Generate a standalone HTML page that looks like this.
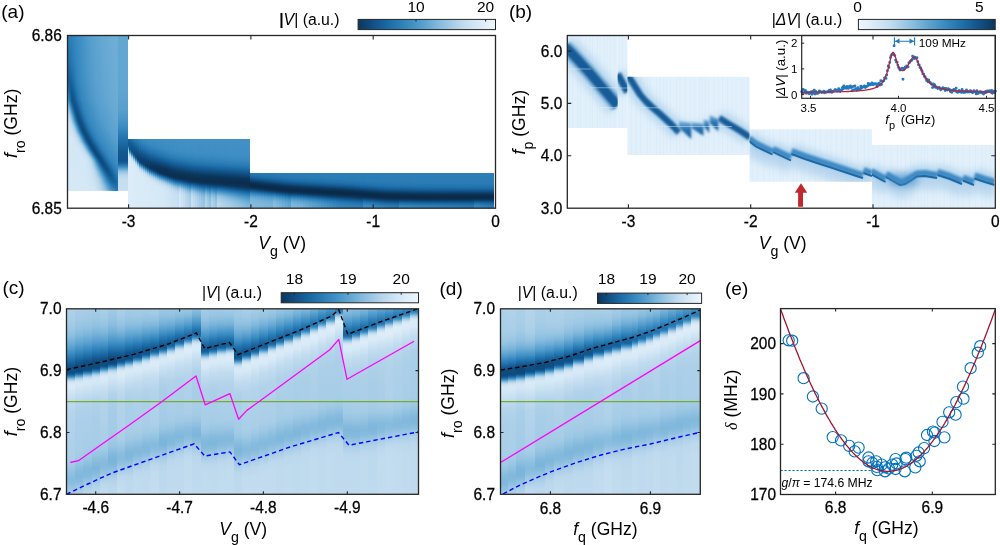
<!DOCTYPE html><html><head><meta charset="utf-8"><style>html,body{margin:0;padding:0;background:#fff;overflow:hidden}svg{display:block;will-change:transform}text.t{stroke:#000;stroke-width:0.28px}</style></head><body><svg width="1000" height="545" viewBox="0 0 1000 545" font-family='"Liberation Sans", sans-serif' fill="#000"><defs><linearGradient id="g1" x1="0" y1="0" x2="0" y2="1"><stop offset="0.0000" stop-color="#2a7cb5"/><stop offset="0.2194" stop-color="#1c6aa4"/><stop offset="0.2839" stop-color="#1d6ba6"/><stop offset="0.3097" stop-color="#2172ad"/><stop offset="0.3677" stop-color="#3a8cc2"/><stop offset="0.4194" stop-color="#60a4d1"/><stop offset="0.4516" stop-color="#92c2e1"/><stop offset="0.4774" stop-color="#afd1e9"/><stop offset="0.4968" stop-color="#bed9ee"/><stop offset="0.5355" stop-color="#cce2f3"/><stop offset="0.5806" stop-color="#d2e6f5"/><stop offset="0.6323" stop-color="#d4e8f6"/><stop offset="1.0000" stop-color="#d5e8f6"/></linearGradient><linearGradient id="g2" x1="0" y1="0" x2="0" y2="1"><stop offset="0.0000" stop-color="#2b7cb5"/><stop offset="0.1419" stop-color="#2071ac"/><stop offset="0.2645" stop-color="#19639d"/><stop offset="0.2903" stop-color="#18639d"/><stop offset="0.3226" stop-color="#1c6ba5"/><stop offset="0.3742" stop-color="#2d7fb7"/><stop offset="0.4000" stop-color="#398bc2"/><stop offset="0.4194" stop-color="#4795c7"/><stop offset="0.4645" stop-color="#8ebfe0"/><stop offset="0.4839" stop-color="#a5cce7"/><stop offset="0.5097" stop-color="#bdd8ed"/><stop offset="0.5355" stop-color="#c7dff1"/><stop offset="0.5806" stop-color="#d1e5f4"/><stop offset="0.6323" stop-color="#d4e8f6"/><stop offset="1.0000" stop-color="#d5e8f6"/></linearGradient><linearGradient id="g3" x1="0" y1="0" x2="0" y2="1"><stop offset="0.0000" stop-color="#2c7eb6"/><stop offset="0.1613" stop-color="#2071ac"/><stop offset="0.2968" stop-color="#155e97"/><stop offset="0.3290" stop-color="#166099"/><stop offset="0.3613" stop-color="#1b67a1"/><stop offset="0.3871" stop-color="#2071ac"/><stop offset="0.4194" stop-color="#2e7fb8"/><stop offset="0.4323" stop-color="#398bc1"/><stop offset="0.4839" stop-color="#8bbedf"/><stop offset="0.5097" stop-color="#aacfe8"/><stop offset="0.5290" stop-color="#bcd8ed"/><stop offset="0.5742" stop-color="#cde3f3"/><stop offset="0.6516" stop-color="#d4e8f6"/><stop offset="1.0000" stop-color="#d5e8f6"/></linearGradient><linearGradient id="g4" x1="0" y1="0" x2="0" y2="1"><stop offset="0.0000" stop-color="#2d7fb7"/><stop offset="0.1613" stop-color="#2374ae"/><stop offset="0.3290" stop-color="#145b93"/><stop offset="0.3613" stop-color="#145b94"/><stop offset="0.3935" stop-color="#18629b"/><stop offset="0.4194" stop-color="#1d6ba6"/><stop offset="0.4387" stop-color="#2b7cb5"/><stop offset="0.4581" stop-color="#4090c4"/><stop offset="0.5097" stop-color="#92c2e1"/><stop offset="0.5290" stop-color="#a8cee7"/><stop offset="0.5548" stop-color="#bdd9ed"/><stop offset="0.5871" stop-color="#cce2f3"/><stop offset="0.6645" stop-color="#d4e8f6"/><stop offset="1.0000" stop-color="#d5e8f6"/></linearGradient><linearGradient id="g5" x1="0" y1="0" x2="0" y2="1"><stop offset="0.0000" stop-color="#2f80b8"/><stop offset="0.1613" stop-color="#2677b1"/><stop offset="0.2129" stop-color="#2071ac"/><stop offset="0.3613" stop-color="#125890"/><stop offset="0.4129" stop-color="#135a92"/><stop offset="0.4258" stop-color="#165f99"/><stop offset="0.4452" stop-color="#1f6fa9"/><stop offset="0.4710" stop-color="#3587be"/><stop offset="0.4774" stop-color="#3d8ec3"/><stop offset="0.5355" stop-color="#98c5e3"/><stop offset="0.5677" stop-color="#bad7ec"/><stop offset="0.6000" stop-color="#cbe1f2"/><stop offset="0.6645" stop-color="#d4e7f6"/><stop offset="1.0000" stop-color="#d5e8f6"/></linearGradient><linearGradient id="g6" x1="0" y1="0" x2="0" y2="1"><stop offset="0.0000" stop-color="#3082ba"/><stop offset="0.1548" stop-color="#2a7bb5"/><stop offset="0.2194" stop-color="#2374af"/><stop offset="0.2839" stop-color="#1d6ba5"/><stop offset="0.3806" stop-color="#12578f"/><stop offset="0.4129" stop-color="#10538b"/><stop offset="0.4258" stop-color="#11558d"/><stop offset="0.4452" stop-color="#155e97"/><stop offset="0.4645" stop-color="#1d6ca7"/><stop offset="0.4968" stop-color="#3a8cc2"/><stop offset="0.5355" stop-color="#78b3d9"/><stop offset="0.5742" stop-color="#afd1e9"/><stop offset="0.5871" stop-color="#bdd8ed"/><stop offset="0.6065" stop-color="#c6dff1"/><stop offset="0.6387" stop-color="#d0e5f4"/><stop offset="0.6710" stop-color="#d4e7f5"/><stop offset="1.0000" stop-color="#d5e8f6"/></linearGradient><linearGradient id="g7" x1="0" y1="0" x2="0" y2="1"><stop offset="0.0000" stop-color="#3283bb"/><stop offset="0.1548" stop-color="#2d7fb7"/><stop offset="0.2516" stop-color="#2475b0"/><stop offset="0.2903" stop-color="#1f70ab"/><stop offset="0.4258" stop-color="#10528a"/><stop offset="0.4516" stop-color="#11568e"/><stop offset="0.4710" stop-color="#176099"/><stop offset="0.4903" stop-color="#2070ab"/><stop offset="0.5161" stop-color="#388ac0"/><stop offset="0.5484" stop-color="#67a9d3"/><stop offset="0.5677" stop-color="#8ebfe0"/><stop offset="0.5935" stop-color="#b3d3ea"/><stop offset="0.6065" stop-color="#bed9ee"/><stop offset="0.6387" stop-color="#cce3f3"/><stop offset="0.6645" stop-color="#d2e6f5"/><stop offset="0.7097" stop-color="#d4e8f6"/><stop offset="1.0000" stop-color="#d5e8f6"/></linearGradient><linearGradient id="g8" x1="0" y1="0" x2="0" y2="1"><stop offset="0.0000" stop-color="#3385bc"/><stop offset="0.1613" stop-color="#3081b9"/><stop offset="0.2839" stop-color="#2677b1"/><stop offset="0.3226" stop-color="#1f6faa"/><stop offset="0.4452" stop-color="#105288"/><stop offset="0.4581" stop-color="#105187"/><stop offset="0.4710" stop-color="#10548c"/><stop offset="0.4903" stop-color="#165e97"/><stop offset="0.5097" stop-color="#1e6ea9"/><stop offset="0.5419" stop-color="#3c8ec3"/><stop offset="0.5548" stop-color="#519bcb"/><stop offset="0.5871" stop-color="#93c3e1"/><stop offset="0.6000" stop-color="#a6cde7"/><stop offset="0.6258" stop-color="#bfdaee"/><stop offset="0.6452" stop-color="#cae1f2"/><stop offset="0.6645" stop-color="#d0e5f4"/><stop offset="0.7097" stop-color="#d4e7f6"/><stop offset="1.0000" stop-color="#d5e8f6"/></linearGradient><linearGradient id="g9" x1="0" y1="0" x2="0" y2="1"><stop offset="0.0000" stop-color="#3587be"/><stop offset="0.1613" stop-color="#3284bc"/><stop offset="0.2839" stop-color="#2b7cb5"/><stop offset="0.3548" stop-color="#1f6faa"/><stop offset="0.4645" stop-color="#105187"/><stop offset="0.4774" stop-color="#0f5086"/><stop offset="0.4968" stop-color="#11558d"/><stop offset="0.5290" stop-color="#1d6ca6"/><stop offset="0.5484" stop-color="#2c7eb7"/><stop offset="0.5613" stop-color="#3d8ec3"/><stop offset="0.6000" stop-color="#8dbfdf"/><stop offset="0.6065" stop-color="#96c4e2"/><stop offset="0.6323" stop-color="#bad7ec"/><stop offset="0.6581" stop-color="#cae1f2"/><stop offset="0.7226" stop-color="#d4e8f6"/><stop offset="1.0000" stop-color="#d5e8f6"/></linearGradient><linearGradient id="g10" x1="0" y1="0" x2="0" y2="1"><stop offset="0.0000" stop-color="#3789bf"/><stop offset="0.1613" stop-color="#3586bd"/><stop offset="0.2903" stop-color="#2e80b8"/><stop offset="0.3806" stop-color="#2071ac"/><stop offset="0.4129" stop-color="#1b68a3"/><stop offset="0.4516" stop-color="#125891"/><stop offset="0.4839" stop-color="#0f5085"/><stop offset="0.5032" stop-color="#0f5085"/><stop offset="0.5161" stop-color="#10538b"/><stop offset="0.5419" stop-color="#19649d"/><stop offset="0.5548" stop-color="#2071ac"/><stop offset="0.5613" stop-color="#2779b2"/><stop offset="0.5806" stop-color="#4392c6"/><stop offset="0.6000" stop-color="#6aabd5"/><stop offset="0.6323" stop-color="#a7cde7"/><stop offset="0.6452" stop-color="#bad7ec"/><stop offset="0.6645" stop-color="#c7dff1"/><stop offset="0.6968" stop-color="#d1e5f4"/><stop offset="0.7290" stop-color="#d4e7f6"/><stop offset="1.0000" stop-color="#d5e8f6"/></linearGradient><linearGradient id="g11" x1="0" y1="0" x2="0" y2="1"><stop offset="0.0000" stop-color="#388ac1"/><stop offset="0.1935" stop-color="#3688be"/><stop offset="0.3226" stop-color="#2e80b8"/><stop offset="0.4129" stop-color="#2071ac"/><stop offset="0.4710" stop-color="#125891"/><stop offset="0.5097" stop-color="#0f4e83"/><stop offset="0.5226" stop-color="#0f4e83"/><stop offset="0.5419" stop-color="#10558d"/><stop offset="0.5548" stop-color="#165e97"/><stop offset="0.5677" stop-color="#1d6ca7"/><stop offset="0.5935" stop-color="#3c8dc3"/><stop offset="0.6129" stop-color="#5fa4d1"/><stop offset="0.6387" stop-color="#9cc7e4"/><stop offset="0.6581" stop-color="#bad7ec"/><stop offset="0.6903" stop-color="#cbe2f2"/><stop offset="0.7161" stop-color="#d2e6f5"/><stop offset="0.7484" stop-color="#d4e8f6"/><stop offset="1.0000" stop-color="#d5e8f6"/></linearGradient><linearGradient id="g12" x1="0" y1="0" x2="0" y2="1"><stop offset="0.0000" stop-color="#3a8cc2"/><stop offset="0.2774" stop-color="#3587be"/><stop offset="0.3677" stop-color="#2d7fb7"/><stop offset="0.4129" stop-color="#2677b1"/><stop offset="0.4323" stop-color="#2070ab"/><stop offset="0.4968" stop-color="#11558e"/><stop offset="0.5226" stop-color="#0f4e83"/><stop offset="0.5419" stop-color="#0f4d81"/><stop offset="0.5548" stop-color="#105188"/><stop offset="0.5677" stop-color="#145a93"/><stop offset="0.5871" stop-color="#1f70aa"/><stop offset="0.6065" stop-color="#3688bf"/><stop offset="0.6129" stop-color="#3f90c4"/><stop offset="0.6452" stop-color="#8fc0e0"/><stop offset="0.6581" stop-color="#a7cde7"/><stop offset="0.6710" stop-color="#b8d6ec"/><stop offset="0.6968" stop-color="#c9e1f2"/><stop offset="0.7226" stop-color="#d1e6f5"/><stop offset="0.7548" stop-color="#d4e7f6"/><stop offset="1.0000" stop-color="#d5e8f6"/></linearGradient><linearGradient id="g13" x1="0" y1="0" x2="0" y2="1"><stop offset="0.0000" stop-color="#3d8ec3"/><stop offset="0.2774" stop-color="#3789c0"/><stop offset="0.3935" stop-color="#2e80b8"/><stop offset="0.4516" stop-color="#2070ab"/><stop offset="0.5161" stop-color="#11558d"/><stop offset="0.5484" stop-color="#0f4c80"/><stop offset="0.5613" stop-color="#0f4d80"/><stop offset="0.5742" stop-color="#105289"/><stop offset="0.6000" stop-color="#1d6ba5"/><stop offset="0.6129" stop-color="#297ab4"/><stop offset="0.6258" stop-color="#3e8ec4"/><stop offset="0.6516" stop-color="#7fb7db"/><stop offset="0.6645" stop-color="#9cc7e4"/><stop offset="0.6903" stop-color="#bed9ee"/><stop offset="0.7097" stop-color="#cae1f2"/><stop offset="0.7290" stop-color="#d1e5f4"/><stop offset="0.7677" stop-color="#d4e8f6"/><stop offset="1.0000" stop-color="#d5e8f6"/></linearGradient><linearGradient id="g14" x1="0" y1="0" x2="0" y2="1"><stop offset="0.0000" stop-color="#3f8fc4"/><stop offset="0.2774" stop-color="#398bc1"/><stop offset="0.4065" stop-color="#3182ba"/><stop offset="0.4710" stop-color="#2071ac"/><stop offset="0.5355" stop-color="#10558d"/><stop offset="0.5613" stop-color="#0f4c80"/><stop offset="0.5806" stop-color="#0f4d80"/><stop offset="0.5935" stop-color="#10548c"/><stop offset="0.6129" stop-color="#1a66a0"/><stop offset="0.6258" stop-color="#2879b3"/><stop offset="0.6387" stop-color="#3e8ec3"/><stop offset="0.6710" stop-color="#8cbfdf"/><stop offset="0.6968" stop-color="#b9d6ec"/><stop offset="0.7161" stop-color="#c8e0f1"/><stop offset="0.7355" stop-color="#cfe4f4"/><stop offset="0.7742" stop-color="#d4e7f6"/><stop offset="1.0000" stop-color="#d5e8f6"/></linearGradient><linearGradient id="g15" x1="0" y1="0" x2="0" y2="1"><stop offset="0.0000" stop-color="#4291c5"/><stop offset="0.2774" stop-color="#3c8dc3"/><stop offset="0.4129" stop-color="#3385bc"/><stop offset="0.4903" stop-color="#2071ac"/><stop offset="0.5548" stop-color="#10538b"/><stop offset="0.5806" stop-color="#0f4b7d"/><stop offset="0.5935" stop-color="#0f4b7e"/><stop offset="0.6065" stop-color="#105187"/><stop offset="0.6258" stop-color="#1a659f"/><stop offset="0.6387" stop-color="#2879b3"/><stop offset="0.6516" stop-color="#3e8ec3"/><stop offset="0.6645" stop-color="#5da3d0"/><stop offset="0.6968" stop-color="#a7cde7"/><stop offset="0.7097" stop-color="#bcd8ed"/><stop offset="0.7290" stop-color="#c9e1f2"/><stop offset="0.7806" stop-color="#d4e7f6"/><stop offset="1.0000" stop-color="#d5e8f6"/></linearGradient><linearGradient id="g16" x1="0" y1="0" x2="0" y2="1"><stop offset="0.0000" stop-color="#4493c6"/><stop offset="0.2774" stop-color="#3e8fc4"/><stop offset="0.4129" stop-color="#3688bf"/><stop offset="0.4645" stop-color="#2d7fb7"/><stop offset="0.5097" stop-color="#2071ac"/><stop offset="0.5677" stop-color="#10548c"/><stop offset="0.5935" stop-color="#0f4b7d"/><stop offset="0.6065" stop-color="#0f4a7c"/><stop offset="0.6194" stop-color="#0f4f85"/><stop offset="0.6323" stop-color="#155d95"/><stop offset="0.6452" stop-color="#1f6faa"/><stop offset="0.6581" stop-color="#3284bb"/><stop offset="0.6774" stop-color="#59a0ce"/><stop offset="0.6968" stop-color="#90c1e0"/><stop offset="0.7097" stop-color="#abcfe8"/><stop offset="0.7226" stop-color="#bed9ee"/><stop offset="0.7355" stop-color="#c7dff1"/><stop offset="0.7613" stop-color="#d0e5f4"/><stop offset="0.7871" stop-color="#d4e7f5"/><stop offset="1.0000" stop-color="#d5e8f6"/></linearGradient><linearGradient id="g17" x1="0" y1="0" x2="0" y2="1"><stop offset="0.0000" stop-color="#4794c7"/><stop offset="0.2774" stop-color="#4190c5"/><stop offset="0.4129" stop-color="#388ac0"/><stop offset="0.4774" stop-color="#2f80b9"/><stop offset="0.5290" stop-color="#2071ac"/><stop offset="0.5806" stop-color="#10558d"/><stop offset="0.6129" stop-color="#0f497b"/><stop offset="0.6258" stop-color="#0f4b7e"/><stop offset="0.6323" stop-color="#0f4f84"/><stop offset="0.6452" stop-color="#155c95"/><stop offset="0.6581" stop-color="#1f6faa"/><stop offset="0.6774" stop-color="#3a8cc2"/><stop offset="0.7032" stop-color="#84badc"/><stop offset="0.7161" stop-color="#a2cbe6"/><stop offset="0.7290" stop-color="#b9d6ec"/><stop offset="0.7548" stop-color="#cbe1f2"/><stop offset="0.8000" stop-color="#d4e7f6"/><stop offset="1.0000" stop-color="#d5e8f6"/></linearGradient><linearGradient id="g18" x1="0" y1="0" x2="0" y2="1"><stop offset="0.0000" stop-color="#4996c8"/><stop offset="0.2839" stop-color="#4392c6"/><stop offset="0.4581" stop-color="#3587be"/><stop offset="0.5032" stop-color="#2e7fb8"/><stop offset="0.5419" stop-color="#2374ae"/><stop offset="0.5935" stop-color="#11568e"/><stop offset="0.6194" stop-color="#0f4a7c"/><stop offset="0.6323" stop-color="#0f497b"/><stop offset="0.6452" stop-color="#0f4f84"/><stop offset="0.6581" stop-color="#155c95"/><stop offset="0.6774" stop-color="#2677b1"/><stop offset="0.6903" stop-color="#3e8fc4"/><stop offset="0.7161" stop-color="#8abdde"/><stop offset="0.7290" stop-color="#a7cde7"/><stop offset="0.7419" stop-color="#bad7ec"/><stop offset="0.7613" stop-color="#c9e0f2"/><stop offset="0.8000" stop-color="#d3e7f5"/><stop offset="1.0000" stop-color="#d5e8f6"/></linearGradient><linearGradient id="g19" x1="0" y1="0" x2="0" y2="1"><stop offset="0.0000" stop-color="#4b97c9"/><stop offset="0.2839" stop-color="#4593c7"/><stop offset="0.4065" stop-color="#3d8ec3"/><stop offset="0.4774" stop-color="#3587be"/><stop offset="0.5355" stop-color="#2b7cb5"/><stop offset="0.5613" stop-color="#2071ac"/><stop offset="0.6129" stop-color="#10538a"/><stop offset="0.6323" stop-color="#0f4a7c"/><stop offset="0.6452" stop-color="#0f497a"/><stop offset="0.6581" stop-color="#0f4f84"/><stop offset="0.6774" stop-color="#19649e"/><stop offset="0.6903" stop-color="#297ab4"/><stop offset="0.7032" stop-color="#4493c6"/><stop offset="0.7290" stop-color="#8fc0e0"/><stop offset="0.7355" stop-color="#9dc8e4"/><stop offset="0.7548" stop-color="#bdd8ed"/><stop offset="0.7677" stop-color="#c7dff1"/><stop offset="0.7871" stop-color="#cfe4f4"/><stop offset="0.8065" stop-color="#d3e7f5"/><stop offset="1.0000" stop-color="#d5e8f6"/></linearGradient><linearGradient id="g20" x1="0" y1="0" x2="0" y2="1"><stop offset="0.0000" stop-color="#4d99ca"/><stop offset="0.2839" stop-color="#4895c7"/><stop offset="0.4129" stop-color="#3f8fc4"/><stop offset="0.4968" stop-color="#3587be"/><stop offset="0.5419" stop-color="#2e7fb8"/><stop offset="0.5742" stop-color="#2273ad"/><stop offset="0.6194" stop-color="#11568f"/><stop offset="0.6452" stop-color="#0f4a7c"/><stop offset="0.6581" stop-color="#0e497a"/><stop offset="0.6710" stop-color="#0f4f83"/><stop offset="0.6839" stop-color="#155d96"/><stop offset="0.6968" stop-color="#2273ad"/><stop offset="0.7097" stop-color="#398bc1"/><stop offset="0.7226" stop-color="#5ca2d0"/><stop offset="0.7355" stop-color="#82b9dc"/><stop offset="0.7548" stop-color="#add0e9"/><stop offset="0.7677" stop-color="#bfdaee"/><stop offset="0.7806" stop-color="#c9e0f2"/><stop offset="0.8065" stop-color="#d1e6f5"/><stop offset="1.0000" stop-color="#d4e8f6"/></linearGradient><linearGradient id="g21" x1="0" y1="0" x2="0" y2="1"><stop offset="0.0000" stop-color="#509acb"/><stop offset="0.2839" stop-color="#4a96c8"/><stop offset="0.4065" stop-color="#4291c5"/><stop offset="0.5161" stop-color="#3587be"/><stop offset="0.5484" stop-color="#3082ba"/><stop offset="0.5935" stop-color="#2071ac"/><stop offset="0.6323" stop-color="#11568f"/><stop offset="0.6581" stop-color="#0f4a7c"/><stop offset="0.6710" stop-color="#0e497a"/><stop offset="0.6839" stop-color="#0f4f85"/><stop offset="0.6968" stop-color="#176099"/><stop offset="0.7097" stop-color="#2576b0"/><stop offset="0.7226" stop-color="#3e8fc4"/><stop offset="0.7484" stop-color="#87bbdd"/><stop offset="0.7613" stop-color="#a6cce7"/><stop offset="0.7742" stop-color="#bcd8ed"/><stop offset="0.7871" stop-color="#c7dff1"/><stop offset="0.8000" stop-color="#cde3f3"/><stop offset="0.8258" stop-color="#d0e5f4"/><stop offset="1.0000" stop-color="#d4e8f6"/></linearGradient><linearGradient id="g22" x1="0" y1="0" x2="0" y2="1"><stop offset="0.0000" stop-color="#529bcb"/><stop offset="0.2839" stop-color="#4c98c9"/><stop offset="0.4065" stop-color="#4593c6"/><stop offset="0.5290" stop-color="#3688bf"/><stop offset="0.5742" stop-color="#2d7fb7"/><stop offset="0.6065" stop-color="#2172ad"/><stop offset="0.6452" stop-color="#11568e"/><stop offset="0.6710" stop-color="#0f4a7b"/><stop offset="0.6839" stop-color="#0e497a"/><stop offset="0.6968" stop-color="#105288"/><stop offset="0.7161" stop-color="#1f6ea9"/><stop offset="0.7290" stop-color="#3586bd"/><stop offset="0.7419" stop-color="#549dcc"/><stop offset="0.7613" stop-color="#8fc0e0"/><stop offset="0.7677" stop-color="#9fc9e5"/><stop offset="0.7806" stop-color="#b7d6ec"/><stop offset="0.7935" stop-color="#c4ddf0"/><stop offset="0.8065" stop-color="#cbe1f2"/><stop offset="0.8452" stop-color="#cfe4f4"/><stop offset="1.0000" stop-color="#d4e8f6"/></linearGradient><linearGradient id="g23" x1="0" y1="0" x2="0" y2="1"><stop offset="0.0000" stop-color="#539dcc"/><stop offset="0.2839" stop-color="#4e99ca"/><stop offset="0.4065" stop-color="#4795c7"/><stop offset="0.5419" stop-color="#3789c0"/><stop offset="0.5871" stop-color="#2e7fb8"/><stop offset="0.6129" stop-color="#2475af"/><stop offset="0.6581" stop-color="#11568e"/><stop offset="0.6839" stop-color="#0f497a"/><stop offset="0.6968" stop-color="#0f497b"/><stop offset="0.7032" stop-color="#0f4d81"/><stop offset="0.7097" stop-color="#10548c"/><stop offset="0.7226" stop-color="#1a67a1"/><stop offset="0.7290" stop-color="#2172ad"/><stop offset="0.7419" stop-color="#3789c0"/><stop offset="0.7742" stop-color="#97c4e2"/><stop offset="0.7871" stop-color="#b2d3ea"/><stop offset="0.8000" stop-color="#c2dcef"/><stop offset="0.8258" stop-color="#cae1f2"/><stop offset="0.8710" stop-color="#cfe4f4"/><stop offset="1.0000" stop-color="#d4e7f6"/></linearGradient><linearGradient id="g24" x1="0" y1="0" x2="0" y2="1"><stop offset="0.0000" stop-color="#559ecd"/><stop offset="0.2839" stop-color="#509bcb"/><stop offset="0.4065" stop-color="#4996c8"/><stop offset="0.5419" stop-color="#398bc1"/><stop offset="0.6000" stop-color="#2f80b8"/><stop offset="0.6258" stop-color="#2374af"/><stop offset="0.6710" stop-color="#11568e"/><stop offset="0.6839" stop-color="#0f4d81"/><stop offset="0.6968" stop-color="#0e4879"/><stop offset="0.7097" stop-color="#0f4a7c"/><stop offset="0.7161" stop-color="#0f4f84"/><stop offset="0.7355" stop-color="#1c6aa4"/><stop offset="0.7484" stop-color="#3082b9"/><stop offset="0.7548" stop-color="#3e8fc4"/><stop offset="0.7806" stop-color="#8ec0e0"/><stop offset="0.7871" stop-color="#9ec8e4"/><stop offset="0.8000" stop-color="#b7d5ec"/><stop offset="0.8065" stop-color="#bdd9ed"/><stop offset="0.8323" stop-color="#c6def1"/><stop offset="0.8774" stop-color="#cee3f3"/><stop offset="1.0000" stop-color="#d4e7f5"/></linearGradient><linearGradient id="g25" x1="0" y1="0" x2="0" y2="1"><stop offset="0.0000" stop-color="#579fce"/><stop offset="0.2839" stop-color="#529ccc"/><stop offset="0.4065" stop-color="#4c98c9"/><stop offset="0.5484" stop-color="#3a8cc2"/><stop offset="0.6000" stop-color="#3284bc"/><stop offset="0.6387" stop-color="#2374af"/><stop offset="0.6839" stop-color="#10548b"/><stop offset="0.6968" stop-color="#0f4c7f"/><stop offset="0.7097" stop-color="#0e4879"/><stop offset="0.7161" stop-color="#0e4879"/><stop offset="0.7290" stop-color="#105187"/><stop offset="0.7419" stop-color="#18629c"/><stop offset="0.7548" stop-color="#297bb4"/><stop offset="0.7613" stop-color="#3688be"/><stop offset="0.7742" stop-color="#5aa1cf"/><stop offset="0.7871" stop-color="#84badd"/><stop offset="0.8000" stop-color="#a5cce6"/><stop offset="0.8065" stop-color="#aed1e9"/><stop offset="0.8194" stop-color="#b9d7ec"/><stop offset="0.8387" stop-color="#c2dcef"/><stop offset="0.8774" stop-color="#cbe2f2"/><stop offset="1.0000" stop-color="#d3e7f5"/></linearGradient><linearGradient id="g26" x1="0" y1="0" x2="0" y2="1"><stop offset="0.0000" stop-color="#59a0ce"/><stop offset="0.2774" stop-color="#559dcd"/><stop offset="0.4065" stop-color="#4e99ca"/><stop offset="0.5806" stop-color="#388ac0"/><stop offset="0.6258" stop-color="#2e80b8"/><stop offset="0.6581" stop-color="#2071ac"/><stop offset="0.6903" stop-color="#12578f"/><stop offset="0.7161" stop-color="#0e4879"/><stop offset="0.7290" stop-color="#0f497a"/><stop offset="0.7355" stop-color="#0f4d80"/><stop offset="0.7484" stop-color="#155c95"/><stop offset="0.7613" stop-color="#2374ae"/><stop offset="0.7742" stop-color="#3d8ec3"/><stop offset="0.7871" stop-color="#64a7d3"/><stop offset="0.8000" stop-color="#8dbfe0"/><stop offset="0.8065" stop-color="#9ac6e3"/><stop offset="0.8323" stop-color="#b4d4eb"/><stop offset="0.8452" stop-color="#bdd8ed"/><stop offset="0.8774" stop-color="#c7dff1"/><stop offset="0.9226" stop-color="#cee4f3"/><stop offset="1.0000" stop-color="#d3e7f5"/></linearGradient><linearGradient id="g27" x1="0" y1="0" x2="0" y2="1"><stop offset="0.0000" stop-color="#5aa1cf"/><stop offset="0.2774" stop-color="#569ecd"/><stop offset="0.4065" stop-color="#509acb"/><stop offset="0.5935" stop-color="#388ac1"/><stop offset="0.6323" stop-color="#3082ba"/><stop offset="0.6645" stop-color="#2374af"/><stop offset="0.7032" stop-color="#11558d"/><stop offset="0.7161" stop-color="#0f4c80"/><stop offset="0.7290" stop-color="#0e4878"/><stop offset="0.7419" stop-color="#0f4a7c"/><stop offset="0.7484" stop-color="#0f4f84"/><stop offset="0.7613" stop-color="#17619a"/><stop offset="0.7742" stop-color="#287ab3"/><stop offset="0.7871" stop-color="#4694c7"/><stop offset="0.8000" stop-color="#6fadd6"/><stop offset="0.8065" stop-color="#80b7db"/><stop offset="0.8194" stop-color="#95c4e2"/><stop offset="0.8452" stop-color="#b0d2ea"/><stop offset="0.8710" stop-color="#c0daee"/><stop offset="0.9161" stop-color="#cbe1f2"/><stop offset="1.0000" stop-color="#d2e6f5"/></linearGradient><linearGradient id="g28" x1="0" y1="0" x2="0" y2="1"><stop offset="0.0000" stop-color="#5ca2d0"/><stop offset="0.2774" stop-color="#589fce"/><stop offset="0.4065" stop-color="#529ccc"/><stop offset="0.6000" stop-color="#398bc1"/><stop offset="0.6645" stop-color="#297ab4"/><stop offset="0.6774" stop-color="#2172ad"/><stop offset="0.7097" stop-color="#125891"/><stop offset="0.7355" stop-color="#0e497a"/><stop offset="0.7484" stop-color="#0e4879"/><stop offset="0.7548" stop-color="#0f4c7f"/><stop offset="0.7677" stop-color="#145b94"/><stop offset="0.7806" stop-color="#2273ae"/><stop offset="0.7935" stop-color="#3c8dc3"/><stop offset="0.8065" stop-color="#60a5d1"/><stop offset="0.8194" stop-color="#7bb5da"/><stop offset="0.8323" stop-color="#91c1e1"/><stop offset="0.8710" stop-color="#b7d5ec"/><stop offset="0.9161" stop-color="#c7dff1"/><stop offset="1.0000" stop-color="#d1e6f5"/></linearGradient><linearGradient id="g29" x1="0" y1="0" x2="0" y2="1"><stop offset="0.0000" stop-color="#5da3d0"/><stop offset="0.2774" stop-color="#5aa1cf"/><stop offset="0.4065" stop-color="#549dcc"/><stop offset="0.5355" stop-color="#4694c7"/><stop offset="0.6065" stop-color="#3a8cc2"/><stop offset="0.6516" stop-color="#3283bb"/><stop offset="0.6774" stop-color="#2879b2"/><stop offset="0.6903" stop-color="#2070ab"/><stop offset="0.7226" stop-color="#11568f"/><stop offset="0.7484" stop-color="#0e4878"/><stop offset="0.7613" stop-color="#0f497b"/><stop offset="0.7677" stop-color="#0f4e83"/><stop offset="0.7742" stop-color="#11568e"/><stop offset="0.7871" stop-color="#1e6da7"/><stop offset="0.8065" stop-color="#4392c6"/><stop offset="0.8323" stop-color="#77b2d9"/><stop offset="0.8452" stop-color="#8cbfdf"/><stop offset="0.8774" stop-color="#afd1e9"/><stop offset="0.9161" stop-color="#c3dcef"/><stop offset="1.0000" stop-color="#d0e5f4"/></linearGradient><linearGradient id="g30" x1="0" y1="0" x2="0" y2="1"><stop offset="0.0000" stop-color="#5fa4d1"/><stop offset="0.2774" stop-color="#5ba2cf"/><stop offset="0.4065" stop-color="#569ecd"/><stop offset="0.5355" stop-color="#4895c8"/><stop offset="0.6065" stop-color="#3d8ec3"/><stop offset="0.6581" stop-color="#3385bc"/><stop offset="0.6774" stop-color="#2d7eb7"/><stop offset="0.7032" stop-color="#1f6faa"/><stop offset="0.7355" stop-color="#10548d"/><stop offset="0.7548" stop-color="#0e497a"/><stop offset="0.7677" stop-color="#0e4878"/><stop offset="0.7742" stop-color="#0f4b7e"/><stop offset="0.7806" stop-color="#105289"/><stop offset="0.7935" stop-color="#1a67a1"/><stop offset="0.8000" stop-color="#2273ae"/><stop offset="0.8129" stop-color="#3788bf"/><stop offset="0.8516" stop-color="#7eb7db"/><stop offset="0.8774" stop-color="#a1cae5"/><stop offset="0.9161" stop-color="#bed9ee"/><stop offset="0.9935" stop-color="#cbe2f2"/><stop offset="1.0000" stop-color="#cfe4f4"/></linearGradient><linearGradient id="g31" x1="0" y1="0" x2="0" y2="1"><stop offset="0.0000" stop-color="#60a5d1"/><stop offset="0.2774" stop-color="#5da2d0"/><stop offset="0.4065" stop-color="#579fce"/><stop offset="0.5355" stop-color="#4a97c9"/><stop offset="0.6323" stop-color="#3a8cc2"/><stop offset="0.6710" stop-color="#3385bc"/><stop offset="0.7032" stop-color="#2576b0"/><stop offset="0.7161" stop-color="#1e6da8"/><stop offset="0.7419" stop-color="#12578f"/><stop offset="0.7613" stop-color="#0f4a7c"/><stop offset="0.7742" stop-color="#0e4777"/><stop offset="0.7806" stop-color="#0f497b"/><stop offset="0.7935" stop-color="#12578f"/><stop offset="0.8129" stop-color="#2576b0"/><stop offset="0.8258" stop-color="#3789bf"/><stop offset="0.8387" stop-color="#4f99ca"/><stop offset="0.8774" stop-color="#91c1e1"/><stop offset="0.9226" stop-color="#b9d6ec"/><stop offset="0.9613" stop-color="#c4ddf0"/><stop offset="0.9935" stop-color="#c8e0f1"/><stop offset="1.0000" stop-color="#cde3f3"/></linearGradient><linearGradient id="g32" x1="0" y1="0" x2="0" y2="1"><stop offset="0.0000" stop-color="#61a5d2"/><stop offset="0.4065" stop-color="#59a0ce"/><stop offset="0.5355" stop-color="#4d98c9"/><stop offset="0.6452" stop-color="#3a8cc2"/><stop offset="0.6774" stop-color="#3485bd"/><stop offset="0.7161" stop-color="#2375af"/><stop offset="0.7548" stop-color="#10548d"/><stop offset="0.7742" stop-color="#0e497a"/><stop offset="0.7871" stop-color="#0e497a"/><stop offset="0.7935" stop-color="#0f4c80"/><stop offset="0.8000" stop-color="#10538a"/><stop offset="0.8194" stop-color="#1e6ea9"/><stop offset="0.8387" stop-color="#3789c0"/><stop offset="0.8774" stop-color="#7bb5da"/><stop offset="0.8903" stop-color="#8dbfdf"/><stop offset="0.9226" stop-color="#aed1e9"/><stop offset="0.9613" stop-color="#bfdaee"/><stop offset="0.9935" stop-color="#c5def0"/><stop offset="1.0000" stop-color="#cae1f2"/></linearGradient><linearGradient id="g33" x1="0" y1="0" x2="0" y2="1"><stop offset="0.0000" stop-color="#62a6d2"/><stop offset="0.4065" stop-color="#5aa1cf"/><stop offset="0.5355" stop-color="#4f99ca"/><stop offset="0.6581" stop-color="#3a8cc2"/><stop offset="0.6968" stop-color="#3182ba"/><stop offset="0.7226" stop-color="#2677b1"/><stop offset="0.7355" stop-color="#1f6ea9"/><stop offset="0.7613" stop-color="#125790"/><stop offset="0.7806" stop-color="#0f4b7d"/><stop offset="0.7935" stop-color="#0e487a"/><stop offset="0.8000" stop-color="#0f4b7d"/><stop offset="0.8129" stop-color="#11568f"/><stop offset="0.8323" stop-color="#1f70ab"/><stop offset="0.8516" stop-color="#3889c0"/><stop offset="0.8774" stop-color="#64a7d3"/><stop offset="0.8968" stop-color="#82b8dc"/><stop offset="0.9226" stop-color="#a2cae5"/><stop offset="0.9613" stop-color="#b9d7ec"/><stop offset="0.9935" stop-color="#c1dbef"/><stop offset="1.0000" stop-color="#c8dff1"/></linearGradient><linearGradient id="g34" x1="0" y1="0" x2="0" y2="1"><stop offset="0.0000" stop-color="#63a7d2"/><stop offset="0.4065" stop-color="#5ca2d0"/><stop offset="0.5355" stop-color="#519bcb"/><stop offset="0.6645" stop-color="#3b8dc2"/><stop offset="0.7032" stop-color="#3284bb"/><stop offset="0.7290" stop-color="#2879b3"/><stop offset="0.7419" stop-color="#2071ac"/><stop offset="0.7742" stop-color="#10558d"/><stop offset="0.7935" stop-color="#0f4a7c"/><stop offset="0.8065" stop-color="#0f4a7c"/><stop offset="0.8129" stop-color="#0f4d81"/><stop offset="0.8258" stop-color="#135992"/><stop offset="0.8452" stop-color="#2172ad"/><stop offset="0.8645" stop-color="#388ac0"/><stop offset="0.8839" stop-color="#59a0ce"/><stop offset="0.9226" stop-color="#94c3e1"/><stop offset="0.9613" stop-color="#b0d2ea"/><stop offset="0.9935" stop-color="#bdd9ed"/><stop offset="1.0000" stop-color="#c4ddf0"/></linearGradient><linearGradient id="g35" x1="0" y1="0" x2="0" y2="1"><stop offset="0.0000" stop-color="#64a7d3"/><stop offset="0.4065" stop-color="#5da3d0"/><stop offset="0.5355" stop-color="#529ccc"/><stop offset="0.6645" stop-color="#3d8ec3"/><stop offset="0.7097" stop-color="#3385bc"/><stop offset="0.7355" stop-color="#2a7bb4"/><stop offset="0.7548" stop-color="#1e6ea9"/><stop offset="0.7806" stop-color="#125890"/><stop offset="0.8065" stop-color="#0f4a7d"/><stop offset="0.8194" stop-color="#0f4c7f"/><stop offset="0.8258" stop-color="#0f5085"/><stop offset="0.8387" stop-color="#145c95"/><stop offset="0.8581" stop-color="#2273ae"/><stop offset="0.8774" stop-color="#3a8cc2"/><stop offset="0.8903" stop-color="#4f99ca"/><stop offset="0.9226" stop-color="#82b9dc"/><stop offset="0.9613" stop-color="#a5cce7"/><stop offset="0.9935" stop-color="#b6d5eb"/><stop offset="1.0000" stop-color="#c0daee"/></linearGradient><linearGradient id="g36" x1="0" y1="0" x2="0" y2="1"><stop offset="0.0000" stop-color="#65a8d3"/><stop offset="0.4065" stop-color="#5fa4d1"/><stop offset="0.5355" stop-color="#549dcc"/><stop offset="0.6710" stop-color="#3e8fc4"/><stop offset="0.7161" stop-color="#3486bd"/><stop offset="0.7419" stop-color="#2b7db6"/><stop offset="0.7613" stop-color="#2071ac"/><stop offset="0.7935" stop-color="#11568f"/><stop offset="0.8129" stop-color="#0f4c7f"/><stop offset="0.8258" stop-color="#0f4b7e"/><stop offset="0.8323" stop-color="#0f4e82"/><stop offset="0.8452" stop-color="#125890"/><stop offset="0.8645" stop-color="#1e6ea8"/><stop offset="0.8903" stop-color="#3b8dc2"/><stop offset="0.9161" stop-color="#65a8d3"/><stop offset="0.9613" stop-color="#9ac6e3"/><stop offset="0.9935" stop-color="#add0e9"/><stop offset="1.0000" stop-color="#bad7ed"/></linearGradient><linearGradient id="g37" x1="0" y1="0" x2="0" y2="1"><stop offset="0.0000" stop-color="#66a9d3"/><stop offset="0.4065" stop-color="#60a5d1"/><stop offset="0.6000" stop-color="#4e99ca"/><stop offset="0.6968" stop-color="#3a8cc2"/><stop offset="0.7355" stop-color="#3284bb"/><stop offset="0.7677" stop-color="#2273ae"/><stop offset="0.8065" stop-color="#10558d"/><stop offset="0.8194" stop-color="#0f4e82"/><stop offset="0.8323" stop-color="#0f4b7e"/><stop offset="0.8452" stop-color="#0f5085"/><stop offset="0.8581" stop-color="#145a93"/><stop offset="0.8774" stop-color="#2071ac"/><stop offset="0.9032" stop-color="#3c8ec3"/><stop offset="0.9161" stop-color="#539ccc"/><stop offset="0.9677" stop-color="#93c2e1"/><stop offset="0.9935" stop-color="#a4cbe6"/><stop offset="1.0000" stop-color="#b2d3ea"/></linearGradient><linearGradient id="g38" x1="0" y1="0" x2="0" y2="1"><stop offset="0.0000" stop-color="#67a9d4"/><stop offset="0.4065" stop-color="#61a5d2"/><stop offset="0.5355" stop-color="#589fce"/><stop offset="0.6710" stop-color="#4392c5"/><stop offset="0.7290" stop-color="#3688bf"/><stop offset="0.7548" stop-color="#2e80b8"/><stop offset="0.7806" stop-color="#2071ac"/><stop offset="0.8194" stop-color="#10548b"/><stop offset="0.8323" stop-color="#0f4d82"/><stop offset="0.8452" stop-color="#0f4c80"/><stop offset="0.8516" stop-color="#0f4f83"/><stop offset="0.8645" stop-color="#125790"/><stop offset="0.8839" stop-color="#1d6ca7"/><stop offset="0.9032" stop-color="#3081b9"/><stop offset="0.9161" stop-color="#4190c5"/><stop offset="0.9484" stop-color="#68a9d4"/><stop offset="0.9677" stop-color="#84badc"/><stop offset="0.9935" stop-color="#99c6e3"/><stop offset="1.0000" stop-color="#a8cee7"/></linearGradient><linearGradient id="g39" x1="0" y1="0" x2="0" y2="1"><stop offset="0.0000" stop-color="#68aad4"/><stop offset="0.4129" stop-color="#62a6d2"/><stop offset="0.6000" stop-color="#519bcb"/><stop offset="0.7161" stop-color="#3a8cc2"/><stop offset="0.7548" stop-color="#3283bb"/><stop offset="0.7806" stop-color="#2778b2"/><stop offset="0.7935" stop-color="#1f6faa"/><stop offset="0.8194" stop-color="#145b94"/><stop offset="0.8387" stop-color="#0f4f85"/><stop offset="0.8581" stop-color="#0f4e82"/><stop offset="0.8710" stop-color="#11558d"/><stop offset="0.9032" stop-color="#2576b0"/><stop offset="0.9290" stop-color="#4090c5"/><stop offset="0.9484" stop-color="#579fce"/><stop offset="0.9677" stop-color="#73b0d7"/><stop offset="0.9935" stop-color="#8dbfe0"/><stop offset="1.0000" stop-color="#9ec8e4"/></linearGradient><linearGradient id="g40" x1="0" y1="0" x2="0" y2="1"><stop offset="0.0000" stop-color="#69aad4"/><stop offset="0.4065" stop-color="#63a7d2"/><stop offset="0.6000" stop-color="#539ccc"/><stop offset="0.7226" stop-color="#3b8dc3"/><stop offset="0.7613" stop-color="#3384bc"/><stop offset="0.7871" stop-color="#297ab3"/><stop offset="0.8000" stop-color="#2172ad"/><stop offset="0.8387" stop-color="#11558d"/><stop offset="0.8516" stop-color="#0f4f84"/><stop offset="0.8645" stop-color="#0f4e82"/><stop offset="0.8774" stop-color="#10548c"/><stop offset="0.9032" stop-color="#1d6ba6"/><stop offset="0.9355" stop-color="#398bc1"/><stop offset="0.9677" stop-color="#63a6d2"/><stop offset="0.9935" stop-color="#80b7db"/><stop offset="1.0000" stop-color="#92c2e1"/></linearGradient><linearGradient id="g41" x1="0" y1="0" x2="0" y2="1"><stop offset="0.0000" stop-color="#6aabd4"/><stop offset="0.4065" stop-color="#64a7d3"/><stop offset="0.6000" stop-color="#559ecd"/><stop offset="0.7355" stop-color="#3b8cc2"/><stop offset="0.7742" stop-color="#3283bb"/><stop offset="0.8129" stop-color="#2070ab"/><stop offset="0.8452" stop-color="#125890"/><stop offset="0.8581" stop-color="#105187"/><stop offset="0.8710" stop-color="#0f4f84"/><stop offset="0.8903" stop-color="#125890"/><stop offset="0.9097" stop-color="#1b69a3"/><stop offset="0.9484" stop-color="#398bc1"/><stop offset="0.9677" stop-color="#549dcd"/><stop offset="0.9935" stop-color="#72afd7"/><stop offset="1.0000" stop-color="#84badd"/></linearGradient><linearGradient id="g42" x1="0" y1="0" x2="0" y2="1"><stop offset="0.0000" stop-color="#6aabd5"/><stop offset="0.4065" stop-color="#65a8d3"/><stop offset="0.6000" stop-color="#579fcd"/><stop offset="0.7290" stop-color="#3e8fc4"/><stop offset="0.7806" stop-color="#3385bc"/><stop offset="0.8194" stop-color="#2273ad"/><stop offset="0.8581" stop-color="#11578f"/><stop offset="0.8774" stop-color="#105187"/><stop offset="0.9032" stop-color="#145c95"/><stop offset="0.9290" stop-color="#2071ac"/><stop offset="0.9419" stop-color="#2a7cb5"/><stop offset="0.9613" stop-color="#3e8fc4"/><stop offset="0.9935" stop-color="#63a7d2"/><stop offset="1.0000" stop-color="#76b1d8"/></linearGradient><linearGradient id="g43" x1="0" y1="0" x2="0" y2="1"><stop offset="0.0000" stop-color="#6babd5"/><stop offset="0.4065" stop-color="#66a9d3"/><stop offset="0.6000" stop-color="#58a0ce"/><stop offset="0.7290" stop-color="#4190c5"/><stop offset="0.7935" stop-color="#3284bb"/><stop offset="0.8323" stop-color="#2071ac"/><stop offset="0.8645" stop-color="#135992"/><stop offset="0.8839" stop-color="#10548b"/><stop offset="0.9032" stop-color="#125890"/><stop offset="0.9419" stop-color="#2273ae"/><stop offset="0.9677" stop-color="#398bc1"/><stop offset="0.9935" stop-color="#579fce"/><stop offset="1.0000" stop-color="#67a9d3"/></linearGradient><linearGradient id="g44" x1="0" y1="0" x2="0" y2="1"><stop offset="0.0000" stop-color="#6cacd5"/><stop offset="0.4065" stop-color="#67a9d4"/><stop offset="0.6000" stop-color="#5aa1cf"/><stop offset="0.7290" stop-color="#4392c6"/><stop offset="0.8000" stop-color="#3385bc"/><stop offset="0.8387" stop-color="#2274ae"/><stop offset="0.8710" stop-color="#155d96"/><stop offset="0.8968" stop-color="#11568e"/><stop offset="0.9161" stop-color="#145b94"/><stop offset="0.9484" stop-color="#2071ac"/><stop offset="0.9806" stop-color="#3d8ec3"/><stop offset="0.9935" stop-color="#4c97c9"/><stop offset="1.0000" stop-color="#5aa0cf"/></linearGradient><linearGradient id="g45" x1="0" y1="0" x2="0" y2="1"><stop offset="0.0000" stop-color="#6cacd5"/><stop offset="0.4065" stop-color="#68aad4"/><stop offset="0.6000" stop-color="#5ba2cf"/><stop offset="0.6645" stop-color="#529ccc"/><stop offset="0.8065" stop-color="#3486bd"/><stop offset="0.8387" stop-color="#2879b3"/><stop offset="0.8774" stop-color="#17619a"/><stop offset="0.9032" stop-color="#135991"/><stop offset="0.9290" stop-color="#165f98"/><stop offset="0.9548" stop-color="#2070ab"/><stop offset="0.9871" stop-color="#398bc2"/><stop offset="0.9935" stop-color="#4190c5"/><stop offset="1.0000" stop-color="#4e99ca"/></linearGradient><linearGradient id="g46" x1="0" y1="0" x2="0" y2="1"><stop offset="0.0000" stop-color="#6dacd5"/><stop offset="0.4065" stop-color="#69aad4"/><stop offset="0.6000" stop-color="#5ca2d0"/><stop offset="0.6645" stop-color="#549dcc"/><stop offset="0.8129" stop-color="#3587be"/><stop offset="0.8452" stop-color="#2a7bb4"/><stop offset="0.8774" stop-color="#1b69a3"/><stop offset="0.8968" stop-color="#165f98"/><stop offset="0.9161" stop-color="#145b94"/><stop offset="0.9419" stop-color="#18629b"/><stop offset="0.9613" stop-color="#2070ab"/><stop offset="0.9935" stop-color="#388ac0"/><stop offset="1.0000" stop-color="#4291c5"/></linearGradient><linearGradient id="g47" x1="0" y1="0" x2="0" y2="1"><stop offset="0.0000" stop-color="#6dacd5"/><stop offset="0.4065" stop-color="#6aaad4"/><stop offset="0.5355" stop-color="#63a7d2"/><stop offset="0.6645" stop-color="#559ecd"/><stop offset="0.8258" stop-color="#3486bd"/><stop offset="0.8516" stop-color="#2c7db6"/><stop offset="0.8839" stop-color="#1d6ca7"/><stop offset="0.9032" stop-color="#18629c"/><stop offset="0.9226" stop-color="#165e97"/><stop offset="0.9419" stop-color="#176099"/><stop offset="0.9677" stop-color="#2071ac"/><stop offset="1.0000" stop-color="#398bc1"/></linearGradient><linearGradient id="g48" x1="0" y1="0" x2="0" y2="1"><stop offset="0.0000" stop-color="#6dadd6"/><stop offset="0.4065" stop-color="#6aabd5"/><stop offset="0.6000" stop-color="#5fa4d1"/><stop offset="0.6645" stop-color="#579fce"/><stop offset="0.8194" stop-color="#388ac0"/><stop offset="0.8710" stop-color="#2879b3"/><stop offset="0.9032" stop-color="#1c69a3"/><stop offset="0.9355" stop-color="#17619a"/><stop offset="0.9484" stop-color="#18639c"/><stop offset="0.9742" stop-color="#2172ad"/><stop offset="1.0000" stop-color="#3385bc"/></linearGradient><linearGradient id="g49" x1="0" y1="0" x2="0" y2="1"><stop offset="0.0000" stop-color="#6eadd6"/><stop offset="0.4065" stop-color="#6babd5"/><stop offset="0.6000" stop-color="#60a5d1"/><stop offset="0.6645" stop-color="#58a0ce"/><stop offset="0.8258" stop-color="#388ac1"/><stop offset="0.8710" stop-color="#2d7eb7"/><stop offset="0.9032" stop-color="#1f70aa"/><stop offset="0.9419" stop-color="#19649e"/><stop offset="0.9548" stop-color="#1a66a0"/><stop offset="0.9742" stop-color="#1f70ab"/><stop offset="1.0000" stop-color="#2f81b9"/></linearGradient><linearGradient id="g50" x1="0" y1="0" x2="0" y2="1"><stop offset="0.0000" stop-color="#6eadd6"/><stop offset="0.4065" stop-color="#6cacd5"/><stop offset="0.5355" stop-color="#66a8d3"/><stop offset="0.6645" stop-color="#5aa1cf"/><stop offset="0.8258" stop-color="#3a8cc2"/><stop offset="0.8774" stop-color="#2e80b8"/><stop offset="0.9161" stop-color="#2071ac"/><stop offset="0.9419" stop-color="#1b68a2"/><stop offset="0.9548" stop-color="#1c69a3"/><stop offset="0.9742" stop-color="#1f70ab"/><stop offset="1.0000" stop-color="#2c7eb6"/></linearGradient><linearGradient id="g51" x1="0" y1="0" x2="0" y2="1"><stop offset="0.0000" stop-color="#6eadd6"/><stop offset="0.4065" stop-color="#6cacd5"/><stop offset="0.5355" stop-color="#67a9d4"/><stop offset="0.6645" stop-color="#5ba1cf"/><stop offset="0.8194" stop-color="#3d8ec3"/><stop offset="0.8774" stop-color="#3183bb"/><stop offset="0.9290" stop-color="#2071ac"/><stop offset="0.9484" stop-color="#1d6ca6"/><stop offset="0.9742" stop-color="#2071ac"/><stop offset="1.0000" stop-color="#2b7cb5"/></linearGradient><linearGradient id="g52" x1="0" y1="0" x2="0" y2="1"><stop offset="0.0000" stop-color="#62a6d2"/><stop offset="0.3484" stop-color="#61a5d2"/><stop offset="0.4774" stop-color="#589fce"/><stop offset="0.5355" stop-color="#4b97c9"/><stop offset="0.5871" stop-color="#3a8cc2"/><stop offset="0.6710" stop-color="#2071ab"/><stop offset="0.7484" stop-color="#135991"/><stop offset="0.8065" stop-color="#10538b"/><stop offset="0.8194" stop-color="#155c95"/><stop offset="0.8323" stop-color="#1f70ab"/><stop offset="0.8387" stop-color="#2a7bb4"/><stop offset="0.8516" stop-color="#4694c7"/><stop offset="0.8774" stop-color="#90c1e0"/><stop offset="0.8903" stop-color="#a8cde7"/><stop offset="0.9032" stop-color="#b8d6ec"/><stop offset="0.9161" stop-color="#c0dbee"/><stop offset="0.9355" stop-color="#c5def0"/><stop offset="1.0000" stop-color="#c7dff1"/></linearGradient><linearGradient id="g53" x1="0" y1="0" x2="0" y2="1"><stop offset="0.0000" stop-color="#62a6d2"/><stop offset="0.3484" stop-color="#61a5d2"/><stop offset="0.4774" stop-color="#589fce"/><stop offset="0.5355" stop-color="#4b97c9"/><stop offset="0.5871" stop-color="#3a8cc2"/><stop offset="0.6710" stop-color="#2071ab"/><stop offset="0.7484" stop-color="#135991"/><stop offset="0.8065" stop-color="#10538b"/><stop offset="0.8194" stop-color="#155c95"/><stop offset="0.8323" stop-color="#1f70ab"/><stop offset="0.8387" stop-color="#2a7bb4"/><stop offset="0.8516" stop-color="#4694c7"/><stop offset="0.8774" stop-color="#90c1e0"/><stop offset="0.8903" stop-color="#a8cde7"/><stop offset="0.9032" stop-color="#b8d6ec"/><stop offset="0.9161" stop-color="#c0dbee"/><stop offset="0.9355" stop-color="#c5def0"/><stop offset="1.0000" stop-color="#c7dff1"/></linearGradient><linearGradient id="g54" x1="0" y1="0" x2="0" y2="1"><stop offset="0.0000" stop-color="#62a6d2"/><stop offset="0.3484" stop-color="#61a5d2"/><stop offset="0.4774" stop-color="#589fce"/><stop offset="0.5355" stop-color="#4b97c9"/><stop offset="0.5871" stop-color="#3a8cc2"/><stop offset="0.6710" stop-color="#2071ab"/><stop offset="0.7484" stop-color="#135991"/><stop offset="0.8065" stop-color="#10538b"/><stop offset="0.8194" stop-color="#155c95"/><stop offset="0.8323" stop-color="#1f70ab"/><stop offset="0.8387" stop-color="#2a7bb4"/><stop offset="0.8516" stop-color="#4694c7"/><stop offset="0.8774" stop-color="#90c1e0"/><stop offset="0.8903" stop-color="#a8cde7"/><stop offset="0.9032" stop-color="#b8d6ec"/><stop offset="0.9161" stop-color="#c0dbee"/><stop offset="0.9355" stop-color="#c5def0"/><stop offset="1.0000" stop-color="#c7dff1"/></linearGradient><linearGradient id="g55" x1="0" y1="0" x2="0" y2="1"><stop offset="0.0000" stop-color="#17619a"/><stop offset="0.0861" stop-color="#125790"/><stop offset="0.1004" stop-color="#145c94"/><stop offset="0.1148" stop-color="#1d6ca7"/><stop offset="0.1291" stop-color="#3284bb"/><stop offset="0.1435" stop-color="#569ecd"/><stop offset="0.1578" stop-color="#83b9dc"/><stop offset="0.1722" stop-color="#a8cee7"/><stop offset="0.1865" stop-color="#c1dbef"/><stop offset="0.2009" stop-color="#cde3f3"/><stop offset="0.2296" stop-color="#d9ebf7"/><stop offset="0.2869" stop-color="#dcecf8"/><stop offset="1.0000" stop-color="#dcecf8"/></linearGradient><linearGradient id="g56" x1="0" y1="0" x2="0" y2="1"><stop offset="0.0000" stop-color="#1d6ca6"/><stop offset="0.0717" stop-color="#145b94"/><stop offset="0.1291" stop-color="#10548c"/><stop offset="0.1578" stop-color="#12578f"/><stop offset="0.1722" stop-color="#1a66a0"/><stop offset="0.1865" stop-color="#2c7db6"/><stop offset="0.2009" stop-color="#4b97c9"/><stop offset="0.2296" stop-color="#9ec8e5"/><stop offset="0.2439" stop-color="#bbd8ed"/><stop offset="0.2582" stop-color="#c9e0f2"/><stop offset="0.2869" stop-color="#d7eaf7"/><stop offset="0.3587" stop-color="#dcecf8"/><stop offset="1.0000" stop-color="#dcecf8"/></linearGradient><linearGradient id="g57" x1="0" y1="0" x2="0" y2="1"><stop offset="0.0000" stop-color="#2273ae"/><stop offset="0.1004" stop-color="#135992"/><stop offset="0.1578" stop-color="#105187"/><stop offset="0.1865" stop-color="#0f5086"/><stop offset="0.2009" stop-color="#135992"/><stop offset="0.2152" stop-color="#1e6da7"/><stop offset="0.2296" stop-color="#3485bd"/><stop offset="0.2439" stop-color="#58a0ce"/><stop offset="0.2582" stop-color="#84badd"/><stop offset="0.2726" stop-color="#a7cde7"/><stop offset="0.2869" stop-color="#bfdaee"/><stop offset="0.3013" stop-color="#cbe2f2"/><stop offset="0.3300" stop-color="#d8eaf7"/><stop offset="0.3874" stop-color="#dbecf8"/><stop offset="1.0000" stop-color="#dbecf8"/></linearGradient><linearGradient id="g58" x1="0" y1="0" x2="0" y2="1"><stop offset="0.0000" stop-color="#287ab3"/><stop offset="0.1291" stop-color="#125890"/><stop offset="0.2009" stop-color="#0f4c80"/><stop offset="0.2152" stop-color="#0f4c7f"/><stop offset="0.2296" stop-color="#0f4f84"/><stop offset="0.2439" stop-color="#155e97"/><stop offset="0.2582" stop-color="#2374af"/><stop offset="0.2726" stop-color="#3d8ec3"/><stop offset="0.3013" stop-color="#90c1e0"/><stop offset="0.3156" stop-color="#afd1e9"/><stop offset="0.3300" stop-color="#c3dcef"/><stop offset="0.3443" stop-color="#cde3f3"/><stop offset="0.3730" stop-color="#d8eaf7"/><stop offset="0.4304" stop-color="#dbecf8"/><stop offset="1.0000" stop-color="#dbecf8"/></linearGradient><linearGradient id="g59" x1="0" y1="0" x2="0" y2="1"><stop offset="0.0000" stop-color="#2e80b8"/><stop offset="0.0574" stop-color="#2273ad"/><stop offset="0.1578" stop-color="#11568e"/><stop offset="0.2152" stop-color="#0f4a7c"/><stop offset="0.2582" stop-color="#0e4879"/><stop offset="0.2726" stop-color="#105288"/><stop offset="0.2869" stop-color="#19659f"/><stop offset="0.3013" stop-color="#2c7db6"/><stop offset="0.3156" stop-color="#4c97c9"/><stop offset="0.3300" stop-color="#75b1d8"/><stop offset="0.3443" stop-color="#9bc7e4"/><stop offset="0.3587" stop-color="#b7d5eb"/><stop offset="0.3730" stop-color="#c6def1"/><stop offset="0.3874" stop-color="#cfe4f4"/><stop offset="0.4161" stop-color="#d8eaf7"/><stop offset="1.0000" stop-color="#dbecf8"/></linearGradient><linearGradient id="g60" x1="0" y1="0" x2="0" y2="1"><stop offset="0.0000" stop-color="#3385bc"/><stop offset="0.0861" stop-color="#2273ad"/><stop offset="0.1865" stop-color="#10548c"/><stop offset="0.2439" stop-color="#0e4777"/><stop offset="0.2869" stop-color="#0e4472"/><stop offset="0.3013" stop-color="#0e4879"/><stop offset="0.3156" stop-color="#125890"/><stop offset="0.3300" stop-color="#1f6ea9"/><stop offset="0.3443" stop-color="#3688bf"/><stop offset="0.3730" stop-color="#84badd"/><stop offset="0.3874" stop-color="#a6cce7"/><stop offset="0.4017" stop-color="#bdd9ed"/><stop offset="0.4161" stop-color="#c9e0f2"/><stop offset="0.4448" stop-color="#d5e8f6"/><stop offset="0.5022" stop-color="#daebf8"/><stop offset="1.0000" stop-color="#daebf8"/></linearGradient><linearGradient id="g61" x1="0" y1="0" x2="0" y2="1"><stop offset="0.0000" stop-color="#3789c0"/><stop offset="0.1148" stop-color="#2273ae"/><stop offset="0.2152" stop-color="#10538a"/><stop offset="0.2726" stop-color="#0e4473"/><stop offset="0.3013" stop-color="#0d406d"/><stop offset="0.3300" stop-color="#0d416e"/><stop offset="0.3443" stop-color="#0f4c7f"/><stop offset="0.3587" stop-color="#166099"/><stop offset="0.3730" stop-color="#2779b2"/><stop offset="0.3874" stop-color="#4492c6"/><stop offset="0.4017" stop-color="#6babd5"/><stop offset="0.4161" stop-color="#93c2e1"/><stop offset="0.4304" stop-color="#afd1e9"/><stop offset="0.4448" stop-color="#c1dbef"/><stop offset="0.4735" stop-color="#d2e6f5"/><stop offset="0.5022" stop-color="#d8eaf7"/><stop offset="0.5452" stop-color="#daebf8"/><stop offset="1.0000" stop-color="#daebf8"/></linearGradient><linearGradient id="g62" x1="0" y1="0" x2="0" y2="1"><stop offset="0.0000" stop-color="#398bc1"/><stop offset="0.0717" stop-color="#2f81b9"/><stop offset="0.1291" stop-color="#2273ae"/><stop offset="0.2296" stop-color="#105289"/><stop offset="0.2869" stop-color="#0e4371"/><stop offset="0.3156" stop-color="#0d3f6a"/><stop offset="0.3443" stop-color="#0d3e69"/><stop offset="0.3587" stop-color="#0e4675"/><stop offset="0.3730" stop-color="#12578f"/><stop offset="0.3874" stop-color="#1f6fa9"/><stop offset="0.4017" stop-color="#3688bf"/><stop offset="0.4304" stop-color="#81b8dc"/><stop offset="0.4448" stop-color="#a2cae6"/><stop offset="0.4591" stop-color="#bad7ec"/><stop offset="0.4735" stop-color="#c6dff1"/><stop offset="0.5022" stop-color="#d3e7f5"/><stop offset="0.5595" stop-color="#d9ebf7"/><stop offset="1.0000" stop-color="#daebf8"/></linearGradient><linearGradient id="g63" x1="0" y1="0" x2="0" y2="1"><stop offset="0.0000" stop-color="#3b8cc2"/><stop offset="0.0717" stop-color="#3284bb"/><stop offset="0.1435" stop-color="#2374ae"/><stop offset="0.2439" stop-color="#105289"/><stop offset="0.3013" stop-color="#0e426f"/><stop offset="0.3587" stop-color="#0d3c65"/><stop offset="0.3730" stop-color="#0d416d"/><stop offset="0.3874" stop-color="#0f4f84"/><stop offset="0.4017" stop-color="#19659e"/><stop offset="0.4161" stop-color="#2c7db6"/><stop offset="0.4304" stop-color="#4a96c8"/><stop offset="0.4591" stop-color="#94c3e2"/><stop offset="0.4735" stop-color="#afd1e9"/><stop offset="0.4878" stop-color="#c1dbef"/><stop offset="0.5165" stop-color="#d1e5f4"/><stop offset="0.5452" stop-color="#d7e9f7"/><stop offset="0.5882" stop-color="#d9ebf7"/><stop offset="1.0000" stop-color="#d9ebf7"/></linearGradient><linearGradient id="g64" x1="0" y1="0" x2="0" y2="1"><stop offset="0.0000" stop-color="#3c8dc3"/><stop offset="0.0861" stop-color="#3284bc"/><stop offset="0.1578" stop-color="#2374ae"/><stop offset="0.2439" stop-color="#12578f"/><stop offset="0.3156" stop-color="#0d416e"/><stop offset="0.3730" stop-color="#0d3a62"/><stop offset="0.3874" stop-color="#0d3c66"/><stop offset="0.4017" stop-color="#0e4879"/><stop offset="0.4161" stop-color="#145c94"/><stop offset="0.4304" stop-color="#2273ae"/><stop offset="0.4448" stop-color="#3a8cc2"/><stop offset="0.4735" stop-color="#84badd"/><stop offset="0.4878" stop-color="#a3cbe6"/><stop offset="0.5022" stop-color="#b9d7ec"/><stop offset="0.5165" stop-color="#c5def0"/><stop offset="0.5452" stop-color="#d2e6f5"/><stop offset="0.6026" stop-color="#d8eaf7"/><stop offset="1.0000" stop-color="#d9ebf7"/></linearGradient><linearGradient id="g65" x1="0" y1="0" x2="0" y2="1"><stop offset="0.0000" stop-color="#3e8ec3"/><stop offset="0.0861" stop-color="#3587be"/><stop offset="0.1722" stop-color="#2374af"/><stop offset="0.2726" stop-color="#105289"/><stop offset="0.3443" stop-color="#0d3d67"/><stop offset="0.3730" stop-color="#0c3961"/><stop offset="0.4017" stop-color="#0c3961"/><stop offset="0.4161" stop-color="#0e426f"/><stop offset="0.4304" stop-color="#10538b"/><stop offset="0.4448" stop-color="#1c6aa4"/><stop offset="0.4591" stop-color="#3082ba"/><stop offset="0.4735" stop-color="#4f9aca"/><stop offset="0.5022" stop-color="#96c4e2"/><stop offset="0.5165" stop-color="#afd1e9"/><stop offset="0.5308" stop-color="#c0dbee"/><stop offset="0.5595" stop-color="#cfe4f4"/><stop offset="0.5882" stop-color="#d6e8f6"/><stop offset="0.6313" stop-color="#d8eaf7"/><stop offset="1.0000" stop-color="#d9eaf7"/></linearGradient><linearGradient id="g66" x1="0" y1="0" x2="0" y2="1"><stop offset="0.0000" stop-color="#3f8fc4"/><stop offset="0.1004" stop-color="#3587be"/><stop offset="0.2009" stop-color="#2071ac"/><stop offset="0.2869" stop-color="#105289"/><stop offset="0.3587" stop-color="#0d3c66"/><stop offset="0.3874" stop-color="#0c375e"/><stop offset="0.4161" stop-color="#0c365c"/><stop offset="0.4304" stop-color="#0d3d67"/><stop offset="0.4448" stop-color="#0f4b7e"/><stop offset="0.4591" stop-color="#176099"/><stop offset="0.4735" stop-color="#2778b2"/><stop offset="0.4878" stop-color="#4090c4"/><stop offset="0.5022" stop-color="#62a6d2"/><stop offset="0.5165" stop-color="#87bcde"/><stop offset="0.5308" stop-color="#a3cbe6"/><stop offset="0.5452" stop-color="#b9d6ec"/><stop offset="0.5739" stop-color="#cce2f3"/><stop offset="0.6026" stop-color="#d4e7f6"/><stop offset="0.6456" stop-color="#d8eaf7"/><stop offset="1.0000" stop-color="#d8eaf7"/></linearGradient><linearGradient id="g67" x1="0" y1="0" x2="0" y2="1"><stop offset="0.0000" stop-color="#3f8fc4"/><stop offset="0.1148" stop-color="#3586bd"/><stop offset="0.2009" stop-color="#2374ae"/><stop offset="0.2869" stop-color="#11558d"/><stop offset="0.3300" stop-color="#0e4675"/><stop offset="0.3730" stop-color="#0c3a62"/><stop offset="0.4017" stop-color="#0c365b"/><stop offset="0.4304" stop-color="#0c355b"/><stop offset="0.4448" stop-color="#0d3c66"/><stop offset="0.4591" stop-color="#0f4c7e"/><stop offset="0.4735" stop-color="#17609a"/><stop offset="0.4878" stop-color="#2778b2"/><stop offset="0.5022" stop-color="#4090c4"/><stop offset="0.5165" stop-color="#61a6d2"/><stop offset="0.5308" stop-color="#85bbdd"/><stop offset="0.5452" stop-color="#a2cae5"/><stop offset="0.5595" stop-color="#b7d5ec"/><stop offset="0.5882" stop-color="#cbe1f2"/><stop offset="0.6169" stop-color="#d3e7f5"/><stop offset="0.6600" stop-color="#d7e9f7"/><stop offset="1.0000" stop-color="#d8eaf7"/></linearGradient><linearGradient id="g68" x1="0" y1="0" x2="0" y2="1"><stop offset="0.0000" stop-color="#4090c4"/><stop offset="0.1148" stop-color="#3688bf"/><stop offset="0.2152" stop-color="#2172ad"/><stop offset="0.3013" stop-color="#10538a"/><stop offset="0.3443" stop-color="#0e4371"/><stop offset="0.3874" stop-color="#0c375e"/><stop offset="0.4161" stop-color="#0c3459"/><stop offset="0.4448" stop-color="#0c3459"/><stop offset="0.4591" stop-color="#0d3c65"/><stop offset="0.4735" stop-color="#0f4c7f"/><stop offset="0.4878" stop-color="#17619a"/><stop offset="0.5022" stop-color="#2778b2"/><stop offset="0.5165" stop-color="#3f8fc4"/><stop offset="0.5452" stop-color="#84badd"/><stop offset="0.5595" stop-color="#a0c9e5"/><stop offset="0.5739" stop-color="#b5d4eb"/><stop offset="0.5882" stop-color="#c2dcef"/><stop offset="0.6026" stop-color="#cae1f2"/><stop offset="0.6313" stop-color="#d2e6f5"/><stop offset="0.6743" stop-color="#d6e9f6"/><stop offset="1.0000" stop-color="#d7eaf7"/></linearGradient><linearGradient id="g69" x1="0" y1="0" x2="0" y2="1"><stop offset="0.0000" stop-color="#4090c5"/><stop offset="0.1148" stop-color="#3789c0"/><stop offset="0.2152" stop-color="#2475b0"/><stop offset="0.3013" stop-color="#11578f"/><stop offset="0.3874" stop-color="#0c3860"/><stop offset="0.4304" stop-color="#0b3357"/><stop offset="0.4591" stop-color="#0b3458"/><stop offset="0.4735" stop-color="#0d3c65"/><stop offset="0.4878" stop-color="#0f4c7f"/><stop offset="0.5022" stop-color="#17619b"/><stop offset="0.5165" stop-color="#2778b2"/><stop offset="0.5308" stop-color="#3f8fc4"/><stop offset="0.5595" stop-color="#82b9dc"/><stop offset="0.5739" stop-color="#9ec8e5"/><stop offset="0.5882" stop-color="#b3d3ea"/><stop offset="0.6026" stop-color="#c1dbef"/><stop offset="0.6169" stop-color="#c8e0f1"/><stop offset="0.6456" stop-color="#d1e6f5"/><stop offset="0.6887" stop-color="#d6e9f6"/><stop offset="1.0000" stop-color="#d7e9f7"/></linearGradient><linearGradient id="g70" x1="0" y1="0" x2="0" y2="1"><stop offset="0.0000" stop-color="#4190c5"/><stop offset="0.1291" stop-color="#3789bf"/><stop offset="0.2296" stop-color="#2374af"/><stop offset="0.3156" stop-color="#10548c"/><stop offset="0.3587" stop-color="#0e4372"/><stop offset="0.4017" stop-color="#0c365c"/><stop offset="0.4591" stop-color="#0b3154"/><stop offset="0.4735" stop-color="#0b3357"/><stop offset="0.4878" stop-color="#0d3b65"/><stop offset="0.5022" stop-color="#0f4c80"/><stop offset="0.5165" stop-color="#17629b"/><stop offset="0.5308" stop-color="#2779b2"/><stop offset="0.5452" stop-color="#3f8fc4"/><stop offset="0.5739" stop-color="#81b8dc"/><stop offset="0.5882" stop-color="#9dc8e4"/><stop offset="0.6026" stop-color="#b1d2ea"/><stop offset="0.6169" stop-color="#c0daee"/><stop offset="0.6456" stop-color="#cde3f3"/><stop offset="0.6743" stop-color="#d3e7f5"/><stop offset="0.7174" stop-color="#d6e9f6"/><stop offset="1.0000" stop-color="#d6e9f6"/></linearGradient><linearGradient id="g71" x1="0" y1="0" x2="0" y2="1"><stop offset="0.0000" stop-color="#4190c5"/><stop offset="0.1435" stop-color="#3688bf"/><stop offset="0.2439" stop-color="#2273ae"/><stop offset="0.3156" stop-color="#125891"/><stop offset="0.4017" stop-color="#0c385e"/><stop offset="0.4304" stop-color="#0b3356"/><stop offset="0.4735" stop-color="#0b3052"/><stop offset="0.4878" stop-color="#0b3256"/><stop offset="0.5022" stop-color="#0d3b65"/><stop offset="0.5165" stop-color="#0f4d80"/><stop offset="0.5308" stop-color="#18629b"/><stop offset="0.5452" stop-color="#2779b2"/><stop offset="0.5595" stop-color="#3e8fc4"/><stop offset="0.5882" stop-color="#7fb7db"/><stop offset="0.6026" stop-color="#9bc7e4"/><stop offset="0.6169" stop-color="#b0d1e9"/><stop offset="0.6313" stop-color="#bedaee"/><stop offset="0.6600" stop-color="#cce2f3"/><stop offset="0.6887" stop-color="#d2e6f5"/><stop offset="0.7317" stop-color="#d5e8f6"/><stop offset="1.0000" stop-color="#d6e9f6"/></linearGradient><linearGradient id="g72" x1="0" y1="0" x2="0" y2="1"><stop offset="0.0000" stop-color="#4191c5"/><stop offset="0.1435" stop-color="#3889c0"/><stop offset="0.2439" stop-color="#2476b0"/><stop offset="0.3300" stop-color="#11568e"/><stop offset="0.4161" stop-color="#0c365c"/><stop offset="0.4591" stop-color="#0b3153"/><stop offset="0.4878" stop-color="#0b3052"/><stop offset="0.5022" stop-color="#0c3459"/><stop offset="0.5165" stop-color="#0d406c"/><stop offset="0.5308" stop-color="#105289"/><stop offset="0.5452" stop-color="#1b68a2"/><stop offset="0.5595" stop-color="#2d7eb7"/><stop offset="0.5739" stop-color="#4694c7"/><stop offset="0.6026" stop-color="#85badd"/><stop offset="0.6169" stop-color="#9ec8e5"/><stop offset="0.6313" stop-color="#b2d3ea"/><stop offset="0.6456" stop-color="#bfdaee"/><stop offset="0.6600" stop-color="#c7dff1"/><stop offset="0.6887" stop-color="#cfe4f4"/><stop offset="0.7317" stop-color="#d4e8f6"/><stop offset="1.0000" stop-color="#d5e8f6"/></linearGradient><linearGradient id="g73" x1="0" y1="0" x2="0" y2="1"><stop offset="0.0000" stop-color="#4191c5"/><stop offset="0.1435" stop-color="#398ac1"/><stop offset="0.2439" stop-color="#2778b2"/><stop offset="0.2726" stop-color="#1f70aa"/><stop offset="0.3443" stop-color="#10548c"/><stop offset="0.4017" stop-color="#0d3d68"/><stop offset="0.4304" stop-color="#0c355a"/><stop offset="0.4735" stop-color="#0b3053"/><stop offset="0.5022" stop-color="#0b3154"/><stop offset="0.5165" stop-color="#0c365d"/><stop offset="0.5308" stop-color="#0e4574"/><stop offset="0.5452" stop-color="#125891"/><stop offset="0.5595" stop-color="#1e6ea8"/><stop offset="0.5739" stop-color="#3283bb"/><stop offset="0.5882" stop-color="#4c98c9"/><stop offset="0.6169" stop-color="#8abdde"/><stop offset="0.6313" stop-color="#a1cae5"/><stop offset="0.6456" stop-color="#b4d4eb"/><stop offset="0.6600" stop-color="#c0daee"/><stop offset="0.6743" stop-color="#c7dff1"/><stop offset="0.7030" stop-color="#cfe4f4"/><stop offset="0.7461" stop-color="#d4e7f5"/><stop offset="1.0000" stop-color="#d5e8f6"/></linearGradient><linearGradient id="g74" x1="0" y1="0" x2="0" y2="1"><stop offset="0.0000" stop-color="#4191c5"/><stop offset="0.1435" stop-color="#398bc1"/><stop offset="0.2009" stop-color="#3284bb"/><stop offset="0.2582" stop-color="#2577b1"/><stop offset="0.2869" stop-color="#1e6ea8"/><stop offset="0.3443" stop-color="#125890"/><stop offset="0.4304" stop-color="#0c375d"/><stop offset="0.4591" stop-color="#0b3256"/><stop offset="0.5022" stop-color="#0b3052"/><stop offset="0.5165" stop-color="#0b3256"/><stop offset="0.5308" stop-color="#0d3a63"/><stop offset="0.5595" stop-color="#155e97"/><stop offset="0.5739" stop-color="#2273ae"/><stop offset="0.5882" stop-color="#3688bf"/><stop offset="0.6026" stop-color="#529ccc"/><stop offset="0.6313" stop-color="#8dbfe0"/><stop offset="0.6456" stop-color="#a3cbe6"/><stop offset="0.6600" stop-color="#b4d4eb"/><stop offset="0.6887" stop-color="#c6dff1"/><stop offset="0.7174" stop-color="#cee4f3"/><stop offset="0.7604" stop-color="#d2e6f5"/><stop offset="1.0000" stop-color="#d4e7f5"/></linearGradient><linearGradient id="g75" x1="0" y1="0" x2="0" y2="1"><stop offset="0.0000" stop-color="#4191c5"/><stop offset="0.1578" stop-color="#398bc1"/><stop offset="0.2582" stop-color="#2879b3"/><stop offset="0.2869" stop-color="#2071ac"/><stop offset="0.3587" stop-color="#11558e"/><stop offset="0.4161" stop-color="#0d3e69"/><stop offset="0.4448" stop-color="#0c365b"/><stop offset="0.4878" stop-color="#0b3053"/><stop offset="0.5165" stop-color="#0b3052"/><stop offset="0.5308" stop-color="#0c3458"/><stop offset="0.5452" stop-color="#0d3e6a"/><stop offset="0.5595" stop-color="#0f4f84"/><stop offset="0.5739" stop-color="#18639c"/><stop offset="0.5882" stop-color="#2678b1"/><stop offset="0.6026" stop-color="#3a8cc2"/><stop offset="0.6169" stop-color="#579fcd"/><stop offset="0.6456" stop-color="#8fc1e0"/><stop offset="0.6600" stop-color="#a4cbe6"/><stop offset="0.6743" stop-color="#b4d4eb"/><stop offset="0.7030" stop-color="#c5def0"/><stop offset="0.7317" stop-color="#cce3f3"/><stop offset="0.7747" stop-color="#d0e5f4"/><stop offset="1.0000" stop-color="#d2e6f5"/></linearGradient><linearGradient id="g76" x1="0" y1="0" x2="0" y2="1"><stop offset="0.0000" stop-color="#4291c5"/><stop offset="0.1578" stop-color="#3a8cc2"/><stop offset="0.2152" stop-color="#3384bc"/><stop offset="0.2726" stop-color="#2778b2"/><stop offset="0.3013" stop-color="#1f6faa"/><stop offset="0.3587" stop-color="#135992"/><stop offset="0.4448" stop-color="#0c385f"/><stop offset="0.4735" stop-color="#0b3356"/><stop offset="0.5165" stop-color="#0b3051"/><stop offset="0.5308" stop-color="#0b3154"/><stop offset="0.5452" stop-color="#0c365c"/><stop offset="0.5595" stop-color="#0e4371"/><stop offset="0.5739" stop-color="#10548c"/><stop offset="0.5882" stop-color="#1b68a2"/><stop offset="0.6026" stop-color="#2b7cb5"/><stop offset="0.6169" stop-color="#3f8fc4"/><stop offset="0.6600" stop-color="#91c2e1"/><stop offset="0.6887" stop-color="#b3d3ea"/><stop offset="0.7030" stop-color="#bed9ee"/><stop offset="0.7317" stop-color="#c8dff1"/><stop offset="0.7747" stop-color="#cee3f3"/><stop offset="1.0000" stop-color="#d0e5f4"/></linearGradient><linearGradient id="g77" x1="0" y1="0" x2="0" y2="1"><stop offset="0.0000" stop-color="#4291c5"/><stop offset="0.1578" stop-color="#3b8cc2"/><stop offset="0.2152" stop-color="#3486bd"/><stop offset="0.2726" stop-color="#297ab3"/><stop offset="0.3156" stop-color="#1e6da8"/><stop offset="0.3730" stop-color="#12578f"/><stop offset="0.4591" stop-color="#0c365c"/><stop offset="0.5022" stop-color="#0b3153"/><stop offset="0.5308" stop-color="#0b3051"/><stop offset="0.5452" stop-color="#0b3255"/><stop offset="0.5595" stop-color="#0c3961"/><stop offset="0.5882" stop-color="#135992"/><stop offset="0.6026" stop-color="#1e6da7"/><stop offset="0.6313" stop-color="#4493c6"/><stop offset="0.6743" stop-color="#93c2e1"/><stop offset="0.7030" stop-color="#b2d3ea"/><stop offset="0.7174" stop-color="#bdd8ed"/><stop offset="0.7461" stop-color="#c6def1"/><stop offset="0.7891" stop-color="#cce2f3"/><stop offset="1.0000" stop-color="#cde3f3"/></linearGradient><linearGradient id="g78" x1="0" y1="0" x2="0" y2="1"><stop offset="0.0000" stop-color="#4291c5"/><stop offset="0.1722" stop-color="#3a8cc2"/><stop offset="0.2296" stop-color="#3385bc"/><stop offset="0.2869" stop-color="#2779b2"/><stop offset="0.3156" stop-color="#2070ab"/><stop offset="0.3874" stop-color="#10558d"/><stop offset="0.4448" stop-color="#0d3e68"/><stop offset="0.4735" stop-color="#0c355b"/><stop offset="0.5165" stop-color="#0b3052"/><stop offset="0.5452" stop-color="#0b3052"/><stop offset="0.5595" stop-color="#0b3458"/><stop offset="0.5739" stop-color="#0d3d67"/><stop offset="0.5882" stop-color="#0f4c7f"/><stop offset="0.6169" stop-color="#2071ac"/><stop offset="0.6456" stop-color="#4996c8"/><stop offset="0.6887" stop-color="#93c3e1"/><stop offset="0.7030" stop-color="#a4cbe6"/><stop offset="0.7317" stop-color="#bbd8ed"/><stop offset="0.7604" stop-color="#c4ddf0"/><stop offset="0.8034" stop-color="#cae1f2"/><stop offset="1.0000" stop-color="#cbe2f3"/></linearGradient><linearGradient id="g79" x1="0" y1="0" x2="0" y2="1"><stop offset="0.0000" stop-color="#4291c5"/><stop offset="0.1722" stop-color="#3b8dc2"/><stop offset="0.2296" stop-color="#3486bd"/><stop offset="0.2869" stop-color="#297bb4"/><stop offset="0.3300" stop-color="#1e6ea9"/><stop offset="0.3874" stop-color="#125890"/><stop offset="0.4735" stop-color="#0c375d"/><stop offset="0.5022" stop-color="#0b3255"/><stop offset="0.5452" stop-color="#0b2f51"/><stop offset="0.5595" stop-color="#0b3154"/><stop offset="0.5739" stop-color="#0c365c"/><stop offset="0.5882" stop-color="#0e4370"/><stop offset="0.6026" stop-color="#10538a"/><stop offset="0.6169" stop-color="#19659f"/><stop offset="0.6456" stop-color="#388ac0"/><stop offset="0.6887" stop-color="#82b9dc"/><stop offset="0.7030" stop-color="#96c4e2"/><stop offset="0.7174" stop-color="#a6cce7"/><stop offset="0.7461" stop-color="#bbd7ed"/><stop offset="0.7747" stop-color="#c3dcef"/><stop offset="0.8178" stop-color="#c8e0f1"/><stop offset="1.0000" stop-color="#c9e1f2"/></linearGradient><linearGradient id="g80" x1="0" y1="0" x2="0" y2="1"><stop offset="0.0000" stop-color="#4291c5"/><stop offset="0.1722" stop-color="#3b8dc3"/><stop offset="0.2296" stop-color="#3587be"/><stop offset="0.2869" stop-color="#2a7cb5"/><stop offset="0.3300" stop-color="#1f70aa"/><stop offset="0.3874" stop-color="#135a92"/><stop offset="0.4591" stop-color="#0d3d67"/><stop offset="0.4878" stop-color="#0c355a"/><stop offset="0.5308" stop-color="#0b3052"/><stop offset="0.5595" stop-color="#0b3052"/><stop offset="0.5739" stop-color="#0c3458"/><stop offset="0.5882" stop-color="#0d3d67"/><stop offset="0.6169" stop-color="#155c95"/><stop offset="0.6313" stop-color="#1f6fa9"/><stop offset="0.6600" stop-color="#4291c5"/><stop offset="0.7030" stop-color="#89bdde"/><stop offset="0.7174" stop-color="#9bc7e4"/><stop offset="0.7317" stop-color="#a8cee7"/><stop offset="0.7604" stop-color="#bbd7ed"/><stop offset="0.7891" stop-color="#c2dcef"/><stop offset="0.8321" stop-color="#c6def1"/><stop offset="1.0000" stop-color="#c7dff1"/></linearGradient><linearGradient id="g81" x1="0" y1="0" x2="0" y2="1"><stop offset="0.0000" stop-color="#4291c5"/><stop offset="0.1148" stop-color="#4090c4"/><stop offset="0.1865" stop-color="#3a8cc2"/><stop offset="0.2439" stop-color="#3486bd"/><stop offset="0.3013" stop-color="#287ab3"/><stop offset="0.3300" stop-color="#2071ac"/><stop offset="0.4017" stop-color="#11568e"/><stop offset="0.4878" stop-color="#0c365b"/><stop offset="0.5308" stop-color="#0b3052"/><stop offset="0.5595" stop-color="#0b2f51"/><stop offset="0.5739" stop-color="#0b3256"/><stop offset="0.5882" stop-color="#0c3961"/><stop offset="0.6169" stop-color="#125890"/><stop offset="0.6313" stop-color="#1c6aa5"/><stop offset="0.6600" stop-color="#3f90c4"/><stop offset="0.7030" stop-color="#8fc0e0"/><stop offset="0.7174" stop-color="#a2cbe6"/><stop offset="0.7461" stop-color="#bed9ee"/><stop offset="0.7604" stop-color="#c5def0"/><stop offset="0.7891" stop-color="#cde3f3"/><stop offset="0.8321" stop-color="#d3e7f5"/><stop offset="1.0000" stop-color="#d5e8f6"/></linearGradient><linearGradient id="g82" x1="0" y1="0" x2="0" y2="1"><stop offset="0.0000" stop-color="#4291c5"/><stop offset="0.1865" stop-color="#3b8dc2"/><stop offset="0.2439" stop-color="#3586bd"/><stop offset="0.3013" stop-color="#297bb4"/><stop offset="0.3443" stop-color="#1e6ea9"/><stop offset="0.4017" stop-color="#125890"/><stop offset="0.4878" stop-color="#0c375d"/><stop offset="0.5165" stop-color="#0b3255"/><stop offset="0.5595" stop-color="#0b2f51"/><stop offset="0.5739" stop-color="#0b3153"/><stop offset="0.5882" stop-color="#0c355b"/><stop offset="0.6026" stop-color="#0d406c"/><stop offset="0.6169" stop-color="#0f4f84"/><stop offset="0.6456" stop-color="#2273ae"/><stop offset="0.6743" stop-color="#4996c8"/><stop offset="0.7174" stop-color="#92c2e1"/><stop offset="0.7317" stop-color="#a3cbe6"/><stop offset="0.7604" stop-color="#bbd7ed"/><stop offset="0.7891" stop-color="#c5def0"/><stop offset="0.8321" stop-color="#cbe2f2"/><stop offset="1.0000" stop-color="#cee3f3"/></linearGradient><linearGradient id="g83" x1="0" y1="0" x2="0" y2="1"><stop offset="0.0000" stop-color="#4291c5"/><stop offset="0.1865" stop-color="#3c8dc3"/><stop offset="0.2439" stop-color="#3587be"/><stop offset="0.3013" stop-color="#2b7cb5"/><stop offset="0.3443" stop-color="#1f70ab"/><stop offset="0.4017" stop-color="#135a93"/><stop offset="0.4735" stop-color="#0d3d67"/><stop offset="0.5022" stop-color="#0c355a"/><stop offset="0.5452" stop-color="#0b3052"/><stop offset="0.5739" stop-color="#0b3052"/><stop offset="0.5882" stop-color="#0b3357"/><stop offset="0.6026" stop-color="#0d3b63"/><stop offset="0.6313" stop-color="#125890"/><stop offset="0.6456" stop-color="#1c69a3"/><stop offset="0.6743" stop-color="#398bc2"/><stop offset="0.7174" stop-color="#7fb7db"/><stop offset="0.7317" stop-color="#93c2e1"/><stop offset="0.7461" stop-color="#a1cae5"/><stop offset="0.7747" stop-color="#b6d5eb"/><stop offset="0.8034" stop-color="#c0daee"/><stop offset="0.8608" stop-color="#c6def0"/><stop offset="1.0000" stop-color="#c7dff1"/></linearGradient><linearGradient id="g84" x1="0" y1="0" x2="0" y2="1"><stop offset="0.0000" stop-color="#4291c5"/><stop offset="0.1291" stop-color="#4090c4"/><stop offset="0.2009" stop-color="#3b8cc2"/><stop offset="0.2582" stop-color="#3486bd"/><stop offset="0.3156" stop-color="#287ab3"/><stop offset="0.3443" stop-color="#2172ac"/><stop offset="0.4161" stop-color="#11568e"/><stop offset="0.5022" stop-color="#0c365b"/><stop offset="0.5452" stop-color="#0b3052"/><stop offset="0.5739" stop-color="#0a2f51"/><stop offset="0.6026" stop-color="#0c365c"/><stop offset="0.6313" stop-color="#0f5085"/><stop offset="0.6600" stop-color="#2071ac"/><stop offset="0.6887" stop-color="#4191c5"/><stop offset="0.7317" stop-color="#81b8dc"/><stop offset="0.7461" stop-color="#92c2e1"/><stop offset="0.7891" stop-color="#afd1e9"/><stop offset="0.8321" stop-color="#bcd8ed"/><stop offset="1.0000" stop-color="#c0daee"/></linearGradient><linearGradient id="g85" x1="0" y1="0" x2="0" y2="1"><stop offset="0.0000" stop-color="#4291c5"/><stop offset="0.1291" stop-color="#4090c4"/><stop offset="0.2009" stop-color="#3b8dc2"/><stop offset="0.2582" stop-color="#3586be"/><stop offset="0.3156" stop-color="#2a7bb4"/><stop offset="0.3587" stop-color="#1f6ea9"/><stop offset="0.4161" stop-color="#125891"/><stop offset="0.5022" stop-color="#0c375d"/><stop offset="0.5308" stop-color="#0b3255"/><stop offset="0.5739" stop-color="#0a2f50"/><stop offset="0.6026" stop-color="#0b3458"/><stop offset="0.6169" stop-color="#0d3c65"/><stop offset="0.6456" stop-color="#125790"/><stop offset="0.6600" stop-color="#1b67a1"/><stop offset="0.6887" stop-color="#3587be"/><stop offset="0.7030" stop-color="#4895c7"/><stop offset="0.7461" stop-color="#81b8dc"/><stop offset="0.7604" stop-color="#8fc0e0"/><stop offset="0.7891" stop-color="#a2cae6"/><stop offset="0.8321" stop-color="#b0d2ea"/><stop offset="0.8895" stop-color="#b6d5eb"/><stop offset="1.0000" stop-color="#b7d5ec"/></linearGradient><linearGradient id="g86" x1="0" y1="0" x2="0" y2="1"><stop offset="0.0000" stop-color="#4291c5"/><stop offset="0.2009" stop-color="#3c8dc3"/><stop offset="0.2582" stop-color="#3587be"/><stop offset="0.3156" stop-color="#2b7cb5"/><stop offset="0.3587" stop-color="#2070ab"/><stop offset="0.4161" stop-color="#135a93"/><stop offset="0.4878" stop-color="#0d3d67"/><stop offset="0.5165" stop-color="#0c355a"/><stop offset="0.5595" stop-color="#0b3051"/><stop offset="0.5882" stop-color="#0b2f51"/><stop offset="0.6169" stop-color="#0c375e"/><stop offset="0.6456" stop-color="#0f5085"/><stop offset="0.6743" stop-color="#1e6ea9"/><stop offset="0.7030" stop-color="#398bc1"/><stop offset="0.7461" stop-color="#6faed6"/><stop offset="0.7747" stop-color="#8bbedf"/><stop offset="0.7891" stop-color="#95c4e2"/><stop offset="0.8321" stop-color="#a5cce6"/><stop offset="0.8895" stop-color="#abcfe8"/><stop offset="1.0000" stop-color="#add0e9"/></linearGradient><linearGradient id="g87" x1="0" y1="0" x2="0" y2="1"><stop offset="0.0000" stop-color="#4291c5"/><stop offset="0.2009" stop-color="#3c8dc3"/><stop offset="0.3156" stop-color="#2c7db6"/><stop offset="0.3587" stop-color="#2071ac"/><stop offset="0.4161" stop-color="#145c94"/><stop offset="0.5165" stop-color="#0c355b"/><stop offset="0.5595" stop-color="#0b3052"/><stop offset="0.5882" stop-color="#0a2f50"/><stop offset="0.6169" stop-color="#0c365c"/><stop offset="0.6313" stop-color="#0e416e"/><stop offset="0.6456" stop-color="#0f5085"/><stop offset="0.6743" stop-color="#2172ad"/><stop offset="0.7030" stop-color="#4493c6"/><stop offset="0.7461" stop-color="#88bcde"/><stop offset="0.7747" stop-color="#a7cde7"/><stop offset="0.8034" stop-color="#bbd7ed"/><stop offset="0.8178" stop-color="#c0daee"/><stop offset="0.8752" stop-color="#c8e0f1"/><stop offset="1.0000" stop-color="#cae1f2"/></linearGradient><linearGradient id="g88" x1="0" y1="0" x2="0" y2="1"><stop offset="0.0000" stop-color="#4291c5"/><stop offset="0.1291" stop-color="#4090c5"/><stop offset="0.2152" stop-color="#3b8dc2"/><stop offset="0.2726" stop-color="#3486bd"/><stop offset="0.3300" stop-color="#297bb4"/><stop offset="0.3730" stop-color="#1e6ea8"/><stop offset="0.4304" stop-color="#125790"/><stop offset="0.5165" stop-color="#0c365c"/><stop offset="0.5595" stop-color="#0b3052"/><stop offset="0.5882" stop-color="#0a2f50"/><stop offset="0.6169" stop-color="#0c3459"/><stop offset="0.6313" stop-color="#0d3d67"/><stop offset="0.6456" stop-color="#0f4a7c"/><stop offset="0.6743" stop-color="#1c6aa4"/><stop offset="0.7030" stop-color="#388ac0"/><stop offset="0.7604" stop-color="#8bbedf"/><stop offset="0.7891" stop-color="#a5cce7"/><stop offset="0.8321" stop-color="#bbd7ed"/><stop offset="0.8895" stop-color="#c2dcef"/><stop offset="1.0000" stop-color="#c3ddf0"/></linearGradient><linearGradient id="g89" x1="0" y1="0" x2="0" y2="1"><stop offset="0.0000" stop-color="#4291c5"/><stop offset="0.1291" stop-color="#4190c5"/><stop offset="0.2152" stop-color="#3b8dc3"/><stop offset="0.2726" stop-color="#3587be"/><stop offset="0.3300" stop-color="#2a7bb5"/><stop offset="0.3730" stop-color="#1f6faa"/><stop offset="0.4304" stop-color="#135991"/><stop offset="0.5165" stop-color="#0c375e"/><stop offset="0.5452" stop-color="#0b3255"/><stop offset="0.5882" stop-color="#0a2f50"/><stop offset="0.6169" stop-color="#0b3356"/><stop offset="0.6313" stop-color="#0c3961"/><stop offset="0.6600" stop-color="#10538a"/><stop offset="0.6743" stop-color="#18629c"/><stop offset="0.6887" stop-color="#2273ad"/><stop offset="0.7174" stop-color="#4190c5"/><stop offset="0.7604" stop-color="#7cb5da"/><stop offset="0.7747" stop-color="#8cbedf"/><stop offset="0.8034" stop-color="#a2cae6"/><stop offset="0.8465" stop-color="#b3d3ea"/><stop offset="0.9039" stop-color="#bbd7ed"/><stop offset="1.0000" stop-color="#bcd8ed"/></linearGradient><linearGradient id="g90" x1="0" y1="0" x2="0" y2="1"><stop offset="0.0000" stop-color="#4291c5"/><stop offset="0.2152" stop-color="#3c8dc3"/><stop offset="0.2726" stop-color="#3587be"/><stop offset="0.3300" stop-color="#2b7cb5"/><stop offset="0.3730" stop-color="#2070ab"/><stop offset="0.4304" stop-color="#135a93"/><stop offset="0.5022" stop-color="#0d3d67"/><stop offset="0.5308" stop-color="#0c355a"/><stop offset="0.5739" stop-color="#0b2f51"/><stop offset="0.6026" stop-color="#0a2f50"/><stop offset="0.6313" stop-color="#0c365c"/><stop offset="0.6600" stop-color="#0f4d81"/><stop offset="0.6887" stop-color="#1d6ba5"/><stop offset="0.7174" stop-color="#3688bf"/><stop offset="0.7604" stop-color="#6cacd5"/><stop offset="0.7891" stop-color="#8abedf"/><stop offset="0.8034" stop-color="#95c4e2"/><stop offset="0.8465" stop-color="#a7cde7"/><stop offset="0.9039" stop-color="#b0d2ea"/><stop offset="1.0000" stop-color="#b2d3ea"/></linearGradient><linearGradient id="g91" x1="0" y1="0" x2="0" y2="1"><stop offset="0.0000" stop-color="#4291c5"/><stop offset="0.2152" stop-color="#3c8dc3"/><stop offset="0.3300" stop-color="#2c7db6"/><stop offset="0.3730" stop-color="#2071ac"/><stop offset="0.4304" stop-color="#145c95"/><stop offset="0.5308" stop-color="#0c355b"/><stop offset="0.5739" stop-color="#0b3051"/><stop offset="0.6026" stop-color="#0a2f50"/><stop offset="0.6313" stop-color="#0c3459"/><stop offset="0.6456" stop-color="#0d3c66"/><stop offset="0.6743" stop-color="#11558d"/><stop offset="0.7030" stop-color="#2172ad"/><stop offset="0.7174" stop-color="#2f80b8"/><stop offset="0.7604" stop-color="#5ea3d0"/><stop offset="0.8034" stop-color="#87bcde"/><stop offset="0.8465" stop-color="#9cc7e4"/><stop offset="0.9039" stop-color="#a5cce7"/><stop offset="1.0000" stop-color="#a8cde7"/></linearGradient><linearGradient id="g92" x1="0" y1="0" x2="0" y2="1"><stop offset="0.0000" stop-color="#4291c5"/><stop offset="0.2152" stop-color="#3c8ec3"/><stop offset="0.3300" stop-color="#2c7eb6"/><stop offset="0.3730" stop-color="#2172ad"/><stop offset="0.4304" stop-color="#155d95"/><stop offset="0.4591" stop-color="#105187"/><stop offset="0.5308" stop-color="#0c365b"/><stop offset="0.5739" stop-color="#0b3052"/><stop offset="0.6026" stop-color="#0a2f50"/><stop offset="0.6313" stop-color="#0b3357"/><stop offset="0.6456" stop-color="#0c3962"/><stop offset="0.6743" stop-color="#105187"/><stop offset="0.6887" stop-color="#165f98"/><stop offset="0.7030" stop-color="#1e6da8"/><stop offset="0.7317" stop-color="#3587be"/><stop offset="0.7747" stop-color="#62a6d2"/><stop offset="0.8034" stop-color="#7cb5da"/><stop offset="0.8465" stop-color="#93c2e1"/><stop offset="0.9039" stop-color="#9dc8e4"/><stop offset="1.0000" stop-color="#9fc9e5"/></linearGradient><linearGradient id="g93" x1="0" y1="0" x2="0" y2="1"><stop offset="0.0000" stop-color="#4291c5"/><stop offset="0.2152" stop-color="#3d8ec3"/><stop offset="0.3300" stop-color="#2d7eb7"/><stop offset="0.3730" stop-color="#2273ad"/><stop offset="0.4304" stop-color="#155d96"/><stop offset="0.4591" stop-color="#105288"/><stop offset="0.5308" stop-color="#0c365c"/><stop offset="0.5739" stop-color="#0b3052"/><stop offset="0.6026" stop-color="#0a2f50"/><stop offset="0.6313" stop-color="#0b3256"/><stop offset="0.6456" stop-color="#0c375e"/><stop offset="0.6887" stop-color="#135a93"/><stop offset="0.7174" stop-color="#2475af"/><stop offset="0.7317" stop-color="#3081b9"/><stop offset="0.7747" stop-color="#59a0ce"/><stop offset="0.8178" stop-color="#7bb5da"/><stop offset="0.8608" stop-color="#8dbfe0"/><stop offset="0.9182" stop-color="#96c4e2"/><stop offset="1.0000" stop-color="#97c5e3"/></linearGradient><linearGradient id="g94" x1="0" y1="0" x2="0" y2="1"><stop offset="0.0000" stop-color="#4291c5"/><stop offset="0.2152" stop-color="#3d8ec3"/><stop offset="0.2869" stop-color="#3587be"/><stop offset="0.3443" stop-color="#2a7bb4"/><stop offset="0.3874" stop-color="#1f6faa"/><stop offset="0.4448" stop-color="#125891"/><stop offset="0.5308" stop-color="#0c375d"/><stop offset="0.5739" stop-color="#0b3052"/><stop offset="0.6026" stop-color="#0a2e4f"/><stop offset="0.6313" stop-color="#0b3255"/><stop offset="0.6456" stop-color="#0c375e"/><stop offset="0.6743" stop-color="#0f4f84"/><stop offset="0.6887" stop-color="#155d96"/><stop offset="0.7030" stop-color="#1d6ca7"/><stop offset="0.7317" stop-color="#3789c0"/><stop offset="0.7747" stop-color="#6eadd6"/><stop offset="0.8034" stop-color="#8dbfdf"/><stop offset="0.8178" stop-color="#97c5e3"/><stop offset="0.8608" stop-color="#abcfe8"/><stop offset="0.9182" stop-color="#b5d4eb"/><stop offset="1.0000" stop-color="#b7d5ec"/></linearGradient><linearGradient id="g95" x1="0" y1="0" x2="0" y2="1"><stop offset="0.0000" stop-color="#4291c5"/><stop offset="0.2152" stop-color="#3d8ec3"/><stop offset="0.2869" stop-color="#3587be"/><stop offset="0.3443" stop-color="#2b7cb5"/><stop offset="0.3874" stop-color="#1f70aa"/><stop offset="0.4448" stop-color="#135992"/><stop offset="0.5308" stop-color="#0c375e"/><stop offset="0.5739" stop-color="#0b3052"/><stop offset="0.6169" stop-color="#0a2f50"/><stop offset="0.6456" stop-color="#0c355b"/><stop offset="0.6600" stop-color="#0d3e69"/><stop offset="0.6887" stop-color="#125790"/><stop offset="0.7174" stop-color="#2273ae"/><stop offset="0.7317" stop-color="#2f81b9"/><stop offset="0.7747" stop-color="#5da2d0"/><stop offset="0.8178" stop-color="#85badd"/><stop offset="0.8608" stop-color="#9ac6e3"/><stop offset="0.9182" stop-color="#a4cbe6"/><stop offset="1.0000" stop-color="#a7cde7"/></linearGradient><linearGradient id="g96" x1="0" y1="0" x2="0" y2="1"><stop offset="0.0000" stop-color="#4291c5"/><stop offset="0.2152" stop-color="#3d8ec3"/><stop offset="0.2869" stop-color="#3687be"/><stop offset="0.3443" stop-color="#2b7cb5"/><stop offset="0.3874" stop-color="#2070ab"/><stop offset="0.4448" stop-color="#135a93"/><stop offset="0.5165" stop-color="#0d3d67"/><stop offset="0.5452" stop-color="#0c3459"/><stop offset="0.5882" stop-color="#0a2f50"/><stop offset="0.6169" stop-color="#0a2e4f"/><stop offset="0.6456" stop-color="#0c3458"/><stop offset="0.6600" stop-color="#0d3b64"/><stop offset="0.6887" stop-color="#105288"/><stop offset="0.7030" stop-color="#165f98"/><stop offset="0.7317" stop-color="#2779b2"/><stop offset="0.7747" stop-color="#4e99ca"/><stop offset="0.8178" stop-color="#72afd7"/><stop offset="0.8608" stop-color="#88bcde"/><stop offset="0.9182" stop-color="#94c3e1"/><stop offset="1.0000" stop-color="#96c4e2"/></linearGradient><linearGradient id="g97" x1="0" y1="0" x2="0" y2="1"><stop offset="0.0000" stop-color="#4291c5"/><stop offset="0.1435" stop-color="#4190c5"/><stop offset="0.2296" stop-color="#3c8dc3"/><stop offset="0.3443" stop-color="#2c7db6"/><stop offset="0.3874" stop-color="#2071ac"/><stop offset="0.4448" stop-color="#145b94"/><stop offset="0.5452" stop-color="#0c355a"/><stop offset="0.5882" stop-color="#0a2f51"/><stop offset="0.6169" stop-color="#0a2e4f"/><stop offset="0.6456" stop-color="#0b3458"/><stop offset="0.6600" stop-color="#0d3b64"/><stop offset="0.6887" stop-color="#10548c"/><stop offset="0.7174" stop-color="#2172ad"/><stop offset="0.7461" stop-color="#3c8dc3"/><stop offset="0.7747" stop-color="#60a5d1"/><stop offset="0.8178" stop-color="#8fc0e0"/><stop offset="0.8608" stop-color="#a7cde7"/><stop offset="0.9182" stop-color="#b4d4eb"/><stop offset="1.0000" stop-color="#b8d6ec"/></linearGradient><linearGradient id="g98" x1="0" y1="0" x2="0" y2="1"><stop offset="0.0000" stop-color="#4291c5"/><stop offset="0.2296" stop-color="#3c8dc3"/><stop offset="0.3443" stop-color="#2c7eb6"/><stop offset="0.3874" stop-color="#2172ad"/><stop offset="0.4448" stop-color="#145c95"/><stop offset="0.4735" stop-color="#0f5086"/><stop offset="0.5452" stop-color="#0c355b"/><stop offset="0.5882" stop-color="#0b2f51"/><stop offset="0.6169" stop-color="#0a2e4f"/><stop offset="0.6456" stop-color="#0b3356"/><stop offset="0.6600" stop-color="#0c3860"/><stop offset="0.6887" stop-color="#0f4f85"/><stop offset="0.7030" stop-color="#155d96"/><stop offset="0.7174" stop-color="#1d6ba5"/><stop offset="0.7461" stop-color="#3486bd"/><stop offset="0.7891" stop-color="#62a6d2"/><stop offset="0.8321" stop-color="#8abddf"/><stop offset="0.8608" stop-color="#99c6e3"/><stop offset="0.9182" stop-color="#a6cde7"/><stop offset="1.0000" stop-color="#aacfe8"/></linearGradient><linearGradient id="g99" x1="0" y1="0" x2="0" y2="1"><stop offset="0.0000" stop-color="#4291c5"/><stop offset="0.2296" stop-color="#3c8ec3"/><stop offset="0.3443" stop-color="#2d7eb7"/><stop offset="0.3874" stop-color="#2172ad"/><stop offset="0.4448" stop-color="#155d96"/><stop offset="0.4735" stop-color="#105187"/><stop offset="0.5452" stop-color="#0c355b"/><stop offset="0.5882" stop-color="#0b2f51"/><stop offset="0.6169" stop-color="#0a2e4f"/><stop offset="0.6313" stop-color="#0a2f50"/><stop offset="0.6600" stop-color="#0c365c"/><stop offset="0.7030" stop-color="#125790"/><stop offset="0.7317" stop-color="#2172ad"/><stop offset="0.7604" stop-color="#388ac0"/><stop offset="0.7891" stop-color="#559ecd"/><stop offset="0.8321" stop-color="#7ab4d9"/><stop offset="0.8752" stop-color="#90c1e0"/><stop offset="0.9182" stop-color="#99c5e3"/><stop offset="1.0000" stop-color="#9dc8e4"/></linearGradient><linearGradient id="g100" x1="0" y1="0" x2="0" y2="1"><stop offset="0.0000" stop-color="#4291c5"/><stop offset="0.2009" stop-color="#3f8fc4"/><stop offset="0.2726" stop-color="#388ac1"/><stop offset="0.3443" stop-color="#2d7fb7"/><stop offset="0.3874" stop-color="#2273ae"/><stop offset="0.4448" stop-color="#155e97"/><stop offset="0.4735" stop-color="#105288"/><stop offset="0.5452" stop-color="#0c365c"/><stop offset="0.5882" stop-color="#0b3051"/><stop offset="0.6313" stop-color="#0a2f50"/><stop offset="0.6600" stop-color="#0c365c"/><stop offset="0.6887" stop-color="#0f4d81"/><stop offset="0.7174" stop-color="#1c6aa4"/><stop offset="0.7461" stop-color="#3586bd"/><stop offset="0.7891" stop-color="#6aabd5"/><stop offset="0.8178" stop-color="#8cbedf"/><stop offset="0.8321" stop-color="#98c5e3"/><stop offset="0.8752" stop-color="#afd1e9"/><stop offset="0.9326" stop-color="#bcd8ed"/><stop offset="1.0000" stop-color="#bed9ee"/></linearGradient><linearGradient id="g101" x1="0" y1="0" x2="0" y2="1"><stop offset="0.0000" stop-color="#4291c5"/><stop offset="0.2009" stop-color="#3f8fc4"/><stop offset="0.2726" stop-color="#398ac1"/><stop offset="0.3443" stop-color="#2d7fb7"/><stop offset="0.4017" stop-color="#1f6faa"/><stop offset="0.4448" stop-color="#165f98"/><stop offset="0.4735" stop-color="#10538a"/><stop offset="0.5452" stop-color="#0c365d"/><stop offset="0.5882" stop-color="#0b3052"/><stop offset="0.6313" stop-color="#0a2e4f"/><stop offset="0.6600" stop-color="#0c355a"/><stop offset="0.6743" stop-color="#0d3e68"/><stop offset="0.7030" stop-color="#125790"/><stop offset="0.7174" stop-color="#1a669f"/><stop offset="0.7317" stop-color="#2374af"/><stop offset="0.7604" stop-color="#3f8fc4"/><stop offset="0.7891" stop-color="#63a6d2"/><stop offset="0.8321" stop-color="#92c2e1"/><stop offset="0.8752" stop-color="#aacfe8"/><stop offset="0.9326" stop-color="#b8d6ec"/><stop offset="1.0000" stop-color="#bbd8ed"/></linearGradient><linearGradient id="g102" x1="0" y1="0" x2="0" y2="1"><stop offset="0.0000" stop-color="#4291c5"/><stop offset="0.2009" stop-color="#3f8fc4"/><stop offset="0.2726" stop-color="#398bc1"/><stop offset="0.3443" stop-color="#2e7fb8"/><stop offset="0.4017" stop-color="#1f70ab"/><stop offset="0.4448" stop-color="#166099"/><stop offset="0.4735" stop-color="#10548b"/><stop offset="0.5452" stop-color="#0c375e"/><stop offset="0.5882" stop-color="#0b3052"/><stop offset="0.6313" stop-color="#0a2e4f"/><stop offset="0.6600" stop-color="#0c3458"/><stop offset="0.6743" stop-color="#0d3c65"/><stop offset="0.7030" stop-color="#10548c"/><stop offset="0.7317" stop-color="#2070ab"/><stop offset="0.7604" stop-color="#398bc1"/><stop offset="0.7891" stop-color="#5ca2d0"/><stop offset="0.8321" stop-color="#8bbedf"/><stop offset="0.8752" stop-color="#a5cce6"/><stop offset="0.9326" stop-color="#b3d3eb"/><stop offset="1.0000" stop-color="#b8d6ec"/></linearGradient><linearGradient id="g103" x1="0" y1="0" x2="0" y2="1"><stop offset="0.0000" stop-color="#4291c5"/><stop offset="0.2296" stop-color="#3d8ec3"/><stop offset="0.3013" stop-color="#3687be"/><stop offset="0.3587" stop-color="#2b7db6"/><stop offset="0.4017" stop-color="#2071ac"/><stop offset="0.4591" stop-color="#145a93"/><stop offset="0.5308" stop-color="#0d3d67"/><stop offset="0.5595" stop-color="#0c3459"/><stop offset="0.6026" stop-color="#0a2f50"/><stop offset="0.6313" stop-color="#0a2e4f"/><stop offset="0.6600" stop-color="#0b3357"/><stop offset="0.6743" stop-color="#0c3961"/><stop offset="0.7030" stop-color="#105186"/><stop offset="0.7174" stop-color="#165e97"/><stop offset="0.7317" stop-color="#1d6ca7"/><stop offset="0.7604" stop-color="#3587be"/><stop offset="0.8034" stop-color="#66a8d3"/><stop offset="0.8465" stop-color="#90c1e0"/><stop offset="0.8752" stop-color="#a0c9e5"/><stop offset="0.9326" stop-color="#afd1e9"/><stop offset="1.0000" stop-color="#b4d4eb"/></linearGradient><linearGradient id="g104" x1="0" y1="0" x2="0" y2="1"><stop offset="0.0000" stop-color="#4291c5"/><stop offset="0.2296" stop-color="#3d8ec3"/><stop offset="0.3013" stop-color="#3688bf"/><stop offset="0.3587" stop-color="#2c7db6"/><stop offset="0.4017" stop-color="#2071ac"/><stop offset="0.4591" stop-color="#145b94"/><stop offset="0.5595" stop-color="#0c355a"/><stop offset="0.6026" stop-color="#0a2f50"/><stop offset="0.6313" stop-color="#0a2e4e"/><stop offset="0.6600" stop-color="#0b3256"/><stop offset="0.6743" stop-color="#0c375e"/><stop offset="0.7174" stop-color="#145a93"/><stop offset="0.7461" stop-color="#2576b0"/><stop offset="0.7604" stop-color="#3183ba"/><stop offset="0.8034" stop-color="#5fa4d1"/><stop offset="0.8465" stop-color="#89bdde"/><stop offset="0.8752" stop-color="#9ac6e3"/><stop offset="0.9326" stop-color="#abcfe8"/><stop offset="1.0000" stop-color="#b0d2ea"/></linearGradient><linearGradient id="g105" x1="0" y1="0" x2="0" y2="1"><stop offset="0.0000" stop-color="#4291c5"/><stop offset="0.2152" stop-color="#3f8fc4"/><stop offset="0.2869" stop-color="#388ac0"/><stop offset="0.3587" stop-color="#2c7eb6"/><stop offset="0.4017" stop-color="#2172ad"/><stop offset="0.4591" stop-color="#155c95"/><stop offset="0.4878" stop-color="#0f5086"/><stop offset="0.5595" stop-color="#0c355a"/><stop offset="0.6026" stop-color="#0a2f50"/><stop offset="0.6313" stop-color="#0a2e4e"/><stop offset="0.6456" stop-color="#0a2f50"/><stop offset="0.6743" stop-color="#0c365c"/><stop offset="0.7174" stop-color="#12578f"/><stop offset="0.7461" stop-color="#2172ad"/><stop offset="0.7747" stop-color="#398bc1"/><stop offset="0.8034" stop-color="#59a0ce"/><stop offset="0.8465" stop-color="#83b9dc"/><stop offset="0.8752" stop-color="#95c4e2"/><stop offset="0.9326" stop-color="#a6cde7"/><stop offset="1.0000" stop-color="#acd0e8"/></linearGradient><linearGradient id="g106" x1="0" y1="0" x2="0" y2="1"><stop offset="0.0000" stop-color="#4291c5"/><stop offset="0.2152" stop-color="#3f8fc4"/><stop offset="0.2869" stop-color="#388ac0"/><stop offset="0.3587" stop-color="#2d7eb7"/><stop offset="0.4017" stop-color="#2273ad"/><stop offset="0.4591" stop-color="#155d96"/><stop offset="0.4878" stop-color="#105187"/><stop offset="0.5595" stop-color="#0c355b"/><stop offset="0.6026" stop-color="#0a2f50"/><stop offset="0.6313" stop-color="#0a2e4e"/><stop offset="0.6456" stop-color="#0a2e4f"/><stop offset="0.6743" stop-color="#0c355a"/><stop offset="0.6887" stop-color="#0d3d67"/><stop offset="0.7174" stop-color="#10548c"/><stop offset="0.7604" stop-color="#297bb4"/><stop offset="0.8034" stop-color="#539ccc"/><stop offset="0.8465" stop-color="#7cb5da"/><stop offset="0.8895" stop-color="#96c4e2"/><stop offset="0.9326" stop-color="#a2cae6"/><stop offset="1.0000" stop-color="#a8cee7"/></linearGradient><linearGradient id="g107" x1="0" y1="0" x2="0" y2="1"><stop offset="0.0000" stop-color="#4291c5"/><stop offset="0.2152" stop-color="#3f8fc4"/><stop offset="0.2869" stop-color="#388ac1"/><stop offset="0.3587" stop-color="#2d7fb7"/><stop offset="0.4161" stop-color="#1f6fa9"/><stop offset="0.4591" stop-color="#155e97"/><stop offset="0.4878" stop-color="#105289"/><stop offset="0.5595" stop-color="#0c365b"/><stop offset="0.6026" stop-color="#0a2f51"/><stop offset="0.6313" stop-color="#0a2e4e"/><stop offset="0.6456" stop-color="#0a2e4f"/><stop offset="0.6743" stop-color="#0b3458"/><stop offset="0.6887" stop-color="#0d3b63"/><stop offset="0.7174" stop-color="#105187"/><stop offset="0.7317" stop-color="#155d96"/><stop offset="0.7604" stop-color="#2677b1"/><stop offset="0.7891" stop-color="#3d8ec3"/><stop offset="0.8034" stop-color="#4d98c9"/><stop offset="0.8465" stop-color="#75b1d8"/><stop offset="0.8895" stop-color="#91c1e1"/><stop offset="0.9326" stop-color="#9dc8e4"/><stop offset="1.0000" stop-color="#a4cce6"/></linearGradient><linearGradient id="g108" x1="0" y1="0" x2="0" y2="1"><stop offset="0.0000" stop-color="#4291c5"/><stop offset="0.2152" stop-color="#3f8fc4"/><stop offset="0.2869" stop-color="#398bc1"/><stop offset="0.3587" stop-color="#2e7fb8"/><stop offset="0.4161" stop-color="#1f6faa"/><stop offset="0.4591" stop-color="#165f98"/><stop offset="0.4878" stop-color="#10538a"/><stop offset="0.5595" stop-color="#0c365c"/><stop offset="0.6026" stop-color="#0b2f51"/><stop offset="0.6456" stop-color="#0a2e4e"/><stop offset="0.6743" stop-color="#0b3357"/><stop offset="0.6887" stop-color="#0c3960"/><stop offset="0.7317" stop-color="#135a92"/><stop offset="0.7604" stop-color="#2273ae"/><stop offset="0.8034" stop-color="#4794c7"/><stop offset="0.8465" stop-color="#6eadd6"/><stop offset="0.8895" stop-color="#8bbedf"/><stop offset="0.9326" stop-color="#99c6e3"/><stop offset="1.0000" stop-color="#a0cae5"/></linearGradient><linearGradient id="g109" x1="0" y1="0" x2="0" y2="1"><stop offset="0.0000" stop-color="#4291c5"/><stop offset="0.2152" stop-color="#3f8fc4"/><stop offset="0.2869" stop-color="#398bc1"/><stop offset="0.3587" stop-color="#2e80b8"/><stop offset="0.4161" stop-color="#1f70ab"/><stop offset="0.4591" stop-color="#166099"/><stop offset="0.4878" stop-color="#10548b"/><stop offset="0.5595" stop-color="#0c375d"/><stop offset="0.6026" stop-color="#0b3051"/><stop offset="0.6456" stop-color="#0a2e4e"/><stop offset="0.6743" stop-color="#0b3255"/><stop offset="0.6887" stop-color="#0c375d"/><stop offset="0.7317" stop-color="#11578f"/><stop offset="0.7604" stop-color="#1f6faa"/><stop offset="0.8034" stop-color="#4190c5"/><stop offset="0.8608" stop-color="#73b0d7"/><stop offset="0.8895" stop-color="#85badd"/><stop offset="0.9326" stop-color="#94c3e2"/><stop offset="1.0000" stop-color="#9cc7e4"/></linearGradient><linearGradient id="g110" x1="0" y1="0" x2="0" y2="1"><stop offset="0.0000" stop-color="#4291c5"/><stop offset="0.2439" stop-color="#3d8ec3"/><stop offset="0.3156" stop-color="#3688be"/><stop offset="0.3730" stop-color="#2b7db6"/><stop offset="0.4161" stop-color="#2071ac"/><stop offset="0.4735" stop-color="#145b93"/><stop offset="0.5452" stop-color="#0d3d66"/><stop offset="0.5739" stop-color="#0c3459"/><stop offset="0.6169" stop-color="#0a2e4f"/><stop offset="0.6456" stop-color="#0a2d4e"/><stop offset="0.6600" stop-color="#0a2f50"/><stop offset="0.6887" stop-color="#0c355b"/><stop offset="0.7030" stop-color="#0d3e68"/><stop offset="0.7317" stop-color="#10538b"/><stop offset="0.7747" stop-color="#2677b1"/><stop offset="0.8034" stop-color="#3b8dc2"/><stop offset="0.8608" stop-color="#6dacd5"/><stop offset="0.8895" stop-color="#7fb7db"/><stop offset="0.9326" stop-color="#90c1e0"/><stop offset="1.0000" stop-color="#98c5e3"/></linearGradient><linearGradient id="g111" x1="0" y1="0" x2="0" y2="1"><stop offset="0.0000" stop-color="#4291c5"/><stop offset="0.2296" stop-color="#3e8fc4"/><stop offset="0.3013" stop-color="#388ac0"/><stop offset="0.3730" stop-color="#2c7db6"/><stop offset="0.4161" stop-color="#2071ac"/><stop offset="0.4735" stop-color="#145b94"/><stop offset="0.5739" stop-color="#0c3459"/><stop offset="0.6169" stop-color="#0a2e4f"/><stop offset="0.6456" stop-color="#0a2d4e"/><stop offset="0.6887" stop-color="#0c3459"/><stop offset="0.7030" stop-color="#0d3c65"/><stop offset="0.7317" stop-color="#105086"/><stop offset="0.7747" stop-color="#2374ae"/><stop offset="0.8178" stop-color="#4392c6"/><stop offset="0.8752" stop-color="#71afd7"/><stop offset="0.9039" stop-color="#80b8db"/><stop offset="0.9469" stop-color="#8ec0e0"/><stop offset="1.0000" stop-color="#94c3e2"/></linearGradient><linearGradient id="g112" x1="0" y1="0" x2="0" y2="1"><stop offset="0.0000" stop-color="#4291c5"/><stop offset="0.2296" stop-color="#3f8fc4"/><stop offset="0.3013" stop-color="#388ac0"/><stop offset="0.3730" stop-color="#2c7eb6"/><stop offset="0.4161" stop-color="#2172ad"/><stop offset="0.4735" stop-color="#155c95"/><stop offset="0.5022" stop-color="#0f5086"/><stop offset="0.5452" stop-color="#0d3e69"/><stop offset="0.5739" stop-color="#0c355a"/><stop offset="0.6169" stop-color="#0a2f50"/><stop offset="0.6456" stop-color="#0a2d4d"/><stop offset="0.6887" stop-color="#0b3458"/><stop offset="0.7030" stop-color="#0c3a62"/><stop offset="0.7461" stop-color="#135991"/><stop offset="0.7747" stop-color="#1f70ab"/><stop offset="0.8178" stop-color="#3e8ec4"/><stop offset="0.8465" stop-color="#569ecd"/><stop offset="0.9039" stop-color="#7ab4da"/><stop offset="0.9469" stop-color="#89bdde"/><stop offset="1.0000" stop-color="#90c1e0"/></linearGradient><linearGradient id="g113" x1="0" y1="0" x2="0" y2="1"><stop offset="0.0000" stop-color="#4291c5"/><stop offset="0.2296" stop-color="#3f8fc4"/><stop offset="0.3013" stop-color="#388ac0"/><stop offset="0.3730" stop-color="#2d7eb7"/><stop offset="0.4161" stop-color="#2273ad"/><stop offset="0.4735" stop-color="#155d96"/><stop offset="0.5022" stop-color="#105187"/><stop offset="0.5739" stop-color="#0c355b"/><stop offset="0.6169" stop-color="#0a2f50"/><stop offset="0.6456" stop-color="#0a2d4d"/><stop offset="0.6743" stop-color="#0b2f51"/><stop offset="0.7030" stop-color="#0c385f"/><stop offset="0.7461" stop-color="#11568e"/><stop offset="0.7747" stop-color="#1d6ca7"/><stop offset="0.8178" stop-color="#398bc1"/><stop offset="0.8608" stop-color="#5ba1cf"/><stop offset="0.9039" stop-color="#75b1d8"/><stop offset="0.9469" stop-color="#84badd"/><stop offset="1.0000" stop-color="#8cbedf"/></linearGradient><linearGradient id="g114" x1="0" y1="0" x2="0" y2="1"><stop offset="0.0000" stop-color="#4291c5"/><stop offset="0.2296" stop-color="#3f8fc4"/><stop offset="0.3013" stop-color="#388ac1"/><stop offset="0.3730" stop-color="#2d7fb7"/><stop offset="0.4304" stop-color="#1f6fa9"/><stop offset="0.4735" stop-color="#165e97"/><stop offset="0.5022" stop-color="#105289"/><stop offset="0.5739" stop-color="#0c355b"/><stop offset="0.6169" stop-color="#0a2f50"/><stop offset="0.6456" stop-color="#0a2d4d"/><stop offset="0.6743" stop-color="#0a2f50"/><stop offset="0.7030" stop-color="#0c365c"/><stop offset="0.7461" stop-color="#10538a"/><stop offset="0.7891" stop-color="#2374ae"/><stop offset="0.8321" stop-color="#4090c4"/><stop offset="0.8752" stop-color="#5fa4d1"/><stop offset="0.9182" stop-color="#75b1d8"/><stop offset="0.9613" stop-color="#82b8dc"/><stop offset="1.0000" stop-color="#87bcde"/></linearGradient><linearGradient id="g115" x1="0" y1="0" x2="0" y2="1"><stop offset="0.0000" stop-color="#4291c5"/><stop offset="0.2296" stop-color="#3f8fc4"/><stop offset="0.3013" stop-color="#398bc1"/><stop offset="0.3730" stop-color="#2e7fb8"/><stop offset="0.4304" stop-color="#1f6faa"/><stop offset="0.4735" stop-color="#165f98"/><stop offset="0.5022" stop-color="#10538a"/><stop offset="0.5739" stop-color="#0c365c"/><stop offset="0.6169" stop-color="#0a2f50"/><stop offset="0.6600" stop-color="#0a2d4d"/><stop offset="0.7030" stop-color="#0c355a"/><stop offset="0.7174" stop-color="#0d3c66"/><stop offset="0.7461" stop-color="#0f5085"/><stop offset="0.7891" stop-color="#2070ab"/><stop offset="0.8321" stop-color="#3a8cc2"/><stop offset="0.8752" stop-color="#59a0cf"/><stop offset="0.9182" stop-color="#70aed6"/><stop offset="0.9613" stop-color="#7db6da"/><stop offset="1.0000" stop-color="#82b9dc"/></linearGradient><linearGradient id="g116" x1="0" y1="0" x2="0" y2="1"><stop offset="0.0000" stop-color="#4291c5"/><stop offset="0.2296" stop-color="#3f8fc4"/><stop offset="0.3013" stop-color="#398bc1"/><stop offset="0.3730" stop-color="#2e80b8"/><stop offset="0.4304" stop-color="#1f70ab"/><stop offset="0.4735" stop-color="#165f99"/><stop offset="0.5022" stop-color="#10538b"/><stop offset="0.5739" stop-color="#0c365c"/><stop offset="0.6169" stop-color="#0a2f51"/><stop offset="0.6600" stop-color="#0a2d4d"/><stop offset="0.7030" stop-color="#0c3459"/><stop offset="0.7174" stop-color="#0d3b64"/><stop offset="0.7604" stop-color="#125891"/><stop offset="0.7891" stop-color="#1e6ea8"/><stop offset="0.8321" stop-color="#388ac0"/><stop offset="0.8752" stop-color="#569ecd"/><stop offset="0.9182" stop-color="#6cacd5"/><stop offset="0.9613" stop-color="#79b4d9"/><stop offset="1.0000" stop-color="#7fb7db"/></linearGradient><linearGradient id="g117" x1="0" y1="0" x2="0" y2="1"><stop offset="0.0000" stop-color="#2779b2"/><stop offset="0.0568" stop-color="#2172ad"/><stop offset="0.1420" stop-color="#155e97"/><stop offset="0.1705" stop-color="#10548c"/><stop offset="0.2557" stop-color="#0c365b"/><stop offset="0.2841" stop-color="#0b3052"/><stop offset="0.3409" stop-color="#092a48"/><stop offset="0.3693" stop-color="#092a49"/><stop offset="0.4261" stop-color="#0b3358"/><stop offset="0.4545" stop-color="#0d3f6a"/><stop offset="0.4830" stop-color="#0f4f84"/><stop offset="0.5114" stop-color="#166099"/><stop offset="0.5398" stop-color="#2070ab"/><stop offset="0.5682" stop-color="#2e7fb8"/><stop offset="0.6250" stop-color="#4c98c9"/><stop offset="0.7102" stop-color="#71afd7"/><stop offset="0.7670" stop-color="#7eb6db"/><stop offset="0.8523" stop-color="#85badd"/><stop offset="1.0000" stop-color="#87bcde"/></linearGradient><linearGradient id="g118" x1="0" y1="0" x2="0" y2="1"><stop offset="0.0000" stop-color="#2879b3"/><stop offset="0.0568" stop-color="#2273ae"/><stop offset="0.1136" stop-color="#1b68a2"/><stop offset="0.1705" stop-color="#125790"/><stop offset="0.2557" stop-color="#0c3860"/><stop offset="0.2841" stop-color="#0b3255"/><stop offset="0.3409" stop-color="#092b49"/><stop offset="0.3693" stop-color="#092a48"/><stop offset="0.4261" stop-color="#0b3154"/><stop offset="0.4545" stop-color="#0d3b63"/><stop offset="0.5114" stop-color="#145a93"/><stop offset="0.5682" stop-color="#297bb4"/><stop offset="0.6250" stop-color="#4794c7"/><stop offset="0.7102" stop-color="#6dacd5"/><stop offset="0.7670" stop-color="#7bb5da"/><stop offset="0.8523" stop-color="#83b9dc"/><stop offset="1.0000" stop-color="#86bbdd"/></linearGradient><linearGradient id="g119" x1="0" y1="0" x2="0" y2="1"><stop offset="0.0000" stop-color="#297ab3"/><stop offset="0.0852" stop-color="#2071ac"/><stop offset="0.1420" stop-color="#18639d"/><stop offset="0.1989" stop-color="#105187"/><stop offset="0.2841" stop-color="#0b3458"/><stop offset="0.3409" stop-color="#0a2b4a"/><stop offset="0.3693" stop-color="#092a48"/><stop offset="0.3977" stop-color="#0a2b4a"/><stop offset="0.4545" stop-color="#0c365c"/><stop offset="0.5114" stop-color="#10558d"/><stop offset="0.5682" stop-color="#2476b0"/><stop offset="0.6250" stop-color="#4190c5"/><stop offset="0.6534" stop-color="#519bcb"/><stop offset="0.7102" stop-color="#68aad4"/><stop offset="0.7670" stop-color="#78b3d9"/><stop offset="0.8523" stop-color="#81b8dc"/><stop offset="1.0000" stop-color="#84badd"/></linearGradient><linearGradient id="g120" x1="0" y1="0" x2="0" y2="1"><stop offset="0.0000" stop-color="#297bb4"/><stop offset="0.0852" stop-color="#2172ad"/><stop offset="0.1420" stop-color="#1a66a0"/><stop offset="0.1989" stop-color="#10548d"/><stop offset="0.2841" stop-color="#0c365b"/><stop offset="0.3409" stop-color="#0a2c4c"/><stop offset="0.3977" stop-color="#092a49"/><stop offset="0.4545" stop-color="#0b3358"/><stop offset="0.4830" stop-color="#0d3f6a"/><stop offset="0.5114" stop-color="#0f4f84"/><stop offset="0.5682" stop-color="#2070ab"/><stop offset="0.6250" stop-color="#3a8cc2"/><stop offset="0.6818" stop-color="#59a0ce"/><stop offset="0.7670" stop-color="#74b1d8"/><stop offset="0.8523" stop-color="#7fb7db"/><stop offset="1.0000" stop-color="#82b9dc"/></linearGradient><linearGradient id="g121" x1="0" y1="0" x2="0" y2="1"><stop offset="0.0000" stop-color="#2a7bb4"/><stop offset="0.0852" stop-color="#2374ae"/><stop offset="0.1420" stop-color="#1b69a3"/><stop offset="0.1989" stop-color="#125890"/><stop offset="0.2841" stop-color="#0c3960"/><stop offset="0.3125" stop-color="#0b3255"/><stop offset="0.3693" stop-color="#0a2b49"/><stop offset="0.3977" stop-color="#092a48"/><stop offset="0.4261" stop-color="#0a2c4b"/><stop offset="0.4545" stop-color="#0b3154"/><stop offset="0.4830" stop-color="#0d3a62"/><stop offset="0.5398" stop-color="#135a92"/><stop offset="0.5966" stop-color="#287ab3"/><stop offset="0.6534" stop-color="#4593c6"/><stop offset="0.6818" stop-color="#549dcc"/><stop offset="0.7386" stop-color="#69aad4"/><stop offset="0.7955" stop-color="#76b2d8"/><stop offset="0.8807" stop-color="#7eb6db"/><stop offset="1.0000" stop-color="#80b8db"/></linearGradient><linearGradient id="g122" x1="0" y1="0" x2="0" y2="1"><stop offset="0.0000" stop-color="#2a7cb5"/><stop offset="0.0852" stop-color="#2475af"/><stop offset="0.1420" stop-color="#1d6ba5"/><stop offset="0.2273" stop-color="#105188"/><stop offset="0.3125" stop-color="#0c3458"/><stop offset="0.3693" stop-color="#0a2c4b"/><stop offset="0.3977" stop-color="#092a48"/><stop offset="0.4261" stop-color="#0a2b4a"/><stop offset="0.4830" stop-color="#0c365b"/><stop offset="0.5398" stop-color="#10548c"/><stop offset="0.5966" stop-color="#2375af"/><stop offset="0.6534" stop-color="#3f8fc4"/><stop offset="0.7102" stop-color="#5ba1cf"/><stop offset="0.7955" stop-color="#73b0d7"/><stop offset="0.8807" stop-color="#7cb5da"/><stop offset="1.0000" stop-color="#7eb6db"/></linearGradient><linearGradient id="g123" x1="0" y1="0" x2="0" y2="1"><stop offset="0.0000" stop-color="#2b7cb5"/><stop offset="0.0852" stop-color="#2576b0"/><stop offset="0.1420" stop-color="#1e6da8"/><stop offset="0.2273" stop-color="#11558d"/><stop offset="0.3125" stop-color="#0c365c"/><stop offset="0.3693" stop-color="#0a2d4c"/><stop offset="0.4261" stop-color="#092a48"/><stop offset="0.4830" stop-color="#0b3357"/><stop offset="0.5114" stop-color="#0d3e69"/><stop offset="0.5398" stop-color="#0f4e82"/><stop offset="0.5966" stop-color="#1f6faa"/><stop offset="0.6534" stop-color="#398bc1"/><stop offset="0.7102" stop-color="#569ecd"/><stop offset="0.7955" stop-color="#70aed6"/><stop offset="0.8807" stop-color="#7ab4d9"/><stop offset="1.0000" stop-color="#7cb5da"/></linearGradient><linearGradient id="g124" x1="0" y1="0" x2="0" y2="1"><stop offset="0.0000" stop-color="#2b7cb5"/><stop offset="0.1136" stop-color="#2374ae"/><stop offset="0.1705" stop-color="#1c69a3"/><stop offset="0.2273" stop-color="#125891"/><stop offset="0.3125" stop-color="#0c3961"/><stop offset="0.3409" stop-color="#0b3256"/><stop offset="0.3977" stop-color="#0a2b49"/><stop offset="0.4261" stop-color="#092a48"/><stop offset="0.4545" stop-color="#0a2c4b"/><stop offset="0.4830" stop-color="#0b3153"/><stop offset="0.5114" stop-color="#0c3962"/><stop offset="0.5682" stop-color="#135991"/><stop offset="0.6250" stop-color="#2779b2"/><stop offset="0.6818" stop-color="#4392c6"/><stop offset="0.7386" stop-color="#5ca2d0"/><stop offset="0.8239" stop-color="#72afd7"/><stop offset="0.8807" stop-color="#78b3d9"/><stop offset="1.0000" stop-color="#7bb4da"/></linearGradient><linearGradient id="g125" x1="0" y1="0" x2="0" y2="1"><stop offset="0.0000" stop-color="#2b7db5"/><stop offset="0.1136" stop-color="#2475af"/><stop offset="0.1705" stop-color="#1d6ba6"/><stop offset="0.2557" stop-color="#105289"/><stop offset="0.3409" stop-color="#0c3459"/><stop offset="0.3977" stop-color="#0a2c4b"/><stop offset="0.4261" stop-color="#092a48"/><stop offset="0.4545" stop-color="#0a2b4a"/><stop offset="0.4830" stop-color="#0a2f51"/><stop offset="0.5114" stop-color="#0c365d"/><stop offset="0.5682" stop-color="#11578f"/><stop offset="0.6250" stop-color="#2879b3"/><stop offset="0.6818" stop-color="#4895c7"/><stop offset="0.7670" stop-color="#71afd7"/><stop offset="0.8239" stop-color="#80b8db"/><stop offset="0.8807" stop-color="#87bcde"/><stop offset="1.0000" stop-color="#8bbedf"/></linearGradient><linearGradient id="g126" x1="0" y1="0" x2="0" y2="1"><stop offset="0.0000" stop-color="#2b7db6"/><stop offset="0.0852" stop-color="#2879b2"/><stop offset="0.1705" stop-color="#1e6da8"/><stop offset="0.2557" stop-color="#11558d"/><stop offset="0.3409" stop-color="#0c365c"/><stop offset="0.3977" stop-color="#0a2d4c"/><stop offset="0.4545" stop-color="#092a48"/><stop offset="0.4830" stop-color="#0a2d4e"/><stop offset="0.5114" stop-color="#0b3358"/><stop offset="0.5398" stop-color="#0d3f6b"/><stop offset="0.5682" stop-color="#0f5085"/><stop offset="0.6250" stop-color="#2172ad"/><stop offset="0.6818" stop-color="#3e8ec4"/><stop offset="0.7386" stop-color="#5ca2d0"/><stop offset="0.8239" stop-color="#77b2d9"/><stop offset="0.9091" stop-color="#81b8dc"/><stop offset="1.0000" stop-color="#83b9dc"/></linearGradient><linearGradient id="g127" x1="0" y1="0" x2="0" y2="1"><stop offset="0.0000" stop-color="#2c7db6"/><stop offset="0.0852" stop-color="#287ab3"/><stop offset="0.1705" stop-color="#1f6faa"/><stop offset="0.2557" stop-color="#125891"/><stop offset="0.3409" stop-color="#0c3961"/><stop offset="0.3693" stop-color="#0b3256"/><stop offset="0.4261" stop-color="#0a2b49"/><stop offset="0.4545" stop-color="#092a48"/><stop offset="0.4830" stop-color="#0a2c4b"/><stop offset="0.5114" stop-color="#0b3154"/><stop offset="0.5398" stop-color="#0d3a62"/><stop offset="0.5966" stop-color="#135a93"/><stop offset="0.6534" stop-color="#297ab4"/><stop offset="0.7102" stop-color="#4593c6"/><stop offset="0.7670" stop-color="#5ea3d0"/><stop offset="0.8239" stop-color="#6eadd6"/><stop offset="0.9091" stop-color="#78b3d9"/><stop offset="1.0000" stop-color="#7bb5da"/></linearGradient><linearGradient id="g128" x1="0" y1="0" x2="0" y2="1"><stop offset="0.0000" stop-color="#2c7db6"/><stop offset="0.1136" stop-color="#2778b2"/><stop offset="0.1989" stop-color="#1d6ba6"/><stop offset="0.2841" stop-color="#105288"/><stop offset="0.3693" stop-color="#0c3459"/><stop offset="0.4261" stop-color="#0a2c4b"/><stop offset="0.4545" stop-color="#092a48"/><stop offset="0.4830" stop-color="#0a2b49"/><stop offset="0.5398" stop-color="#0c355b"/><stop offset="0.5966" stop-color="#10538b"/><stop offset="0.6250" stop-color="#19649d"/><stop offset="0.6534" stop-color="#2274ae"/><stop offset="0.7102" stop-color="#3c8dc3"/><stop offset="0.7670" stop-color="#569ecd"/><stop offset="0.8239" stop-color="#65a8d3"/><stop offset="0.9091" stop-color="#70aed6"/><stop offset="1.0000" stop-color="#73b0d7"/></linearGradient><linearGradient id="g129" x1="0" y1="0" x2="0" y2="1"><stop offset="0.0000" stop-color="#2c7db6"/><stop offset="0.1136" stop-color="#2879b2"/><stop offset="0.1989" stop-color="#1e6da8"/><stop offset="0.2841" stop-color="#11558d"/><stop offset="0.3693" stop-color="#0c365c"/><stop offset="0.4261" stop-color="#0a2d4c"/><stop offset="0.4830" stop-color="#092a48"/><stop offset="0.5398" stop-color="#0b3357"/><stop offset="0.5682" stop-color="#0d3e68"/><stop offset="0.5966" stop-color="#0f4d80"/><stop offset="0.6534" stop-color="#1e6da7"/><stop offset="0.7102" stop-color="#3587be"/><stop offset="0.7670" stop-color="#4d98ca"/><stop offset="0.8239" stop-color="#5da3d0"/><stop offset="0.9091" stop-color="#68a9d4"/><stop offset="1.0000" stop-color="#6babd5"/></linearGradient><linearGradient id="g130" x1="0" y1="0" x2="0" y2="1"><stop offset="0.0000" stop-color="#2c7db6"/><stop offset="0.1136" stop-color="#287ab3"/><stop offset="0.1989" stop-color="#1f6faa"/><stop offset="0.2841" stop-color="#125891"/><stop offset="0.3693" stop-color="#0c3961"/><stop offset="0.3977" stop-color="#0b3256"/><stop offset="0.4545" stop-color="#0a2b49"/><stop offset="0.4830" stop-color="#092a48"/><stop offset="0.5398" stop-color="#0b3053"/><stop offset="0.5682" stop-color="#0c3860"/><stop offset="0.6250" stop-color="#11568e"/><stop offset="0.6818" stop-color="#2374ae"/><stop offset="0.7386" stop-color="#398bc1"/><stop offset="0.7955" stop-color="#4e99ca"/><stop offset="0.8523" stop-color="#5aa1cf"/><stop offset="1.0000" stop-color="#63a7d2"/></linearGradient><linearGradient id="g131" x1="0" y1="0" x2="0" y2="1"><stop offset="0.0000" stop-color="#2c7eb6"/><stop offset="0.1420" stop-color="#2778b2"/><stop offset="0.2273" stop-color="#1d6ba5"/><stop offset="0.3125" stop-color="#105188"/><stop offset="0.3977" stop-color="#0c3459"/><stop offset="0.4545" stop-color="#0a2c4b"/><stop offset="0.4830" stop-color="#092a48"/><stop offset="0.5114" stop-color="#0a2b4a"/><stop offset="0.5398" stop-color="#0b2f51"/><stop offset="0.5682" stop-color="#0c375e"/><stop offset="0.6250" stop-color="#125891"/><stop offset="0.6534" stop-color="#1c6aa5"/><stop offset="0.7102" stop-color="#3789c0"/><stop offset="0.7670" stop-color="#589fce"/><stop offset="0.8239" stop-color="#6faed6"/><stop offset="0.8523" stop-color="#77b2d8"/><stop offset="0.9091" stop-color="#7fb7db"/><stop offset="1.0000" stop-color="#84badd"/></linearGradient><linearGradient id="g132" x1="0" y1="0" x2="0" y2="1"><stop offset="0.0000" stop-color="#2c7eb6"/><stop offset="0.1420" stop-color="#2779b2"/><stop offset="0.2273" stop-color="#1d6ca7"/><stop offset="0.3125" stop-color="#10538b"/><stop offset="0.3977" stop-color="#0c355a"/><stop offset="0.4545" stop-color="#0a2c4b"/><stop offset="0.5114" stop-color="#092b49"/><stop offset="0.5398" stop-color="#0a2e4f"/><stop offset="0.5682" stop-color="#0c355b"/><stop offset="0.6250" stop-color="#11558d"/><stop offset="0.6818" stop-color="#2677b1"/><stop offset="0.7386" stop-color="#4493c6"/><stop offset="0.7955" stop-color="#60a5d1"/><stop offset="0.8523" stop-color="#73b0d7"/><stop offset="0.9091" stop-color="#7cb5da"/><stop offset="1.0000" stop-color="#80b8db"/></linearGradient><linearGradient id="g133" x1="0" y1="0" x2="0" y2="1"><stop offset="0.0000" stop-color="#2c7eb6"/><stop offset="0.1420" stop-color="#2879b2"/><stop offset="0.2273" stop-color="#1e6da8"/><stop offset="0.3125" stop-color="#11558d"/><stop offset="0.3977" stop-color="#0c365c"/><stop offset="0.4545" stop-color="#0a2d4c"/><stop offset="0.5114" stop-color="#092a48"/><stop offset="0.5398" stop-color="#0a2d4e"/><stop offset="0.5682" stop-color="#0c3458"/><stop offset="0.5966" stop-color="#0d416d"/><stop offset="0.6250" stop-color="#105288"/><stop offset="0.6818" stop-color="#2374ae"/><stop offset="0.7386" stop-color="#4090c4"/><stop offset="0.7955" stop-color="#5ca2d0"/><stop offset="0.8523" stop-color="#6fadd6"/><stop offset="0.9091" stop-color="#78b3d9"/><stop offset="1.0000" stop-color="#7db6da"/></linearGradient><linearGradient id="g134" x1="0" y1="0" x2="0" y2="1"><stop offset="0.0000" stop-color="#2c7eb6"/><stop offset="0.1420" stop-color="#2879b3"/><stop offset="0.2273" stop-color="#1f6ea9"/><stop offset="0.3125" stop-color="#12578f"/><stop offset="0.3977" stop-color="#0c385f"/><stop offset="0.4261" stop-color="#0b3255"/><stop offset="0.4830" stop-color="#092b49"/><stop offset="0.5114" stop-color="#092a48"/><stop offset="0.5398" stop-color="#0a2d4c"/><stop offset="0.5682" stop-color="#0b3256"/><stop offset="0.5966" stop-color="#0d3e68"/><stop offset="0.6250" stop-color="#0f4e82"/><stop offset="0.6818" stop-color="#2070ab"/><stop offset="0.7386" stop-color="#3a8cc2"/><stop offset="0.7955" stop-color="#579fce"/><stop offset="0.8523" stop-color="#69aad4"/><stop offset="0.9091" stop-color="#73b0d7"/><stop offset="1.0000" stop-color="#78b3d9"/></linearGradient><linearGradient id="g135" x1="0" y1="0" x2="0" y2="1"><stop offset="0.0000" stop-color="#2c7eb6"/><stop offset="0.1420" stop-color="#287ab3"/><stop offset="0.2273" stop-color="#1f6faa"/><stop offset="0.3125" stop-color="#135991"/><stop offset="0.3977" stop-color="#0c3a62"/><stop offset="0.4261" stop-color="#0b3256"/><stop offset="0.4830" stop-color="#0a2b4a"/><stop offset="0.5114" stop-color="#092a48"/><stop offset="0.5398" stop-color="#0a2c4b"/><stop offset="0.5682" stop-color="#0b3154"/><stop offset="0.5966" stop-color="#0d3a63"/><stop offset="0.6534" stop-color="#145b94"/><stop offset="0.6818" stop-color="#1d6ca6"/><stop offset="0.7386" stop-color="#3688bf"/><stop offset="0.7955" stop-color="#519bcb"/><stop offset="0.8523" stop-color="#63a6d2"/><stop offset="0.9091" stop-color="#6dacd5"/><stop offset="1.0000" stop-color="#72afd7"/></linearGradient><linearGradient id="g136" x1="0" y1="0" x2="0" y2="1"><stop offset="0.0000" stop-color="#2c7eb6"/><stop offset="0.1420" stop-color="#297ab3"/><stop offset="0.2273" stop-color="#2070ab"/><stop offset="0.3125" stop-color="#145a93"/><stop offset="0.4261" stop-color="#0b3358"/><stop offset="0.4830" stop-color="#0a2b4a"/><stop offset="0.5114" stop-color="#092a48"/><stop offset="0.5398" stop-color="#0a2b4a"/><stop offset="0.5682" stop-color="#0b3052"/><stop offset="0.5966" stop-color="#0c385f"/><stop offset="0.6534" stop-color="#12578f"/><stop offset="0.7102" stop-color="#2677b1"/><stop offset="0.7670" stop-color="#3e8fc4"/><stop offset="0.7955" stop-color="#4c97c9"/><stop offset="0.8523" stop-color="#5da3d0"/><stop offset="0.9091" stop-color="#66a8d3"/><stop offset="1.0000" stop-color="#6cacd5"/></linearGradient><linearGradient id="g137" x1="0" y1="0" x2="0" y2="1"><stop offset="0.0000" stop-color="#2c7eb6"/><stop offset="0.1420" stop-color="#297ab4"/><stop offset="0.2273" stop-color="#2071ac"/><stop offset="0.2841" stop-color="#19659e"/><stop offset="0.3409" stop-color="#10528a"/><stop offset="0.4261" stop-color="#0c3459"/><stop offset="0.4830" stop-color="#0a2c4b"/><stop offset="0.5114" stop-color="#092a48"/><stop offset="0.5398" stop-color="#0a2b49"/><stop offset="0.5966" stop-color="#0c355b"/><stop offset="0.6534" stop-color="#10538a"/><stop offset="0.6818" stop-color="#18639d"/><stop offset="0.7102" stop-color="#2273ad"/><stop offset="0.7670" stop-color="#398bc1"/><stop offset="0.8239" stop-color="#509acb"/><stop offset="0.8523" stop-color="#579fce"/><stop offset="0.9091" stop-color="#60a5d1"/><stop offset="1.0000" stop-color="#65a8d3"/></linearGradient><linearGradient id="g138" x1="0" y1="0" x2="0" y2="1"><stop offset="0.0000" stop-color="#2c7eb6"/><stop offset="0.1420" stop-color="#297bb4"/><stop offset="0.2557" stop-color="#1e6da7"/><stop offset="0.3409" stop-color="#10548c"/><stop offset="0.4261" stop-color="#0c355b"/><stop offset="0.4830" stop-color="#0a2c4c"/><stop offset="0.5398" stop-color="#092a49"/><stop offset="0.5966" stop-color="#0b3458"/><stop offset="0.6250" stop-color="#0d406b"/><stop offset="0.6534" stop-color="#0f4f84"/><stop offset="0.7102" stop-color="#1f6fa9"/><stop offset="0.7670" stop-color="#3587be"/><stop offset="0.8239" stop-color="#4a97c9"/><stop offset="0.8807" stop-color="#579fce"/><stop offset="1.0000" stop-color="#60a4d1"/></linearGradient><linearGradient id="g139" x1="0" y1="0" x2="0" y2="1"><stop offset="0.0000" stop-color="#2c7eb6"/><stop offset="0.1420" stop-color="#2a7bb4"/><stop offset="0.2557" stop-color="#1e6ea9"/><stop offset="0.3409" stop-color="#11568e"/><stop offset="0.4261" stop-color="#0c375d"/><stop offset="0.4545" stop-color="#0b3154"/><stop offset="0.5114" stop-color="#092a49"/><stop offset="0.5398" stop-color="#092a48"/><stop offset="0.5966" stop-color="#0b3256"/><stop offset="0.6250" stop-color="#0d3d66"/><stop offset="0.6818" stop-color="#145b94"/><stop offset="0.7102" stop-color="#1c6aa5"/><stop offset="0.7670" stop-color="#3183bb"/><stop offset="0.8239" stop-color="#4593c6"/><stop offset="0.8807" stop-color="#529ccc"/><stop offset="1.0000" stop-color="#5aa1cf"/></linearGradient><linearGradient id="g140" x1="0" y1="0" x2="0" y2="1"><stop offset="0.0000" stop-color="#2c7eb6"/><stop offset="0.1420" stop-color="#2a7bb4"/><stop offset="0.2557" stop-color="#1f6faa"/><stop offset="0.3409" stop-color="#125890"/><stop offset="0.4261" stop-color="#0c3960"/><stop offset="0.4545" stop-color="#0b3255"/><stop offset="0.5114" stop-color="#0a2b49"/><stop offset="0.5398" stop-color="#092a48"/><stop offset="0.5966" stop-color="#0b3154"/><stop offset="0.6250" stop-color="#0c3a62"/><stop offset="0.6818" stop-color="#125790"/><stop offset="0.7386" stop-color="#2374ae"/><stop offset="0.7670" stop-color="#2d7fb7"/><stop offset="0.8239" stop-color="#3f8fc4"/><stop offset="0.8807" stop-color="#4c98c9"/><stop offset="1.0000" stop-color="#559ecd"/></linearGradient><linearGradient id="g141" x1="0" y1="0" x2="0" y2="1"><stop offset="0.0000" stop-color="#2c7eb6"/><stop offset="0.1420" stop-color="#2a7bb5"/><stop offset="0.2557" stop-color="#1f70ab"/><stop offset="0.3409" stop-color="#135a92"/><stop offset="0.4261" stop-color="#0d3a63"/><stop offset="0.4545" stop-color="#0b3357"/><stop offset="0.5114" stop-color="#0a2b4a"/><stop offset="0.5398" stop-color="#092a48"/><stop offset="0.5682" stop-color="#0a2b4a"/><stop offset="0.6250" stop-color="#0c375d"/><stop offset="0.6818" stop-color="#10538b"/><stop offset="0.7386" stop-color="#1f70ab"/><stop offset="0.7670" stop-color="#2a7bb4"/><stop offset="0.8239" stop-color="#3a8cc2"/><stop offset="0.8807" stop-color="#4794c7"/><stop offset="1.0000" stop-color="#509acb"/></linearGradient><linearGradient id="g142" x1="0" y1="0" x2="0" y2="1"><stop offset="0.0000" stop-color="#2c7eb6"/><stop offset="0.1420" stop-color="#2a7cb5"/><stop offset="0.2557" stop-color="#2071ac"/><stop offset="0.3409" stop-color="#145b94"/><stop offset="0.3693" stop-color="#105188"/><stop offset="0.4545" stop-color="#0c3459"/><stop offset="0.5114" stop-color="#0a2c4b"/><stop offset="0.5398" stop-color="#092a48"/><stop offset="0.5682" stop-color="#0a2b4a"/><stop offset="0.6250" stop-color="#0c355a"/><stop offset="0.6818" stop-color="#0f5085"/><stop offset="0.7102" stop-color="#165e97"/><stop offset="0.7670" stop-color="#2677b1"/><stop offset="0.8523" stop-color="#3c8dc3"/><stop offset="0.9091" stop-color="#4694c7"/><stop offset="1.0000" stop-color="#4b97c9"/></linearGradient><linearGradient id="g143" x1="0" y1="0" x2="0" y2="1"><stop offset="0.0000" stop-color="#2c7eb6"/><stop offset="0.1705" stop-color="#297bb4"/><stop offset="0.2557" stop-color="#2172ad"/><stop offset="0.3125" stop-color="#19659f"/><stop offset="0.3693" stop-color="#10538b"/><stop offset="0.4545" stop-color="#0c355a"/><stop offset="0.5114" stop-color="#0a2c4b"/><stop offset="0.5398" stop-color="#092a48"/><stop offset="0.5682" stop-color="#092b49"/><stop offset="0.6250" stop-color="#0b3358"/><stop offset="0.6534" stop-color="#0d3e69"/><stop offset="0.7102" stop-color="#135a93"/><stop offset="0.7670" stop-color="#2273ae"/><stop offset="0.8523" stop-color="#388ac0"/><stop offset="0.9091" stop-color="#4090c5"/><stop offset="1.0000" stop-color="#4694c7"/></linearGradient><linearGradient id="g144" x1="0" y1="0" x2="0" y2="1"><stop offset="0.0000" stop-color="#2c7eb6"/><stop offset="0.1705" stop-color="#297bb4"/><stop offset="0.2841" stop-color="#1e6da8"/><stop offset="0.3693" stop-color="#11558d"/><stop offset="0.4545" stop-color="#0c365c"/><stop offset="0.5114" stop-color="#0a2d4c"/><stop offset="0.5682" stop-color="#092a48"/><stop offset="0.6250" stop-color="#0b3255"/><stop offset="0.6534" stop-color="#0d3b64"/><stop offset="0.7102" stop-color="#11568f"/><stop offset="0.7670" stop-color="#1f6faa"/><stop offset="0.8239" stop-color="#2f80b8"/><stop offset="0.8807" stop-color="#388ac0"/><stop offset="1.0000" stop-color="#4090c5"/></linearGradient><linearGradient id="g145" x1="0" y1="0" x2="0" y2="1"><stop offset="0.0000" stop-color="#2c7eb6"/><stop offset="0.1705" stop-color="#2a7bb4"/><stop offset="0.2841" stop-color="#1f6ea9"/><stop offset="0.3693" stop-color="#12578f"/><stop offset="0.4545" stop-color="#0c385f"/><stop offset="0.4830" stop-color="#0b3154"/><stop offset="0.5398" stop-color="#092b49"/><stop offset="0.5682" stop-color="#092a48"/><stop offset="0.6250" stop-color="#0b3153"/><stop offset="0.6534" stop-color="#0c3860"/><stop offset="0.7102" stop-color="#10538a"/><stop offset="0.7670" stop-color="#1d6ba6"/><stop offset="0.7955" stop-color="#2475af"/><stop offset="0.8807" stop-color="#3486bd"/><stop offset="1.0000" stop-color="#3b8dc3"/></linearGradient><linearGradient id="g146" x1="0" y1="0" x2="0" y2="1"><stop offset="0.0000" stop-color="#2c7eb7"/><stop offset="0.1705" stop-color="#2a7bb4"/><stop offset="0.2841" stop-color="#1f6faa"/><stop offset="0.3693" stop-color="#135991"/><stop offset="0.4545" stop-color="#0c3962"/><stop offset="0.4830" stop-color="#0b3256"/><stop offset="0.5398" stop-color="#0a2b4a"/><stop offset="0.5682" stop-color="#092a48"/><stop offset="0.5966" stop-color="#0a2c4b"/><stop offset="0.6534" stop-color="#0c365c"/><stop offset="0.7386" stop-color="#145c95"/><stop offset="0.7955" stop-color="#2071ac"/><stop offset="0.8807" stop-color="#3183ba"/><stop offset="1.0000" stop-color="#3789c0"/></linearGradient><linearGradient id="g147" x1="0" y1="0" x2="0" y2="1"><stop offset="0.0000" stop-color="#2c7eb7"/><stop offset="0.1705" stop-color="#2a7cb5"/><stop offset="0.2841" stop-color="#2070ab"/><stop offset="0.3693" stop-color="#135a93"/><stop offset="0.4830" stop-color="#0b3358"/><stop offset="0.5398" stop-color="#0a2b4a"/><stop offset="0.5682" stop-color="#092a48"/><stop offset="0.5966" stop-color="#0a2b4a"/><stop offset="0.6534" stop-color="#0c3459"/><stop offset="0.7386" stop-color="#125891"/><stop offset="0.7955" stop-color="#1e6ea8"/><stop offset="0.8807" stop-color="#2e7fb8"/><stop offset="1.0000" stop-color="#3486bd"/></linearGradient><linearGradient id="g148" x1="0" y1="0" x2="0" y2="1"><stop offset="0.0000" stop-color="#2c7eb7"/><stop offset="0.1705" stop-color="#2a7cb5"/><stop offset="0.2841" stop-color="#2071ac"/><stop offset="0.3409" stop-color="#19649e"/><stop offset="0.3977" stop-color="#105289"/><stop offset="0.4830" stop-color="#0c3459"/><stop offset="0.5398" stop-color="#0a2c4b"/><stop offset="0.5682" stop-color="#092a48"/><stop offset="0.5966" stop-color="#092b49"/><stop offset="0.6534" stop-color="#0b3357"/><stop offset="0.6818" stop-color="#0d3d67"/><stop offset="0.7386" stop-color="#11568e"/><stop offset="0.8239" stop-color="#2274ae"/><stop offset="0.9091" stop-color="#2f81b9"/><stop offset="1.0000" stop-color="#3385bc"/></linearGradient><linearGradient id="g149" x1="0" y1="0" x2="0" y2="1"><stop offset="0.0000" stop-color="#2c7eb7"/><stop offset="0.1705" stop-color="#2b7cb5"/><stop offset="0.2841" stop-color="#2172ad"/><stop offset="0.3409" stop-color="#1a66a0"/><stop offset="0.3977" stop-color="#10548c"/><stop offset="0.4830" stop-color="#0c355b"/><stop offset="0.5398" stop-color="#0a2c4c"/><stop offset="0.5682" stop-color="#092a48"/><stop offset="0.5966" stop-color="#092a49"/><stop offset="0.6534" stop-color="#0b3255"/><stop offset="0.6818" stop-color="#0d3a63"/><stop offset="0.7386" stop-color="#10548b"/><stop offset="0.8239" stop-color="#2172ad"/><stop offset="0.9091" stop-color="#2e80b8"/><stop offset="1.0000" stop-color="#3284bc"/></linearGradient><linearGradient id="g150" x1="0" y1="0" x2="0" y2="1"><stop offset="0.0000" stop-color="#2c7eb7"/><stop offset="0.1989" stop-color="#2a7bb4"/><stop offset="0.3125" stop-color="#1e6ea8"/><stop offset="0.3977" stop-color="#11568e"/><stop offset="0.4830" stop-color="#0c375d"/><stop offset="0.5398" stop-color="#0a2d4d"/><stop offset="0.5966" stop-color="#092a48"/><stop offset="0.6534" stop-color="#0b3154"/><stop offset="0.6818" stop-color="#0c3860"/><stop offset="0.7386" stop-color="#105187"/><stop offset="0.7670" stop-color="#155d96"/><stop offset="0.8239" stop-color="#1f70ab"/><stop offset="0.9091" stop-color="#2d7fb7"/><stop offset="1.0000" stop-color="#3183bb"/></linearGradient><linearGradient id="g151" x1="0" y1="0" x2="0" y2="1"><stop offset="0.0000" stop-color="#2c7eb7"/><stop offset="0.1989" stop-color="#2a7bb4"/><stop offset="0.3125" stop-color="#1f6faa"/><stop offset="0.3977" stop-color="#125891"/><stop offset="0.4830" stop-color="#0c3961"/><stop offset="0.5114" stop-color="#0b3256"/><stop offset="0.5682" stop-color="#0a2b49"/><stop offset="0.5966" stop-color="#092a48"/><stop offset="0.6250" stop-color="#0a2c4b"/><stop offset="0.6818" stop-color="#0c365c"/><stop offset="0.7670" stop-color="#135a93"/><stop offset="0.8239" stop-color="#1e6ea8"/><stop offset="0.9091" stop-color="#2c7db6"/><stop offset="1.0000" stop-color="#3082ba"/></linearGradient><linearGradient id="g152" x1="0" y1="0" x2="0" y2="1"><stop offset="0.0000" stop-color="#2c7eb7"/><stop offset="0.1989" stop-color="#2a7cb5"/><stop offset="0.3125" stop-color="#2070ab"/><stop offset="0.3977" stop-color="#145a93"/><stop offset="0.5114" stop-color="#0b3358"/><stop offset="0.5682" stop-color="#0a2b4a"/><stop offset="0.5966" stop-color="#092a48"/><stop offset="0.6250" stop-color="#0a2b4a"/><stop offset="0.6818" stop-color="#0c3459"/><stop offset="0.7670" stop-color="#12578f"/><stop offset="0.8239" stop-color="#1d6ba6"/><stop offset="0.8523" stop-color="#2273ad"/><stop offset="0.9091" stop-color="#2a7cb5"/><stop offset="1.0000" stop-color="#2f81b9"/></linearGradient><linearGradient id="g153" x1="0" y1="0" x2="0" y2="1"><stop offset="0.0000" stop-color="#2c7eb7"/><stop offset="0.1989" stop-color="#2a7cb5"/><stop offset="0.3125" stop-color="#2172ac"/><stop offset="0.3693" stop-color="#19659f"/><stop offset="0.4261" stop-color="#10538a"/><stop offset="0.5114" stop-color="#0c355a"/><stop offset="0.5682" stop-color="#0a2c4b"/><stop offset="0.5966" stop-color="#092a48"/><stop offset="0.6250" stop-color="#092b49"/><stop offset="0.6818" stop-color="#0b3356"/><stop offset="0.7102" stop-color="#0d3c65"/><stop offset="0.7670" stop-color="#10548c"/><stop offset="0.8523" stop-color="#2071ac"/><stop offset="0.9091" stop-color="#297ab3"/><stop offset="1.0000" stop-color="#2e80b8"/></linearGradient><linearGradient id="g154" x1="0" y1="0" x2="0" y2="1"><stop offset="0.0000" stop-color="#2c7eb7"/><stop offset="0.1989" stop-color="#2b7cb5"/><stop offset="0.3125" stop-color="#2273ad"/><stop offset="0.3693" stop-color="#1a67a1"/><stop offset="0.4261" stop-color="#11558e"/><stop offset="0.5114" stop-color="#0c365c"/><stop offset="0.5398" stop-color="#0b3153"/><stop offset="0.5966" stop-color="#092a49"/><stop offset="0.6250" stop-color="#092a48"/><stop offset="0.6818" stop-color="#0b3154"/><stop offset="0.7102" stop-color="#0c3960"/><stop offset="0.7670" stop-color="#105187"/><stop offset="0.7955" stop-color="#155c95"/><stop offset="0.8523" stop-color="#1f6ea9"/><stop offset="0.9091" stop-color="#2779b2"/><stop offset="1.0000" stop-color="#2d7fb7"/></linearGradient><linearGradient id="g155" x1="0" y1="0" x2="0" y2="1"><stop offset="0.0000" stop-color="#2c7eb7"/><stop offset="0.2273" stop-color="#2a7bb4"/><stop offset="0.3409" stop-color="#1f6faa"/><stop offset="0.4261" stop-color="#125890"/><stop offset="0.5114" stop-color="#0c3960"/><stop offset="0.5398" stop-color="#0b3255"/><stop offset="0.5966" stop-color="#0a2b49"/><stop offset="0.6250" stop-color="#092a48"/><stop offset="0.6534" stop-color="#0a2c4c"/><stop offset="0.6818" stop-color="#0b3154"/><stop offset="0.7102" stop-color="#0d3b64"/><stop offset="0.7670" stop-color="#135991"/><stop offset="0.8239" stop-color="#2273ae"/><stop offset="0.9091" stop-color="#388ac1"/><stop offset="1.0000" stop-color="#4492c6"/></linearGradient><linearGradient id="g156" x1="0" y1="0" x2="0" y2="1"><stop offset="0.0000" stop-color="#2c7eb7"/><stop offset="0.2273" stop-color="#2a7cb5"/><stop offset="0.3409" stop-color="#2070ab"/><stop offset="0.4261" stop-color="#135a93"/><stop offset="0.5398" stop-color="#0b3357"/><stop offset="0.5966" stop-color="#0a2b4a"/><stop offset="0.6250" stop-color="#092a48"/><stop offset="0.6534" stop-color="#0a2b4a"/><stop offset="0.6818" stop-color="#0b3052"/><stop offset="0.7102" stop-color="#0c375e"/><stop offset="0.7670" stop-color="#10558d"/><stop offset="0.8239" stop-color="#1f70ab"/><stop offset="0.9091" stop-color="#3688be"/><stop offset="1.0000" stop-color="#4190c5"/></linearGradient><linearGradient id="g157" x1="0" y1="0" x2="0" y2="1"><stop offset="0.0000" stop-color="#2c7eb7"/><stop offset="0.2273" stop-color="#2a7cb5"/><stop offset="0.3409" stop-color="#2071ac"/><stop offset="0.3977" stop-color="#19659e"/><stop offset="0.4545" stop-color="#10538a"/><stop offset="0.5398" stop-color="#0c355a"/><stop offset="0.5966" stop-color="#0a2c4b"/><stop offset="0.6250" stop-color="#092a48"/><stop offset="0.6534" stop-color="#092b49"/><stop offset="0.7102" stop-color="#0c355a"/><stop offset="0.7670" stop-color="#105086"/><stop offset="0.7955" stop-color="#165f98"/><stop offset="0.8523" stop-color="#2577b1"/><stop offset="0.9091" stop-color="#3385bc"/><stop offset="1.0000" stop-color="#3d8ec3"/></linearGradient><linearGradient id="g158" x1="0" y1="0" x2="0" y2="1"><stop offset="0.0000" stop-color="#2c7eb7"/><stop offset="0.2273" stop-color="#2b7cb5"/><stop offset="0.3409" stop-color="#2172ad"/><stop offset="0.3977" stop-color="#1a66a0"/><stop offset="0.4545" stop-color="#11558d"/><stop offset="0.5398" stop-color="#0c365c"/><stop offset="0.5966" stop-color="#0a2d4c"/><stop offset="0.6534" stop-color="#092a48"/><stop offset="0.7102" stop-color="#0b3357"/><stop offset="0.7386" stop-color="#0d3e69"/><stop offset="0.7955" stop-color="#145b93"/><stop offset="0.8523" stop-color="#2273ae"/><stop offset="0.9091" stop-color="#3082ba"/><stop offset="1.0000" stop-color="#3a8cc2"/></linearGradient><linearGradient id="g159" x1="0" y1="0" x2="0" y2="1"><stop offset="0.0000" stop-color="#2c7eb7"/><stop offset="0.2557" stop-color="#2a7bb4"/><stop offset="0.3693" stop-color="#1f6fa9"/><stop offset="0.4545" stop-color="#125790"/><stop offset="0.5398" stop-color="#0c3860"/><stop offset="0.5682" stop-color="#0b3255"/><stop offset="0.6250" stop-color="#092b49"/><stop offset="0.6534" stop-color="#092a48"/><stop offset="0.7102" stop-color="#0b3154"/><stop offset="0.7386" stop-color="#0d3a63"/><stop offset="0.7955" stop-color="#12578f"/><stop offset="0.8523" stop-color="#1f70ab"/><stop offset="0.9091" stop-color="#2e7fb8"/><stop offset="1.0000" stop-color="#388ac0"/></linearGradient><linearGradient id="g160" x1="0" y1="0" x2="0" y2="1"><stop offset="0.0000" stop-color="#2c7eb7"/><stop offset="0.2557" stop-color="#2a7bb5"/><stop offset="0.3693" stop-color="#1f70ab"/><stop offset="0.4545" stop-color="#135a92"/><stop offset="0.5682" stop-color="#0b3357"/><stop offset="0.6250" stop-color="#0a2b4a"/><stop offset="0.6534" stop-color="#092a48"/><stop offset="0.6818" stop-color="#0a2b4a"/><stop offset="0.7386" stop-color="#0c375e"/><stop offset="0.7955" stop-color="#10538a"/><stop offset="0.8523" stop-color="#1d6ca6"/><stop offset="0.9091" stop-color="#2b7cb5"/><stop offset="1.0000" stop-color="#3688be"/></linearGradient><linearGradient id="g161" x1="0" y1="0" x2="0" y2="1"><stop offset="0.0000" stop-color="#2c7eb7"/><stop offset="0.2557" stop-color="#2a7cb5"/><stop offset="0.3693" stop-color="#2071ac"/><stop offset="0.4261" stop-color="#19649e"/><stop offset="0.4830" stop-color="#105289"/><stop offset="0.5682" stop-color="#0c3459"/><stop offset="0.6250" stop-color="#0a2c4b"/><stop offset="0.6534" stop-color="#092a48"/><stop offset="0.6818" stop-color="#0a2b49"/><stop offset="0.7386" stop-color="#0c355a"/><stop offset="0.8239" stop-color="#155c95"/><stop offset="0.8807" stop-color="#2172ad"/><stop offset="0.9375" stop-color="#2d7fb7"/><stop offset="1.0000" stop-color="#3485bd"/></linearGradient><linearGradient id="g162" x1="0" y1="0" x2="0" y2="1"><stop offset="0.0000" stop-color="#2c7eb7"/><stop offset="0.2557" stop-color="#2b7cb5"/><stop offset="0.3693" stop-color="#2172ad"/><stop offset="0.4261" stop-color="#1a66a0"/><stop offset="0.4830" stop-color="#10548c"/><stop offset="0.5682" stop-color="#0c365b"/><stop offset="0.6250" stop-color="#0a2c4c"/><stop offset="0.6534" stop-color="#092a48"/><stop offset="0.6818" stop-color="#092a49"/><stop offset="0.7386" stop-color="#0b3357"/><stop offset="0.8239" stop-color="#135991"/><stop offset="0.8807" stop-color="#1f6faa"/><stop offset="0.9375" stop-color="#2b7cb5"/><stop offset="1.0000" stop-color="#3183bb"/></linearGradient><linearGradient id="g163" x1="0" y1="0" x2="0" y2="1"><stop offset="0.0000" stop-color="#2c7eb7"/><stop offset="0.2557" stop-color="#2b7cb5"/><stop offset="0.3693" stop-color="#2172ad"/><stop offset="0.4261" stop-color="#1a66a0"/><stop offset="0.4830" stop-color="#11558d"/><stop offset="0.5682" stop-color="#0c365c"/><stop offset="0.6250" stop-color="#0a2d4c"/><stop offset="0.6818" stop-color="#092a48"/><stop offset="0.7386" stop-color="#0b3356"/><stop offset="0.7670" stop-color="#0d3c66"/><stop offset="0.8239" stop-color="#125790"/><stop offset="0.8807" stop-color="#1e6da8"/><stop offset="0.9375" stop-color="#297ab4"/><stop offset="1.0000" stop-color="#3081b9"/></linearGradient><linearGradient id="g164" x1="0" y1="0" x2="0" y2="1"><stop offset="0.0000" stop-color="#2c7eb7"/><stop offset="0.2557" stop-color="#2b7cb5"/><stop offset="0.3693" stop-color="#2273ad"/><stop offset="0.4261" stop-color="#1a67a1"/><stop offset="0.4830" stop-color="#11568e"/><stop offset="0.5682" stop-color="#0c375d"/><stop offset="0.5966" stop-color="#0b3153"/><stop offset="0.6534" stop-color="#092a49"/><stop offset="0.6818" stop-color="#092a48"/><stop offset="0.7386" stop-color="#0b3255"/><stop offset="0.7670" stop-color="#0d3b64"/><stop offset="0.8239" stop-color="#11568e"/><stop offset="0.8807" stop-color="#1d6ba6"/><stop offset="0.9375" stop-color="#2779b2"/><stop offset="1.0000" stop-color="#2e7fb8"/></linearGradient><linearGradient id="g165" x1="0" y1="0" x2="0" y2="1"><stop offset="0.0000" stop-color="#2c7eb7"/><stop offset="0.2557" stop-color="#2b7cb5"/><stop offset="0.3693" stop-color="#2273ae"/><stop offset="0.4261" stop-color="#1b67a2"/><stop offset="0.4830" stop-color="#11568f"/><stop offset="0.5682" stop-color="#0c375e"/><stop offset="0.5966" stop-color="#0b3154"/><stop offset="0.6534" stop-color="#092b49"/><stop offset="0.6818" stop-color="#092a48"/><stop offset="0.7386" stop-color="#0b3255"/><stop offset="0.7670" stop-color="#0d3a63"/><stop offset="0.8239" stop-color="#10548c"/><stop offset="0.8807" stop-color="#1c6aa4"/><stop offset="0.9375" stop-color="#2677b1"/><stop offset="1.0000" stop-color="#2c7db6"/></linearGradient><linearGradient id="g166" x1="0" y1="0" x2="0" y2="1"><stop offset="0.0000" stop-color="#2c7eb7"/><stop offset="0.2557" stop-color="#2b7cb5"/><stop offset="0.3693" stop-color="#2273ae"/><stop offset="0.4261" stop-color="#1b68a2"/><stop offset="0.4830" stop-color="#12578f"/><stop offset="0.5682" stop-color="#0c385f"/><stop offset="0.5966" stop-color="#0b3255"/><stop offset="0.6534" stop-color="#092b49"/><stop offset="0.6818" stop-color="#092a48"/><stop offset="0.7386" stop-color="#0b3154"/><stop offset="0.7670" stop-color="#0c3961"/><stop offset="0.8239" stop-color="#105289"/><stop offset="0.8807" stop-color="#1b68a2"/><stop offset="0.9375" stop-color="#2475af"/><stop offset="1.0000" stop-color="#2a7bb4"/></linearGradient><linearGradient id="g167" x1="0" y1="0" x2="0" y2="1"><stop offset="0.0000" stop-color="#2c7eb7"/><stop offset="0.2557" stop-color="#2b7cb5"/><stop offset="0.3409" stop-color="#2677b1"/><stop offset="0.3977" stop-color="#1f6faa"/><stop offset="0.4830" stop-color="#125890"/><stop offset="0.5682" stop-color="#0c3960"/><stop offset="0.5966" stop-color="#0b3255"/><stop offset="0.6534" stop-color="#0a2b49"/><stop offset="0.6818" stop-color="#092a48"/><stop offset="0.7102" stop-color="#0a2c4c"/><stop offset="0.7386" stop-color="#0b3256"/><stop offset="0.7670" stop-color="#0d3e68"/><stop offset="0.8239" stop-color="#155d96"/><stop offset="0.8807" stop-color="#2677b1"/><stop offset="0.9375" stop-color="#3587be"/><stop offset="1.0000" stop-color="#3e8fc4"/></linearGradient><linearGradient id="g168" x1="0" y1="0" x2="0" y2="1"><stop offset="0.0000" stop-color="#2c7eb7"/><stop offset="0.2557" stop-color="#2b7cb5"/><stop offset="0.3409" stop-color="#2677b1"/><stop offset="0.3977" stop-color="#1f6faa"/><stop offset="0.4830" stop-color="#125891"/><stop offset="0.5682" stop-color="#0c3961"/><stop offset="0.5966" stop-color="#0b3256"/><stop offset="0.6534" stop-color="#0a2b49"/><stop offset="0.6818" stop-color="#092a48"/><stop offset="0.7102" stop-color="#0a2c4c"/><stop offset="0.7386" stop-color="#0b3255"/><stop offset="0.7670" stop-color="#0d3d67"/><stop offset="0.8239" stop-color="#145c95"/><stop offset="0.8807" stop-color="#2576b0"/><stop offset="0.9375" stop-color="#3486bd"/><stop offset="1.0000" stop-color="#3d8ec3"/></linearGradient><linearGradient id="g169" x1="0" y1="0" x2="0" y2="1"><stop offset="0.0000" stop-color="#2c7eb7"/><stop offset="0.2557" stop-color="#2b7cb5"/><stop offset="0.3409" stop-color="#2677b1"/><stop offset="0.3977" stop-color="#1f70aa"/><stop offset="0.4830" stop-color="#135991"/><stop offset="0.5682" stop-color="#0d3a62"/><stop offset="0.5966" stop-color="#0b3356"/><stop offset="0.6534" stop-color="#0a2b4a"/><stop offset="0.6818" stop-color="#092a48"/><stop offset="0.7102" stop-color="#0a2c4b"/><stop offset="0.7386" stop-color="#0b3154"/><stop offset="0.7670" stop-color="#0d3c65"/><stop offset="0.8239" stop-color="#145b94"/><stop offset="0.8807" stop-color="#2475af"/><stop offset="0.9375" stop-color="#3385bc"/><stop offset="1.0000" stop-color="#3c8dc3"/></linearGradient><linearGradient id="g170" x1="0" y1="0" x2="0" y2="1"><stop offset="0.0000" stop-color="#2c7eb7"/><stop offset="0.2557" stop-color="#2b7cb5"/><stop offset="0.3409" stop-color="#2678b1"/><stop offset="0.3977" stop-color="#1f70ab"/><stop offset="0.4830" stop-color="#135a92"/><stop offset="0.5966" stop-color="#0b3357"/><stop offset="0.6534" stop-color="#0a2b4a"/><stop offset="0.6818" stop-color="#092a48"/><stop offset="0.7102" stop-color="#0a2c4b"/><stop offset="0.7386" stop-color="#0b3154"/><stop offset="0.7670" stop-color="#0d3b63"/><stop offset="0.8239" stop-color="#135a92"/><stop offset="0.8807" stop-color="#2374af"/><stop offset="0.9375" stop-color="#3284bc"/><stop offset="1.0000" stop-color="#3a8cc2"/></linearGradient><linearGradient id="g171" x1="0" y1="0" x2="0" y2="1"><stop offset="0.0000" stop-color="#2c7eb7"/><stop offset="0.2557" stop-color="#2b7db5"/><stop offset="0.3409" stop-color="#2778b2"/><stop offset="0.3977" stop-color="#2070ab"/><stop offset="0.4830" stop-color="#135a93"/><stop offset="0.5966" stop-color="#0b3358"/><stop offset="0.6534" stop-color="#0a2b4a"/><stop offset="0.6818" stop-color="#092a48"/><stop offset="0.7102" stop-color="#0a2b4a"/><stop offset="0.7386" stop-color="#0b3053"/><stop offset="0.7670" stop-color="#0c3a62"/><stop offset="0.8239" stop-color="#135991"/><stop offset="0.8807" stop-color="#2273ae"/><stop offset="0.9375" stop-color="#3183bb"/><stop offset="1.0000" stop-color="#398bc1"/></linearGradient><linearGradient id="g172" x1="0" y1="0" x2="0" y2="1"><stop offset="0.0000" stop-color="#2c7eb7"/><stop offset="0.2557" stop-color="#2b7db5"/><stop offset="0.3409" stop-color="#2778b2"/><stop offset="0.3977" stop-color="#2071ac"/><stop offset="0.4830" stop-color="#145b94"/><stop offset="0.5114" stop-color="#105187"/><stop offset="0.5966" stop-color="#0b3458"/><stop offset="0.6534" stop-color="#0a2b4a"/><stop offset="0.6818" stop-color="#092a48"/><stop offset="0.7102" stop-color="#0a2b4a"/><stop offset="0.7386" stop-color="#0b3052"/><stop offset="0.7670" stop-color="#0c3960"/><stop offset="0.8239" stop-color="#125890"/><stop offset="0.8807" stop-color="#2172ad"/><stop offset="0.9375" stop-color="#3182ba"/><stop offset="1.0000" stop-color="#388ac1"/></linearGradient><linearGradient id="g173" x1="0" y1="0" x2="0" y2="1"><stop offset="0.0000" stop-color="#2c7eb7"/><stop offset="0.2841" stop-color="#2a7cb5"/><stop offset="0.3977" stop-color="#2071ac"/><stop offset="0.4545" stop-color="#19649e"/><stop offset="0.5114" stop-color="#105289"/><stop offset="0.5966" stop-color="#0c3459"/><stop offset="0.6534" stop-color="#0a2c4b"/><stop offset="0.6818" stop-color="#092a48"/><stop offset="0.7102" stop-color="#0a2b4a"/><stop offset="0.7386" stop-color="#0b3051"/><stop offset="0.7670" stop-color="#0c385f"/><stop offset="0.8239" stop-color="#11568f"/><stop offset="0.8807" stop-color="#2071ac"/><stop offset="0.9375" stop-color="#3081b9"/><stop offset="1.0000" stop-color="#3789c0"/></linearGradient><linearGradient id="g174" x1="0" y1="0" x2="0" y2="1"><stop offset="0.0000" stop-color="#2c7eb7"/><stop offset="0.2841" stop-color="#2a7cb5"/><stop offset="0.3977" stop-color="#2071ac"/><stop offset="0.4545" stop-color="#19649e"/><stop offset="0.5114" stop-color="#105289"/><stop offset="0.5966" stop-color="#0c3459"/><stop offset="0.6534" stop-color="#0a2c4b"/><stop offset="0.6818" stop-color="#092a48"/><stop offset="0.7102" stop-color="#0a2b4a"/><stop offset="0.7386" stop-color="#0b2f51"/><stop offset="0.7670" stop-color="#0c375e"/><stop offset="0.8239" stop-color="#11568e"/><stop offset="0.8807" stop-color="#2071ac"/><stop offset="0.9375" stop-color="#2f80b9"/><stop offset="1.0000" stop-color="#3688bf"/></linearGradient><linearGradient id="g175" x1="0" y1="0" x2="0" y2="1"><stop offset="0.0000" stop-color="#2c7eb7"/><stop offset="0.2841" stop-color="#2a7cb5"/><stop offset="0.3977" stop-color="#2071ac"/><stop offset="0.4545" stop-color="#19649e"/><stop offset="0.5114" stop-color="#105289"/><stop offset="0.5966" stop-color="#0c3459"/><stop offset="0.6534" stop-color="#0a2c4b"/><stop offset="0.6818" stop-color="#092a48"/><stop offset="0.7102" stop-color="#0a2b4a"/><stop offset="0.7386" stop-color="#0b2f51"/><stop offset="0.7670" stop-color="#0c375e"/><stop offset="0.8239" stop-color="#11568e"/><stop offset="0.8807" stop-color="#2070ab"/><stop offset="0.9375" stop-color="#2e80b8"/><stop offset="1.0000" stop-color="#3687be"/></linearGradient><linearGradient id="g176" x1="0" y1="0" x2="0" y2="1"><stop offset="0.0000" stop-color="#2c7eb7"/><stop offset="0.2841" stop-color="#2a7cb5"/><stop offset="0.3977" stop-color="#2071ac"/><stop offset="0.4545" stop-color="#19649e"/><stop offset="0.5114" stop-color="#105289"/><stop offset="0.5966" stop-color="#0c3459"/><stop offset="0.6534" stop-color="#0a2c4b"/><stop offset="0.6818" stop-color="#092a48"/><stop offset="0.7102" stop-color="#0a2b4a"/><stop offset="0.7386" stop-color="#0b2f51"/><stop offset="0.7670" stop-color="#0c375e"/><stop offset="0.8239" stop-color="#11558e"/><stop offset="0.8807" stop-color="#1f70ab"/><stop offset="0.9375" stop-color="#2e7fb8"/><stop offset="1.0000" stop-color="#3587be"/></linearGradient><linearGradient id="g177" x1="0" y1="0" x2="0" y2="1"><stop offset="0.0000" stop-color="#2c7eb7"/><stop offset="0.2841" stop-color="#2a7cb5"/><stop offset="0.3977" stop-color="#2071ac"/><stop offset="0.4545" stop-color="#19659e"/><stop offset="0.5114" stop-color="#10528a"/><stop offset="0.5966" stop-color="#0c3459"/><stop offset="0.6534" stop-color="#0a2c4b"/><stop offset="0.6818" stop-color="#092a48"/><stop offset="0.7102" stop-color="#0a2b49"/><stop offset="0.7386" stop-color="#0b2f51"/><stop offset="0.7670" stop-color="#0c375e"/><stop offset="0.8239" stop-color="#11558d"/><stop offset="0.8807" stop-color="#1f6faa"/><stop offset="0.9375" stop-color="#2d7fb7"/><stop offset="1.0000" stop-color="#3486bd"/></linearGradient><linearGradient id="g178" x1="0" y1="0" x2="0" y2="1"><stop offset="0.0000" stop-color="#2c7eb7"/><stop offset="0.2841" stop-color="#2a7cb5"/><stop offset="0.3977" stop-color="#2071ac"/><stop offset="0.4545" stop-color="#19659e"/><stop offset="0.5114" stop-color="#10538a"/><stop offset="0.5966" stop-color="#0c355a"/><stop offset="0.6534" stop-color="#0a2c4b"/><stop offset="0.6818" stop-color="#092a48"/><stop offset="0.7102" stop-color="#0a2b49"/><stop offset="0.7386" stop-color="#0a2f51"/><stop offset="0.7670" stop-color="#0c375e"/><stop offset="0.8239" stop-color="#11558d"/><stop offset="0.8807" stop-color="#1f6faa"/><stop offset="0.9375" stop-color="#2c7eb7"/><stop offset="1.0000" stop-color="#3385bc"/></linearGradient><linearGradient id="g179" x1="0" y1="0" x2="0" y2="1"><stop offset="0.0000" stop-color="#2c7eb7"/><stop offset="0.2841" stop-color="#2a7cb5"/><stop offset="0.3977" stop-color="#2071ac"/><stop offset="0.4545" stop-color="#19659e"/><stop offset="0.5114" stop-color="#10538a"/><stop offset="0.5966" stop-color="#0c355a"/><stop offset="0.6534" stop-color="#0a2c4b"/><stop offset="0.6818" stop-color="#092a48"/><stop offset="0.7102" stop-color="#0a2b49"/><stop offset="0.7386" stop-color="#0a2f51"/><stop offset="0.7670" stop-color="#0c375d"/><stop offset="0.8239" stop-color="#10558d"/><stop offset="0.8807" stop-color="#1f6fa9"/><stop offset="0.9375" stop-color="#2c7db6"/><stop offset="1.0000" stop-color="#3284bc"/></linearGradient><linearGradient id="g180" x1="0" y1="0" x2="0" y2="1"><stop offset="0.0000" stop-color="#2c7eb7"/><stop offset="0.2841" stop-color="#2a7cb5"/><stop offset="0.3977" stop-color="#2071ac"/><stop offset="0.4545" stop-color="#19659e"/><stop offset="0.5114" stop-color="#10538a"/><stop offset="0.5966" stop-color="#0c355a"/><stop offset="0.6534" stop-color="#0a2c4b"/><stop offset="0.6818" stop-color="#092a48"/><stop offset="0.7102" stop-color="#0a2b49"/><stop offset="0.7386" stop-color="#0a2f51"/><stop offset="0.7670" stop-color="#0c375d"/><stop offset="0.8239" stop-color="#10558d"/><stop offset="0.8807" stop-color="#1e6ea9"/><stop offset="0.9375" stop-color="#2b7db5"/><stop offset="1.0000" stop-color="#3283bb"/></linearGradient><linearGradient id="g181" x1="0" y1="0" x2="0" y2="1"><stop offset="0.0000" stop-color="#2c7eb7"/><stop offset="0.2841" stop-color="#2a7cb5"/><stop offset="0.3977" stop-color="#2071ac"/><stop offset="0.4545" stop-color="#19659f"/><stop offset="0.5114" stop-color="#10538a"/><stop offset="0.5966" stop-color="#0c355a"/><stop offset="0.6534" stop-color="#0a2c4b"/><stop offset="0.6818" stop-color="#092a48"/><stop offset="0.7102" stop-color="#0a2b49"/><stop offset="0.7386" stop-color="#0a2f51"/><stop offset="0.7670" stop-color="#0c375d"/><stop offset="0.8239" stop-color="#10548c"/><stop offset="0.8807" stop-color="#1e6ea8"/><stop offset="0.9375" stop-color="#2b7cb5"/><stop offset="1.0000" stop-color="#3182ba"/></linearGradient><linearGradient id="g182" x1="0" y1="0" x2="0" y2="1"><stop offset="0.0000" stop-color="#2c7eb7"/><stop offset="0.2841" stop-color="#2a7cb5"/><stop offset="0.3977" stop-color="#2072ac"/><stop offset="0.4545" stop-color="#19659f"/><stop offset="0.5114" stop-color="#10538a"/><stop offset="0.5966" stop-color="#0c355a"/><stop offset="0.6534" stop-color="#0a2c4b"/><stop offset="0.6818" stop-color="#092a48"/><stop offset="0.7102" stop-color="#0a2b49"/><stop offset="0.7386" stop-color="#0a2f50"/><stop offset="0.7670" stop-color="#0c375d"/><stop offset="0.8239" stop-color="#10548c"/><stop offset="0.8807" stop-color="#1e6da8"/><stop offset="0.9375" stop-color="#2a7bb4"/><stop offset="1.0000" stop-color="#3081b9"/></linearGradient><linearGradient id="g183" x1="0" y1="0" x2="0" y2="1"><stop offset="0.0000" stop-color="#2c7eb7"/><stop offset="0.2841" stop-color="#2a7cb5"/><stop offset="0.3977" stop-color="#2172ac"/><stop offset="0.4545" stop-color="#19659f"/><stop offset="0.5114" stop-color="#10538a"/><stop offset="0.5966" stop-color="#0c355a"/><stop offset="0.6534" stop-color="#0a2c4b"/><stop offset="0.6818" stop-color="#092a48"/><stop offset="0.7102" stop-color="#0a2b49"/><stop offset="0.7386" stop-color="#0a2f50"/><stop offset="0.7670" stop-color="#0c365d"/><stop offset="0.8239" stop-color="#10548c"/><stop offset="0.8807" stop-color="#1e6da7"/><stop offset="0.9375" stop-color="#297bb4"/><stop offset="1.0000" stop-color="#2f81b9"/></linearGradient><linearGradient id="g184" x1="0" y1="0" x2="0" y2="1"><stop offset="0.0000" stop-color="#2c7eb7"/><stop offset="0.2841" stop-color="#2a7cb5"/><stop offset="0.3977" stop-color="#2172ac"/><stop offset="0.4545" stop-color="#19659f"/><stop offset="0.5114" stop-color="#10538a"/><stop offset="0.5966" stop-color="#0c355a"/><stop offset="0.6534" stop-color="#0a2c4b"/><stop offset="0.6818" stop-color="#092a48"/><stop offset="0.7102" stop-color="#0a2b49"/><stop offset="0.7386" stop-color="#0a2f50"/><stop offset="0.7670" stop-color="#0c365d"/><stop offset="0.8239" stop-color="#10548c"/><stop offset="0.8807" stop-color="#1d6ca7"/><stop offset="0.9375" stop-color="#297ab3"/><stop offset="1.0000" stop-color="#2e80b8"/></linearGradient><linearGradient id="g185" x1="0" y1="0" x2="0" y2="1"><stop offset="0.0000" stop-color="#2c7eb7"/><stop offset="0.2841" stop-color="#2a7cb5"/><stop offset="0.3977" stop-color="#2172ac"/><stop offset="0.4545" stop-color="#19659f"/><stop offset="0.5114" stop-color="#10538b"/><stop offset="0.5966" stop-color="#0c355a"/><stop offset="0.6534" stop-color="#0a2c4b"/><stop offset="0.6818" stop-color="#092a48"/><stop offset="0.7102" stop-color="#092b49"/><stop offset="0.7386" stop-color="#0a2f50"/><stop offset="0.7670" stop-color="#0c365c"/><stop offset="0.8239" stop-color="#10548b"/><stop offset="0.8807" stop-color="#1d6ca6"/><stop offset="0.9375" stop-color="#2879b3"/><stop offset="1.0000" stop-color="#2d7fb7"/></linearGradient><linearGradient id="g186" x1="0" y1="0" x2="0" y2="1"><stop offset="0.0000" stop-color="#2c7eb7"/><stop offset="0.2841" stop-color="#2a7cb5"/><stop offset="0.3977" stop-color="#2172ad"/><stop offset="0.4545" stop-color="#19659f"/><stop offset="0.5114" stop-color="#10538b"/><stop offset="0.5966" stop-color="#0c355a"/><stop offset="0.6534" stop-color="#0a2c4b"/><stop offset="0.6818" stop-color="#092a48"/><stop offset="0.7102" stop-color="#092b49"/><stop offset="0.7386" stop-color="#0a2f50"/><stop offset="0.7670" stop-color="#0c365c"/><stop offset="0.8239" stop-color="#10538b"/><stop offset="0.8807" stop-color="#1d6ba6"/><stop offset="0.9375" stop-color="#2778b2"/><stop offset="1.0000" stop-color="#2c7eb7"/></linearGradient><linearGradient id="g187" x1="0" y1="0" x2="0" y2="1"><stop offset="0.0000" stop-color="#2c7eb7"/><stop offset="0.2841" stop-color="#2a7cb5"/><stop offset="0.3977" stop-color="#2172ad"/><stop offset="0.4545" stop-color="#19659f"/><stop offset="0.5114" stop-color="#10538b"/><stop offset="0.5966" stop-color="#0c355a"/><stop offset="0.6534" stop-color="#0a2c4b"/><stop offset="0.6818" stop-color="#092a48"/><stop offset="0.7102" stop-color="#092b49"/><stop offset="0.7386" stop-color="#0a2f50"/><stop offset="0.7670" stop-color="#0c365c"/><stop offset="0.8239" stop-color="#10538b"/><stop offset="0.8807" stop-color="#1d6ba5"/><stop offset="0.9375" stop-color="#2778b2"/><stop offset="1.0000" stop-color="#2c7db6"/></linearGradient><linearGradient id="g188" x1="0" y1="0" x2="0" y2="1"><stop offset="0.0000" stop-color="#2c7eb7"/><stop offset="0.2841" stop-color="#2a7cb5"/><stop offset="0.3977" stop-color="#2172ad"/><stop offset="0.4545" stop-color="#1a659f"/><stop offset="0.5114" stop-color="#10538b"/><stop offset="0.5966" stop-color="#0c355a"/><stop offset="0.6534" stop-color="#0a2c4b"/><stop offset="0.6818" stop-color="#092a48"/><stop offset="0.7102" stop-color="#092b49"/><stop offset="0.7386" stop-color="#0a2f50"/><stop offset="0.7670" stop-color="#0c365c"/><stop offset="0.8239" stop-color="#10538a"/><stop offset="0.8807" stop-color="#1c6aa5"/><stop offset="0.9375" stop-color="#2677b1"/><stop offset="1.0000" stop-color="#2b7cb5"/></linearGradient><linearGradient id="g189" x1="0" y1="0" x2="0" y2="1"><stop offset="0.0000" stop-color="#2c7eb7"/><stop offset="0.2841" stop-color="#2a7cb5"/><stop offset="0.3977" stop-color="#2172ad"/><stop offset="0.4545" stop-color="#1a659f"/><stop offset="0.5114" stop-color="#10538b"/><stop offset="0.5966" stop-color="#0c355a"/><stop offset="0.6534" stop-color="#0a2c4b"/><stop offset="0.6818" stop-color="#092a48"/><stop offset="0.7102" stop-color="#092b49"/><stop offset="0.7386" stop-color="#0a2f50"/><stop offset="0.7670" stop-color="#0c365c"/><stop offset="0.8239" stop-color="#10538a"/><stop offset="0.8807" stop-color="#1c6aa4"/><stop offset="0.9375" stop-color="#2576b0"/><stop offset="1.0000" stop-color="#2a7bb4"/></linearGradient><linearGradient id="g190" x1="0" y1="0" x2="0" y2="1"><stop offset="0.0000" stop-color="#2c7eb7"/><stop offset="0.2841" stop-color="#2a7cb5"/><stop offset="0.3977" stop-color="#2172ad"/><stop offset="0.4545" stop-color="#1a659f"/><stop offset="0.5114" stop-color="#10548b"/><stop offset="0.5966" stop-color="#0c355a"/><stop offset="0.6534" stop-color="#0a2c4b"/><stop offset="0.6818" stop-color="#092a48"/><stop offset="0.7102" stop-color="#092b49"/><stop offset="0.7386" stop-color="#0a2f50"/><stop offset="0.7670" stop-color="#0c365c"/><stop offset="0.8239" stop-color="#105289"/><stop offset="0.8807" stop-color="#1c69a4"/><stop offset="0.9375" stop-color="#2476b0"/><stop offset="1.0000" stop-color="#297ab4"/></linearGradient><linearGradient id="g191" x1="0" y1="0" x2="0" y2="1"><stop offset="0.0000" stop-color="#2c7eb7"/><stop offset="0.2841" stop-color="#2a7cb5"/><stop offset="0.3977" stop-color="#2172ad"/><stop offset="0.4545" stop-color="#1a659f"/><stop offset="0.5114" stop-color="#10548b"/><stop offset="0.5966" stop-color="#0c355b"/><stop offset="0.6534" stop-color="#0a2c4c"/><stop offset="0.6818" stop-color="#092a48"/><stop offset="0.7102" stop-color="#092b49"/><stop offset="0.7386" stop-color="#0a2f50"/><stop offset="0.7670" stop-color="#0c365c"/><stop offset="0.8239" stop-color="#105289"/><stop offset="0.8807" stop-color="#1c69a3"/><stop offset="0.9375" stop-color="#2475af"/><stop offset="1.0000" stop-color="#2879b3"/></linearGradient><linearGradient id="g192" x1="0" y1="0" x2="0" y2="1"><stop offset="0.0000" stop-color="#2c7eb7"/><stop offset="0.2841" stop-color="#2a7cb5"/><stop offset="0.3977" stop-color="#2172ad"/><stop offset="0.4545" stop-color="#1a659f"/><stop offset="0.5114" stop-color="#10548c"/><stop offset="0.5966" stop-color="#0c355b"/><stop offset="0.6534" stop-color="#0a2c4c"/><stop offset="0.6818" stop-color="#092a48"/><stop offset="0.7102" stop-color="#0a2b49"/><stop offset="0.7386" stop-color="#0b3052"/><stop offset="0.7670" stop-color="#0d3a63"/><stop offset="0.8239" stop-color="#155d96"/><stop offset="0.8523" stop-color="#1e6da7"/><stop offset="0.8807" stop-color="#2779b2"/><stop offset="0.9375" stop-color="#3587be"/><stop offset="1.0000" stop-color="#3a8cc2"/></linearGradient><linearGradient id="g193" x1="0" y1="0" x2="0" y2="1"><stop offset="0.0000" stop-color="#2c7eb7"/><stop offset="0.2841" stop-color="#2b7cb5"/><stop offset="0.3977" stop-color="#2172ad"/><stop offset="0.4545" stop-color="#1a669f"/><stop offset="0.5114" stop-color="#10548c"/><stop offset="0.5966" stop-color="#0c355b"/><stop offset="0.6534" stop-color="#0a2c4c"/><stop offset="0.6818" stop-color="#092a48"/><stop offset="0.7102" stop-color="#092b49"/><stop offset="0.7386" stop-color="#0b3051"/><stop offset="0.7670" stop-color="#0c3a62"/><stop offset="0.8239" stop-color="#145c95"/><stop offset="0.8523" stop-color="#1d6ba5"/><stop offset="0.8807" stop-color="#2577b1"/><stop offset="0.9375" stop-color="#3284bb"/><stop offset="1.0000" stop-color="#3789c0"/></linearGradient><linearGradient id="g194" x1="0" y1="0" x2="0" y2="1"><stop offset="0.0000" stop-color="#2c7eb7"/><stop offset="0.2841" stop-color="#2b7cb5"/><stop offset="0.3977" stop-color="#2172ad"/><stop offset="0.4545" stop-color="#1a669f"/><stop offset="0.5114" stop-color="#10548c"/><stop offset="0.5966" stop-color="#0c355b"/><stop offset="0.6534" stop-color="#0a2c4c"/><stop offset="0.6818" stop-color="#092a48"/><stop offset="0.7102" stop-color="#092b49"/><stop offset="0.7386" stop-color="#0b3051"/><stop offset="0.7670" stop-color="#0c3961"/><stop offset="0.8239" stop-color="#145b93"/><stop offset="0.8807" stop-color="#2375af"/><stop offset="0.9375" stop-color="#3081b9"/><stop offset="1.0000" stop-color="#3486bd"/></linearGradient><linearGradient id="g195" x1="0" y1="0" x2="0" y2="1"><stop offset="0.0000" stop-color="#2c7eb7"/><stop offset="0.2841" stop-color="#2b7cb5"/><stop offset="0.3977" stop-color="#2172ad"/><stop offset="0.4545" stop-color="#1a669f"/><stop offset="0.5114" stop-color="#10548c"/><stop offset="0.5966" stop-color="#0c355b"/><stop offset="0.6534" stop-color="#0a2c4c"/><stop offset="0.6818" stop-color="#092a48"/><stop offset="0.7102" stop-color="#092b49"/><stop offset="0.7386" stop-color="#0b2f51"/><stop offset="0.7670" stop-color="#0c3960"/><stop offset="0.8239" stop-color="#135992"/><stop offset="0.8807" stop-color="#2172ad"/><stop offset="0.9375" stop-color="#2d7fb7"/><stop offset="1.0000" stop-color="#3283bb"/></linearGradient><linearGradient id="g196" x1="0" y1="0" x2="0" y2="1"><stop offset="0.0000" stop-color="#2c7eb7"/><stop offset="0.2841" stop-color="#2b7cb5"/><stop offset="0.3977" stop-color="#2172ad"/><stop offset="0.4545" stop-color="#1a66a0"/><stop offset="0.5114" stop-color="#10548c"/><stop offset="0.5966" stop-color="#0c355b"/><stop offset="0.6534" stop-color="#0a2c4c"/><stop offset="0.6818" stop-color="#092a48"/><stop offset="0.7102" stop-color="#092b49"/><stop offset="0.7386" stop-color="#0a2f51"/><stop offset="0.7670" stop-color="#0c385f"/><stop offset="0.8239" stop-color="#125890"/><stop offset="0.8807" stop-color="#2070ab"/><stop offset="0.9375" stop-color="#2b7cb5"/><stop offset="1.0000" stop-color="#2f80b8"/></linearGradient><linearGradient id="g197" x1="0" y1="0" x2="0" y2="1"><stop offset="0.0000" stop-color="#2c7eb7"/><stop offset="0.2841" stop-color="#2b7cb5"/><stop offset="0.3977" stop-color="#2172ad"/><stop offset="0.4545" stop-color="#1a66a0"/><stop offset="0.5114" stop-color="#10548c"/><stop offset="0.5966" stop-color="#0c355b"/><stop offset="0.6534" stop-color="#0a2c4c"/><stop offset="0.6818" stop-color="#092a48"/><stop offset="0.7102" stop-color="#092b49"/><stop offset="0.7386" stop-color="#0a2f50"/><stop offset="0.7670" stop-color="#0c375e"/><stop offset="0.8239" stop-color="#11568f"/><stop offset="0.8807" stop-color="#1e6ea9"/><stop offset="0.9375" stop-color="#2879b3"/><stop offset="1.0000" stop-color="#2c7db6"/></linearGradient><linearGradient id="g198" x1="0" y1="0" x2="0" y2="1"><stop offset="0.0000" stop-color="#2c7eb7"/><stop offset="0.2841" stop-color="#2b7cb5"/><stop offset="0.3977" stop-color="#2172ad"/><stop offset="0.4545" stop-color="#1a66a0"/><stop offset="0.5114" stop-color="#10548c"/><stop offset="0.5966" stop-color="#0c355b"/><stop offset="0.6534" stop-color="#0a2c4c"/><stop offset="0.6818" stop-color="#092a48"/><stop offset="0.7102" stop-color="#092b49"/><stop offset="0.7386" stop-color="#0a2f50"/><stop offset="0.7670" stop-color="#0c375d"/><stop offset="0.8239" stop-color="#11558d"/><stop offset="0.8807" stop-color="#1d6ca6"/><stop offset="0.9375" stop-color="#2677b1"/><stop offset="1.0000" stop-color="#297bb4"/></linearGradient><filter id="bl1" filterUnits="userSpaceOnUse" x="0" y="0" width="1000" height="545"><feGaussianBlur stdDeviation="1.1"/></filter><filter id="bl3" filterUnits="userSpaceOnUse" x="0" y="0" width="1000" height="545"><feGaussianBlur stdDeviation="3.5"/></filter><clipPath id="cb0"><rect x="567.3" y="35.5" width="50.3" height="92.5"/></clipPath><clipPath id="cb1"><rect x="617.6" y="35.5" width="9.8" height="92.5"/></clipPath><clipPath id="cb2"><rect x="627.4" y="76.8" width="122.2" height="78.2"/></clipPath><clipPath id="cb3"><rect x="749.6" y="129.3" width="122.4" height="52.4"/></clipPath><clipPath id="cb4"><rect x="872.0" y="145.1" width="122.3" height="62.3"/></clipPath><linearGradient id="tg" x1="0" y1="0" x2="0" y2="1"><stop offset="0" stop-color="#7fb6de"/><stop offset="0.45" stop-color="#2a74b0"/><stop offset="1" stop-color="#185c98"/></linearGradient><linearGradient id="g199" x1="0" y1="0" x2="0" y2="1"><stop offset="0.0000" stop-color="#b0d2ea"/><stop offset="0.0539" stop-color="#aacee8"/><stop offset="0.0970" stop-color="#a0c9e5"/><stop offset="0.1348" stop-color="#92c2e1"/><stop offset="0.1617" stop-color="#81b8dc"/><stop offset="0.2049" stop-color="#5da3d0"/><stop offset="0.2426" stop-color="#398bc1"/><stop offset="0.2749" stop-color="#2071ac"/><stop offset="0.3073" stop-color="#10558d"/><stop offset="0.3181" stop-color="#0f4f84"/><stop offset="0.3450" stop-color="#0f4f84"/><stop offset="0.3504" stop-color="#10548c"/><stop offset="0.3558" stop-color="#18629c"/><stop offset="0.3612" stop-color="#2476b0"/><stop offset="0.3666" stop-color="#3a8cc2"/><stop offset="0.3774" stop-color="#83b9dc"/><stop offset="0.3827" stop-color="#a3cbe6"/><stop offset="0.3881" stop-color="#bcd8ed"/><stop offset="0.3935" stop-color="#c9e0f2"/><stop offset="0.3989" stop-color="#d2e6f5"/><stop offset="0.4097" stop-color="#d9ebf7"/><stop offset="0.4259" stop-color="#d8eaf7"/><stop offset="0.4960" stop-color="#c0dbef"/><stop offset="0.5606" stop-color="#b4d4eb"/><stop offset="0.8086" stop-color="#accfe8"/><stop offset="0.8410" stop-color="#a4cbe6"/><stop offset="0.8949" stop-color="#8cbfdf"/><stop offset="0.9164" stop-color="#87bbdd"/><stop offset="0.9326" stop-color="#87bcde"/><stop offset="0.9488" stop-color="#8dbfdf"/><stop offset="1.0000" stop-color="#add0e9"/></linearGradient><linearGradient id="g200" x1="0" y1="0" x2="0" y2="1"><stop offset="0.0000" stop-color="#aacee8"/><stop offset="0.0593" stop-color="#a1cae5"/><stop offset="0.1078" stop-color="#93c2e1"/><stop offset="0.1456" stop-color="#7fb7db"/><stop offset="0.1887" stop-color="#5da3d0"/><stop offset="0.2264" stop-color="#3a8cc2"/><stop offset="0.2642" stop-color="#1e6ea8"/><stop offset="0.2911" stop-color="#11568e"/><stop offset="0.3073" stop-color="#0f4b7d"/><stop offset="0.3342" stop-color="#0f4a7d"/><stop offset="0.3396" stop-color="#0f4e83"/><stop offset="0.3450" stop-color="#145a93"/><stop offset="0.3504" stop-color="#1e6da8"/><stop offset="0.3558" stop-color="#3183bb"/><stop offset="0.3612" stop-color="#4f9aca"/><stop offset="0.3720" stop-color="#97c5e2"/><stop offset="0.3774" stop-color="#b1d2ea"/><stop offset="0.3827" stop-color="#c3dcef"/><stop offset="0.3881" stop-color="#cce2f3"/><stop offset="0.3989" stop-color="#d5e8f6"/><stop offset="0.4151" stop-color="#d4e8f6"/><stop offset="0.5013" stop-color="#b8d6ec"/><stop offset="0.5499" stop-color="#aed1e9"/><stop offset="0.6092" stop-color="#abcfe8"/><stop offset="0.7493" stop-color="#a9cee8"/><stop offset="0.7925" stop-color="#a5cce6"/><stop offset="0.8194" stop-color="#9ec8e4"/><stop offset="0.8733" stop-color="#86bbdd"/><stop offset="0.8949" stop-color="#80b7db"/><stop offset="0.9111" stop-color="#81b8dc"/><stop offset="0.9272" stop-color="#86bbdd"/><stop offset="1.0000" stop-color="#b3d3ea"/></linearGradient><linearGradient id="g201" x1="0" y1="0" x2="0" y2="1"><stop offset="0.0000" stop-color="#a9cee8"/><stop offset="0.0539" stop-color="#a0c9e5"/><stop offset="0.1024" stop-color="#91c2e1"/><stop offset="0.1402" stop-color="#7cb5da"/><stop offset="0.1833" stop-color="#5aa1cf"/><stop offset="0.2156" stop-color="#3b8cc2"/><stop offset="0.2534" stop-color="#1f6fa9"/><stop offset="0.2803" stop-color="#11578f"/><stop offset="0.2965" stop-color="#0f4b7e"/><stop offset="0.3235" stop-color="#0f4b7d"/><stop offset="0.3288" stop-color="#0f4d81"/><stop offset="0.3342" stop-color="#125890"/><stop offset="0.3396" stop-color="#1c6aa4"/><stop offset="0.3450" stop-color="#2e7fb8"/><stop offset="0.3504" stop-color="#4a96c8"/><stop offset="0.3612" stop-color="#92c2e1"/><stop offset="0.3666" stop-color="#aed0e9"/><stop offset="0.3720" stop-color="#c1dbef"/><stop offset="0.3774" stop-color="#cbe2f2"/><stop offset="0.3881" stop-color="#d5e8f6"/><stop offset="0.4043" stop-color="#d5e8f6"/><stop offset="0.4906" stop-color="#b8d6ec"/><stop offset="0.5391" stop-color="#afd1e9"/><stop offset="0.7655" stop-color="#a6cce7"/><stop offset="0.8032" stop-color="#9cc7e4"/><stop offset="0.8571" stop-color="#84badd"/><stop offset="0.8787" stop-color="#80b7db"/><stop offset="0.9057" stop-color="#86bbdd"/><stop offset="0.9704" stop-color="#b0d1e9"/><stop offset="1.0000" stop-color="#bbd8ed"/></linearGradient><linearGradient id="g202" x1="0" y1="0" x2="0" y2="1"><stop offset="0.0000" stop-color="#a6cde7"/><stop offset="0.0485" stop-color="#9ec8e4"/><stop offset="0.0916" stop-color="#90c1e0"/><stop offset="0.1348" stop-color="#77b2d9"/><stop offset="0.1779" stop-color="#549dcd"/><stop offset="0.2049" stop-color="#3a8cc2"/><stop offset="0.2426" stop-color="#1f6ea9"/><stop offset="0.2695" stop-color="#11568f"/><stop offset="0.2857" stop-color="#0f4a7d"/><stop offset="0.3127" stop-color="#0f4a7b"/><stop offset="0.3181" stop-color="#0f4b7e"/><stop offset="0.3235" stop-color="#10558d"/><stop offset="0.3288" stop-color="#1a669f"/><stop offset="0.3342" stop-color="#2a7bb4"/><stop offset="0.3396" stop-color="#4392c5"/><stop offset="0.3504" stop-color="#8bbedf"/><stop offset="0.3558" stop-color="#a8cee7"/><stop offset="0.3612" stop-color="#bed9ee"/><stop offset="0.3666" stop-color="#c9e0f2"/><stop offset="0.3720" stop-color="#cfe5f4"/><stop offset="0.3827" stop-color="#d5e8f6"/><stop offset="0.3989" stop-color="#d2e6f5"/><stop offset="0.4852" stop-color="#b6d5eb"/><stop offset="0.5229" stop-color="#aed1e9"/><stop offset="0.5822" stop-color="#aacee8"/><stop offset="0.7116" stop-color="#a7cde7"/><stop offset="0.7493" stop-color="#a4cbe6"/><stop offset="0.7817" stop-color="#9ac6e3"/><stop offset="0.8356" stop-color="#82b9dc"/><stop offset="0.8571" stop-color="#7eb6db"/><stop offset="0.8733" stop-color="#80b8db"/><stop offset="0.8895" stop-color="#87bcde"/><stop offset="0.9596" stop-color="#b3d3ea"/><stop offset="1.0000" stop-color="#bdd9ed"/></linearGradient><linearGradient id="g203" x1="0" y1="0" x2="0" y2="1"><stop offset="0.0000" stop-color="#abcfe8"/><stop offset="0.0539" stop-color="#a0cae5"/><stop offset="0.0970" stop-color="#91c1e1"/><stop offset="0.1294" stop-color="#7db6da"/><stop offset="0.1671" stop-color="#5da3d0"/><stop offset="0.2049" stop-color="#388ac0"/><stop offset="0.2372" stop-color="#1f6faa"/><stop offset="0.2642" stop-color="#12578f"/><stop offset="0.2749" stop-color="#0f4f84"/><stop offset="0.2803" stop-color="#0f4e82"/><stop offset="0.3019" stop-color="#0f4e82"/><stop offset="0.3073" stop-color="#0f5085"/><stop offset="0.3127" stop-color="#135a92"/><stop offset="0.3181" stop-color="#1d6ba6"/><stop offset="0.3235" stop-color="#2f81b9"/><stop offset="0.3288" stop-color="#4b97c9"/><stop offset="0.3396" stop-color="#95c3e2"/><stop offset="0.3450" stop-color="#b0d2ea"/><stop offset="0.3504" stop-color="#c3dcef"/><stop offset="0.3558" stop-color="#cde3f3"/><stop offset="0.3666" stop-color="#d8eaf7"/><stop offset="0.3827" stop-color="#d8eaf7"/><stop offset="0.4420" stop-color="#c3dcef"/><stop offset="0.5121" stop-color="#b3d3ea"/><stop offset="0.7278" stop-color="#a9cee8"/><stop offset="0.7601" stop-color="#a0cae5"/><stop offset="0.8140" stop-color="#89bdde"/><stop offset="0.8356" stop-color="#84badd"/><stop offset="0.8518" stop-color="#86bbdd"/><stop offset="0.8679" stop-color="#8cbedf"/><stop offset="0.9272" stop-color="#b2d3ea"/><stop offset="0.9488" stop-color="#bcd8ed"/><stop offset="1.0000" stop-color="#c1dbef"/></linearGradient><linearGradient id="g204" x1="0" y1="0" x2="0" y2="1"><stop offset="0.0000" stop-color="#a2cae6"/><stop offset="0.0485" stop-color="#98c5e3"/><stop offset="0.0863" stop-color="#8abddf"/><stop offset="0.1240" stop-color="#73b0d7"/><stop offset="0.1671" stop-color="#4e99ca"/><stop offset="0.1887" stop-color="#398bc1"/><stop offset="0.2156" stop-color="#2475af"/><stop offset="0.2426" stop-color="#155c95"/><stop offset="0.2642" stop-color="#0f4a7c"/><stop offset="0.2695" stop-color="#0e4879"/><stop offset="0.2911" stop-color="#0e4879"/><stop offset="0.2965" stop-color="#0f4d80"/><stop offset="0.3019" stop-color="#135992"/><stop offset="0.3073" stop-color="#1e6ca7"/><stop offset="0.3127" stop-color="#3183ba"/><stop offset="0.3181" stop-color="#4f99ca"/><stop offset="0.3288" stop-color="#96c4e2"/><stop offset="0.3342" stop-color="#b0d2ea"/><stop offset="0.3396" stop-color="#c2dcef"/><stop offset="0.3450" stop-color="#cbe1f2"/><stop offset="0.3558" stop-color="#d3e7f5"/><stop offset="0.3720" stop-color="#d2e6f5"/><stop offset="0.4528" stop-color="#b5d4eb"/><stop offset="0.4960" stop-color="#abcfe8"/><stop offset="0.5553" stop-color="#a6cde7"/><stop offset="0.6739" stop-color="#a4cbe6"/><stop offset="0.7116" stop-color="#a0c9e5"/><stop offset="0.7439" stop-color="#96c4e2"/><stop offset="0.7925" stop-color="#7fb7db"/><stop offset="0.8140" stop-color="#7bb4da"/><stop offset="0.8302" stop-color="#7cb5da"/><stop offset="0.8464" stop-color="#82b8dc"/><stop offset="0.9057" stop-color="#a9cee7"/><stop offset="0.9272" stop-color="#b3d3ea"/><stop offset="0.9596" stop-color="#bad7ec"/><stop offset="1.0000" stop-color="#bcd8ed"/></linearGradient><linearGradient id="g205" x1="0" y1="0" x2="0" y2="1"><stop offset="0.0000" stop-color="#add0e9"/><stop offset="0.0485" stop-color="#a2cae6"/><stop offset="0.0863" stop-color="#94c3e2"/><stop offset="0.1186" stop-color="#7fb7db"/><stop offset="0.1509" stop-color="#61a6d2"/><stop offset="0.1887" stop-color="#3a8cc2"/><stop offset="0.2210" stop-color="#1f70ab"/><stop offset="0.2480" stop-color="#125790"/><stop offset="0.2588" stop-color="#105188"/><stop offset="0.2803" stop-color="#105288"/><stop offset="0.2857" stop-color="#135991"/><stop offset="0.2911" stop-color="#1b67a1"/><stop offset="0.2965" stop-color="#2a7bb4"/><stop offset="0.3019" stop-color="#4291c5"/><stop offset="0.3127" stop-color="#8cbfdf"/><stop offset="0.3181" stop-color="#abcfe8"/><stop offset="0.3235" stop-color="#c1dbef"/><stop offset="0.3288" stop-color="#cde3f3"/><stop offset="0.3342" stop-color="#d5e8f6"/><stop offset="0.3450" stop-color="#dbecf8"/><stop offset="0.3666" stop-color="#d8eaf7"/><stop offset="0.4313" stop-color="#c1dbef"/><stop offset="0.4906" stop-color="#b5d5eb"/><stop offset="0.5445" stop-color="#b1d2ea"/><stop offset="0.6577" stop-color="#afd1e9"/><stop offset="0.6954" stop-color="#abcfe8"/><stop offset="0.7278" stop-color="#a1cae5"/><stop offset="0.7763" stop-color="#8cbedf"/><stop offset="0.7978" stop-color="#87bcde"/><stop offset="0.8140" stop-color="#88bcde"/><stop offset="0.8302" stop-color="#8ec0e0"/><stop offset="0.9057" stop-color="#bcd8ed"/><stop offset="0.9434" stop-color="#c2dcef"/><stop offset="1.0000" stop-color="#c4ddf0"/></linearGradient><linearGradient id="g206" x1="0" y1="0" x2="0" y2="1"><stop offset="0.0000" stop-color="#a6cce7"/><stop offset="0.0431" stop-color="#9cc7e4"/><stop offset="0.0755" stop-color="#90c1e0"/><stop offset="0.1078" stop-color="#7bb5da"/><stop offset="0.1456" stop-color="#5aa1cf"/><stop offset="0.1779" stop-color="#398bc1"/><stop offset="0.2102" stop-color="#1f6fa9"/><stop offset="0.2372" stop-color="#11558d"/><stop offset="0.2480" stop-color="#0f4e83"/><stop offset="0.2695" stop-color="#0f4f84"/><stop offset="0.2749" stop-color="#125790"/><stop offset="0.2803" stop-color="#1b67a1"/><stop offset="0.2857" stop-color="#2a7cb5"/><stop offset="0.2911" stop-color="#4392c6"/><stop offset="0.3019" stop-color="#8cbfdf"/><stop offset="0.3073" stop-color="#aacee8"/><stop offset="0.3127" stop-color="#bfdaee"/><stop offset="0.3181" stop-color="#cbe1f2"/><stop offset="0.3235" stop-color="#d2e6f5"/><stop offset="0.3342" stop-color="#d8eaf7"/><stop offset="0.3504" stop-color="#d5e8f6"/><stop offset="0.4367" stop-color="#b7d6ec"/><stop offset="0.4744" stop-color="#afd1e9"/><stop offset="0.5283" stop-color="#abcfe8"/><stop offset="0.6415" stop-color="#a8cee7"/><stop offset="0.6792" stop-color="#a4cbe6"/><stop offset="0.7116" stop-color="#9bc7e3"/><stop offset="0.7601" stop-color="#84badd"/><stop offset="0.7817" stop-color="#7fb7db"/><stop offset="0.7978" stop-color="#80b8dc"/><stop offset="0.8140" stop-color="#86bbdd"/><stop offset="0.8733" stop-color="#acd0e9"/><stop offset="0.9003" stop-color="#b9d6ec"/><stop offset="0.9326" stop-color="#bed9ee"/><stop offset="1.0000" stop-color="#bfdaee"/></linearGradient><linearGradient id="g207" x1="0" y1="0" x2="0" y2="1"><stop offset="0.0000" stop-color="#a8cde7"/><stop offset="0.0431" stop-color="#9dc8e4"/><stop offset="0.0755" stop-color="#90c1e0"/><stop offset="0.1078" stop-color="#79b4d9"/><stop offset="0.1348" stop-color="#60a5d1"/><stop offset="0.1671" stop-color="#3e8ec4"/><stop offset="0.1995" stop-color="#2172ad"/><stop offset="0.2318" stop-color="#10558d"/><stop offset="0.2372" stop-color="#10538a"/><stop offset="0.2534" stop-color="#10538a"/><stop offset="0.2588" stop-color="#12578f"/><stop offset="0.2642" stop-color="#18639d"/><stop offset="0.2695" stop-color="#2576b0"/><stop offset="0.2749" stop-color="#398bc1"/><stop offset="0.2803" stop-color="#5ba1cf"/><stop offset="0.2857" stop-color="#81b8dc"/><stop offset="0.2911" stop-color="#a2cae5"/><stop offset="0.2965" stop-color="#bbd8ed"/><stop offset="0.3019" stop-color="#c9e0f2"/><stop offset="0.3073" stop-color="#d2e6f5"/><stop offset="0.3181" stop-color="#d9ebf7"/><stop offset="0.3342" stop-color="#d8eaf7"/><stop offset="0.3935" stop-color="#c2dcef"/><stop offset="0.4582" stop-color="#b3d3ea"/><stop offset="0.5121" stop-color="#aed1e9"/><stop offset="0.6307" stop-color="#abcfe8"/><stop offset="0.6631" stop-color="#a7cde7"/><stop offset="0.6954" stop-color="#9dc8e4"/><stop offset="0.7439" stop-color="#88bcde"/><stop offset="0.7655" stop-color="#83b9dc"/><stop offset="0.7817" stop-color="#84badd"/><stop offset="0.7978" stop-color="#8abdde"/><stop offset="0.8571" stop-color="#afd1e9"/><stop offset="0.8841" stop-color="#bcd8ed"/><stop offset="0.9218" stop-color="#c0dbee"/><stop offset="1.0000" stop-color="#c1dbef"/></linearGradient><linearGradient id="g208" x1="0" y1="0" x2="0" y2="1"><stop offset="0.0000" stop-color="#a5cce6"/><stop offset="0.0377" stop-color="#9bc7e4"/><stop offset="0.0647" stop-color="#90c1e0"/><stop offset="0.0970" stop-color="#79b4d9"/><stop offset="0.1294" stop-color="#5ba1cf"/><stop offset="0.1617" stop-color="#388ac0"/><stop offset="0.1887" stop-color="#2172ac"/><stop offset="0.2210" stop-color="#10558d"/><stop offset="0.2372" stop-color="#10548c"/><stop offset="0.2426" stop-color="#11578f"/><stop offset="0.2480" stop-color="#17619b"/><stop offset="0.2534" stop-color="#2273ae"/><stop offset="0.2588" stop-color="#3688be"/><stop offset="0.2642" stop-color="#559ecd"/><stop offset="0.2749" stop-color="#9cc7e4"/><stop offset="0.2803" stop-color="#b7d5eb"/><stop offset="0.2857" stop-color="#c6dff1"/><stop offset="0.2911" stop-color="#d0e5f4"/><stop offset="0.3019" stop-color="#d9eaf7"/><stop offset="0.3181" stop-color="#d8eaf7"/><stop offset="0.3774" stop-color="#c2dcef"/><stop offset="0.4474" stop-color="#b1d2ea"/><stop offset="0.5013" stop-color="#acd0e8"/><stop offset="0.6092" stop-color="#aacee8"/><stop offset="0.6469" stop-color="#a5cce7"/><stop offset="0.6792" stop-color="#9cc7e4"/><stop offset="0.7278" stop-color="#86bbdd"/><stop offset="0.7493" stop-color="#81b8dc"/><stop offset="0.7655" stop-color="#82b9dc"/><stop offset="0.7817" stop-color="#88bcde"/><stop offset="0.8410" stop-color="#aed1e9"/><stop offset="0.8733" stop-color="#bcd8ed"/><stop offset="0.9111" stop-color="#bfdaee"/><stop offset="1.0000" stop-color="#c0dbee"/></linearGradient><linearGradient id="g209" x1="0" y1="0" x2="0" y2="1"><stop offset="0.0000" stop-color="#a8cee7"/><stop offset="0.0323" stop-color="#9fc9e5"/><stop offset="0.0647" stop-color="#90c1e0"/><stop offset="0.0916" stop-color="#7cb5da"/><stop offset="0.1186" stop-color="#61a5d2"/><stop offset="0.1509" stop-color="#3c8ec3"/><stop offset="0.1833" stop-color="#1f70ab"/><stop offset="0.2049" stop-color="#155c95"/><stop offset="0.2210" stop-color="#135a93"/><stop offset="0.2264" stop-color="#145c94"/><stop offset="0.2318" stop-color="#19659e"/><stop offset="0.2372" stop-color="#2375af"/><stop offset="0.2426" stop-color="#3688bf"/><stop offset="0.2480" stop-color="#559ecd"/><stop offset="0.2588" stop-color="#9dc8e4"/><stop offset="0.2642" stop-color="#b8d6ec"/><stop offset="0.2695" stop-color="#c8e0f1"/><stop offset="0.2749" stop-color="#d2e6f5"/><stop offset="0.2857" stop-color="#dbecf8"/><stop offset="0.3073" stop-color="#daebf8"/><stop offset="0.3666" stop-color="#c4ddf0"/><stop offset="0.4313" stop-color="#b5d5eb"/><stop offset="0.4852" stop-color="#b1d2ea"/><stop offset="0.5930" stop-color="#aed1e9"/><stop offset="0.6307" stop-color="#aacfe8"/><stop offset="0.6631" stop-color="#a0cae5"/><stop offset="0.7116" stop-color="#8bbedf"/><stop offset="0.7332" stop-color="#86bbdd"/><stop offset="0.7493" stop-color="#87bcde"/><stop offset="0.7655" stop-color="#8dbfdf"/><stop offset="0.8248" stop-color="#b3d3ea"/><stop offset="0.8464" stop-color="#bdd8ed"/><stop offset="0.8949" stop-color="#c2dcef"/><stop offset="1.0000" stop-color="#c3ddf0"/></linearGradient><linearGradient id="g210" x1="0" y1="0" x2="0" y2="1"><stop offset="0.0000" stop-color="#9ec8e4"/><stop offset="0.0323" stop-color="#93c3e1"/><stop offset="0.0593" stop-color="#84badd"/><stop offset="0.0809" stop-color="#74b0d8"/><stop offset="0.1132" stop-color="#549dcd"/><stop offset="0.1348" stop-color="#3c8dc3"/><stop offset="0.1671" stop-color="#1f70ab"/><stop offset="0.1941" stop-color="#125890"/><stop offset="0.2049" stop-color="#12578f"/><stop offset="0.2102" stop-color="#125890"/><stop offset="0.2156" stop-color="#165f98"/><stop offset="0.2210" stop-color="#1e6ea8"/><stop offset="0.2264" stop-color="#2f81b9"/><stop offset="0.2318" stop-color="#4996c8"/><stop offset="0.2426" stop-color="#90c1e0"/><stop offset="0.2480" stop-color="#accfe8"/><stop offset="0.2534" stop-color="#c0dbee"/><stop offset="0.2588" stop-color="#cbe2f2"/><stop offset="0.2642" stop-color="#d2e6f5"/><stop offset="0.2749" stop-color="#d8eaf7"/><stop offset="0.2911" stop-color="#d5e8f6"/><stop offset="0.3774" stop-color="#b5d4eb"/><stop offset="0.4097" stop-color="#add0e9"/><stop offset="0.4582" stop-color="#a8cde7"/><stop offset="0.5768" stop-color="#a5cce6"/><stop offset="0.6146" stop-color="#a1cae5"/><stop offset="0.6469" stop-color="#97c5e2"/><stop offset="0.6954" stop-color="#80b8db"/><stop offset="0.7170" stop-color="#7bb5da"/><stop offset="0.7332" stop-color="#7db5da"/><stop offset="0.7493" stop-color="#82b9dc"/><stop offset="0.8140" stop-color="#acd0e8"/><stop offset="0.8464" stop-color="#b8d6ec"/><stop offset="0.8841" stop-color="#bcd8ed"/><stop offset="1.0000" stop-color="#bdd9ed"/></linearGradient><linearGradient id="g211" x1="0" y1="0" x2="0" y2="1"><stop offset="0.0000" stop-color="#a0c9e5"/><stop offset="0.0270" stop-color="#97c4e2"/><stop offset="0.0485" stop-color="#8bbedf"/><stop offset="0.0755" stop-color="#75b1d8"/><stop offset="0.1024" stop-color="#5aa1cf"/><stop offset="0.1294" stop-color="#3a8cc2"/><stop offset="0.1563" stop-color="#2273ae"/><stop offset="0.1779" stop-color="#166099"/><stop offset="0.1887" stop-color="#155e97"/><stop offset="0.1941" stop-color="#165e97"/><stop offset="0.1995" stop-color="#19659f"/><stop offset="0.2049" stop-color="#2273ae"/><stop offset="0.2102" stop-color="#3486bd"/><stop offset="0.2156" stop-color="#509acb"/><stop offset="0.2264" stop-color="#96c4e2"/><stop offset="0.2318" stop-color="#b1d2ea"/><stop offset="0.2372" stop-color="#c4ddf0"/><stop offset="0.2426" stop-color="#cfe4f4"/><stop offset="0.2480" stop-color="#d6e9f6"/><stop offset="0.2588" stop-color="#dbecf8"/><stop offset="0.2749" stop-color="#d8eaf7"/><stop offset="0.3342" stop-color="#c1dbef"/><stop offset="0.3989" stop-color="#b1d2ea"/><stop offset="0.5984" stop-color="#a5cce7"/><stop offset="0.6307" stop-color="#9cc7e4"/><stop offset="0.6792" stop-color="#86bbdd"/><stop offset="0.7008" stop-color="#81b8dc"/><stop offset="0.7170" stop-color="#82b8dc"/><stop offset="0.7332" stop-color="#87bcde"/><stop offset="0.7978" stop-color="#b0d2ea"/><stop offset="0.8248" stop-color="#bbd8ed"/><stop offset="0.8733" stop-color="#bfdaee"/><stop offset="1.0000" stop-color="#c0dbee"/></linearGradient><linearGradient id="g212" x1="0" y1="0" x2="0" y2="1"><stop offset="0.0000" stop-color="#9cc7e4"/><stop offset="0.0216" stop-color="#93c3e1"/><stop offset="0.0431" stop-color="#86bbdd"/><stop offset="0.0647" stop-color="#73b0d7"/><stop offset="0.0916" stop-color="#579fcd"/><stop offset="0.1186" stop-color="#3789c0"/><stop offset="0.1456" stop-color="#1f70ab"/><stop offset="0.1617" stop-color="#18629c"/><stop offset="0.1725" stop-color="#17619b"/><stop offset="0.1779" stop-color="#19649e"/><stop offset="0.1833" stop-color="#1f6faa"/><stop offset="0.1887" stop-color="#2e7fb7"/><stop offset="0.1941" stop-color="#4493c6"/><stop offset="0.1995" stop-color="#64a7d3"/><stop offset="0.2049" stop-color="#89bdde"/><stop offset="0.2102" stop-color="#a7cde7"/><stop offset="0.2156" stop-color="#bed9ee"/><stop offset="0.2210" stop-color="#cbe2f2"/><stop offset="0.2264" stop-color="#d4e7f5"/><stop offset="0.2372" stop-color="#daebf8"/><stop offset="0.2534" stop-color="#d9ebf7"/><stop offset="0.3127" stop-color="#c2dcef"/><stop offset="0.3827" stop-color="#b0d2ea"/><stop offset="0.5822" stop-color="#a5cce6"/><stop offset="0.6146" stop-color="#9cc7e4"/><stop offset="0.6685" stop-color="#84badd"/><stop offset="0.6900" stop-color="#80b8db"/><stop offset="0.7170" stop-color="#87bcde"/><stop offset="0.7817" stop-color="#b0d2ea"/><stop offset="0.8140" stop-color="#bcd8ed"/><stop offset="0.8625" stop-color="#bfdaee"/><stop offset="1.0000" stop-color="#c0daee"/></linearGradient><linearGradient id="g213" x1="0" y1="0" x2="0" y2="1"><stop offset="0.0000" stop-color="#9cc7e4"/><stop offset="0.0216" stop-color="#91c1e1"/><stop offset="0.0377" stop-color="#85badd"/><stop offset="0.0755" stop-color="#5ea3d0"/><stop offset="0.1024" stop-color="#3d8ec3"/><stop offset="0.1240" stop-color="#297ab3"/><stop offset="0.1348" stop-color="#2070ab"/><stop offset="0.1456" stop-color="#1b68a2"/><stop offset="0.1509" stop-color="#1b68a2"/><stop offset="0.1563" stop-color="#1b69a3"/><stop offset="0.1617" stop-color="#1f70ab"/><stop offset="0.1671" stop-color="#2b7db6"/><stop offset="0.1725" stop-color="#3e8ec4"/><stop offset="0.1779" stop-color="#5ca2d0"/><stop offset="0.1887" stop-color="#a0cae5"/><stop offset="0.1941" stop-color="#bbd7ed"/><stop offset="0.1995" stop-color="#c9e0f2"/><stop offset="0.2049" stop-color="#d4e7f5"/><stop offset="0.2156" stop-color="#dcedf8"/><stop offset="0.2372" stop-color="#dbecf8"/><stop offset="0.3019" stop-color="#c2dcef"/><stop offset="0.3666" stop-color="#b4d4eb"/><stop offset="0.4205" stop-color="#b0d2e9"/><stop offset="0.5283" stop-color="#add0e9"/><stop offset="0.5660" stop-color="#a9cee8"/><stop offset="0.5984" stop-color="#a0c9e5"/><stop offset="0.6523" stop-color="#89bcde"/><stop offset="0.6739" stop-color="#85badd"/><stop offset="0.7008" stop-color="#8cbedf"/><stop offset="0.7655" stop-color="#b4d4eb"/><stop offset="0.7925" stop-color="#bed9ee"/><stop offset="0.8410" stop-color="#c2dcef"/><stop offset="1.0000" stop-color="#c3dcef"/></linearGradient><linearGradient id="g214" x1="0" y1="0" x2="0" y2="1"><stop offset="0.0000" stop-color="#8fc0e0"/><stop offset="0.0323" stop-color="#76b2d8"/><stop offset="0.0701" stop-color="#4e99ca"/><stop offset="0.0863" stop-color="#3a8cc2"/><stop offset="0.1132" stop-color="#2273ad"/><stop offset="0.1294" stop-color="#1a66a0"/><stop offset="0.1348" stop-color="#1a66a0"/><stop offset="0.1402" stop-color="#1a67a1"/><stop offset="0.1456" stop-color="#1f6faa"/><stop offset="0.1509" stop-color="#2c7db6"/><stop offset="0.1563" stop-color="#3f8fc4"/><stop offset="0.1617" stop-color="#5da3d0"/><stop offset="0.1671" stop-color="#81b8dc"/><stop offset="0.1725" stop-color="#a0cae5"/><stop offset="0.1779" stop-color="#bad7ec"/><stop offset="0.1833" stop-color="#c8e0f1"/><stop offset="0.1887" stop-color="#d1e6f5"/><stop offset="0.1995" stop-color="#daebf8"/><stop offset="0.2210" stop-color="#d8eaf7"/><stop offset="0.2749" stop-color="#c2dcef"/><stop offset="0.3450" stop-color="#afd1e9"/><stop offset="0.4043" stop-color="#aacee8"/><stop offset="0.5337" stop-color="#a7cde7"/><stop offset="0.5714" stop-color="#a3cbe6"/><stop offset="0.6038" stop-color="#99c6e3"/><stop offset="0.6523" stop-color="#83b9dc"/><stop offset="0.6739" stop-color="#7eb6db"/><stop offset="0.6900" stop-color="#80b7db"/><stop offset="0.7062" stop-color="#86bbdd"/><stop offset="0.7709" stop-color="#b0d1e9"/><stop offset="0.8032" stop-color="#bbd7ed"/><stop offset="0.8518" stop-color="#bed9ee"/><stop offset="1.0000" stop-color="#bfdaee"/></linearGradient><linearGradient id="g215" x1="0" y1="0" x2="0" y2="1"><stop offset="0.0000" stop-color="#a6cce7"/><stop offset="0.0323" stop-color="#9ec8e4"/><stop offset="0.0593" stop-color="#93c3e1"/><stop offset="0.0970" stop-color="#79b3d9"/><stop offset="0.1509" stop-color="#4090c4"/><stop offset="0.1833" stop-color="#2172ad"/><stop offset="0.2102" stop-color="#145b93"/><stop offset="0.2210" stop-color="#135a93"/><stop offset="0.2264" stop-color="#145b94"/><stop offset="0.2318" stop-color="#18629c"/><stop offset="0.2372" stop-color="#2071ac"/><stop offset="0.2426" stop-color="#3284bc"/><stop offset="0.2480" stop-color="#4e99ca"/><stop offset="0.2588" stop-color="#95c4e2"/><stop offset="0.2642" stop-color="#b1d2ea"/><stop offset="0.2695" stop-color="#c4ddf0"/><stop offset="0.2749" stop-color="#cfe4f4"/><stop offset="0.2803" stop-color="#d6e8f6"/><stop offset="0.2911" stop-color="#daebf8"/><stop offset="0.3073" stop-color="#d8eaf7"/><stop offset="0.3666" stop-color="#c1dbef"/><stop offset="0.4313" stop-color="#b1d2ea"/><stop offset="0.6199" stop-color="#a6cce7"/><stop offset="0.6523" stop-color="#9cc7e4"/><stop offset="0.7008" stop-color="#86bbdd"/><stop offset="0.7224" stop-color="#81b8dc"/><stop offset="0.7385" stop-color="#82b9dc"/><stop offset="0.7547" stop-color="#88bcde"/><stop offset="0.8194" stop-color="#b1d2ea"/><stop offset="0.8464" stop-color="#bcd8ed"/><stop offset="0.8895" stop-color="#c0daee"/><stop offset="1.0000" stop-color="#c0dbee"/></linearGradient><linearGradient id="g216" x1="0" y1="0" x2="0" y2="1"><stop offset="0.0000" stop-color="#a2cbe6"/><stop offset="0.0323" stop-color="#99c6e3"/><stop offset="0.0593" stop-color="#8cbedf"/><stop offset="0.0863" stop-color="#78b3d9"/><stop offset="0.1132" stop-color="#5da3d0"/><stop offset="0.1456" stop-color="#398bc1"/><stop offset="0.1725" stop-color="#2172ad"/><stop offset="0.1995" stop-color="#145a93"/><stop offset="0.2102" stop-color="#135a92"/><stop offset="0.2156" stop-color="#145b93"/><stop offset="0.2210" stop-color="#18629c"/><stop offset="0.2264" stop-color="#2172ac"/><stop offset="0.2318" stop-color="#3384bc"/><stop offset="0.2372" stop-color="#4f9aca"/><stop offset="0.2480" stop-color="#96c4e2"/><stop offset="0.2534" stop-color="#b1d2ea"/><stop offset="0.2588" stop-color="#c3ddf0"/><stop offset="0.2642" stop-color="#cee4f3"/><stop offset="0.2749" stop-color="#d8eaf7"/><stop offset="0.2911" stop-color="#d8eaf7"/><stop offset="0.3504" stop-color="#c2dcef"/><stop offset="0.4205" stop-color="#afd1e9"/><stop offset="0.4690" stop-color="#abcfe8"/><stop offset="0.5822" stop-color="#a8cde7"/><stop offset="0.6146" stop-color="#a3cbe6"/><stop offset="0.6469" stop-color="#9ac6e3"/><stop offset="0.6954" stop-color="#83badc"/><stop offset="0.7170" stop-color="#7fb7db"/><stop offset="0.7332" stop-color="#80b8dc"/><stop offset="0.7493" stop-color="#86bbdd"/><stop offset="0.8140" stop-color="#b0d2ea"/><stop offset="0.8464" stop-color="#bcd8ed"/><stop offset="0.8895" stop-color="#bfdaee"/><stop offset="1.0000" stop-color="#bfdaee"/></linearGradient><linearGradient id="g217" x1="0" y1="0" x2="0" y2="1"><stop offset="0.0000" stop-color="#a3cbe6"/><stop offset="0.0323" stop-color="#98c5e3"/><stop offset="0.0539" stop-color="#8dbfdf"/><stop offset="0.0809" stop-color="#78b3d9"/><stop offset="0.1078" stop-color="#5ca2d0"/><stop offset="0.1348" stop-color="#3d8ec3"/><stop offset="0.1671" stop-color="#2070ab"/><stop offset="0.1887" stop-color="#155e97"/><stop offset="0.1995" stop-color="#155d96"/><stop offset="0.2049" stop-color="#165f98"/><stop offset="0.2102" stop-color="#1b69a3"/><stop offset="0.2156" stop-color="#2779b2"/><stop offset="0.2210" stop-color="#3a8cc2"/><stop offset="0.2372" stop-color="#a0c9e5"/><stop offset="0.2426" stop-color="#bad7ec"/><stop offset="0.2480" stop-color="#c8e0f1"/><stop offset="0.2534" stop-color="#d2e6f5"/><stop offset="0.2642" stop-color="#daebf8"/><stop offset="0.2857" stop-color="#d8eaf7"/><stop offset="0.3396" stop-color="#c3dcef"/><stop offset="0.4097" stop-color="#b2d3ea"/><stop offset="0.6038" stop-color="#a7cde7"/><stop offset="0.6361" stop-color="#9dc8e4"/><stop offset="0.6900" stop-color="#86bbdd"/><stop offset="0.7116" stop-color="#82b8dc"/><stop offset="0.7385" stop-color="#88bcde"/><stop offset="0.8032" stop-color="#b1d2ea"/><stop offset="0.8302" stop-color="#bcd8ed"/><stop offset="0.8787" stop-color="#c0dbee"/><stop offset="1.0000" stop-color="#c1dbef"/></linearGradient><linearGradient id="g218" x1="0" y1="0" x2="0" y2="1"><stop offset="0.0000" stop-color="#a4cce6"/><stop offset="0.0431" stop-color="#94c3e2"/><stop offset="0.0809" stop-color="#77b3d9"/><stop offset="0.1348" stop-color="#3b8dc2"/><stop offset="0.1617" stop-color="#2274ae"/><stop offset="0.1833" stop-color="#17619b"/><stop offset="0.1941" stop-color="#17619a"/><stop offset="0.1995" stop-color="#19659f"/><stop offset="0.2049" stop-color="#2070ab"/><stop offset="0.2102" stop-color="#2f81b9"/><stop offset="0.2156" stop-color="#4795c7"/><stop offset="0.2210" stop-color="#68aad4"/><stop offset="0.2264" stop-color="#8dbfe0"/><stop offset="0.2318" stop-color="#abcfe8"/><stop offset="0.2372" stop-color="#c1dbef"/><stop offset="0.2426" stop-color="#cde3f3"/><stop offset="0.2480" stop-color="#d5e8f6"/><stop offset="0.2588" stop-color="#dcecf8"/><stop offset="0.2803" stop-color="#d9eaf7"/><stop offset="0.3450" stop-color="#c0dbef"/><stop offset="0.4043" stop-color="#b3d3ea"/><stop offset="0.5984" stop-color="#a8cde7"/><stop offset="0.6307" stop-color="#9ec9e5"/><stop offset="0.6846" stop-color="#87bbde"/><stop offset="0.7008" stop-color="#83badc"/><stop offset="0.7170" stop-color="#84badd"/><stop offset="0.7332" stop-color="#8abdde"/><stop offset="0.7925" stop-color="#b0d2e9"/><stop offset="0.8194" stop-color="#bcd8ed"/><stop offset="0.8679" stop-color="#c1dbef"/><stop offset="1.0000" stop-color="#c2dcef"/></linearGradient><linearGradient id="g219" x1="0" y1="0" x2="0" y2="1"><stop offset="0.0000" stop-color="#a6cde7"/><stop offset="0.0431" stop-color="#9dc8e4"/><stop offset="0.0755" stop-color="#92c2e1"/><stop offset="0.1078" stop-color="#7eb7db"/><stop offset="0.1456" stop-color="#5da3d0"/><stop offset="0.1779" stop-color="#3a8cc2"/><stop offset="0.2102" stop-color="#1f6faa"/><stop offset="0.2426" stop-color="#10528a"/><stop offset="0.2588" stop-color="#105289"/><stop offset="0.2642" stop-color="#11558d"/><stop offset="0.2695" stop-color="#176099"/><stop offset="0.2749" stop-color="#2172ad"/><stop offset="0.2803" stop-color="#3587be"/><stop offset="0.2857" stop-color="#539dcc"/><stop offset="0.2965" stop-color="#9bc6e3"/><stop offset="0.3019" stop-color="#b5d4eb"/><stop offset="0.3073" stop-color="#c5def0"/><stop offset="0.3127" stop-color="#cfe4f4"/><stop offset="0.3235" stop-color="#d7eaf7"/><stop offset="0.3396" stop-color="#d7e9f6"/><stop offset="0.3935" stop-color="#c2dcef"/><stop offset="0.4636" stop-color="#afd1e9"/><stop offset="0.6577" stop-color="#a3cbe6"/><stop offset="0.6900" stop-color="#99c6e3"/><stop offset="0.7385" stop-color="#83b9dc"/><stop offset="0.7601" stop-color="#7eb6db"/><stop offset="0.7763" stop-color="#80b7db"/><stop offset="0.7925" stop-color="#85bbdd"/><stop offset="0.8518" stop-color="#acd0e8"/><stop offset="0.8841" stop-color="#bad7ec"/><stop offset="0.9164" stop-color="#bed9ee"/><stop offset="1.0000" stop-color="#bedaee"/></linearGradient><linearGradient id="g220" x1="0" y1="0" x2="0" y2="1"><stop offset="0.0000" stop-color="#abcfe8"/><stop offset="0.0323" stop-color="#a3cbe6"/><stop offset="0.0647" stop-color="#98c5e3"/><stop offset="0.0863" stop-color="#8cbedf"/><stop offset="0.1078" stop-color="#7bb5da"/><stop offset="0.1456" stop-color="#559dcd"/><stop offset="0.1671" stop-color="#3c8dc3"/><stop offset="0.1941" stop-color="#2375af"/><stop offset="0.2210" stop-color="#145c95"/><stop offset="0.2264" stop-color="#135992"/><stop offset="0.2372" stop-color="#135992"/><stop offset="0.2426" stop-color="#135a92"/><stop offset="0.2480" stop-color="#17619b"/><stop offset="0.2534" stop-color="#2070ab"/><stop offset="0.2588" stop-color="#3284bb"/><stop offset="0.2642" stop-color="#4e99ca"/><stop offset="0.2749" stop-color="#96c4e2"/><stop offset="0.2803" stop-color="#b2d3ea"/><stop offset="0.2857" stop-color="#c5def0"/><stop offset="0.2911" stop-color="#d0e5f4"/><stop offset="0.2965" stop-color="#d7e9f7"/><stop offset="0.3073" stop-color="#dcecf8"/><stop offset="0.3288" stop-color="#d8eaf7"/><stop offset="0.3881" stop-color="#c2dcef"/><stop offset="0.4474" stop-color="#b5d4eb"/><stop offset="0.6523" stop-color="#a9cee8"/><stop offset="0.6846" stop-color="#a0cae5"/><stop offset="0.7385" stop-color="#89bdde"/><stop offset="0.7601" stop-color="#85badd"/><stop offset="0.7871" stop-color="#8bbedf"/><stop offset="0.8518" stop-color="#b4d4eb"/><stop offset="0.8733" stop-color="#bdd9ed"/><stop offset="0.9164" stop-color="#c2dcef"/><stop offset="1.0000" stop-color="#c3dcef"/></linearGradient><linearGradient id="g221" x1="0" y1="0" x2="0" y2="1"><stop offset="0.0000" stop-color="#a8cde7"/><stop offset="0.0539" stop-color="#96c4e2"/><stop offset="0.0916" stop-color="#7cb5da"/><stop offset="0.1294" stop-color="#569ecd"/><stop offset="0.1509" stop-color="#3d8ec3"/><stop offset="0.1833" stop-color="#2070ab"/><stop offset="0.2049" stop-color="#155d96"/><stop offset="0.2210" stop-color="#145b94"/><stop offset="0.2264" stop-color="#165f98"/><stop offset="0.2318" stop-color="#1d6ba5"/><stop offset="0.2372" stop-color="#2b7cb5"/><stop offset="0.2426" stop-color="#4191c5"/><stop offset="0.2480" stop-color="#62a6d2"/><stop offset="0.2534" stop-color="#89bcde"/><stop offset="0.2588" stop-color="#a8cde7"/><stop offset="0.2642" stop-color="#bfdaee"/><stop offset="0.2695" stop-color="#cce2f3"/><stop offset="0.2749" stop-color="#d5e8f6"/><stop offset="0.2857" stop-color="#dbecf8"/><stop offset="0.3019" stop-color="#daebf8"/><stop offset="0.3666" stop-color="#c2dcef"/><stop offset="0.4313" stop-color="#b4d4eb"/><stop offset="0.6361" stop-color="#a9cee8"/><stop offset="0.6685" stop-color="#a0c9e5"/><stop offset="0.7224" stop-color="#88bcde"/><stop offset="0.7439" stop-color="#84badd"/><stop offset="0.7601" stop-color="#86bbdd"/><stop offset="0.7763" stop-color="#8dbfdf"/><stop offset="0.8302" stop-color="#b0d2ea"/><stop offset="0.8571" stop-color="#bcd8ed"/><stop offset="0.9003" stop-color="#c1dbef"/><stop offset="1.0000" stop-color="#c2dcef"/></linearGradient><linearGradient id="g222" x1="0" y1="0" x2="0" y2="1"><stop offset="0.0000" stop-color="#a4cbe6"/><stop offset="0.0323" stop-color="#99c6e3"/><stop offset="0.0539" stop-color="#8ebfe0"/><stop offset="0.0809" stop-color="#79b3d9"/><stop offset="0.1078" stop-color="#5da3d0"/><stop offset="0.1402" stop-color="#388ac0"/><stop offset="0.1671" stop-color="#2071ac"/><stop offset="0.1887" stop-color="#165e97"/><stop offset="0.1995" stop-color="#155d96"/><stop offset="0.2049" stop-color="#165e97"/><stop offset="0.2102" stop-color="#1a67a1"/><stop offset="0.2156" stop-color="#2576b0"/><stop offset="0.2210" stop-color="#3789bf"/><stop offset="0.2264" stop-color="#559ecd"/><stop offset="0.2372" stop-color="#9cc7e4"/><stop offset="0.2426" stop-color="#b6d5eb"/><stop offset="0.2480" stop-color="#c7dff1"/><stop offset="0.2534" stop-color="#d1e6f5"/><stop offset="0.2642" stop-color="#daebf8"/><stop offset="0.2857" stop-color="#d9ebf7"/><stop offset="0.3450" stop-color="#c2dcef"/><stop offset="0.4151" stop-color="#b2d3ea"/><stop offset="0.4690" stop-color="#aed1e9"/><stop offset="0.5822" stop-color="#accfe8"/><stop offset="0.6199" stop-color="#a8cde7"/><stop offset="0.6523" stop-color="#9fc9e5"/><stop offset="0.7062" stop-color="#87bcde"/><stop offset="0.7278" stop-color="#83b9dc"/><stop offset="0.7547" stop-color="#89bdde"/><stop offset="0.8194" stop-color="#b2d3ea"/><stop offset="0.8464" stop-color="#bdd9ed"/><stop offset="0.8895" stop-color="#c1dbef"/><stop offset="1.0000" stop-color="#c1dbef"/></linearGradient><linearGradient id="g223" x1="0" y1="0" x2="0" y2="1"><stop offset="0.0000" stop-color="#a1cae5"/><stop offset="0.0270" stop-color="#97c4e2"/><stop offset="0.0485" stop-color="#8abdde"/><stop offset="0.0701" stop-color="#77b2d9"/><stop offset="0.0916" stop-color="#60a5d1"/><stop offset="0.1240" stop-color="#3a8cc2"/><stop offset="0.1509" stop-color="#2273ae"/><stop offset="0.1725" stop-color="#17619b"/><stop offset="0.1833" stop-color="#17619b"/><stop offset="0.1887" stop-color="#1a66a0"/><stop offset="0.1941" stop-color="#2172ad"/><stop offset="0.1995" stop-color="#3183bb"/><stop offset="0.2049" stop-color="#4b97c9"/><stop offset="0.2156" stop-color="#91c2e1"/><stop offset="0.2210" stop-color="#aed1e9"/><stop offset="0.2264" stop-color="#c2dcef"/><stop offset="0.2318" stop-color="#cfe4f4"/><stop offset="0.2372" stop-color="#d7e9f7"/><stop offset="0.2480" stop-color="#dcecf8"/><stop offset="0.2695" stop-color="#d9ebf7"/><stop offset="0.3342" stop-color="#c1dbef"/><stop offset="0.3935" stop-color="#b4d4eb"/><stop offset="0.6038" stop-color="#a9cee8"/><stop offset="0.6361" stop-color="#a0c9e5"/><stop offset="0.6900" stop-color="#88bcde"/><stop offset="0.7116" stop-color="#84badd"/><stop offset="0.7278" stop-color="#86bbdd"/><stop offset="0.7439" stop-color="#8dbfdf"/><stop offset="0.8032" stop-color="#b3d3ea"/><stop offset="0.8248" stop-color="#bcd8ed"/><stop offset="0.8733" stop-color="#c1dcef"/><stop offset="1.0000" stop-color="#c2dcef"/></linearGradient><linearGradient id="g224" x1="0" y1="0" x2="0" y2="1"><stop offset="0.0000" stop-color="#99c6e3"/><stop offset="0.0216" stop-color="#8fc0e0"/><stop offset="0.0431" stop-color="#7fb7db"/><stop offset="0.0863" stop-color="#549dcc"/><stop offset="0.1078" stop-color="#3a8cc2"/><stop offset="0.1348" stop-color="#2273ae"/><stop offset="0.1509" stop-color="#19649e"/><stop offset="0.1617" stop-color="#17619b"/><stop offset="0.1671" stop-color="#18629c"/><stop offset="0.1725" stop-color="#1c69a4"/><stop offset="0.1779" stop-color="#2677b1"/><stop offset="0.1833" stop-color="#3789c0"/><stop offset="0.1887" stop-color="#559dcd"/><stop offset="0.1995" stop-color="#9ac6e3"/><stop offset="0.2049" stop-color="#b4d4eb"/><stop offset="0.2102" stop-color="#c5def0"/><stop offset="0.2156" stop-color="#d0e5f4"/><stop offset="0.2264" stop-color="#d9ebf7"/><stop offset="0.2480" stop-color="#d8eaf7"/><stop offset="0.3073" stop-color="#c1dbef"/><stop offset="0.3774" stop-color="#afd1e9"/><stop offset="0.5876" stop-color="#a5cce6"/><stop offset="0.6199" stop-color="#9cc7e4"/><stop offset="0.6739" stop-color="#84badd"/><stop offset="0.6954" stop-color="#7fb7db"/><stop offset="0.7116" stop-color="#81b8dc"/><stop offset="0.7278" stop-color="#88bcde"/><stop offset="0.7871" stop-color="#aed1e9"/><stop offset="0.8194" stop-color="#bbd8ed"/><stop offset="0.8625" stop-color="#bfdaee"/><stop offset="1.0000" stop-color="#bfdaee"/></linearGradient><linearGradient id="g225" x1="0" y1="0" x2="0" y2="1"><stop offset="0.0000" stop-color="#95c4e2"/><stop offset="0.0270" stop-color="#84badd"/><stop offset="0.0539" stop-color="#6aabd4"/><stop offset="0.0916" stop-color="#3e8fc4"/><stop offset="0.1240" stop-color="#2071ac"/><stop offset="0.1348" stop-color="#1b68a2"/><stop offset="0.1456" stop-color="#1a66a0"/><stop offset="0.1509" stop-color="#1c6aa4"/><stop offset="0.1563" stop-color="#2475af"/><stop offset="0.1617" stop-color="#3385bc"/><stop offset="0.1671" stop-color="#4c98c9"/><stop offset="0.1779" stop-color="#90c1e1"/><stop offset="0.1833" stop-color="#add0e9"/><stop offset="0.1887" stop-color="#c1dbef"/><stop offset="0.1941" stop-color="#cde3f3"/><stop offset="0.1995" stop-color="#d6e8f6"/><stop offset="0.2102" stop-color="#dbecf8"/><stop offset="0.2264" stop-color="#daebf8"/><stop offset="0.2857" stop-color="#c3dcef"/><stop offset="0.3558" stop-color="#b1d2ea"/><stop offset="0.4151" stop-color="#acd0e8"/><stop offset="0.5391" stop-color="#aacee8"/><stop offset="0.5768" stop-color="#a5cce7"/><stop offset="0.6092" stop-color="#9bc7e4"/><stop offset="0.6577" stop-color="#86bbdd"/><stop offset="0.6792" stop-color="#81b8dc"/><stop offset="0.6954" stop-color="#83b9dc"/><stop offset="0.7116" stop-color="#89bdde"/><stop offset="0.7709" stop-color="#afd1e9"/><stop offset="0.8032" stop-color="#bcd8ed"/><stop offset="0.8518" stop-color="#c0daee"/><stop offset="1.0000" stop-color="#c0dbef"/></linearGradient><linearGradient id="g226" x1="0" y1="0" x2="0" y2="1"><stop offset="0.0000" stop-color="#8cbedf"/><stop offset="0.0323" stop-color="#70aed6"/><stop offset="0.0809" stop-color="#398bc1"/><stop offset="0.1078" stop-color="#2172ad"/><stop offset="0.1186" stop-color="#1c6aa4"/><stop offset="0.1240" stop-color="#1b69a3"/><stop offset="0.1294" stop-color="#1c6aa4"/><stop offset="0.1348" stop-color="#2072ac"/><stop offset="0.1402" stop-color="#2d7fb7"/><stop offset="0.1456" stop-color="#4191c5"/><stop offset="0.1509" stop-color="#5fa4d1"/><stop offset="0.1563" stop-color="#82b9dc"/><stop offset="0.1617" stop-color="#a1cae5"/><stop offset="0.1671" stop-color="#bad7ec"/><stop offset="0.1725" stop-color="#c8e0f1"/><stop offset="0.1779" stop-color="#d2e6f5"/><stop offset="0.1887" stop-color="#daebf8"/><stop offset="0.2102" stop-color="#d8eaf7"/><stop offset="0.2695" stop-color="#c0dbef"/><stop offset="0.3396" stop-color="#aed1e9"/><stop offset="0.3989" stop-color="#aacfe8"/><stop offset="0.5229" stop-color="#a8cde7"/><stop offset="0.5606" stop-color="#a4cbe6"/><stop offset="0.5930" stop-color="#9ac6e3"/><stop offset="0.6415" stop-color="#84badd"/><stop offset="0.6631" stop-color="#7fb7db"/><stop offset="0.6792" stop-color="#80b7db"/><stop offset="0.6954" stop-color="#86bbdd"/><stop offset="0.7601" stop-color="#afd1e9"/><stop offset="0.7925" stop-color="#bbd8ed"/><stop offset="0.8410" stop-color="#bedaee"/><stop offset="1.0000" stop-color="#bfdaee"/></linearGradient><linearGradient id="g227" x1="0" y1="0" x2="0" y2="1"><stop offset="0.0000" stop-color="#83b9dc"/><stop offset="0.0216" stop-color="#6eadd6"/><stop offset="0.0647" stop-color="#3a8cc2"/><stop offset="0.0970" stop-color="#1f70ab"/><stop offset="0.1078" stop-color="#1f6ea9"/><stop offset="0.1132" stop-color="#2374af"/><stop offset="0.1186" stop-color="#2f81b9"/><stop offset="0.1240" stop-color="#4291c5"/><stop offset="0.1294" stop-color="#5fa4d1"/><stop offset="0.1402" stop-color="#a1cae5"/><stop offset="0.1456" stop-color="#bad7ec"/><stop offset="0.1509" stop-color="#c8e0f1"/><stop offset="0.1563" stop-color="#d3e7f5"/><stop offset="0.1671" stop-color="#dbecf8"/><stop offset="0.1887" stop-color="#daebf8"/><stop offset="0.2480" stop-color="#c2dcef"/><stop offset="0.3181" stop-color="#b0d2ea"/><stop offset="0.3774" stop-color="#accfe8"/><stop offset="0.5067" stop-color="#aacee8"/><stop offset="0.5445" stop-color="#a6cce7"/><stop offset="0.5768" stop-color="#9dc8e4"/><stop offset="0.6307" stop-color="#85badd"/><stop offset="0.6523" stop-color="#81b8dc"/><stop offset="0.6792" stop-color="#87bbdd"/><stop offset="0.7439" stop-color="#b0d1e9"/><stop offset="0.7763" stop-color="#bcd8ed"/><stop offset="0.8302" stop-color="#c0daee"/><stop offset="1.0000" stop-color="#c0dbee"/></linearGradient><linearGradient id="g228" x1="0" y1="0" x2="0" y2="1"><stop offset="0.0000" stop-color="#76b2d8"/><stop offset="0.0539" stop-color="#3688bf"/><stop offset="0.0755" stop-color="#2576b0"/><stop offset="0.0863" stop-color="#2273ae"/><stop offset="0.0916" stop-color="#2879b3"/><stop offset="0.0970" stop-color="#3385bc"/><stop offset="0.1024" stop-color="#4895c7"/><stop offset="0.1078" stop-color="#64a7d3"/><stop offset="0.1132" stop-color="#87bcde"/><stop offset="0.1186" stop-color="#a5cce6"/><stop offset="0.1240" stop-color="#bdd9ed"/><stop offset="0.1348" stop-color="#d5e8f6"/><stop offset="0.1402" stop-color="#daebf8"/><stop offset="0.1509" stop-color="#deedf9"/><stop offset="0.1725" stop-color="#d9ebf7"/><stop offset="0.2318" stop-color="#c2dcef"/><stop offset="0.2965" stop-color="#b3d3ea"/><stop offset="0.3558" stop-color="#aed1e9"/><stop offset="0.4960" stop-color="#accfe8"/><stop offset="0.5337" stop-color="#a7cde7"/><stop offset="0.5660" stop-color="#9ec8e4"/><stop offset="0.6146" stop-color="#88bcde"/><stop offset="0.6361" stop-color="#83b9dc"/><stop offset="0.6523" stop-color="#85badd"/><stop offset="0.6685" stop-color="#8abedf"/><stop offset="0.7332" stop-color="#b3d3eb"/><stop offset="0.7601" stop-color="#bdd9ed"/><stop offset="0.8140" stop-color="#c1dbef"/><stop offset="1.0000" stop-color="#c1dbef"/></linearGradient><linearGradient id="g229" x1="0" y1="0" x2="0" y2="1"><stop offset="0.0000" stop-color="#61a5d2"/><stop offset="0.0323" stop-color="#3a8cc2"/><stop offset="0.0485" stop-color="#2c7db6"/><stop offset="0.0593" stop-color="#2476b0"/><stop offset="0.0647" stop-color="#2374af"/><stop offset="0.0701" stop-color="#2778b2"/><stop offset="0.0755" stop-color="#3182ba"/><stop offset="0.0809" stop-color="#4291c5"/><stop offset="0.0863" stop-color="#5da3d0"/><stop offset="0.0970" stop-color="#9dc8e4"/><stop offset="0.1024" stop-color="#b6d5eb"/><stop offset="0.1078" stop-color="#c6dff1"/><stop offset="0.1132" stop-color="#d1e6f5"/><stop offset="0.1186" stop-color="#d8eaf7"/><stop offset="0.1294" stop-color="#dcedf8"/><stop offset="0.1509" stop-color="#d8eaf7"/><stop offset="0.1995" stop-color="#c4ddf0"/><stop offset="0.2642" stop-color="#b1d2ea"/><stop offset="0.3288" stop-color="#abcfe8"/><stop offset="0.5067" stop-color="#a6cde7"/><stop offset="0.5445" stop-color="#9ec8e4"/><stop offset="0.6038" stop-color="#84badc"/><stop offset="0.6253" stop-color="#7fb7db"/><stop offset="0.6523" stop-color="#85badd"/><stop offset="0.7224" stop-color="#b1d2ea"/><stop offset="0.7547" stop-color="#bcd8ed"/><stop offset="0.8086" stop-color="#bfdaee"/><stop offset="1.0000" stop-color="#bfdaee"/></linearGradient><linearGradient id="g230" x1="0" y1="0" x2="0" y2="1"><stop offset="0.0000" stop-color="#509acb"/><stop offset="0.0162" stop-color="#3b8dc2"/><stop offset="0.0323" stop-color="#2e7fb7"/><stop offset="0.0431" stop-color="#2879b3"/><stop offset="0.0485" stop-color="#2c7db6"/><stop offset="0.0539" stop-color="#3587be"/><stop offset="0.0593" stop-color="#4895c8"/><stop offset="0.0647" stop-color="#62a6d2"/><stop offset="0.0755" stop-color="#a1cae5"/><stop offset="0.0809" stop-color="#bad7ec"/><stop offset="0.0916" stop-color="#d3e7f5"/><stop offset="0.0970" stop-color="#d9ebf7"/><stop offset="0.1078" stop-color="#ddedf9"/><stop offset="0.1240" stop-color="#dbecf8"/><stop offset="0.1833" stop-color="#c3dcef"/><stop offset="0.2426" stop-color="#b2d3ea"/><stop offset="0.3073" stop-color="#accfe8"/><stop offset="0.4960" stop-color="#a7cde7"/><stop offset="0.5283" stop-color="#9fc9e5"/><stop offset="0.5876" stop-color="#85bbdd"/><stop offset="0.6092" stop-color="#80b8db"/><stop offset="0.6253" stop-color="#82b8dc"/><stop offset="0.6415" stop-color="#87bcde"/><stop offset="0.7062" stop-color="#b1d2ea"/><stop offset="0.7385" stop-color="#bcd8ed"/><stop offset="0.7925" stop-color="#c0daee"/><stop offset="1.0000" stop-color="#c0daee"/></linearGradient><linearGradient id="g231" x1="0" y1="0" x2="0" y2="1"><stop offset="0.0000" stop-color="#3082ba"/><stop offset="0.0108" stop-color="#2c7db6"/><stop offset="0.0162" stop-color="#3283bb"/><stop offset="0.0216" stop-color="#3f8fc4"/><stop offset="0.0270" stop-color="#569ecd"/><stop offset="0.0377" stop-color="#93c2e1"/><stop offset="0.0431" stop-color="#add0e9"/><stop offset="0.0485" stop-color="#c1dbef"/><stop offset="0.0593" stop-color="#d6e9f6"/><stop offset="0.0701" stop-color="#ddedf8"/><stop offset="0.0916" stop-color="#daebf8"/><stop offset="0.1456" stop-color="#c3ddf0"/><stop offset="0.2102" stop-color="#b1d2ea"/><stop offset="0.2749" stop-color="#abcfe8"/><stop offset="0.4852" stop-color="#a6cde7"/><stop offset="0.5175" stop-color="#9fc9e5"/><stop offset="0.5768" stop-color="#85bbdd"/><stop offset="0.6038" stop-color="#7fb7db"/><stop offset="0.6307" stop-color="#86bbdd"/><stop offset="0.6954" stop-color="#afd1e9"/><stop offset="0.7332" stop-color="#bcd8ed"/><stop offset="0.7871" stop-color="#bfdaee"/><stop offset="1.0000" stop-color="#bfdaee"/></linearGradient><linearGradient id="g232" x1="0" y1="0" x2="0" y2="1"><stop offset="0.0000" stop-color="#8fc1e0"/><stop offset="0.0323" stop-color="#77b2d8"/><stop offset="0.0647" stop-color="#549dcd"/><stop offset="0.0863" stop-color="#3a8cc2"/><stop offset="0.1132" stop-color="#2273ae"/><stop offset="0.1294" stop-color="#1a669f"/><stop offset="0.1402" stop-color="#19659e"/><stop offset="0.1456" stop-color="#1c6aa4"/><stop offset="0.1509" stop-color="#2576b0"/><stop offset="0.1563" stop-color="#3687be"/><stop offset="0.1617" stop-color="#519bcb"/><stop offset="0.1725" stop-color="#95c4e2"/><stop offset="0.1779" stop-color="#b0d2ea"/><stop offset="0.1833" stop-color="#c3ddf0"/><stop offset="0.1887" stop-color="#cee4f4"/><stop offset="0.1941" stop-color="#d6e8f6"/><stop offset="0.2049" stop-color="#dbecf8"/><stop offset="0.2210" stop-color="#d8eaf7"/><stop offset="0.2749" stop-color="#c3dcef"/><stop offset="0.3450" stop-color="#b0d2ea"/><stop offset="0.3989" stop-color="#abcfe8"/><stop offset="0.5175" stop-color="#a8cde7"/><stop offset="0.5553" stop-color="#a3cbe6"/><stop offset="0.5876" stop-color="#99c6e3"/><stop offset="0.6361" stop-color="#83b9dc"/><stop offset="0.6577" stop-color="#7fb7db"/><stop offset="0.6846" stop-color="#85badd"/><stop offset="0.7547" stop-color="#b1d2ea"/><stop offset="0.7871" stop-color="#bcd8ed"/><stop offset="0.8356" stop-color="#bfdaee"/><stop offset="1.0000" stop-color="#bfdaee"/></linearGradient><linearGradient id="g233" x1="0" y1="0" x2="0" y2="1"><stop offset="0.0000" stop-color="#8bbedf"/><stop offset="0.0323" stop-color="#6faed6"/><stop offset="0.0809" stop-color="#3789c0"/><stop offset="0.1078" stop-color="#2071ac"/><stop offset="0.1186" stop-color="#1b69a3"/><stop offset="0.1240" stop-color="#1b68a2"/><stop offset="0.1294" stop-color="#1c6aa5"/><stop offset="0.1348" stop-color="#2273ae"/><stop offset="0.1402" stop-color="#3081b9"/><stop offset="0.1456" stop-color="#4694c7"/><stop offset="0.1509" stop-color="#64a7d3"/><stop offset="0.1563" stop-color="#88bcde"/><stop offset="0.1617" stop-color="#a6cce7"/><stop offset="0.1671" stop-color="#bdd9ee"/><stop offset="0.1779" stop-color="#d3e7f5"/><stop offset="0.1887" stop-color="#dbecf8"/><stop offset="0.2102" stop-color="#d8eaf7"/><stop offset="0.2642" stop-color="#c2dcef"/><stop offset="0.3342" stop-color="#b0d2ea"/><stop offset="0.3935" stop-color="#abcfe8"/><stop offset="0.5175" stop-color="#a8cee7"/><stop offset="0.5553" stop-color="#a4cce6"/><stop offset="0.5876" stop-color="#9bc7e3"/><stop offset="0.6361" stop-color="#85badd"/><stop offset="0.6577" stop-color="#80b7db"/><stop offset="0.6739" stop-color="#81b8dc"/><stop offset="0.6900" stop-color="#87bbdd"/><stop offset="0.7547" stop-color="#b0d2ea"/><stop offset="0.7871" stop-color="#bcd8ed"/><stop offset="0.8356" stop-color="#bfdaee"/><stop offset="1.0000" stop-color="#bfdaee"/></linearGradient><linearGradient id="g234" x1="0" y1="0" x2="0" y2="1"><stop offset="0.0000" stop-color="#83b9dc"/><stop offset="0.0216" stop-color="#6dadd6"/><stop offset="0.0647" stop-color="#3a8cc2"/><stop offset="0.0916" stop-color="#2374ae"/><stop offset="0.1024" stop-color="#1d6ca6"/><stop offset="0.1078" stop-color="#1d6ca6"/><stop offset="0.1132" stop-color="#1f6fa9"/><stop offset="0.1186" stop-color="#2778b2"/><stop offset="0.1240" stop-color="#3587be"/><stop offset="0.1294" stop-color="#4e99ca"/><stop offset="0.1402" stop-color="#92c2e1"/><stop offset="0.1456" stop-color="#add0e9"/><stop offset="0.1509" stop-color="#c2dcef"/><stop offset="0.1617" stop-color="#d6e9f6"/><stop offset="0.1725" stop-color="#dcecf8"/><stop offset="0.1887" stop-color="#dbecf8"/><stop offset="0.2480" stop-color="#c3ddf0"/><stop offset="0.3181" stop-color="#b2d3ea"/><stop offset="0.3666" stop-color="#add0e9"/><stop offset="0.5013" stop-color="#abcfe8"/><stop offset="0.5445" stop-color="#a6cde7"/><stop offset="0.5768" stop-color="#9dc8e4"/><stop offset="0.6307" stop-color="#86bbdd"/><stop offset="0.6523" stop-color="#81b8dc"/><stop offset="0.6792" stop-color="#87bcde"/><stop offset="0.7439" stop-color="#b0d2ea"/><stop offset="0.7763" stop-color="#bdd8ed"/><stop offset="0.8302" stop-color="#c0dbee"/><stop offset="1.0000" stop-color="#c0dbef"/></linearGradient><linearGradient id="g235" x1="0" y1="0" x2="0" y2="1"><stop offset="0.0000" stop-color="#71afd7"/><stop offset="0.0431" stop-color="#4090c4"/><stop offset="0.0701" stop-color="#2678b1"/><stop offset="0.0863" stop-color="#1d6ca7"/><stop offset="0.0916" stop-color="#1d6ca7"/><stop offset="0.0970" stop-color="#2172ac"/><stop offset="0.1024" stop-color="#2c7db6"/><stop offset="0.1078" stop-color="#3c8dc3"/><stop offset="0.1132" stop-color="#59a0ce"/><stop offset="0.1240" stop-color="#9bc7e3"/><stop offset="0.1294" stop-color="#b5d4eb"/><stop offset="0.1348" stop-color="#c5def0"/><stop offset="0.1402" stop-color="#d0e5f4"/><stop offset="0.1456" stop-color="#d7e9f7"/><stop offset="0.1563" stop-color="#dbecf8"/><stop offset="0.1725" stop-color="#d9eaf7"/><stop offset="0.2264" stop-color="#c2dcef"/><stop offset="0.2857" stop-color="#b1d2ea"/><stop offset="0.3504" stop-color="#aacfe8"/><stop offset="0.5283" stop-color="#a5cce6"/><stop offset="0.5606" stop-color="#9dc8e4"/><stop offset="0.6199" stop-color="#83b9dc"/><stop offset="0.6415" stop-color="#7eb6db"/><stop offset="0.6685" stop-color="#83b9dc"/><stop offset="0.7385" stop-color="#afd1e9"/><stop offset="0.7763" stop-color="#bcd8ed"/><stop offset="1.0000" stop-color="#bedaee"/></linearGradient><linearGradient id="g236" x1="0" y1="0" x2="0" y2="1"><stop offset="0.0000" stop-color="#65a8d3"/><stop offset="0.0377" stop-color="#388ac0"/><stop offset="0.0647" stop-color="#2273ae"/><stop offset="0.0755" stop-color="#2172ad"/><stop offset="0.0809" stop-color="#2879b3"/><stop offset="0.0863" stop-color="#3586bd"/><stop offset="0.0916" stop-color="#4b97c9"/><stop offset="0.0970" stop-color="#69aad4"/><stop offset="0.1024" stop-color="#8cbfdf"/><stop offset="0.1078" stop-color="#a9cee8"/><stop offset="0.1132" stop-color="#bfdaee"/><stop offset="0.1240" stop-color="#d5e8f6"/><stop offset="0.1294" stop-color="#daebf8"/><stop offset="0.1402" stop-color="#ddedf9"/><stop offset="0.1617" stop-color="#d8eaf7"/><stop offset="0.2156" stop-color="#c3dcef"/><stop offset="0.2749" stop-color="#b3d3eb"/><stop offset="0.3342" stop-color="#aed0e9"/><stop offset="0.5175" stop-color="#a9cee7"/><stop offset="0.5553" stop-color="#a0c9e5"/><stop offset="0.6146" stop-color="#86bbdd"/><stop offset="0.6361" stop-color="#82b9dc"/><stop offset="0.6631" stop-color="#89bdde"/><stop offset="0.7278" stop-color="#b2d3ea"/><stop offset="0.7547" stop-color="#bdd8ed"/><stop offset="0.8086" stop-color="#c1dbef"/><stop offset="1.0000" stop-color="#c1dbef"/></linearGradient><linearGradient id="g237" x1="0" y1="0" x2="0" y2="1"><stop offset="0.0000" stop-color="#5ba1cf"/><stop offset="0.0270" stop-color="#398bc1"/><stop offset="0.0485" stop-color="#2779b2"/><stop offset="0.0593" stop-color="#2677b1"/><stop offset="0.0647" stop-color="#2c7eb6"/><stop offset="0.0701" stop-color="#388ac0"/><stop offset="0.0755" stop-color="#509acb"/><stop offset="0.0809" stop-color="#6eadd6"/><stop offset="0.0863" stop-color="#91c1e1"/><stop offset="0.0916" stop-color="#add0e9"/><stop offset="0.0970" stop-color="#c2dcef"/><stop offset="0.1078" stop-color="#d8eaf7"/><stop offset="0.1240" stop-color="#e0eef9"/><stop offset="0.1456" stop-color="#dbecf8"/><stop offset="0.2102" stop-color="#c2dcef"/><stop offset="0.2749" stop-color="#b5d4eb"/><stop offset="0.3342" stop-color="#b1d2ea"/><stop offset="0.4798" stop-color="#afd1e9"/><stop offset="0.5175" stop-color="#abcfe8"/><stop offset="0.5499" stop-color="#a2cbe6"/><stop offset="0.6038" stop-color="#8bbedf"/><stop offset="0.6253" stop-color="#87bbdd"/><stop offset="0.6523" stop-color="#8cbfdf"/><stop offset="0.7224" stop-color="#b7d5ec"/><stop offset="0.7493" stop-color="#c0daee"/><stop offset="0.8032" stop-color="#c3ddf0"/><stop offset="1.0000" stop-color="#c3ddf0"/></linearGradient><linearGradient id="g238" x1="0" y1="0" x2="0" y2="1"><stop offset="0.0000" stop-color="#4995c8"/><stop offset="0.0108" stop-color="#3a8cc2"/><stop offset="0.0323" stop-color="#297ab3"/><stop offset="0.0431" stop-color="#2779b2"/><stop offset="0.0485" stop-color="#2e80b8"/><stop offset="0.0539" stop-color="#3b8dc2"/><stop offset="0.0593" stop-color="#549dcc"/><stop offset="0.0701" stop-color="#94c3e2"/><stop offset="0.0755" stop-color="#afd1e9"/><stop offset="0.0809" stop-color="#c3dcef"/><stop offset="0.0916" stop-color="#d8eaf7"/><stop offset="0.1024" stop-color="#deeef9"/><stop offset="0.1240" stop-color="#dbecf8"/><stop offset="0.1941" stop-color="#c0dbef"/><stop offset="0.2588" stop-color="#b2d3ea"/><stop offset="0.3235" stop-color="#aed1e9"/><stop offset="0.4690" stop-color="#acd0e9"/><stop offset="0.5067" stop-color="#a9cee8"/><stop offset="0.5391" stop-color="#a1cae5"/><stop offset="0.5930" stop-color="#89bdde"/><stop offset="0.6146" stop-color="#84badd"/><stop offset="0.6307" stop-color="#85badd"/><stop offset="0.6469" stop-color="#8bbedf"/><stop offset="0.7116" stop-color="#b4d4eb"/><stop offset="0.7385" stop-color="#bed9ee"/><stop offset="0.7925" stop-color="#c1dcef"/><stop offset="1.0000" stop-color="#c2dcef"/></linearGradient><linearGradient id="g239" x1="0" y1="0" x2="0" y2="1"><stop offset="0.0000" stop-color="#3789c0"/><stop offset="0.0216" stop-color="#2779b2"/><stop offset="0.0270" stop-color="#297ab4"/><stop offset="0.0323" stop-color="#3182ba"/><stop offset="0.0377" stop-color="#3f8fc4"/><stop offset="0.0431" stop-color="#58a0ce"/><stop offset="0.0539" stop-color="#97c5e2"/><stop offset="0.0593" stop-color="#b1d2ea"/><stop offset="0.0647" stop-color="#c4ddf0"/><stop offset="0.0755" stop-color="#d8eaf7"/><stop offset="0.0863" stop-color="#ddedf9"/><stop offset="0.1078" stop-color="#daebf8"/><stop offset="0.1617" stop-color="#c4ddf0"/><stop offset="0.2264" stop-color="#b2d3ea"/><stop offset="0.2911" stop-color="#acd0e8"/><stop offset="0.4906" stop-color="#a8cde7"/><stop offset="0.5229" stop-color="#a1cae5"/><stop offset="0.5876" stop-color="#85badd"/><stop offset="0.6092" stop-color="#81b8dc"/><stop offset="0.6361" stop-color="#87bcde"/><stop offset="0.7008" stop-color="#b0d2ea"/><stop offset="0.7332" stop-color="#bcd8ed"/><stop offset="0.7871" stop-color="#c0daee"/><stop offset="1.0000" stop-color="#c0dbee"/></linearGradient><linearGradient id="g240" x1="0" y1="0" x2="0" y2="1"><stop offset="0.0000" stop-color="#2c7eb6"/><stop offset="0.0054" stop-color="#297bb4"/><stop offset="0.0108" stop-color="#2b7cb5"/><stop offset="0.0162" stop-color="#3284bb"/><stop offset="0.0216" stop-color="#4191c5"/><stop offset="0.0270" stop-color="#5aa1cf"/><stop offset="0.0377" stop-color="#98c5e3"/><stop offset="0.0431" stop-color="#b2d3ea"/><stop offset="0.0485" stop-color="#c4ddf0"/><stop offset="0.0593" stop-color="#d7e9f7"/><stop offset="0.0701" stop-color="#dcedf8"/><stop offset="0.0916" stop-color="#d9ebf7"/><stop offset="0.1456" stop-color="#c2dcef"/><stop offset="0.2102" stop-color="#b0d2ea"/><stop offset="0.2749" stop-color="#aacfe8"/><stop offset="0.4798" stop-color="#a6cce7"/><stop offset="0.5175" stop-color="#9ec8e4"/><stop offset="0.5768" stop-color="#83badc"/><stop offset="0.5984" stop-color="#7fb7db"/><stop offset="0.6146" stop-color="#80b8db"/><stop offset="0.6307" stop-color="#86bbdd"/><stop offset="0.6954" stop-color="#b0d2ea"/><stop offset="0.7278" stop-color="#bcd8ed"/><stop offset="0.7817" stop-color="#bfdaee"/><stop offset="1.0000" stop-color="#bfdaee"/></linearGradient><linearGradient id="g241" x1="0" y1="0" x2="0" y2="1"><stop offset="0.0000" stop-color="#b0d2ea"/><stop offset="0.1132" stop-color="#a9cee8"/><stop offset="0.1509" stop-color="#a1cae5"/><stop offset="0.1833" stop-color="#95c4e2"/><stop offset="0.1995" stop-color="#8bbedf"/><stop offset="0.2210" stop-color="#79b3d9"/><stop offset="0.2480" stop-color="#5ba1cf"/><stop offset="0.2749" stop-color="#388ac0"/><stop offset="0.3019" stop-color="#1d6ca7"/><stop offset="0.3235" stop-color="#105289"/><stop offset="0.3288" stop-color="#0f4d81"/><stop offset="0.3342" stop-color="#0f4b7d"/><stop offset="0.3612" stop-color="#0f4b7e"/><stop offset="0.3666" stop-color="#10538b"/><stop offset="0.3720" stop-color="#18639c"/><stop offset="0.3774" stop-color="#2678b1"/><stop offset="0.3827" stop-color="#3d8ec3"/><stop offset="0.3935" stop-color="#86bbdd"/><stop offset="0.3989" stop-color="#a5cce6"/><stop offset="0.4043" stop-color="#bcd8ed"/><stop offset="0.4097" stop-color="#c8e0f1"/><stop offset="0.4151" stop-color="#d0e5f4"/><stop offset="0.4259" stop-color="#d6e9f6"/><stop offset="0.4420" stop-color="#d4e7f6"/><stop offset="0.5337" stop-color="#b6d5eb"/><stop offset="0.5714" stop-color="#afd1e9"/><stop offset="0.6361" stop-color="#abcfe8"/><stop offset="0.7817" stop-color="#a9cee8"/><stop offset="0.8194" stop-color="#a5cce7"/><stop offset="0.8464" stop-color="#9ec8e5"/><stop offset="0.9003" stop-color="#86bbdd"/><stop offset="0.9218" stop-color="#81b8dc"/><stop offset="0.9380" stop-color="#81b8dc"/><stop offset="0.9542" stop-color="#86bbdd"/><stop offset="1.0000" stop-color="#a3cbe6"/></linearGradient><linearGradient id="g242" x1="0" y1="0" x2="0" y2="1"><stop offset="0.0000" stop-color="#b1d2ea"/><stop offset="0.1078" stop-color="#aacfe8"/><stop offset="0.1402" stop-color="#a4cbe6"/><stop offset="0.1725" stop-color="#98c5e3"/><stop offset="0.2049" stop-color="#83b9dc"/><stop offset="0.2318" stop-color="#67a9d4"/><stop offset="0.2642" stop-color="#3f8fc4"/><stop offset="0.2911" stop-color="#2172ad"/><stop offset="0.3127" stop-color="#125890"/><stop offset="0.3235" stop-color="#0f4d81"/><stop offset="0.3504" stop-color="#0f4b7e"/><stop offset="0.3558" stop-color="#0f4d81"/><stop offset="0.3612" stop-color="#11578f"/><stop offset="0.3666" stop-color="#1b67a1"/><stop offset="0.3720" stop-color="#2b7cb5"/><stop offset="0.3774" stop-color="#4593c6"/><stop offset="0.3881" stop-color="#8ec0e0"/><stop offset="0.3935" stop-color="#abcfe8"/><stop offset="0.3989" stop-color="#bfdaee"/><stop offset="0.4043" stop-color="#cae1f2"/><stop offset="0.4097" stop-color="#d1e6f5"/><stop offset="0.4205" stop-color="#d7e9f7"/><stop offset="0.4367" stop-color="#d4e8f6"/><stop offset="0.5229" stop-color="#b8d6ec"/><stop offset="0.5606" stop-color="#b1d2ea"/><stop offset="0.6199" stop-color="#acd0e9"/><stop offset="0.7601" stop-color="#aacfe8"/><stop offset="0.7978" stop-color="#a6cde7"/><stop offset="0.8248" stop-color="#9fc9e5"/><stop offset="0.8787" stop-color="#87bcde"/><stop offset="0.9003" stop-color="#82b8dc"/><stop offset="0.9164" stop-color="#82b9dc"/><stop offset="0.9326" stop-color="#88bcde"/><stop offset="1.0000" stop-color="#b2d3ea"/></linearGradient><linearGradient id="g243" x1="0" y1="0" x2="0" y2="1"><stop offset="0.0000" stop-color="#abcfe8"/><stop offset="0.0647" stop-color="#a9cee7"/><stop offset="0.1132" stop-color="#a3cbe6"/><stop offset="0.1563" stop-color="#96c4e2"/><stop offset="0.1833" stop-color="#88bcde"/><stop offset="0.2102" stop-color="#71afd7"/><stop offset="0.2480" stop-color="#4694c7"/><stop offset="0.2642" stop-color="#3385bc"/><stop offset="0.2857" stop-color="#1e6ca7"/><stop offset="0.3073" stop-color="#105289"/><stop offset="0.3181" stop-color="#0e4879"/><stop offset="0.3450" stop-color="#0e4878"/><stop offset="0.3504" stop-color="#0f4c80"/><stop offset="0.3558" stop-color="#135992"/><stop offset="0.3612" stop-color="#1e6da7"/><stop offset="0.3666" stop-color="#3183bb"/><stop offset="0.3720" stop-color="#4f9aca"/><stop offset="0.3827" stop-color="#96c4e2"/><stop offset="0.3881" stop-color="#b0d2ea"/><stop offset="0.3935" stop-color="#c1dbef"/><stop offset="0.3989" stop-color="#cae1f2"/><stop offset="0.4097" stop-color="#d3e6f5"/><stop offset="0.4259" stop-color="#d2e6f5"/><stop offset="0.5067" stop-color="#b5d4eb"/><stop offset="0.5499" stop-color="#accfe8"/><stop offset="0.6092" stop-color="#a7cde7"/><stop offset="0.7385" stop-color="#a5cce6"/><stop offset="0.7763" stop-color="#a0c9e5"/><stop offset="0.8086" stop-color="#97c4e2"/><stop offset="0.8571" stop-color="#80b7db"/><stop offset="0.8787" stop-color="#7bb5da"/><stop offset="0.8949" stop-color="#7cb5da"/><stop offset="0.9111" stop-color="#82b9dc"/><stop offset="0.9704" stop-color="#a9cee8"/><stop offset="1.0000" stop-color="#b6d5eb"/></linearGradient><linearGradient id="g244" x1="0" y1="0" x2="0" y2="1"><stop offset="0.0000" stop-color="#b5d4eb"/><stop offset="0.0970" stop-color="#aed1e9"/><stop offset="0.1294" stop-color="#a7cde7"/><stop offset="0.1617" stop-color="#9ac6e3"/><stop offset="0.1887" stop-color="#89bcde"/><stop offset="0.2210" stop-color="#66a8d3"/><stop offset="0.2534" stop-color="#3c8dc3"/><stop offset="0.2803" stop-color="#1f6faa"/><stop offset="0.3073" stop-color="#105187"/><stop offset="0.3342" stop-color="#0f4f85"/><stop offset="0.3396" stop-color="#10548c"/><stop offset="0.3450" stop-color="#18629b"/><stop offset="0.3504" stop-color="#2475af"/><stop offset="0.3558" stop-color="#398bc1"/><stop offset="0.3612" stop-color="#5ba2cf"/><stop offset="0.3666" stop-color="#82b8dc"/><stop offset="0.3720" stop-color="#a3cbe6"/><stop offset="0.3774" stop-color="#bcd8ed"/><stop offset="0.3827" stop-color="#c9e1f2"/><stop offset="0.3881" stop-color="#d2e6f5"/><stop offset="0.3989" stop-color="#daebf7"/><stop offset="0.4151" stop-color="#d9eaf7"/><stop offset="0.4798" stop-color="#c2dcef"/><stop offset="0.5445" stop-color="#b5d4eb"/><stop offset="0.7493" stop-color="#abcfe8"/><stop offset="0.7817" stop-color="#a3cbe6"/><stop offset="0.8356" stop-color="#8bbedf"/><stop offset="0.8571" stop-color="#87bbdd"/><stop offset="0.8733" stop-color="#88bcde"/><stop offset="0.8895" stop-color="#8ec0e0"/><stop offset="0.9650" stop-color="#bcd8ed"/><stop offset="1.0000" stop-color="#c2dcef"/></linearGradient><linearGradient id="g245" x1="0" y1="0" x2="0" y2="1"><stop offset="0.0000" stop-color="#accfe8"/><stop offset="0.0593" stop-color="#a8cee7"/><stop offset="0.1024" stop-color="#a2cae6"/><stop offset="0.1402" stop-color="#97c4e2"/><stop offset="0.1671" stop-color="#88bcde"/><stop offset="0.1941" stop-color="#70aed7"/><stop offset="0.2264" stop-color="#4c98c9"/><stop offset="0.2426" stop-color="#3789c0"/><stop offset="0.2642" stop-color="#2172ad"/><stop offset="0.2857" stop-color="#125890"/><stop offset="0.2965" stop-color="#0f4c80"/><stop offset="0.3019" stop-color="#0f4a7c"/><stop offset="0.3235" stop-color="#0f4a7c"/><stop offset="0.3288" stop-color="#105187"/><stop offset="0.3342" stop-color="#165f98"/><stop offset="0.3396" stop-color="#2273ae"/><stop offset="0.3450" stop-color="#388ac0"/><stop offset="0.3504" stop-color="#59a0ce"/><stop offset="0.3558" stop-color="#7eb7db"/><stop offset="0.3612" stop-color="#9fc9e5"/><stop offset="0.3666" stop-color="#b8d6ec"/><stop offset="0.3720" stop-color="#c6def0"/><stop offset="0.3774" stop-color="#cee3f3"/><stop offset="0.3881" stop-color="#d5e8f6"/><stop offset="0.4043" stop-color="#d3e7f5"/><stop offset="0.4852" stop-color="#b6d5eb"/><stop offset="0.5283" stop-color="#add0e9"/><stop offset="0.5822" stop-color="#a8cde7"/><stop offset="0.6954" stop-color="#a5cce7"/><stop offset="0.7332" stop-color="#a1cae5"/><stop offset="0.7655" stop-color="#97c4e2"/><stop offset="0.8140" stop-color="#80b8db"/><stop offset="0.8356" stop-color="#7cb5da"/><stop offset="0.8518" stop-color="#7eb6db"/><stop offset="0.8679" stop-color="#84badd"/><stop offset="0.9218" stop-color="#a8cee7"/><stop offset="0.9434" stop-color="#b3d3ea"/><stop offset="0.9704" stop-color="#bad7ed"/><stop offset="1.0000" stop-color="#bdd8ed"/></linearGradient><linearGradient id="g246" x1="0" y1="0" x2="0" y2="1"><stop offset="0.0000" stop-color="#aed1e9"/><stop offset="0.0539" stop-color="#abcfe8"/><stop offset="0.0970" stop-color="#a4cbe6"/><stop offset="0.1348" stop-color="#97c5e3"/><stop offset="0.1617" stop-color="#87bcde"/><stop offset="0.1887" stop-color="#6fadd6"/><stop offset="0.2210" stop-color="#4995c8"/><stop offset="0.2318" stop-color="#3a8cc2"/><stop offset="0.2588" stop-color="#1f6fa9"/><stop offset="0.2857" stop-color="#0f5086"/><stop offset="0.2911" stop-color="#0f4d81"/><stop offset="0.3073" stop-color="#0f4d81"/><stop offset="0.3127" stop-color="#0f4e83"/><stop offset="0.3181" stop-color="#125790"/><stop offset="0.3235" stop-color="#1b68a2"/><stop offset="0.3288" stop-color="#2b7cb5"/><stop offset="0.3342" stop-color="#4493c6"/><stop offset="0.3450" stop-color="#8dbfe0"/><stop offset="0.3504" stop-color="#aacfe8"/><stop offset="0.3558" stop-color="#bfdaee"/><stop offset="0.3612" stop-color="#cbe1f2"/><stop offset="0.3666" stop-color="#d2e6f5"/><stop offset="0.3774" stop-color="#d7eaf7"/><stop offset="0.3935" stop-color="#d5e8f6"/><stop offset="0.4798" stop-color="#b7d5ec"/><stop offset="0.5121" stop-color="#b0d2ea"/><stop offset="0.5660" stop-color="#abcfe8"/><stop offset="0.6739" stop-color="#a8cde7"/><stop offset="0.7116" stop-color="#a3cbe6"/><stop offset="0.7439" stop-color="#99c6e3"/><stop offset="0.7925" stop-color="#83b9dc"/><stop offset="0.8140" stop-color="#7fb7db"/><stop offset="0.8302" stop-color="#81b8dc"/><stop offset="0.8464" stop-color="#88bcde"/><stop offset="0.9003" stop-color="#abcfe8"/><stop offset="0.9272" stop-color="#b8d6ec"/><stop offset="0.9488" stop-color="#bdd8ed"/><stop offset="1.0000" stop-color="#bfdaee"/></linearGradient><linearGradient id="g247" x1="0" y1="0" x2="0" y2="1"><stop offset="0.0000" stop-color="#b1d2ea"/><stop offset="0.0809" stop-color="#a8cee7"/><stop offset="0.1078" stop-color="#a1cae5"/><stop offset="0.1348" stop-color="#95c4e2"/><stop offset="0.1617" stop-color="#81b8dc"/><stop offset="0.1941" stop-color="#5ea3d0"/><stop offset="0.2210" stop-color="#3b8dc2"/><stop offset="0.2480" stop-color="#1f70ab"/><stop offset="0.2749" stop-color="#10538a"/><stop offset="0.2965" stop-color="#105288"/><stop offset="0.3019" stop-color="#125890"/><stop offset="0.3073" stop-color="#1a66a0"/><stop offset="0.3127" stop-color="#287ab3"/><stop offset="0.3181" stop-color="#3f8fc4"/><stop offset="0.3235" stop-color="#61a6d2"/><stop offset="0.3288" stop-color="#88bcde"/><stop offset="0.3342" stop-color="#a7cde7"/><stop offset="0.3396" stop-color="#bedaee"/><stop offset="0.3450" stop-color="#cbe2f2"/><stop offset="0.3504" stop-color="#d3e7f5"/><stop offset="0.3612" stop-color="#d9ebf7"/><stop offset="0.3774" stop-color="#d8eaf7"/><stop offset="0.4367" stop-color="#c2dcef"/><stop offset="0.5013" stop-color="#b3d3ea"/><stop offset="0.6900" stop-color="#a7cde7"/><stop offset="0.7224" stop-color="#9ec8e4"/><stop offset="0.7709" stop-color="#88bcde"/><stop offset="0.7925" stop-color="#83b9dc"/><stop offset="0.8086" stop-color="#84badd"/><stop offset="0.8248" stop-color="#8abddf"/><stop offset="0.8841" stop-color="#b0d2ea"/><stop offset="0.9111" stop-color="#bcd8ed"/><stop offset="0.9434" stop-color="#c0dbee"/><stop offset="1.0000" stop-color="#c1dbef"/></linearGradient><linearGradient id="g248" x1="0" y1="0" x2="0" y2="1"><stop offset="0.0000" stop-color="#acd0e8"/><stop offset="0.0485" stop-color="#a7cde7"/><stop offset="0.0863" stop-color="#9fc9e5"/><stop offset="0.1186" stop-color="#92c2e1"/><stop offset="0.1402" stop-color="#84badd"/><stop offset="0.1617" stop-color="#70aed7"/><stop offset="0.1941" stop-color="#4b97c9"/><stop offset="0.2102" stop-color="#3789bf"/><stop offset="0.2318" stop-color="#2172ad"/><stop offset="0.2534" stop-color="#135992"/><stop offset="0.2642" stop-color="#105086"/><stop offset="0.2803" stop-color="#105086"/><stop offset="0.2857" stop-color="#10548c"/><stop offset="0.2911" stop-color="#166099"/><stop offset="0.2965" stop-color="#2172ad"/><stop offset="0.3019" stop-color="#3587be"/><stop offset="0.3073" stop-color="#559dcd"/><stop offset="0.3181" stop-color="#9cc7e4"/><stop offset="0.3235" stop-color="#b6d5eb"/><stop offset="0.3288" stop-color="#c5def0"/><stop offset="0.3342" stop-color="#cfe4f4"/><stop offset="0.3450" stop-color="#d7e9f7"/><stop offset="0.3612" stop-color="#d6e9f6"/><stop offset="0.4151" stop-color="#c1dbef"/><stop offset="0.4852" stop-color="#afd1e9"/><stop offset="0.5337" stop-color="#aacee8"/><stop offset="0.6415" stop-color="#a6cde7"/><stop offset="0.6739" stop-color="#a2cae6"/><stop offset="0.7062" stop-color="#98c5e3"/><stop offset="0.7547" stop-color="#82b9dc"/><stop offset="0.7763" stop-color="#7eb6db"/><stop offset="0.7925" stop-color="#80b7db"/><stop offset="0.8086" stop-color="#86bbdd"/><stop offset="0.8679" stop-color="#add0e9"/><stop offset="0.8949" stop-color="#b8d6ec"/><stop offset="0.9272" stop-color="#bdd9ed"/><stop offset="1.0000" stop-color="#bed9ee"/></linearGradient><linearGradient id="g249" x1="0" y1="0" x2="0" y2="1"><stop offset="0.0000" stop-color="#abcfe8"/><stop offset="0.0431" stop-color="#a6cce7"/><stop offset="0.0755" stop-color="#9ec8e4"/><stop offset="0.1024" stop-color="#93c2e1"/><stop offset="0.1240" stop-color="#84badd"/><stop offset="0.1456" stop-color="#71aed7"/><stop offset="0.1779" stop-color="#4c97c9"/><stop offset="0.1941" stop-color="#3789bf"/><stop offset="0.2156" stop-color="#2172ad"/><stop offset="0.2426" stop-color="#11558d"/><stop offset="0.2480" stop-color="#10538a"/><stop offset="0.2642" stop-color="#10548b"/><stop offset="0.2695" stop-color="#145b94"/><stop offset="0.2749" stop-color="#1d6ba5"/><stop offset="0.2803" stop-color="#2d7eb7"/><stop offset="0.2857" stop-color="#4794c7"/><stop offset="0.2965" stop-color="#8fc0e0"/><stop offset="0.3019" stop-color="#abcfe8"/><stop offset="0.3073" stop-color="#c0dbee"/><stop offset="0.3127" stop-color="#cce2f3"/><stop offset="0.3181" stop-color="#d3e7f5"/><stop offset="0.3288" stop-color="#d8eaf7"/><stop offset="0.3450" stop-color="#d6e9f6"/><stop offset="0.4313" stop-color="#b7d5ec"/><stop offset="0.4636" stop-color="#b0d1e9"/><stop offset="0.5175" stop-color="#aacfe8"/><stop offset="0.6199" stop-color="#a7cde7"/><stop offset="0.6577" stop-color="#a2cae6"/><stop offset="0.6900" stop-color="#98c5e3"/><stop offset="0.7332" stop-color="#83badc"/><stop offset="0.7547" stop-color="#7eb7db"/><stop offset="0.7709" stop-color="#80b7db"/><stop offset="0.7871" stop-color="#85bbdd"/><stop offset="0.8464" stop-color="#accfe8"/><stop offset="0.8787" stop-color="#b9d7ec"/><stop offset="0.9164" stop-color="#bed9ee"/><stop offset="1.0000" stop-color="#bfdaee"/></linearGradient><linearGradient id="g250" x1="0" y1="0" x2="0" y2="1"><stop offset="0.0000" stop-color="#aacee8"/><stop offset="0.0647" stop-color="#9cc7e4"/><stop offset="0.0863" stop-color="#93c2e1"/><stop offset="0.1132" stop-color="#7fb7db"/><stop offset="0.1348" stop-color="#6aabd4"/><stop offset="0.1671" stop-color="#4492c6"/><stop offset="0.1995" stop-color="#2172ad"/><stop offset="0.2264" stop-color="#11568e"/><stop offset="0.2426" stop-color="#11558e"/><stop offset="0.2480" stop-color="#135a93"/><stop offset="0.2534" stop-color="#1a67a1"/><stop offset="0.2588" stop-color="#2879b2"/><stop offset="0.2642" stop-color="#3d8ec3"/><stop offset="0.2695" stop-color="#5ea4d0"/><stop offset="0.2749" stop-color="#84badd"/><stop offset="0.2803" stop-color="#a3cbe6"/><stop offset="0.2857" stop-color="#bcd8ed"/><stop offset="0.2911" stop-color="#c9e0f2"/><stop offset="0.2965" stop-color="#d1e6f5"/><stop offset="0.3073" stop-color="#d8eaf7"/><stop offset="0.3235" stop-color="#d7e9f7"/><stop offset="0.3774" stop-color="#c2dcef"/><stop offset="0.4474" stop-color="#afd1e9"/><stop offset="0.6361" stop-color="#a4cbe6"/><stop offset="0.6685" stop-color="#9ac6e3"/><stop offset="0.7170" stop-color="#84badd"/><stop offset="0.7385" stop-color="#7fb7db"/><stop offset="0.7547" stop-color="#80b8db"/><stop offset="0.7709" stop-color="#86bbdd"/><stop offset="0.8302" stop-color="#acd0e9"/><stop offset="0.8625" stop-color="#bad7ec"/><stop offset="0.9003" stop-color="#bed9ee"/><stop offset="1.0000" stop-color="#bfdaee"/></linearGradient><linearGradient id="g251" x1="0" y1="0" x2="0" y2="1"><stop offset="0.0000" stop-color="#acd0e8"/><stop offset="0.0593" stop-color="#9cc7e4"/><stop offset="0.0809" stop-color="#91c2e1"/><stop offset="0.1024" stop-color="#81b8dc"/><stop offset="0.1240" stop-color="#6aabd5"/><stop offset="0.1563" stop-color="#4392c6"/><stop offset="0.1887" stop-color="#2071ac"/><stop offset="0.2102" stop-color="#145c95"/><stop offset="0.2210" stop-color="#145b94"/><stop offset="0.2264" stop-color="#145b94"/><stop offset="0.2318" stop-color="#18629b"/><stop offset="0.2372" stop-color="#1f70aa"/><stop offset="0.2426" stop-color="#3082ba"/><stop offset="0.2480" stop-color="#4b97c9"/><stop offset="0.2588" stop-color="#92c2e1"/><stop offset="0.2642" stop-color="#afd1e9"/><stop offset="0.2695" stop-color="#c3dcef"/><stop offset="0.2749" stop-color="#cee4f4"/><stop offset="0.2803" stop-color="#d6e9f6"/><stop offset="0.2911" stop-color="#dbecf8"/><stop offset="0.3127" stop-color="#d8eaf7"/><stop offset="0.3720" stop-color="#c1dbef"/><stop offset="0.4313" stop-color="#b3d3ea"/><stop offset="0.4798" stop-color="#afd1e9"/><stop offset="0.5876" stop-color="#abcfe8"/><stop offset="0.6199" stop-color="#a7cde7"/><stop offset="0.6523" stop-color="#9ec8e4"/><stop offset="0.7008" stop-color="#88bcde"/><stop offset="0.7224" stop-color="#83b9dc"/><stop offset="0.7385" stop-color="#85badd"/><stop offset="0.7547" stop-color="#8bbedf"/><stop offset="0.8140" stop-color="#b0d2ea"/><stop offset="0.8410" stop-color="#bcd8ed"/><stop offset="0.8841" stop-color="#c1dbef"/><stop offset="1.0000" stop-color="#c1dcef"/></linearGradient><linearGradient id="g252" x1="0" y1="0" x2="0" y2="1"><stop offset="0.0000" stop-color="#aed1e9"/><stop offset="0.0539" stop-color="#9ec8e4"/><stop offset="0.0755" stop-color="#92c2e1"/><stop offset="0.0916" stop-color="#85badd"/><stop offset="0.1132" stop-color="#6eadd6"/><stop offset="0.1456" stop-color="#4694c7"/><stop offset="0.1563" stop-color="#388ac0"/><stop offset="0.1779" stop-color="#2374af"/><stop offset="0.1941" stop-color="#19649e"/><stop offset="0.1995" stop-color="#18629b"/><stop offset="0.2102" stop-color="#18629b"/><stop offset="0.2156" stop-color="#1a66a0"/><stop offset="0.2210" stop-color="#2172ad"/><stop offset="0.2264" stop-color="#3284bb"/><stop offset="0.2318" stop-color="#4c98c9"/><stop offset="0.2426" stop-color="#94c3e1"/><stop offset="0.2480" stop-color="#b0d2ea"/><stop offset="0.2534" stop-color="#c4ddf0"/><stop offset="0.2588" stop-color="#d0e5f4"/><stop offset="0.2642" stop-color="#d8eaf7"/><stop offset="0.2749" stop-color="#deedf9"/><stop offset="0.2965" stop-color="#dbecf8"/><stop offset="0.3612" stop-color="#c3ddf0"/><stop offset="0.4205" stop-color="#b7d6ec"/><stop offset="0.6038" stop-color="#add0e9"/><stop offset="0.6361" stop-color="#a3cbe6"/><stop offset="0.6900" stop-color="#8cbfdf"/><stop offset="0.7116" stop-color="#89bcde"/><stop offset="0.7385" stop-color="#8fc0e0"/><stop offset="0.8032" stop-color="#b7d5ec"/><stop offset="0.8248" stop-color="#bfdaee"/><stop offset="0.8733" stop-color="#c4ddf0"/><stop offset="1.0000" stop-color="#c5def0"/></linearGradient><linearGradient id="g253" x1="0" y1="0" x2="0" y2="1"><stop offset="0.0000" stop-color="#a6cde7"/><stop offset="0.0270" stop-color="#9ec9e5"/><stop offset="0.0539" stop-color="#92c2e1"/><stop offset="0.0863" stop-color="#79b4d9"/><stop offset="0.1186" stop-color="#559ecd"/><stop offset="0.1402" stop-color="#3a8cc2"/><stop offset="0.1671" stop-color="#2172ac"/><stop offset="0.1833" stop-color="#18629c"/><stop offset="0.1941" stop-color="#17619a"/><stop offset="0.1995" stop-color="#18629b"/><stop offset="0.2049" stop-color="#1c6ba5"/><stop offset="0.2102" stop-color="#2879b3"/><stop offset="0.2156" stop-color="#3b8cc2"/><stop offset="0.2210" stop-color="#5aa1cf"/><stop offset="0.2318" stop-color="#9fc9e5"/><stop offset="0.2372" stop-color="#b9d6ec"/><stop offset="0.2426" stop-color="#c8e0f1"/><stop offset="0.2480" stop-color="#d2e6f5"/><stop offset="0.2588" stop-color="#dbebf8"/><stop offset="0.2803" stop-color="#d9eaf7"/><stop offset="0.3396" stop-color="#c2dcef"/><stop offset="0.4043" stop-color="#b2d3ea"/><stop offset="0.5930" stop-color="#a6cde7"/><stop offset="0.6253" stop-color="#9dc8e4"/><stop offset="0.6792" stop-color="#85bbdd"/><stop offset="0.7008" stop-color="#82b8dc"/><stop offset="0.7278" stop-color="#88bcde"/><stop offset="0.7925" stop-color="#b1d2ea"/><stop offset="0.8194" stop-color="#bcd8ed"/><stop offset="0.8679" stop-color="#c0dbee"/><stop offset="1.0000" stop-color="#c1dbef"/></linearGradient><linearGradient id="g254" x1="0" y1="0" x2="0" y2="1"><stop offset="0.0000" stop-color="#a0c9e5"/><stop offset="0.0377" stop-color="#91c2e1"/><stop offset="0.0755" stop-color="#74b1d8"/><stop offset="0.1240" stop-color="#3d8ec3"/><stop offset="0.1509" stop-color="#2475af"/><stop offset="0.1671" stop-color="#1a66a0"/><stop offset="0.1779" stop-color="#18639c"/><stop offset="0.1833" stop-color="#19649e"/><stop offset="0.1887" stop-color="#1d6ca6"/><stop offset="0.1941" stop-color="#297ab4"/><stop offset="0.1995" stop-color="#3b8dc2"/><stop offset="0.2049" stop-color="#5aa0cf"/><stop offset="0.2156" stop-color="#9dc8e4"/><stop offset="0.2210" stop-color="#b7d5ec"/><stop offset="0.2264" stop-color="#c6dff1"/><stop offset="0.2318" stop-color="#d0e5f4"/><stop offset="0.2426" stop-color="#d9ebf7"/><stop offset="0.2588" stop-color="#d9ebf7"/><stop offset="0.3181" stop-color="#c1dcef"/><stop offset="0.3881" stop-color="#afd1e9"/><stop offset="0.4420" stop-color="#aacee8"/><stop offset="0.5499" stop-color="#a7cde7"/><stop offset="0.5822" stop-color="#a3cbe6"/><stop offset="0.6146" stop-color="#99c6e3"/><stop offset="0.6631" stop-color="#83b9dc"/><stop offset="0.6846" stop-color="#7eb6db"/><stop offset="0.7008" stop-color="#80b7db"/><stop offset="0.7170" stop-color="#86bbdd"/><stop offset="0.7817" stop-color="#afd1e9"/><stop offset="0.8140" stop-color="#bbd7ed"/><stop offset="0.8571" stop-color="#bed9ee"/><stop offset="1.0000" stop-color="#bedaee"/></linearGradient><linearGradient id="g255" x1="0" y1="0" x2="0" y2="1"><stop offset="0.0000" stop-color="#a1cae5"/><stop offset="0.0323" stop-color="#93c2e1"/><stop offset="0.0647" stop-color="#79b4d9"/><stop offset="0.0970" stop-color="#569ecd"/><stop offset="0.1240" stop-color="#3688be"/><stop offset="0.1509" stop-color="#1f6faa"/><stop offset="0.1563" stop-color="#1d6ba5"/><stop offset="0.1671" stop-color="#1c6aa4"/><stop offset="0.1725" stop-color="#1f6faa"/><stop offset="0.1779" stop-color="#297bb4"/><stop offset="0.1833" stop-color="#398bc1"/><stop offset="0.1887" stop-color="#569ecd"/><stop offset="0.1995" stop-color="#9ac6e3"/><stop offset="0.2049" stop-color="#b5d4eb"/><stop offset="0.2102" stop-color="#c6def1"/><stop offset="0.2156" stop-color="#d1e6f5"/><stop offset="0.2210" stop-color="#d8eaf7"/><stop offset="0.2318" stop-color="#ddedf9"/><stop offset="0.2534" stop-color="#d9ebf7"/><stop offset="0.3127" stop-color="#c2dcef"/><stop offset="0.3720" stop-color="#b4d4eb"/><stop offset="0.5714" stop-color="#a8cde7"/><stop offset="0.6038" stop-color="#9ec8e5"/><stop offset="0.6577" stop-color="#87bbdd"/><stop offset="0.6739" stop-color="#83b9dc"/><stop offset="0.6900" stop-color="#84badd"/><stop offset="0.7062" stop-color="#8abdde"/><stop offset="0.7709" stop-color="#b3d3ea"/><stop offset="0.7978" stop-color="#bdd9ed"/><stop offset="0.8464" stop-color="#c1dbef"/><stop offset="1.0000" stop-color="#c1dcef"/></linearGradient><linearGradient id="g256" x1="0" y1="0" x2="0" y2="1"><stop offset="0.0000" stop-color="#9ac6e3"/><stop offset="0.0162" stop-color="#92c2e1"/><stop offset="0.0377" stop-color="#84badd"/><stop offset="0.0755" stop-color="#5ea4d0"/><stop offset="0.1078" stop-color="#398ac1"/><stop offset="0.1348" stop-color="#2172ad"/><stop offset="0.1456" stop-color="#1c6aa5"/><stop offset="0.1509" stop-color="#1c6aa4"/><stop offset="0.1563" stop-color="#1d6ca6"/><stop offset="0.1617" stop-color="#2475af"/><stop offset="0.1671" stop-color="#3183bb"/><stop offset="0.1725" stop-color="#4895c8"/><stop offset="0.1779" stop-color="#67a9d3"/><stop offset="0.1833" stop-color="#8abddf"/><stop offset="0.1887" stop-color="#a8cde7"/><stop offset="0.1941" stop-color="#bedaee"/><stop offset="0.2049" stop-color="#d4e7f6"/><stop offset="0.2156" stop-color="#dbecf8"/><stop offset="0.2372" stop-color="#d8eaf7"/><stop offset="0.2911" stop-color="#c2dcef"/><stop offset="0.3612" stop-color="#b0d2ea"/><stop offset="0.4151" stop-color="#abcfe8"/><stop offset="0.5283" stop-color="#a9cee7"/><stop offset="0.5660" stop-color="#a4cce6"/><stop offset="0.5984" stop-color="#9ac6e3"/><stop offset="0.6469" stop-color="#84badd"/><stop offset="0.6685" stop-color="#80b7db"/><stop offset="0.6846" stop-color="#81b8dc"/><stop offset="0.7008" stop-color="#87bcde"/><stop offset="0.7655" stop-color="#b1d2ea"/><stop offset="0.7978" stop-color="#bcd8ed"/><stop offset="0.8464" stop-color="#bfdaee"/><stop offset="1.0000" stop-color="#bfdaee"/></linearGradient><linearGradient id="g257" x1="0" y1="0" x2="0" y2="1"><stop offset="0.0000" stop-color="#96c4e2"/><stop offset="0.0323" stop-color="#80b7db"/><stop offset="0.0701" stop-color="#59a0ce"/><stop offset="0.0970" stop-color="#398bc1"/><stop offset="0.1240" stop-color="#2374ae"/><stop offset="0.1348" stop-color="#1e6ea9"/><stop offset="0.1402" stop-color="#1f6faa"/><stop offset="0.1456" stop-color="#2475b0"/><stop offset="0.1509" stop-color="#3082ba"/><stop offset="0.1563" stop-color="#4493c6"/><stop offset="0.1617" stop-color="#61a5d2"/><stop offset="0.1671" stop-color="#84badd"/><stop offset="0.1725" stop-color="#a3cbe6"/><stop offset="0.1779" stop-color="#bcd8ed"/><stop offset="0.1887" stop-color="#d3e7f5"/><stop offset="0.1995" stop-color="#dcecf8"/><stop offset="0.2210" stop-color="#daebf8"/><stop offset="0.2803" stop-color="#c2dcef"/><stop offset="0.3504" stop-color="#b1d2ea"/><stop offset="0.4043" stop-color="#add0e9"/><stop offset="0.5175" stop-color="#aacfe8"/><stop offset="0.5553" stop-color="#a6cde7"/><stop offset="0.5876" stop-color="#9dc8e4"/><stop offset="0.6415" stop-color="#85bbdd"/><stop offset="0.6631" stop-color="#81b8dc"/><stop offset="0.6900" stop-color="#88bcde"/><stop offset="0.7547" stop-color="#b1d2ea"/><stop offset="0.7817" stop-color="#bcd8ed"/><stop offset="0.8356" stop-color="#c0dbee"/><stop offset="1.0000" stop-color="#c0dbef"/></linearGradient><linearGradient id="g258" x1="0" y1="0" x2="0" y2="1"><stop offset="0.0000" stop-color="#92c2e1"/><stop offset="0.0270" stop-color="#7cb5da"/><stop offset="0.0593" stop-color="#59a0ce"/><stop offset="0.0863" stop-color="#398bc1"/><stop offset="0.1186" stop-color="#2172ad"/><stop offset="0.1240" stop-color="#2273ae"/><stop offset="0.1294" stop-color="#2779b2"/><stop offset="0.1348" stop-color="#3385bc"/><stop offset="0.1402" stop-color="#4895c8"/><stop offset="0.1456" stop-color="#65a8d3"/><stop offset="0.1509" stop-color="#88bcde"/><stop offset="0.1563" stop-color="#a6cce7"/><stop offset="0.1617" stop-color="#bed9ee"/><stop offset="0.1725" stop-color="#d6e8f6"/><stop offset="0.1833" stop-color="#deedf9"/><stop offset="0.2049" stop-color="#dcecf8"/><stop offset="0.2695" stop-color="#c3dcef"/><stop offset="0.3342" stop-color="#b4d4eb"/><stop offset="0.5445" stop-color="#aacee8"/><stop offset="0.5768" stop-color="#a1cae5"/><stop offset="0.6307" stop-color="#8abdde"/><stop offset="0.6523" stop-color="#85badd"/><stop offset="0.6792" stop-color="#8bbedf"/><stop offset="0.7493" stop-color="#b6d5eb"/><stop offset="0.7763" stop-color="#bfdaee"/><stop offset="0.8302" stop-color="#c2dcef"/><stop offset="1.0000" stop-color="#c3dcef"/></linearGradient><linearGradient id="g259" x1="0" y1="0" x2="0" y2="1"><stop offset="0.0000" stop-color="#81b8dc"/><stop offset="0.0377" stop-color="#5ba2cf"/><stop offset="0.0701" stop-color="#3789bf"/><stop offset="0.0916" stop-color="#2677b1"/><stop offset="0.1024" stop-color="#2071ac"/><stop offset="0.1078" stop-color="#2172ad"/><stop offset="0.1132" stop-color="#2879b3"/><stop offset="0.1186" stop-color="#3586bd"/><stop offset="0.1240" stop-color="#4b97c9"/><stop offset="0.1294" stop-color="#68aad4"/><stop offset="0.1348" stop-color="#8bbedf"/><stop offset="0.1402" stop-color="#a7cde7"/><stop offset="0.1456" stop-color="#bed9ee"/><stop offset="0.1563" stop-color="#d4e7f6"/><stop offset="0.1671" stop-color="#dbecf8"/><stop offset="0.1887" stop-color="#d9ebf7"/><stop offset="0.2480" stop-color="#c1dbef"/><stop offset="0.3181" stop-color="#afd1e9"/><stop offset="0.3774" stop-color="#aacfe8"/><stop offset="0.5013" stop-color="#a8cee7"/><stop offset="0.5391" stop-color="#a4cbe6"/><stop offset="0.5714" stop-color="#9ac6e3"/><stop offset="0.6199" stop-color="#84badd"/><stop offset="0.6415" stop-color="#7fb7db"/><stop offset="0.6577" stop-color="#81b8dc"/><stop offset="0.6739" stop-color="#87bbde"/><stop offset="0.7385" stop-color="#b0d2ea"/><stop offset="0.7709" stop-color="#bcd8ed"/><stop offset="0.8194" stop-color="#bfdaee"/><stop offset="1.0000" stop-color="#bfdaee"/></linearGradient><linearGradient id="g260" x1="0" y1="0" x2="0" y2="1"><stop offset="0.0000" stop-color="#74b0d8"/><stop offset="0.0539" stop-color="#388ac1"/><stop offset="0.0809" stop-color="#2576b0"/><stop offset="0.0863" stop-color="#2475af"/><stop offset="0.0916" stop-color="#2779b2"/><stop offset="0.0970" stop-color="#3182ba"/><stop offset="0.1024" stop-color="#4291c5"/><stop offset="0.1078" stop-color="#5da3d0"/><stop offset="0.1186" stop-color="#9dc8e4"/><stop offset="0.1240" stop-color="#b7d5ec"/><stop offset="0.1294" stop-color="#c7dff1"/><stop offset="0.1348" stop-color="#d2e6f5"/><stop offset="0.1402" stop-color="#d9eaf7"/><stop offset="0.1509" stop-color="#ddedf9"/><stop offset="0.1725" stop-color="#d9ebf7"/><stop offset="0.2318" stop-color="#c1dcef"/><stop offset="0.2965" stop-color="#b2d3ea"/><stop offset="0.3558" stop-color="#add0e9"/><stop offset="0.4906" stop-color="#aacfe8"/><stop offset="0.5283" stop-color="#a6cce7"/><stop offset="0.5606" stop-color="#9cc7e4"/><stop offset="0.6092" stop-color="#86bbdd"/><stop offset="0.6307" stop-color="#82b8dc"/><stop offset="0.6469" stop-color="#83b9dc"/><stop offset="0.6631" stop-color="#89bdde"/><stop offset="0.7224" stop-color="#afd1e9"/><stop offset="0.7547" stop-color="#bcd8ed"/><stop offset="0.8086" stop-color="#c0dbee"/><stop offset="1.0000" stop-color="#c0dbef"/></linearGradient><linearGradient id="g261" x1="0" y1="0" x2="0" y2="1"><stop offset="0.0000" stop-color="#61a5d2"/><stop offset="0.0377" stop-color="#388ac0"/><stop offset="0.0593" stop-color="#2879b3"/><stop offset="0.0701" stop-color="#2576b0"/><stop offset="0.0755" stop-color="#2a7bb4"/><stop offset="0.0809" stop-color="#3587be"/><stop offset="0.0863" stop-color="#4996c8"/><stop offset="0.0916" stop-color="#65a8d3"/><stop offset="0.0970" stop-color="#87bbdd"/><stop offset="0.1024" stop-color="#a4cbe6"/><stop offset="0.1078" stop-color="#bcd8ed"/><stop offset="0.1186" stop-color="#d3e7f5"/><stop offset="0.1240" stop-color="#d9ebf7"/><stop offset="0.1348" stop-color="#dcedf8"/><stop offset="0.1563" stop-color="#d8eaf7"/><stop offset="0.2102" stop-color="#c1dbef"/><stop offset="0.2695" stop-color="#b1d2ea"/><stop offset="0.3288" stop-color="#abcfe8"/><stop offset="0.5067" stop-color="#a6cce7"/><stop offset="0.5445" stop-color="#9cc7e4"/><stop offset="0.5984" stop-color="#84badd"/><stop offset="0.6199" stop-color="#7fb7db"/><stop offset="0.6361" stop-color="#80b8db"/><stop offset="0.6523" stop-color="#86bbdd"/><stop offset="0.7170" stop-color="#afd1e9"/><stop offset="0.7547" stop-color="#bcd8ed"/><stop offset="1.0000" stop-color="#bfdaee"/></linearGradient><linearGradient id="g262" x1="0" y1="0" x2="0" y2="1"><stop offset="0.0000" stop-color="#529ccc"/><stop offset="0.0270" stop-color="#3587be"/><stop offset="0.0485" stop-color="#2879b3"/><stop offset="0.0539" stop-color="#297bb4"/><stop offset="0.0593" stop-color="#3182ba"/><stop offset="0.0647" stop-color="#3f8fc4"/><stop offset="0.0701" stop-color="#58a0ce"/><stop offset="0.0809" stop-color="#97c5e3"/><stop offset="0.0863" stop-color="#b1d2ea"/><stop offset="0.0916" stop-color="#c4ddf0"/><stop offset="0.1024" stop-color="#d8eaf7"/><stop offset="0.1132" stop-color="#ddedf9"/><stop offset="0.1348" stop-color="#daebf8"/><stop offset="0.1995" stop-color="#c0dbef"/><stop offset="0.2642" stop-color="#b1d2ea"/><stop offset="0.3235" stop-color="#acd0e8"/><stop offset="0.4690" stop-color="#aacfe8"/><stop offset="0.5067" stop-color="#a6cde7"/><stop offset="0.5391" stop-color="#9dc8e4"/><stop offset="0.5930" stop-color="#85badd"/><stop offset="0.6146" stop-color="#81b8dc"/><stop offset="0.6415" stop-color="#87bcde"/><stop offset="0.7062" stop-color="#b0d2ea"/><stop offset="0.7385" stop-color="#bcd8ed"/><stop offset="0.7925" stop-color="#c0dbee"/><stop offset="1.0000" stop-color="#c0dbee"/></linearGradient><linearGradient id="g263" x1="0" y1="0" x2="0" y2="1"><stop offset="0.0000" stop-color="#3e8fc4"/><stop offset="0.0270" stop-color="#2b7cb5"/><stop offset="0.0323" stop-color="#2c7db6"/><stop offset="0.0377" stop-color="#3385bc"/><stop offset="0.0431" stop-color="#4291c5"/><stop offset="0.0485" stop-color="#5aa1cf"/><stop offset="0.0593" stop-color="#99c5e3"/><stop offset="0.0647" stop-color="#b3d3ea"/><stop offset="0.0701" stop-color="#c4ddf0"/><stop offset="0.0809" stop-color="#d8eaf7"/><stop offset="0.0916" stop-color="#deedf9"/><stop offset="0.1132" stop-color="#dbecf8"/><stop offset="0.1779" stop-color="#c1dbef"/><stop offset="0.2426" stop-color="#b2d3ea"/><stop offset="0.3073" stop-color="#add0e9"/><stop offset="0.4582" stop-color="#abcfe8"/><stop offset="0.4960" stop-color="#a7cde7"/><stop offset="0.5283" stop-color="#9ec8e4"/><stop offset="0.5822" stop-color="#86bbdd"/><stop offset="0.6038" stop-color="#82b9dc"/><stop offset="0.6307" stop-color="#88bcde"/><stop offset="0.6954" stop-color="#b1d2ea"/><stop offset="0.7278" stop-color="#bdd9ed"/><stop offset="0.7817" stop-color="#c1dbef"/><stop offset="1.0000" stop-color="#c1dbef"/></linearGradient><clipPath id="cc"><rect x="66.5" y="308.8" width="352.0" height="185.5"/></clipPath><clipPath id="cd"><rect x="500.5" y="308.8" width="199.8" height="185.5"/></clipPath><clipPath id="ce"><rect x="780.5" y="308.6" width="214.8" height="185.9"/></clipPath><linearGradient id="cbg358" x1="0" x2="1" y1="0" y2="0"><stop offset="0.000" stop-color="#0c365c"/><stop offset="0.083" stop-color="#0f4a7c"/><stop offset="0.167" stop-color="#155e97"/><stop offset="0.250" stop-color="#2071ac"/><stop offset="0.333" stop-color="#3183bb"/><stop offset="0.417" stop-color="#4795c7"/><stop offset="0.500" stop-color="#62a6d2"/><stop offset="0.583" stop-color="#82b9dc"/><stop offset="0.667" stop-color="#a0c9e5"/><stop offset="0.750" stop-color="#bcd8ed"/><stop offset="0.833" stop-color="#cfe4f4"/><stop offset="0.917" stop-color="#dfeef9"/><stop offset="1.000" stop-color="#eef7fe"/></linearGradient><linearGradient id="cbg858" x1="0" x2="1" y1="0" y2="0"><stop offset="0.000" stop-color="#eef7fe"/><stop offset="0.083" stop-color="#dfeef9"/><stop offset="0.167" stop-color="#cfe4f4"/><stop offset="0.250" stop-color="#bcd8ed"/><stop offset="0.333" stop-color="#a0c9e5"/><stop offset="0.417" stop-color="#82b9dc"/><stop offset="0.500" stop-color="#62a6d2"/><stop offset="0.583" stop-color="#4795c7"/><stop offset="0.667" stop-color="#3183bb"/><stop offset="0.750" stop-color="#2071ac"/><stop offset="0.833" stop-color="#155e97"/><stop offset="0.917" stop-color="#0f4a7c"/><stop offset="1.000" stop-color="#0c365c"/></linearGradient><linearGradient id="cbg281" x1="0" x2="1" y1="0" y2="0"><stop offset="0.000" stop-color="#0c365c"/><stop offset="0.083" stop-color="#0f4a7c"/><stop offset="0.167" stop-color="#155e97"/><stop offset="0.250" stop-color="#2071ac"/><stop offset="0.333" stop-color="#3183bb"/><stop offset="0.417" stop-color="#4795c7"/><stop offset="0.500" stop-color="#62a6d2"/><stop offset="0.583" stop-color="#82b9dc"/><stop offset="0.667" stop-color="#a0c9e5"/><stop offset="0.750" stop-color="#bcd8ed"/><stop offset="0.833" stop-color="#cfe4f4"/><stop offset="0.917" stop-color="#dfeef9"/><stop offset="1.000" stop-color="#eef7fe"/></linearGradient><linearGradient id="cbg597" x1="0" x2="1" y1="0" y2="0"><stop offset="0.000" stop-color="#0c365c"/><stop offset="0.083" stop-color="#0f4a7c"/><stop offset="0.167" stop-color="#155e97"/><stop offset="0.250" stop-color="#2071ac"/><stop offset="0.333" stop-color="#3183bb"/><stop offset="0.417" stop-color="#4795c7"/><stop offset="0.500" stop-color="#62a6d2"/><stop offset="0.583" stop-color="#82b9dc"/><stop offset="0.667" stop-color="#a0c9e5"/><stop offset="0.750" stop-color="#bcd8ed"/><stop offset="0.833" stop-color="#cfe4f4"/><stop offset="0.917" stop-color="#dfeef9"/><stop offset="1.000" stop-color="#eef7fe"/></linearGradient></defs><rect width="1000" height="545" fill="#fff"/><g shape-rendering="crispEdges">
<rect x="67.50" y="35.50" width="0.50" height="155.00" fill="url(#g1)"/>
<rect x="68.00" y="35.50" width="1.00" height="155.00" fill="url(#g2)"/>
<rect x="69.00" y="35.50" width="1.00" height="155.00" fill="url(#g3)"/>
<rect x="70.00" y="35.50" width="1.00" height="155.00" fill="url(#g4)"/>
<rect x="71.00" y="35.50" width="1.00" height="155.00" fill="url(#g5)"/>
<rect x="72.00" y="35.50" width="1.00" height="155.00" fill="url(#g6)"/>
<rect x="73.00" y="35.50" width="1.00" height="155.00" fill="url(#g7)"/>
<rect x="74.00" y="35.50" width="1.00" height="155.00" fill="url(#g8)"/>
<rect x="75.00" y="35.50" width="1.00" height="155.00" fill="url(#g9)"/>
<rect x="76.00" y="35.50" width="1.00" height="155.00" fill="url(#g10)"/>
<rect x="77.00" y="35.50" width="1.00" height="155.00" fill="url(#g11)"/>
<rect x="78.00" y="35.50" width="1.00" height="155.00" fill="url(#g12)"/>
<rect x="79.00" y="35.50" width="1.00" height="155.00" fill="url(#g13)"/>
<rect x="80.00" y="35.50" width="1.00" height="155.00" fill="url(#g14)"/>
<rect x="81.00" y="35.50" width="1.00" height="155.00" fill="url(#g15)"/>
<rect x="82.00" y="35.50" width="1.00" height="155.00" fill="url(#g16)"/>
<rect x="83.00" y="35.50" width="1.00" height="155.00" fill="url(#g17)"/>
<rect x="84.00" y="35.50" width="1.00" height="155.00" fill="url(#g18)"/>
<rect x="85.00" y="35.50" width="1.00" height="155.00" fill="url(#g19)"/>
<rect x="86.00" y="35.50" width="1.00" height="155.00" fill="url(#g20)"/>
<rect x="87.00" y="35.50" width="1.00" height="155.00" fill="url(#g21)"/>
<rect x="88.00" y="35.50" width="1.00" height="155.00" fill="url(#g22)"/>
<rect x="89.00" y="35.50" width="1.00" height="155.00" fill="url(#g23)"/>
<rect x="90.00" y="35.50" width="1.00" height="155.00" fill="url(#g24)"/>
<rect x="91.00" y="35.50" width="1.00" height="155.00" fill="url(#g25)"/>
<rect x="92.00" y="35.50" width="1.00" height="155.00" fill="url(#g26)"/>
<rect x="93.00" y="35.50" width="1.00" height="155.00" fill="url(#g27)"/>
<rect x="94.00" y="35.50" width="1.00" height="155.00" fill="url(#g28)"/>
<rect x="95.00" y="35.50" width="1.00" height="155.00" fill="url(#g29)"/>
<rect x="96.00" y="35.50" width="1.00" height="155.00" fill="url(#g30)"/>
<rect x="97.00" y="35.50" width="1.00" height="155.00" fill="url(#g31)"/>
<rect x="98.00" y="35.50" width="1.00" height="155.00" fill="url(#g32)"/>
<rect x="99.00" y="35.50" width="1.00" height="155.00" fill="url(#g33)"/>
<rect x="100.00" y="35.50" width="1.00" height="155.00" fill="url(#g34)"/>
<rect x="101.00" y="35.50" width="1.00" height="155.00" fill="url(#g35)"/>
<rect x="102.00" y="35.50" width="1.00" height="155.00" fill="url(#g36)"/>
<rect x="103.00" y="35.50" width="1.00" height="155.00" fill="url(#g37)"/>
<rect x="104.00" y="35.50" width="1.00" height="155.00" fill="url(#g38)"/>
<rect x="105.00" y="35.50" width="1.00" height="155.00" fill="url(#g39)"/>
<rect x="106.00" y="35.50" width="1.00" height="155.00" fill="url(#g40)"/>
<rect x="107.00" y="35.50" width="1.00" height="155.00" fill="url(#g41)"/>
<rect x="108.00" y="35.50" width="1.00" height="155.00" fill="url(#g42)"/>
<rect x="109.00" y="35.50" width="1.00" height="155.00" fill="url(#g43)"/>
<rect x="110.00" y="35.50" width="1.00" height="155.00" fill="url(#g44)"/>
<rect x="111.00" y="35.50" width="1.00" height="155.00" fill="url(#g45)"/>
<rect x="112.00" y="35.50" width="1.00" height="155.00" fill="url(#g46)"/>
<rect x="113.00" y="35.50" width="1.00" height="155.00" fill="url(#g47)"/>
<rect x="114.00" y="35.50" width="1.00" height="155.00" fill="url(#g48)"/>
<rect x="115.00" y="35.50" width="1.00" height="155.00" fill="url(#g49)"/>
<rect x="116.00" y="35.50" width="1.00" height="155.00" fill="url(#g50)"/>
<rect x="117.00" y="35.50" width="0.60" height="155.00" fill="url(#g51)"/>
</g>
<g shape-rendering="crispEdges">
<rect x="117.60" y="35.50" width="4.40" height="155.00" fill="url(#g52)"/>
<rect x="122.00" y="35.50" width="5.00" height="155.00" fill="url(#g53)"/>
<rect x="127.00" y="35.50" width="0.60" height="155.00" fill="url(#g54)"/>
</g>
<g shape-rendering="crispEdges">
<rect x="127.60" y="138.50" width="1.40" height="69.70" fill="url(#g55)"/>
<rect x="129.00" y="138.50" width="2.00" height="69.70" fill="url(#g56)"/>
<rect x="131.00" y="138.50" width="2.00" height="69.70" fill="url(#g57)"/>
<rect x="133.00" y="138.50" width="2.00" height="69.70" fill="url(#g58)"/>
<rect x="135.00" y="138.50" width="2.00" height="69.70" fill="url(#g59)"/>
<rect x="137.00" y="138.50" width="2.00" height="69.70" fill="url(#g60)"/>
<rect x="139.00" y="138.50" width="2.00" height="69.70" fill="url(#g61)"/>
<rect x="141.00" y="138.50" width="2.00" height="69.70" fill="url(#g62)"/>
<rect x="143.00" y="138.50" width="2.00" height="69.70" fill="url(#g63)"/>
<rect x="145.00" y="138.50" width="2.00" height="69.70" fill="url(#g64)"/>
<rect x="147.00" y="138.50" width="2.00" height="69.70" fill="url(#g65)"/>
<rect x="149.00" y="138.50" width="2.00" height="69.70" fill="url(#g66)"/>
<rect x="151.00" y="138.50" width="2.00" height="69.70" fill="url(#g67)"/>
<rect x="153.00" y="138.50" width="2.00" height="69.70" fill="url(#g68)"/>
<rect x="155.00" y="138.50" width="2.00" height="69.70" fill="url(#g69)"/>
<rect x="157.00" y="138.50" width="2.00" height="69.70" fill="url(#g70)"/>
<rect x="159.00" y="138.50" width="2.00" height="69.70" fill="url(#g71)"/>
<rect x="161.00" y="138.50" width="2.00" height="69.70" fill="url(#g72)"/>
<rect x="163.00" y="138.50" width="2.00" height="69.70" fill="url(#g73)"/>
<rect x="165.00" y="138.50" width="2.00" height="69.70" fill="url(#g74)"/>
<rect x="167.00" y="138.50" width="2.00" height="69.70" fill="url(#g75)"/>
<rect x="169.00" y="138.50" width="2.00" height="69.70" fill="url(#g76)"/>
<rect x="171.00" y="138.50" width="2.00" height="69.70" fill="url(#g77)"/>
<rect x="173.00" y="138.50" width="2.00" height="69.70" fill="url(#g78)"/>
<rect x="175.00" y="138.50" width="2.00" height="69.70" fill="url(#g79)"/>
<rect x="177.00" y="138.50" width="2.00" height="69.70" fill="url(#g80)"/>
<rect x="179.00" y="138.50" width="2.00" height="69.70" fill="url(#g81)"/>
<rect x="181.00" y="138.50" width="2.00" height="69.70" fill="url(#g82)"/>
<rect x="183.00" y="138.50" width="2.00" height="69.70" fill="url(#g83)"/>
<rect x="185.00" y="138.50" width="2.00" height="69.70" fill="url(#g84)"/>
<rect x="187.00" y="138.50" width="2.00" height="69.70" fill="url(#g85)"/>
<rect x="189.00" y="138.50" width="2.00" height="69.70" fill="url(#g86)"/>
<rect x="191.00" y="138.50" width="2.00" height="69.70" fill="url(#g87)"/>
<rect x="193.00" y="138.50" width="2.00" height="69.70" fill="url(#g88)"/>
<rect x="195.00" y="138.50" width="2.00" height="69.70" fill="url(#g89)"/>
<rect x="197.00" y="138.50" width="2.00" height="69.70" fill="url(#g90)"/>
<rect x="199.00" y="138.50" width="2.00" height="69.70" fill="url(#g91)"/>
<rect x="201.00" y="138.50" width="2.00" height="69.70" fill="url(#g92)"/>
<rect x="203.00" y="138.50" width="2.00" height="69.70" fill="url(#g93)"/>
<rect x="205.00" y="138.50" width="2.00" height="69.70" fill="url(#g94)"/>
<rect x="207.00" y="138.50" width="2.00" height="69.70" fill="url(#g95)"/>
<rect x="209.00" y="138.50" width="2.00" height="69.70" fill="url(#g96)"/>
<rect x="211.00" y="138.50" width="2.00" height="69.70" fill="url(#g97)"/>
<rect x="213.00" y="138.50" width="2.00" height="69.70" fill="url(#g98)"/>
<rect x="215.00" y="138.50" width="2.00" height="69.70" fill="url(#g99)"/>
<rect x="217.00" y="138.50" width="2.00" height="69.70" fill="url(#g100)"/>
<rect x="219.00" y="138.50" width="2.00" height="69.70" fill="url(#g101)"/>
<rect x="221.00" y="138.50" width="2.00" height="69.70" fill="url(#g102)"/>
<rect x="223.00" y="138.50" width="2.00" height="69.70" fill="url(#g103)"/>
<rect x="225.00" y="138.50" width="2.00" height="69.70" fill="url(#g104)"/>
<rect x="227.00" y="138.50" width="2.00" height="69.70" fill="url(#g105)"/>
<rect x="229.00" y="138.50" width="2.00" height="69.70" fill="url(#g106)"/>
<rect x="231.00" y="138.50" width="2.00" height="69.70" fill="url(#g107)"/>
<rect x="233.00" y="138.50" width="2.00" height="69.70" fill="url(#g108)"/>
<rect x="235.00" y="138.50" width="2.00" height="69.70" fill="url(#g109)"/>
<rect x="237.00" y="138.50" width="2.00" height="69.70" fill="url(#g110)"/>
<rect x="239.00" y="138.50" width="2.00" height="69.70" fill="url(#g111)"/>
<rect x="241.00" y="138.50" width="2.00" height="69.70" fill="url(#g112)"/>
<rect x="243.00" y="138.50" width="2.00" height="69.70" fill="url(#g113)"/>
<rect x="245.00" y="138.50" width="2.00" height="69.70" fill="url(#g114)"/>
<rect x="247.00" y="138.50" width="2.00" height="69.70" fill="url(#g115)"/>
<rect x="249.00" y="138.50" width="0.80" height="69.70" fill="url(#g116)"/>
</g>
<g shape-rendering="crispEdges">
<rect x="249.80" y="173.00" width="2.20" height="35.20" fill="url(#g117)"/>
<rect x="252.00" y="173.00" width="3.00" height="35.20" fill="url(#g118)"/>
<rect x="255.00" y="173.00" width="3.00" height="35.20" fill="url(#g119)"/>
<rect x="258.00" y="173.00" width="3.00" height="35.20" fill="url(#g120)"/>
<rect x="261.00" y="173.00" width="3.00" height="35.20" fill="url(#g121)"/>
<rect x="264.00" y="173.00" width="3.00" height="35.20" fill="url(#g122)"/>
<rect x="267.00" y="173.00" width="3.00" height="35.20" fill="url(#g123)"/>
<rect x="270.00" y="173.00" width="3.00" height="35.20" fill="url(#g124)"/>
<rect x="273.00" y="173.00" width="3.00" height="35.20" fill="url(#g125)"/>
<rect x="276.00" y="173.00" width="3.00" height="35.20" fill="url(#g126)"/>
<rect x="279.00" y="173.00" width="3.00" height="35.20" fill="url(#g127)"/>
<rect x="282.00" y="173.00" width="3.00" height="35.20" fill="url(#g128)"/>
<rect x="285.00" y="173.00" width="3.00" height="35.20" fill="url(#g129)"/>
<rect x="288.00" y="173.00" width="3.00" height="35.20" fill="url(#g130)"/>
<rect x="291.00" y="173.00" width="3.00" height="35.20" fill="url(#g131)"/>
<rect x="294.00" y="173.00" width="3.00" height="35.20" fill="url(#g132)"/>
<rect x="297.00" y="173.00" width="3.00" height="35.20" fill="url(#g133)"/>
<rect x="300.00" y="173.00" width="3.00" height="35.20" fill="url(#g134)"/>
<rect x="303.00" y="173.00" width="3.00" height="35.20" fill="url(#g135)"/>
<rect x="306.00" y="173.00" width="3.00" height="35.20" fill="url(#g136)"/>
<rect x="309.00" y="173.00" width="3.00" height="35.20" fill="url(#g137)"/>
<rect x="312.00" y="173.00" width="3.00" height="35.20" fill="url(#g138)"/>
<rect x="315.00" y="173.00" width="3.00" height="35.20" fill="url(#g139)"/>
<rect x="318.00" y="173.00" width="3.00" height="35.20" fill="url(#g140)"/>
<rect x="321.00" y="173.00" width="3.00" height="35.20" fill="url(#g141)"/>
<rect x="324.00" y="173.00" width="3.00" height="35.20" fill="url(#g142)"/>
<rect x="327.00" y="173.00" width="3.00" height="35.20" fill="url(#g143)"/>
<rect x="330.00" y="173.00" width="3.00" height="35.20" fill="url(#g144)"/>
<rect x="333.00" y="173.00" width="3.00" height="35.20" fill="url(#g145)"/>
<rect x="336.00" y="173.00" width="3.00" height="35.20" fill="url(#g146)"/>
<rect x="339.00" y="173.00" width="3.00" height="35.20" fill="url(#g147)"/>
<rect x="342.00" y="173.00" width="3.00" height="35.20" fill="url(#g148)"/>
<rect x="345.00" y="173.00" width="3.00" height="35.20" fill="url(#g149)"/>
<rect x="348.00" y="173.00" width="3.00" height="35.20" fill="url(#g150)"/>
<rect x="351.00" y="173.00" width="3.00" height="35.20" fill="url(#g151)"/>
<rect x="354.00" y="173.00" width="3.00" height="35.20" fill="url(#g152)"/>
<rect x="357.00" y="173.00" width="3.00" height="35.20" fill="url(#g153)"/>
<rect x="360.00" y="173.00" width="3.00" height="35.20" fill="url(#g154)"/>
<rect x="363.00" y="173.00" width="3.00" height="35.20" fill="url(#g155)"/>
<rect x="366.00" y="173.00" width="3.00" height="35.20" fill="url(#g156)"/>
<rect x="369.00" y="173.00" width="3.00" height="35.20" fill="url(#g157)"/>
<rect x="372.00" y="173.00" width="3.00" height="35.20" fill="url(#g158)"/>
<rect x="375.00" y="173.00" width="3.00" height="35.20" fill="url(#g159)"/>
<rect x="378.00" y="173.00" width="3.00" height="35.20" fill="url(#g160)"/>
<rect x="381.00" y="173.00" width="3.00" height="35.20" fill="url(#g161)"/>
<rect x="384.00" y="173.00" width="3.00" height="35.20" fill="url(#g162)"/>
<rect x="387.00" y="173.00" width="3.00" height="35.20" fill="url(#g163)"/>
<rect x="390.00" y="173.00" width="3.00" height="35.20" fill="url(#g164)"/>
<rect x="393.00" y="173.00" width="3.00" height="35.20" fill="url(#g165)"/>
<rect x="396.00" y="173.00" width="3.00" height="35.20" fill="url(#g166)"/>
<rect x="399.00" y="173.00" width="3.00" height="35.20" fill="url(#g167)"/>
<rect x="402.00" y="173.00" width="3.00" height="35.20" fill="url(#g168)"/>
<rect x="405.00" y="173.00" width="3.00" height="35.20" fill="url(#g169)"/>
<rect x="408.00" y="173.00" width="3.00" height="35.20" fill="url(#g170)"/>
<rect x="411.00" y="173.00" width="3.00" height="35.20" fill="url(#g171)"/>
<rect x="414.00" y="173.00" width="3.00" height="35.20" fill="url(#g172)"/>
<rect x="417.00" y="173.00" width="3.00" height="35.20" fill="url(#g173)"/>
<rect x="420.00" y="173.00" width="3.00" height="35.20" fill="url(#g174)"/>
<rect x="423.00" y="173.00" width="3.00" height="35.20" fill="url(#g175)"/>
<rect x="426.00" y="173.00" width="3.00" height="35.20" fill="url(#g176)"/>
<rect x="429.00" y="173.00" width="3.00" height="35.20" fill="url(#g177)"/>
<rect x="432.00" y="173.00" width="3.00" height="35.20" fill="url(#g178)"/>
<rect x="435.00" y="173.00" width="3.00" height="35.20" fill="url(#g179)"/>
<rect x="438.00" y="173.00" width="3.00" height="35.20" fill="url(#g180)"/>
<rect x="441.00" y="173.00" width="3.00" height="35.20" fill="url(#g181)"/>
<rect x="444.00" y="173.00" width="3.00" height="35.20" fill="url(#g182)"/>
<rect x="447.00" y="173.00" width="3.00" height="35.20" fill="url(#g183)"/>
<rect x="450.00" y="173.00" width="3.00" height="35.20" fill="url(#g184)"/>
<rect x="453.00" y="173.00" width="3.00" height="35.20" fill="url(#g185)"/>
<rect x="456.00" y="173.00" width="3.00" height="35.20" fill="url(#g186)"/>
<rect x="459.00" y="173.00" width="3.00" height="35.20" fill="url(#g187)"/>
<rect x="462.00" y="173.00" width="3.00" height="35.20" fill="url(#g188)"/>
<rect x="465.00" y="173.00" width="3.00" height="35.20" fill="url(#g189)"/>
<rect x="468.00" y="173.00" width="3.00" height="35.20" fill="url(#g190)"/>
<rect x="471.00" y="173.00" width="3.00" height="35.20" fill="url(#g191)"/>
<rect x="474.00" y="173.00" width="3.00" height="35.20" fill="url(#g192)"/>
<rect x="477.00" y="173.00" width="3.00" height="35.20" fill="url(#g193)"/>
<rect x="480.00" y="173.00" width="3.00" height="35.20" fill="url(#g194)"/>
<rect x="483.00" y="173.00" width="3.00" height="35.20" fill="url(#g195)"/>
<rect x="486.00" y="173.00" width="3.00" height="35.20" fill="url(#g196)"/>
<rect x="489.00" y="173.00" width="3.00" height="35.20" fill="url(#g197)"/>
<rect x="492.00" y="173.00" width="2.30" height="35.20" fill="url(#g198)"/>
</g>
<rect x="567.3" y="35.5" width="50.3" height="92.5" fill="#e2f0fb"/>
<path d="M569.3 35.5v92.5M572.5 35.5v92.5M577.9 35.5v92.5M580.7 35.5v92.5M585.6 35.5v92.5M589.8 35.5v92.5M592.5 35.5v92.5M597.3 35.5v92.5M600.0 35.5v92.5M604.4 35.5v92.5M607.2 35.5v92.5M610.1 35.5v92.5M614.6 35.5v92.5" stroke="#d3e8f6" stroke-width="1" opacity="0.45" fill="none" clip-path="url(#cb0)"/>
<rect x="617.6" y="35.5" width="9.8" height="92.5" fill="#e2f0fb"/>
<path d="M619.0 35.5v92.5M622.5 35.5v92.5" stroke="#d3e8f6" stroke-width="1" opacity="0.45" fill="none" clip-path="url(#cb1)"/>
<rect x="627.4" y="76.8" width="122.2" height="78.2" fill="#e2f0fb"/>
<path d="M631.2 76.8v78.2M636.3 76.8v78.2M640.6 76.8v78.2M647.5 76.8v78.2M650.2 76.8v78.2M656.6 76.8v78.2M660.4 76.8v78.2M663.5 76.8v78.2M666.6 76.8v78.2M670.5 76.8v78.2M676.6 76.8v78.2M679.9 76.8v78.2M685.1 76.8v78.2M690.4 76.8v78.2M694.6 76.8v78.2M699.6 76.8v78.2M702.4 76.8v78.2M705.1 76.8v78.2M708.6 76.8v78.2M714.1 76.8v78.2M718.5 76.8v78.2M722.5 76.8v78.2M727.6 76.8v78.2M732.1 76.8v78.2M736.0 76.8v78.2M742.1 76.8v78.2M747.7 76.8v78.2" stroke="#d3e8f6" stroke-width="1" opacity="0.45" fill="none" clip-path="url(#cb2)"/>
<rect x="749.6" y="129.3" width="122.4" height="52.4" fill="#e2f0fb"/>
<path d="M752.3 129.3v52.4M757.2 129.3v52.4M763.6 129.3v52.4M769.4 129.3v52.4M773.2 129.3v52.4M780.1 129.3v52.4M783.1 129.3v52.4M787.5 129.3v52.4M793.4 129.3v52.4M796.6 129.3v52.4M801.3 129.3v52.4M804.0 129.3v52.4M809.5 129.3v52.4M815.4 129.3v52.4M820.5 129.3v52.4M827.0 129.3v52.4M830.9 129.3v52.4M836.5 129.3v52.4M841.7 129.3v52.4M846.8 129.3v52.4M851.3 129.3v52.4M857.6 129.3v52.4M864.4 129.3v52.4M869.0 129.3v52.4" stroke="#d3e8f6" stroke-width="1" opacity="0.45" fill="none" clip-path="url(#cb3)"/>
<rect x="872.0" y="145.1" width="122.3" height="62.3" fill="#e2f0fb"/>
<path d="M873.2 145.1v62.3M878.8 145.1v62.3M884.3 145.1v62.3M891.2 145.1v62.3M897.4 145.1v62.3M901.2 145.1v62.3M905.4 145.1v62.3M910.9 145.1v62.3M913.5 145.1v62.3M918.1 145.1v62.3M921.4 145.1v62.3M924.4 145.1v62.3M927.2 145.1v62.3M933.1 145.1v62.3M936.2 145.1v62.3M939.8 145.1v62.3M944.1 145.1v62.3M950.5 145.1v62.3M953.4 145.1v62.3M957.9 145.1v62.3M962.9 145.1v62.3M969.3 145.1v62.3M975.5 145.1v62.3M981.9 145.1v62.3M985.7 145.1v62.3M990.0 145.1v62.3" stroke="#d3e8f6" stroke-width="1" opacity="0.45" fill="none" clip-path="url(#cb4)"/>
<g clip-path="url(#cb0)">
<path d="M565.0 46.5L570.0 51.5L578.3 60.3L589.4 72.6L600.4 85.5L611.4 98.3L617.6 106.0" stroke="#8ebfe3" stroke-width="24.7" fill="none" opacity="0.5" filter="url(#bl3)"/>
<path d="M565.0 46.5L570.0 51.5L578.3 60.3L589.4 72.6L600.4 85.5L611.4 98.3L617.6 106.0" stroke="#3c82bd" stroke-width="15" fill="none" opacity="0.45" filter="url(#bl1)"/>
<path d="M565.0 46.5L570.0 51.5L578.3 60.3L589.4 72.6L600.4 85.5L611.4 98.3L617.6 106.0" stroke="#185c98" stroke-width="9.5" fill="none" filter="url(#bl1)" stroke-linejoin="round"/>
</g>
<g clip-path="url(#cb1)">
<path d="M617.6 74.0L622.0 82.0L627.4 92.0" stroke="#8ebfe3" stroke-width="18.2" fill="none" opacity="0.5" filter="url(#bl3)"/>
<path d="M617.6 74.0L622.0 82.0L627.4 92.0" stroke="#185c98" stroke-width="7.0" fill="none" filter="url(#bl1)" stroke-linejoin="round"/>
</g>
<g clip-path="url(#cb2)">
<path d="M627.4 75.0L630.0 78.5L635.0 86.5L640.0 94.5L646.0 101.5L653.0 108.0L660.0 114.0L666.0 119.5L672.0 125.0L679.0 132.5M719.0 118.0L727.0 123.0L735.6 128.0L742.0 132.0L750.0 137.5" stroke="#8ebfe3" stroke-width="16.9" fill="none" opacity="0.5" filter="url(#bl3)"/>
<path d="M627.4 75.0L630.0 78.5L635.0 86.5L640.0 94.5L646.0 101.5L653.0 108.0L660.0 114.0L666.0 119.5L672.0 125.0L679.0 132.5M719.0 118.0L727.0 123.0L735.6 128.0L742.0 132.0L750.0 137.5" stroke="#185c98" stroke-width="6.5" fill="none" filter="url(#bl1)" stroke-linejoin="round"/>
</g>
<g clip-path="url(#cb3)">
<path d="M749.0 138.0L756.0 143.5L772.5 151.5M773.0 149.0L791.0 157.5M791.5 151.0L805.0 156.0L820.0 161.0L832.0 164.8L858.0 173.5L863.0 175.0M863.5 170.0L872.0 173.0" stroke="#8ebfe3" stroke-width="15.6" fill="none" opacity="0.5" filter="url(#bl3)"/>
<path d="M749.0 147.0L756.0 152.5L772.5 160.5M773.0 158.0L791.0 166.5M791.5 160.0L805.0 165.0L820.0 170.0L832.0 173.8L858.0 182.5L863.0 184.0M863.5 179.0L872.0 182.0" stroke="#a6cbe8" stroke-width="16" fill="none" opacity="0.55" filter="url(#bl3)"/>
<path d="M749.0 138.0L756.0 143.5L772.5 151.5M773.0 149.0L791.0 157.5M791.5 151.0L805.0 156.0L820.0 161.0L832.0 164.8L858.0 173.5L863.0 175.0M863.5 170.0L872.0 173.0" stroke="#3f8ac4" stroke-width="6.0" fill="none" filter="url(#bl1)" stroke-linejoin="round"/>
<path d="M749.0 141.0L756.0 146.5L772.5 154.5M773.0 152.0L791.0 160.5M791.5 154.0L805.0 159.0L820.0 164.0L832.0 167.8L858.0 176.5L863.0 178.0M863.5 173.0L872.0 176.0" stroke="#1d67a3" stroke-width="1.9" fill="none"/>
</g>
<g clip-path="url(#cb4)">
<path d="M871.0 171.0L885.6 179.0M886.0 174.0L893.0 178.0L900.0 182.0L905.0 181.0L910.0 178.0L917.0 173.5L925.0 173.0L937.0 175.0M937.5 172.0L950.0 176.0L962.0 181.0M963.0 177.5L974.0 182.0M974.5 175.5L985.0 179.0L995.0 182.0" stroke="#8ebfe3" stroke-width="16.1" fill="none" opacity="0.5" filter="url(#bl3)"/>
<path d="M871.0 180.0L885.6 188.0M886.0 183.0L893.0 187.0L900.0 191.0L905.0 190.0L910.0 187.0L917.0 182.5L925.0 182.0L937.0 184.0M937.5 181.0L950.0 185.0L962.0 190.0M963.0 186.5L974.0 191.0M974.5 184.5L985.0 188.0L995.0 191.0" stroke="#a6cbe8" stroke-width="16" fill="none" opacity="0.55" filter="url(#bl3)"/>
<path d="M871.0 171.0L885.6 179.0M886.0 174.0L893.0 178.0L900.0 182.0L905.0 181.0L910.0 178.0L917.0 173.5L925.0 173.0L937.0 175.0M937.5 172.0L950.0 176.0L962.0 181.0M963.0 177.5L974.0 182.0M974.5 175.5L985.0 179.0L995.0 182.0" stroke="#3f8ac4" stroke-width="6.2" fill="none" filter="url(#bl1)" stroke-linejoin="round"/>
<path d="M871.0 174.0L885.6 182.0M886.0 177.0L893.0 181.0L900.0 185.0L905.0 184.0L910.0 181.0L917.0 176.5L925.0 176.0L937.0 178.0M937.5 175.0L950.0 179.0L962.0 184.0M963.0 180.5L974.0 185.0M974.5 178.5L985.0 182.0L995.0 185.0" stroke="#1d67a3" stroke-width="1.9" fill="none"/>
<ellipse cx="903" cy="180" rx="16" ry="7" fill="#3f8ac4" opacity="0.55" filter="url(#bl3)"/>
</g>
<g clip-path="url(#cb2)"><path d="M679.0 121.2L691.2 122.9L691.2 138.9L679.0 127.4ZM691.5 122.2L703.4 123.8L703.4 135.7L691.5 128.0ZM703.7 119.6L709.2 121.0L709.2 133.0L703.7 126.0ZM709.8 115.1L718.2 119.6L718.2 131.2L709.8 122.9Z" fill="#8ebfe3" opacity="0.5" filter="url(#bl3)"/>
<path d="M679.0 121.2L691.2 122.9L691.2 138.9L679.0 127.4Z" fill="url(#tg)" filter="url(#bl1)"/>
<path d="M691.5 122.2L703.4 123.8L703.4 135.7L691.5 128.0Z" fill="url(#tg)" filter="url(#bl1)"/>
<path d="M703.7 119.6L709.2 121.0L709.2 133.0L703.7 126.0Z" fill="url(#tg)" filter="url(#bl1)"/>
<path d="M709.8 115.1L718.2 119.6L718.2 131.2L709.8 122.9Z" fill="url(#tg)" filter="url(#bl1)"/>
</g>
<path d="M567 69h24M590 87.8h30M600 107.6h18M618 88h12M640 107.8h20M660 126.5h72" stroke="#e6f2fb" stroke-width="1.1" opacity="0.45" fill="none"/>
<path d="M801 183.3L807.2 192.7H803V206.7H798.1V192.7H794.8Z" fill="#c1272d"/>
<rect x="801.7" y="35.5" width="193.6" height="62.8" fill="#fff"/>
<path d="M801.7 91.8h0.01M802.4 92.7h0.01M803.2 89.5h0.01M803.9 92.6h0.01M804.7 92.2h0.01M805.4 90.5h0.01M806.1 93.3h0.01M806.9 93.0h0.01M807.6 92.1h0.01M808.4 92.7h0.01M809.1 93.7h0.01M809.8 92.5h0.01M810.6 92.7h0.01M811.3 91.6h0.01M812.0 94.2h0.01M812.8 93.0h0.01M813.5 90.9h0.01M814.3 90.1h0.01M815.0 94.0h0.01M815.7 91.5h0.01M816.5 93.3h0.01M817.2 93.2h0.01M818.0 93.2h0.01M818.7 92.7h0.01M819.4 91.0h0.01M820.2 91.3h0.01M820.9 92.1h0.01M821.7 92.6h0.01M822.4 92.1h0.01M823.1 92.2h0.01M823.9 91.2h0.01M824.6 92.8h0.01M825.4 92.1h0.01M826.1 92.2h0.01M826.8 92.1h0.01M827.6 91.7h0.01M828.3 91.7h0.01M829.1 90.4h0.01M829.8 92.0h0.01M830.5 90.0h0.01M831.3 92.1h0.01M832.0 92.2h0.01M832.7 91.5h0.01M833.5 91.1h0.01M834.2 91.1h0.01M835.0 89.7h0.01M835.7 89.8h0.01M836.4 90.3h0.01M837.2 91.1h0.01M837.9 90.6h0.01M838.7 88.7h0.01M839.4 89.8h0.01M840.1 91.3h0.01M840.9 90.3h0.01M841.6 89.9h0.01M842.4 87.7h0.01M843.1 88.9h0.01M843.8 85.9h0.01M844.6 87.5h0.01M845.3 87.9h0.01M846.1 88.3h0.01M846.8 86.5h0.01M847.5 87.8h0.01M848.3 88.4h0.01M849.0 86.7h0.01M849.7 87.3h0.01M850.5 85.9h0.01M851.2 87.5h0.01M852.0 90.8h0.01M852.7 86.7h0.01M853.4 89.9h0.01M854.2 86.1h0.01M854.9 85.9h0.01M855.7 88.7h0.01M856.4 89.7h0.01M857.1 90.1h0.01M857.9 87.6h0.01M858.6 88.9h0.01M859.4 89.4h0.01M860.1 89.0h0.01M860.8 86.2h0.01M861.6 88.0h0.01M862.3 87.3h0.01M863.1 87.0h0.01M863.8 86.4h0.01M864.5 85.9h0.01M865.3 87.5h0.01M866.0 86.4h0.01M866.7 86.6h0.01M867.5 86.0h0.01M868.2 83.5h0.01M869.0 85.0h0.01M869.7 84.2h0.01M870.4 84.8h0.01M871.2 84.6h0.01M871.9 83.0h0.01M872.7 84.5h0.01M873.4 84.6h0.01M874.1 83.7h0.01M874.9 83.9h0.01M875.6 83.7h0.01M876.4 84.5h0.01M877.1 86.8h0.01M877.8 84.0h0.01M878.6 84.0h0.01M879.3 83.2h0.01M880.1 85.0h0.01M880.8 80.7h0.01M881.5 84.4h0.01M882.3 81.4h0.01M883.0 81.3h0.01M883.8 80.8h0.01M884.5 78.0h0.01M885.2 77.8h0.01M886.0 78.4h0.01M886.7 75.0h0.01M887.4 70.8h0.01M888.2 66.0h0.01M888.9 67.4h0.01M889.7 62.5h0.01M890.4 57.6h0.01M891.1 55.6h0.01M891.9 54.4h0.01M892.6 54.3h0.01M893.4 54.5h0.01M894.1 45.8h0.01M894.8 55.6h0.01M895.6 60.1h0.01M896.3 62.0h0.01M897.1 62.1h0.01M897.8 65.1h0.01M898.5 67.4h0.01M899.3 68.5h0.01M900.0 70.1h0.01M900.8 68.9h0.01M901.5 68.6h0.01M902.2 68.3h0.01M903.0 79.2h0.01M903.7 69.6h0.01M904.4 68.3h0.01M905.2 67.3h0.01M905.9 66.8h0.01M906.7 66.0h0.01M907.4 67.0h0.01M908.1 66.9h0.01M908.9 62.7h0.01M909.6 62.5h0.01M910.4 61.1h0.01M911.1 60.8h0.01M911.8 60.3h0.01M912.6 56.3h0.01M913.3 56.9h0.01M914.1 58.5h0.01M914.8 57.1h0.01M915.5 57.7h0.01M916.3 58.4h0.01M917.0 57.7h0.01M917.8 61.8h0.01M918.5 64.8h0.01M919.2 65.0h0.01M920.0 67.5h0.01M920.7 67.9h0.01M921.5 69.9h0.01M922.2 71.4h0.01M922.9 73.9h0.01M923.7 74.2h0.01M924.4 76.6h0.01M925.1 76.6h0.01M925.9 78.6h0.01M926.6 80.6h0.01M927.4 79.7h0.01M928.1 81.9h0.01M928.8 80.2h0.01M929.6 82.1h0.01M930.3 82.7h0.01M931.1 83.7h0.01M931.8 84.4h0.01M932.5 87.6h0.01M933.3 83.9h0.01M934.0 86.7h0.01M934.8 85.0h0.01M935.5 87.2h0.01M936.2 87.0h0.01M937.0 87.4h0.01M937.7 88.6h0.01M938.5 87.9h0.01M939.2 87.4h0.01M939.9 88.6h0.01M940.7 89.8h0.01M941.4 89.2h0.01M942.1 88.5h0.01M942.9 87.6h0.01M943.6 88.1h0.01M944.4 88.9h0.01M945.1 90.5h0.01M945.8 88.5h0.01M946.6 89.6h0.01M947.3 90.0h0.01M948.1 88.8h0.01M948.8 89.3h0.01M949.5 89.5h0.01M950.3 91.5h0.01M951.0 91.0h0.01M951.8 92.3h0.01M952.5 90.2h0.01M953.2 90.5h0.01M954.0 89.5h0.01M954.7 90.4h0.01M955.5 91.1h0.01M956.2 88.3h0.01M956.9 92.0h0.01M957.7 92.4h0.01M958.4 91.7h0.01M959.1 90.4h0.01M959.9 91.5h0.01M960.6 91.6h0.01M961.4 92.4h0.01M962.1 89.5h0.01M962.8 92.0h0.01M963.6 92.5h0.01M964.3 91.5h0.01M965.1 92.3h0.01M965.8 91.7h0.01M966.5 89.9h0.01M967.3 92.0h0.01M968.0 91.5h0.01M968.8 91.9h0.01M969.5 91.8h0.01M970.2 90.6h0.01M971.0 91.0h0.01M971.7 92.0h0.01M972.5 92.7h0.01M973.2 91.8h0.01M973.9 90.7h0.01M974.7 91.7h0.01M975.4 91.9h0.01M976.2 93.9h0.01M976.9 90.6h0.01M977.6 93.5h0.01M978.4 93.3h0.01M979.1 92.3h0.01M979.8 91.8h0.01M980.6 91.8h0.01M981.3 92.8h0.01M982.1 92.3h0.01M982.8 92.6h0.01M983.5 94.0h0.01M984.3 92.3h0.01M985.0 92.8h0.01M985.8 91.5h0.01M986.5 92.2h0.01M987.2 90.9h0.01M988.0 91.2h0.01M988.7 91.0h0.01M989.5 90.7h0.01M990.2 91.3h0.01M990.9 92.3h0.01M991.7 90.5h0.01M992.4 93.2h0.01M993.2 92.1h0.01M993.9 91.1h0.01M994.6 92.5h0.01M995.4 91.3h0.01" stroke="#1f78c0" stroke-width="2.9" stroke-linecap="round" fill="none"/>
<path d="M801.7 92.3L802.2 92.3L802.7 92.3L803.2 92.3L803.6 92.3L804.1 92.3L804.6 92.3L805.1 92.3L805.6 92.3L806.1 92.3L806.6 92.3L807.0 92.3L807.5 92.3L808.0 92.3L808.5 92.3L809.0 92.3L809.5 92.3L809.9 92.3L810.4 92.3L810.9 92.3L811.4 92.3L811.9 92.2L812.4 92.2L812.9 92.2L813.3 92.2L813.8 92.2L814.3 92.2L814.8 92.2L815.3 92.2L815.8 92.2L816.3 92.2L816.7 92.2L817.2 92.2L817.7 92.2L818.2 92.2L818.7 92.2L819.2 92.2L819.7 92.2L820.1 92.2L820.6 92.1L821.1 92.1L821.6 92.1L822.1 92.1L822.6 92.1L823.0 92.1L823.5 92.1L824.0 92.1L824.5 92.1L825.0 92.1L825.5 92.1L826.0 92.1L826.4 92.1L826.9 92.1L827.4 92.0L827.9 92.0L828.4 92.0L828.9 92.0L829.4 92.0L829.8 92.0L830.3 92.0L830.8 92.0L831.3 92.0L831.8 92.0L832.3 92.0L832.8 92.0L833.2 91.9L833.7 91.9L834.2 91.9L834.7 91.9L835.2 91.9L835.7 91.9L836.2 91.9L836.6 91.9L837.1 91.9L837.6 91.8L838.1 91.8L838.6 91.8L839.1 91.8L839.5 91.8L840.0 91.8L840.5 91.8L841.0 91.7L841.5 91.7L842.0 91.7L842.5 91.7L842.9 91.7L843.4 91.7L843.9 91.7L844.4 91.6L844.9 91.6L845.4 91.6L845.9 91.6L846.3 91.6L846.8 91.5L847.3 91.5L847.8 91.5L848.3 91.5L848.8 91.5L849.3 91.4L849.7 91.4L850.2 91.4L850.7 91.4L851.2 91.3L851.7 91.3L852.2 91.3L852.6 91.3L853.1 91.2L853.6 91.2L854.1 91.2L854.6 91.1L855.1 91.1L855.6 91.1L856.0 91.0L856.5 91.0L857.0 91.0L857.5 90.9L858.0 90.9L858.5 90.9L859.0 90.8L859.4 90.8L859.9 90.7L860.4 90.7L860.9 90.6L861.4 90.6L861.9 90.5L862.4 90.5L862.8 90.4L863.3 90.4L863.8 90.3L864.3 90.3L864.8 90.2L865.3 90.1L865.7 90.1L866.2 90.0L866.7 89.9L867.2 89.8L867.7 89.7L868.2 89.7L868.7 89.6L869.1 89.5L869.6 89.4L870.1 89.3L870.6 89.1L871.1 89.0L871.6 88.9L872.1 88.8L872.5 88.6L873.0 88.5L873.5 88.3L874.0 88.2L874.5 88.0L875.0 87.8L875.5 87.6L875.9 87.4L876.4 87.2L876.9 86.9L877.4 86.7L877.9 86.4L878.4 86.1L878.8 85.7L879.3 85.4L879.8 85.0L880.3 84.6L880.8 84.2L881.3 83.7L881.8 83.1L882.2 82.6L882.7 81.9L883.2 81.2L883.7 80.5L884.2 79.6L884.7 78.7L885.2 77.7L885.6 76.6L886.1 75.3L886.6 74.0L887.1 72.5L887.6 70.9L888.1 69.1L888.6 67.2L889.0 65.2L889.5 63.1L890.0 61.0L890.5 58.9L891.0 57.0L891.5 55.2L891.9 53.8L892.4 52.9L892.9 52.4L893.4 52.4L893.9 53.0L894.4 53.9L894.9 55.2L895.3 56.7L895.8 58.3L896.3 60.0L896.8 61.6L897.3 63.2L897.8 64.6L898.3 65.8L898.7 66.9L899.2 67.9L899.7 68.7L900.2 69.4L900.7 69.9L901.2 70.3L901.7 70.5L902.1 70.7L902.6 70.7L903.1 70.6L903.6 70.5L904.1 70.2L904.6 69.9L905.1 69.4L905.5 68.9L906.0 68.3L906.5 67.7L907.0 67.0L907.5 66.2L908.0 65.4L908.4 64.5L908.9 63.6L909.4 62.7L909.9 61.9L910.4 61.0L910.9 60.2L911.4 59.4L911.8 58.8L912.3 58.2L912.8 57.7L913.3 57.4L913.8 57.3L914.3 57.3L914.8 57.5L915.2 57.8L915.7 58.3L916.2 58.9L916.7 59.7L917.2 60.6L917.7 61.5L918.2 62.6L918.6 63.7L919.1 64.8L919.6 65.9L920.1 67.1L920.6 68.2L921.1 69.3L921.5 70.4L922.0 71.4L922.5 72.4L923.0 73.4L923.5 74.3L924.0 75.2L924.5 76.1L924.9 76.9L925.4 77.6L925.9 78.3L926.4 79.0L926.9 79.6L927.4 80.2L927.9 80.8L928.3 81.3L928.8 81.8L929.3 82.3L929.8 82.8L930.3 83.2L930.8 83.6L931.3 84.0L931.7 84.3L932.2 84.7L932.7 85.0L933.2 85.3L933.7 85.6L934.2 85.8L934.6 86.1L935.1 86.3L935.6 86.6L936.1 86.8L936.6 87.0L937.1 87.2L937.6 87.4L938.0 87.5L938.5 87.7L939.0 87.9L939.5 88.0L940.0 88.2L940.5 88.3L941.0 88.4L941.4 88.6L941.9 88.7L942.4 88.8L942.9 88.9L943.4 89.0L943.9 89.1L944.4 89.2L944.8 89.3L945.3 89.4L945.8 89.5L946.3 89.6L946.8 89.7L947.3 89.8L947.7 89.8L948.2 89.9L948.7 90.0L949.2 90.0L949.7 90.1L950.2 90.2L950.7 90.2L951.1 90.3L951.6 90.3L952.1 90.4L952.6 90.4L953.1 90.5L953.6 90.5L954.1 90.6L954.5 90.6L955.0 90.7L955.5 90.7L956.0 90.8L956.5 90.8L957.0 90.8L957.5 90.9L957.9 90.9L958.4 91.0L958.9 91.0L959.4 91.0L959.9 91.1L960.4 91.1L960.8 91.1L961.3 91.1L961.8 91.2L962.3 91.2L962.8 91.2L963.3 91.3L963.8 91.3L964.2 91.3L964.7 91.3L965.2 91.4L965.7 91.4L966.2 91.4L966.7 91.4L967.2 91.4L967.6 91.5L968.1 91.5L968.6 91.5L969.1 91.5L969.6 91.5L970.1 91.6L970.6 91.6L971.0 91.6L971.5 91.6L972.0 91.6L972.5 91.7L973.0 91.7L973.5 91.7L974.0 91.7L974.4 91.7L974.9 91.7L975.4 91.7L975.9 91.8L976.4 91.8L976.9 91.8L977.3 91.8L977.8 91.8L978.3 91.8L978.8 91.8L979.3 91.8L979.8 91.9L980.3 91.9L980.7 91.9L981.2 91.9L981.7 91.9L982.2 91.9L982.7 91.9L983.2 91.9L983.7 91.9L984.1 92.0L984.6 92.0L985.1 92.0L985.6 92.0L986.1 92.0L986.6 92.0L987.1 92.0L987.5 92.0L988.0 92.0L988.5 92.0L989.0 92.0L989.5 92.1L990.0 92.1L990.4 92.1L990.9 92.1L991.4 92.1L991.9 92.1L992.4 92.1L992.9 92.1L993.4 92.1L993.8 92.1L994.3 92.1L994.8 92.1L995.3 92.1" stroke="#b8233f" stroke-width="1.3" fill="none"/>
<rect x="801.7" y="35.5" width="193.6" height="62.8" fill="none" stroke="#262626" stroke-width="1.2"/>
<path d="M810.5 98.3v-2.5M898.5 98.3v-2.5M986.5 98.3v-2.5M801.7 94.6h2.5M801.7 68.9h2.5M801.7 43.2h2.5" stroke="#262626" stroke-width="1" fill="none"/>
<text x="800.5" y="111.8" font-size="11.5">3.5</text>
<text x="898.5" y="111.8" font-size="11.5" text-anchor="middle">4.0</text>
<text x="994.5" y="111.8" font-size="11.5" text-anchor="end">4.5</text>
<text x="797.5" y="98.7" font-size="11.5" text-anchor="end">0</text>
<text x="797.5" y="73.0" font-size="11.5" text-anchor="end">1</text>
<text x="797.5" y="47.3" font-size="11.5" text-anchor="end">2</text>
<text x="885.3" y="124.3" font-size="13"><tspan font-style="italic">f</tspan><tspan font-size="11" dy="5">p</tspan><tspan dy="-5" dx="2"> (GHz)</tspan></text>
<text transform="translate(785.3,69.4) rotate(-90)" font-size="13.3" text-anchor="middle">|<tspan font-style="italic">ΔV</tspan>| (a.u.)</text>
<path d="M894.4 37.2v8.2M914.6 37.2v8.2M895 41.2h19" stroke="#1f78c0" stroke-width="1.1" fill="none"/>
<path d="M895 41.2l4.5-2.6v5.2zM914 41.2l-4.5-2.6v5.2z" fill="#1f78c0"/>
<text x="918.8" y="46.6" font-size="11.8">109 MHz</text>
<g shape-rendering="crispEdges">
<rect x="66.50" y="308.80" width="8.50" height="185.50" fill="url(#g199)"/>
<rect x="75.00" y="308.80" width="8.00" height="185.50" fill="url(#g200)"/>
<rect x="83.00" y="308.80" width="9.00" height="185.50" fill="url(#g201)"/>
<rect x="92.00" y="308.80" width="8.00" height="185.50" fill="url(#g202)"/>
<rect x="100.00" y="308.80" width="8.00" height="185.50" fill="url(#g203)"/>
<rect x="108.00" y="308.80" width="9.00" height="185.50" fill="url(#g204)"/>
<rect x="117.00" y="308.80" width="8.00" height="185.50" fill="url(#g205)"/>
<rect x="125.00" y="308.80" width="8.00" height="185.50" fill="url(#g206)"/>
<rect x="133.00" y="308.80" width="9.00" height="185.50" fill="url(#g207)"/>
<rect x="142.00" y="308.80" width="8.00" height="185.50" fill="url(#g208)"/>
<rect x="150.00" y="308.80" width="9.00" height="185.50" fill="url(#g209)"/>
<rect x="159.00" y="308.80" width="8.00" height="185.50" fill="url(#g210)"/>
<rect x="167.00" y="308.80" width="8.00" height="185.50" fill="url(#g211)"/>
<rect x="175.00" y="308.80" width="9.00" height="185.50" fill="url(#g212)"/>
<rect x="184.00" y="308.80" width="8.00" height="185.50" fill="url(#g213)"/>
<rect x="192.00" y="308.80" width="9.00" height="185.50" fill="url(#g214)"/>
<rect x="201.00" y="308.80" width="8.00" height="185.50" fill="url(#g215)"/>
<rect x="209.00" y="308.80" width="8.00" height="185.50" fill="url(#g216)"/>
<rect x="217.00" y="308.80" width="9.00" height="185.50" fill="url(#g217)"/>
<rect x="226.00" y="308.80" width="8.00" height="185.50" fill="url(#g218)"/>
<rect x="234.00" y="308.80" width="8.00" height="185.50" fill="url(#g219)"/>
<rect x="242.00" y="308.80" width="9.00" height="185.50" fill="url(#g220)"/>
<rect x="251.00" y="308.80" width="8.00" height="185.50" fill="url(#g221)"/>
<rect x="259.00" y="308.80" width="9.00" height="185.50" fill="url(#g222)"/>
<rect x="268.00" y="308.80" width="8.00" height="185.50" fill="url(#g223)"/>
<rect x="276.00" y="308.80" width="8.00" height="185.50" fill="url(#g224)"/>
<rect x="284.00" y="308.80" width="9.00" height="185.50" fill="url(#g225)"/>
<rect x="293.00" y="308.80" width="8.00" height="185.50" fill="url(#g226)"/>
<rect x="301.00" y="308.80" width="9.00" height="185.50" fill="url(#g227)"/>
<rect x="310.00" y="308.80" width="8.00" height="185.50" fill="url(#g228)"/>
<rect x="318.00" y="308.80" width="8.00" height="185.50" fill="url(#g229)"/>
<rect x="326.00" y="308.80" width="9.00" height="185.50" fill="url(#g230)"/>
<rect x="335.00" y="308.80" width="8.00" height="185.50" fill="url(#g231)"/>
<rect x="343.00" y="308.80" width="9.00" height="185.50" fill="url(#g232)"/>
<rect x="352.00" y="308.80" width="8.00" height="185.50" fill="url(#g233)"/>
<rect x="360.00" y="308.80" width="8.00" height="185.50" fill="url(#g234)"/>
<rect x="368.00" y="308.80" width="9.00" height="185.50" fill="url(#g235)"/>
<rect x="377.00" y="308.80" width="8.00" height="185.50" fill="url(#g236)"/>
<rect x="385.00" y="308.80" width="8.00" height="185.50" fill="url(#g237)"/>
<rect x="393.00" y="308.80" width="9.00" height="185.50" fill="url(#g238)"/>
<rect x="402.00" y="308.80" width="8.00" height="185.50" fill="url(#g239)"/>
<rect x="410.00" y="308.80" width="8.50" height="185.50" fill="url(#g240)"/>
</g>
<g shape-rendering="crispEdges">
<rect x="500.50" y="308.80" width="7.50" height="185.50" fill="url(#g241)"/>
<rect x="508.00" y="308.80" width="8.00" height="185.50" fill="url(#g242)"/>
<rect x="516.00" y="308.80" width="9.00" height="185.50" fill="url(#g243)"/>
<rect x="525.00" y="308.80" width="10.00" height="185.50" fill="url(#g244)"/>
<rect x="535.00" y="308.80" width="10.00" height="185.50" fill="url(#g245)"/>
<rect x="545.00" y="308.80" width="9.00" height="185.50" fill="url(#g246)"/>
<rect x="554.00" y="308.80" width="10.00" height="185.50" fill="url(#g247)"/>
<rect x="564.00" y="308.80" width="9.00" height="185.50" fill="url(#g248)"/>
<rect x="573.00" y="308.80" width="11.00" height="185.50" fill="url(#g249)"/>
<rect x="584.00" y="308.80" width="9.00" height="185.50" fill="url(#g250)"/>
<rect x="593.00" y="308.80" width="11.00" height="185.50" fill="url(#g251)"/>
<rect x="604.00" y="308.80" width="8.00" height="185.50" fill="url(#g252)"/>
<rect x="612.00" y="308.80" width="9.00" height="185.50" fill="url(#g253)"/>
<rect x="621.00" y="308.80" width="11.00" height="185.50" fill="url(#g254)"/>
<rect x="632.00" y="308.80" width="6.00" height="185.50" fill="url(#g255)"/>
<rect x="638.00" y="308.80" width="8.00" height="185.50" fill="url(#g256)"/>
<rect x="646.00" y="308.80" width="7.00" height="185.50" fill="url(#g257)"/>
<rect x="653.00" y="308.80" width="7.00" height="185.50" fill="url(#g258)"/>
<rect x="660.00" y="308.80" width="8.00" height="185.50" fill="url(#g259)"/>
<rect x="668.00" y="308.80" width="8.00" height="185.50" fill="url(#g260)"/>
<rect x="676.00" y="308.80" width="7.00" height="185.50" fill="url(#g261)"/>
<rect x="683.00" y="308.80" width="8.00" height="185.50" fill="url(#g262)"/>
<rect x="691.00" y="308.80" width="9.30" height="185.50" fill="url(#g263)"/>
</g>
<g clip-path="url(#cc)" fill="none">
<path d="M66.5 401.6H418.5" stroke="#77ac30" stroke-width="1.2"/>
<path d="M70.3 462.5L78.4 460.7L100.0 445.5L130.0 424.5L160.0 403.0L196.0 376.0L205.2 404.8L229.9 393.6L238.6 419.2L246.6 410.6L280.0 386.3L329.8 349.7L338.8 339.4L347.0 379.3L414.1 341.2" stroke="#ff00ff" stroke-width="1.3" stroke-linejoin="round"/>
<path d="M66.5 494.3L69.2 493.0L87.8 484.0L111.7 473.1L149.0 459.8L194.1 443.9L204.8 456.0L229.9 451.9L239.4 464.7L290.0 447.0L338.4 432.5L349.0 445.2L418.3 431.9" stroke="#0000ff" stroke-width="1.4" stroke-dasharray="4.4 3"/>
<path d="M66.5 369.6L99.8 362.4L133.5 354.4L167.3 344.3L196.4 333.0L204.7 348.6L229.4 342.5L238.0 354.6L300.0 330.2L331.1 316.3L338.8 309.8L347.8 334.3L380.0 322.0L418.5 308.5" stroke="#000" stroke-width="1.4" stroke-dasharray="4.4 3"/>
</g>
<g clip-path="url(#cd)" fill="none">
<path d="M500.5 401.6H700.3" stroke="#77ac30" stroke-width="1.2"/>
<path d="M500.5 462.5L700.3 340.6" stroke="#ff00ff" stroke-width="1.3" stroke-linejoin="round"/>
<path d="M503.0 494.0L520.0 485.0L549.0 472.5L575.0 463.0L601.0 455.0L625.0 449.0L650.4 444.0L675.0 438.0L700.3 432.3" stroke="#0000ff" stroke-width="1.4" stroke-dasharray="4.4 3"/>
<path d="M500.5 370.0L520.0 367.0L546.0 362.2L570.0 356.0L592.4 348.3L612.0 343.0L633.0 337.3L650.0 331.5L662.0 326.6L680.0 319.0L700.3 310.0" stroke="#000" stroke-width="1.4" stroke-dasharray="4.4 3"/>
</g>
<g clip-path="url(#ce)" fill="none">
<path d="M780.5 470.5H872" stroke="#0072bd" stroke-width="1" stroke-dasharray="2.2 1.8"/>
<path d="" stroke="#0072bd" stroke-width="1.25"/>
<circle cx="788.7" cy="340.3" r="5.6" stroke="#0072bd" stroke-width="1.1"/>
<circle cx="792.2" cy="340.7" r="5.6" stroke="#0072bd" stroke-width="1.1"/>
<circle cx="803.6" cy="378.2" r="5.6" stroke="#0072bd" stroke-width="1.1"/>
<circle cx="812.9" cy="396.5" r="5.6" stroke="#0072bd" stroke-width="1.1"/>
<circle cx="821.7" cy="408.6" r="5.6" stroke="#0072bd" stroke-width="1.1"/>
<circle cx="832.7" cy="437.1" r="5.6" stroke="#0072bd" stroke-width="1.1"/>
<circle cx="841.0" cy="440.4" r="5.6" stroke="#0072bd" stroke-width="1.1"/>
<circle cx="849.2" cy="445.9" r="5.6" stroke="#0072bd" stroke-width="1.1"/>
<circle cx="858.6" cy="447.6" r="5.6" stroke="#0072bd" stroke-width="1.1"/>
<circle cx="854.7" cy="451.4" r="5.6" stroke="#0072bd" stroke-width="1.1"/>
<circle cx="868.5" cy="457.5" r="5.6" stroke="#0072bd" stroke-width="1.1"/>
<circle cx="868.5" cy="461.3" r="5.6" stroke="#0072bd" stroke-width="1.1"/>
<circle cx="872.4" cy="463.0" r="5.6" stroke="#0072bd" stroke-width="1.1"/>
<circle cx="876.2" cy="461.3" r="5.6" stroke="#0072bd" stroke-width="1.1"/>
<circle cx="876.8" cy="466.9" r="5.6" stroke="#0072bd" stroke-width="1.1"/>
<circle cx="877.3" cy="470.2" r="5.6" stroke="#0072bd" stroke-width="1.1"/>
<circle cx="881.7" cy="464.6" r="5.6" stroke="#0072bd" stroke-width="1.1"/>
<circle cx="885.0" cy="467.4" r="5.6" stroke="#0072bd" stroke-width="1.1"/>
<circle cx="885.0" cy="471.3" r="5.6" stroke="#0072bd" stroke-width="1.1"/>
<circle cx="888.9" cy="468.5" r="5.6" stroke="#0072bd" stroke-width="1.1"/>
<circle cx="892.2" cy="464.6" r="5.6" stroke="#0072bd" stroke-width="1.1"/>
<circle cx="895.5" cy="459.1" r="5.6" stroke="#0072bd" stroke-width="1.1"/>
<circle cx="895.5" cy="469.0" r="5.6" stroke="#0072bd" stroke-width="1.1"/>
<circle cx="896.6" cy="463.5" r="5.6" stroke="#0072bd" stroke-width="1.1"/>
<circle cx="905.4" cy="459.1" r="5.6" stroke="#0072bd" stroke-width="1.1"/>
<circle cx="904.8" cy="471.3" r="5.6" stroke="#0072bd" stroke-width="1.1"/>
<circle cx="906.2" cy="457.7" r="5.6" stroke="#0072bd" stroke-width="1.1"/>
<circle cx="915.3" cy="467.4" r="5.6" stroke="#0072bd" stroke-width="1.1"/>
<circle cx="916.4" cy="455.8" r="5.6" stroke="#0072bd" stroke-width="1.1"/>
<circle cx="918.6" cy="452.5" r="5.6" stroke="#0072bd" stroke-width="1.1"/>
<circle cx="919.7" cy="461.3" r="5.6" stroke="#0072bd" stroke-width="1.1"/>
<circle cx="924.1" cy="448.1" r="5.6" stroke="#0072bd" stroke-width="1.1"/>
<circle cx="927.0" cy="435.0" r="5.6" stroke="#0072bd" stroke-width="1.1"/>
<circle cx="932.9" cy="431.6" r="5.6" stroke="#0072bd" stroke-width="1.1"/>
<circle cx="934.4" cy="441.0" r="5.6" stroke="#0072bd" stroke-width="1.1"/>
<circle cx="934.8" cy="432.6" r="5.6" stroke="#0072bd" stroke-width="1.1"/>
<circle cx="942.5" cy="421.9" r="5.6" stroke="#0072bd" stroke-width="1.1"/>
<circle cx="944.4" cy="437.4" r="5.6" stroke="#0072bd" stroke-width="1.1"/>
<circle cx="949.2" cy="412.3" r="5.6" stroke="#0072bd" stroke-width="1.1"/>
<circle cx="955.6" cy="414.7" r="5.6" stroke="#0072bd" stroke-width="1.1"/>
<circle cx="956.3" cy="402.1" r="5.6" stroke="#0072bd" stroke-width="1.1"/>
<circle cx="963.0" cy="386.6" r="5.6" stroke="#0072bd" stroke-width="1.1"/>
<circle cx="963.5" cy="398.7" r="5.6" stroke="#0072bd" stroke-width="1.1"/>
<circle cx="970.6" cy="368.2" r="5.6" stroke="#0072bd" stroke-width="1.1"/>
<circle cx="977.8" cy="352.7" r="5.6" stroke="#0072bd" stroke-width="1.1"/>
<circle cx="980.2" cy="346.2" r="5.6" stroke="#0072bd" stroke-width="1.1"/>
<path d="M780.5 308.9L781.6 311.9L782.7 314.8L783.7 317.8L784.8 320.7L785.9 323.6L787.0 326.5L788.1 329.4L789.1 332.2L790.2 335.1L791.3 337.8L792.4 340.6L793.5 343.4L794.5 346.1L795.6 348.8L796.7 351.5L797.8 354.1L798.8 356.7L799.9 359.4L801.0 361.9L802.1 364.5L803.2 367.0L804.2 369.5L805.3 372.0L806.4 374.4L807.5 376.9L808.6 379.3L809.6 381.6L810.7 384.0L811.8 386.3L812.9 388.6L814.0 390.8L815.0 393.1L816.1 395.3L817.2 397.5L818.3 399.6L819.4 401.7L820.4 403.8L821.5 405.9L822.6 407.9L823.7 409.9L824.8 411.9L825.8 413.9L826.9 415.8L828.0 417.7L829.1 419.5L830.2 421.4L831.2 423.2L832.3 424.9L833.4 426.7L834.5 428.4L835.5 430.1L836.6 431.7L837.7 433.3L838.8 434.9L839.9 436.5L840.9 438.0L842.0 439.5L843.1 440.9L844.2 442.3L845.3 443.7L846.3 445.1L847.4 446.4L848.5 447.7L849.6 449.0L850.7 450.2L851.7 451.4L852.8 452.6L853.9 453.7L855.0 454.8L856.1 455.8L857.1 456.8L858.2 457.8L859.3 458.8L860.4 459.7L861.5 460.6L862.5 461.5L863.6 462.3L864.7 463.1L865.8 463.8L866.9 464.5L867.9 465.2L869.0 465.8L870.1 466.4L871.2 467.0L872.2 467.6L873.3 468.1L874.4 468.5L875.5 469.0L876.6 469.4L877.6 469.7L878.7 470.0L879.8 470.3L880.9 470.6L882.0 470.8L883.0 471.0L884.1 471.1L885.2 471.2L886.3 471.3L887.4 471.4L888.4 471.4L889.5 471.3L890.6 471.3L891.7 471.2L892.8 471.0L893.8 470.8L894.9 470.6L896.0 470.4L897.1 470.1L898.2 469.8L899.2 469.4L900.3 469.0L901.4 468.6L902.5 468.2L903.6 467.7L904.6 467.1L905.7 466.6L906.8 466.0L907.9 465.3L908.9 464.6L910.0 463.9L911.1 463.2L912.2 462.4L913.3 461.6L914.3 460.8L915.4 459.9L916.5 459.0L917.6 458.0L918.7 457.0L919.7 456.0L920.8 455.0L921.9 453.9L923.0 452.8L924.1 451.6L925.1 450.4L926.2 449.2L927.3 448.0L928.4 446.7L929.5 445.3L930.5 444.0L931.6 442.6L932.7 441.2L933.8 439.7L934.9 438.3L935.9 436.7L937.0 435.2L938.1 433.6L939.2 432.0L940.3 430.4L941.3 428.7L942.4 427.0L943.5 425.3L944.6 423.5L945.6 421.7L946.7 419.9L947.8 418.0L948.9 416.1L950.0 414.2L951.0 412.3L952.1 410.3L953.2 408.3L954.3 406.3L955.4 404.2L956.4 402.1L957.5 400.0L958.6 397.9L959.7 395.7L960.8 393.5L961.8 391.3L962.9 389.0L964.0 386.7L965.1 384.4L966.2 382.1L967.2 379.7L968.3 377.3L969.4 374.9L970.5 372.4L971.6 370.0L972.6 367.5L973.7 365.0L974.8 362.4L975.9 359.8L977.0 357.2L978.0 354.6L979.1 352.0L980.2 349.3L981.3 346.6L982.3 343.9L983.4 341.1L984.5 338.4L985.6 335.6L986.7 332.8L987.7 329.9L988.8 327.1L989.9 324.2L991.0 321.3L992.1 318.3L993.1 315.4L994.2 312.4L995.3 309.4" stroke="#a2142f" stroke-width="1.3"/>
</g>
<text x="781.5" y="486.8" font-size="12.2"><tspan font-style="italic">g</tspan>/<tspan font-style="italic">π</tspan> = 174.6 MHz</text>
<rect x="358.1" y="19.4" width="137.4" height="10.2" fill="url(#cbg358)" stroke="#262626" stroke-width="1"/>
<path d="M416 19.4v2.2M485.6 19.4v2.2" stroke="#262626" stroke-width="1"/>
<text x="416" y="12.3" font-size="15.5" text-anchor="middle">10</text>
<text x="485.6" y="12.3" font-size="15.5" text-anchor="middle">20</text>
<text x="279.2" y="24.9" font-size="15.8"><tspan font-weight="bold">|</tspan><tspan font-style="italic">V</tspan>| (a.u.)</text>
<rect x="858.4" y="19.4" width="136.8" height="10.2" fill="url(#cbg858)" stroke="#262626" stroke-width="1"/>
<text x="857.5" y="12.3" font-size="15.5" text-anchor="middle">0</text>
<text x="979.2" y="12.3" font-size="15.5" text-anchor="middle">5</text>
<text x="771.7" y="24.6" font-size="15.8">|<tspan font-style="italic">ΔV</tspan>| (a.u.)</text>
<rect x="281.2" y="292.7" width="137.3" height="10.1" fill="url(#cbg281)" stroke="#262626" stroke-width="1"/>
<path d="M294.4 292.7v2M347.9 292.7v2M401.2 292.7v2" stroke="#262626" stroke-width="1"/>
<text x="294.4" y="284.4" font-size="15.5" text-anchor="middle">18</text>
<text x="347.9" y="284.4" font-size="15.5" text-anchor="middle">19</text>
<text x="401.2" y="284.4" font-size="15.5" text-anchor="middle">20</text>
<text x="202" y="297.6" font-size="15.8">|<tspan font-style="italic">V</tspan>| (a.u.)</text>
<rect x="597.5" y="293.1" width="104.1" height="10.3" fill="url(#cbg597)" stroke="#262626" stroke-width="1"/>
<path d="M606.4 293.1v2M647.9 293.1v2M687.1 293.1v2" stroke="#262626" stroke-width="1"/>
<text x="606.4" y="284.4" font-size="15.5" text-anchor="middle">18</text>
<text x="647.9" y="284.4" font-size="15.5" text-anchor="middle">19</text>
<text x="687.1" y="284.4" font-size="15.5" text-anchor="middle">20</text>
<text x="517.7" y="298.2" font-size="15.8">|<tspan font-style="italic">V</tspan>| (a.u.)</text>
<rect x="67.5" y="35.5" width="428" height="172.7" fill="none" stroke="#262626" stroke-width="1.3"/>
<path d="M128.6 208.2v-4M128.6 35.5v4M250.9 208.2v-4M250.9 35.5v4M373.2 208.2v-4M373.2 35.5v4" stroke="#262626" stroke-width="1.1" fill="none"/>
<text class="t" transform="translate(128.6,226.6) scale(0.92,1)" font-size="16.8" text-anchor="middle" >-3</text>
<text class="t" transform="translate(250.9,226.6) scale(0.92,1)" font-size="16.8" text-anchor="middle" >-2</text>
<text class="t" transform="translate(373.2,226.6) scale(0.92,1)" font-size="16.8" text-anchor="middle" >-1</text>
<text class="t" transform="translate(495.5,226.6) scale(0.92,1)" font-size="16.8" text-anchor="middle" >0</text>
<text class="t" transform="translate(61.8,41.3) scale(0.92,1)" font-size="16.8" text-anchor="end" >6.86</text>
<text class="t" transform="translate(61.8,213.9) scale(0.92,1)" font-size="16.8" text-anchor="end" >6.85</text>
<text x="1.3" y="17.9" font-size="19" text-anchor="start" >(a)</text>
<text x="258.3" y="248.8" font-size="17.5"><tspan font-style="italic">V</tspan><tspan font-size="14.2" dy="7.2">g</tspan><tspan dy="-7.2"> (V)</tspan></text>
<text transform="translate(17.0,123.3) rotate(-90)" font-size="17.6" text-anchor="middle"><tspan font-style="italic">f</tspan><tspan font-size="14.2" dy="7.6">ro</tspan><tspan dy="-7.6"> (GHz)</tspan></text>
<rect x="567.3" y="35.5" width="428" height="172.7" fill="none" stroke="#262626" stroke-width="1.3"/>
<path d="M628.4 208.2v-4M628.4 35.5v4M750.7 208.2v-4M750.7 35.5v4M873 208.2v-4M873 35.5v4" stroke="#262626" stroke-width="1.1" fill="none"/>
<path d="M567.3 155.7h4M995.3 155.7h-4" stroke="#262626" stroke-width="1.1" fill="none"/>
<path d="M567.3 103.4h4M567.3 51.1h4" stroke="#262626" stroke-width="1.1"/>
<text class="t" transform="translate(628.4,226.6) scale(0.92,1)" font-size="16.8" text-anchor="middle" >-3</text>
<text class="t" transform="translate(750.7,226.6) scale(0.92,1)" font-size="16.8" text-anchor="middle" >-2</text>
<text class="t" transform="translate(873,226.6) scale(0.92,1)" font-size="16.8" text-anchor="middle" >-1</text>
<text class="t" transform="translate(995.3,226.6) scale(0.92,1)" font-size="16.8" text-anchor="middle" >0</text>
<text class="t" transform="translate(562.3,213.6) scale(0.92,1)" font-size="16.8" text-anchor="end" >3.0</text>
<text class="t" transform="translate(562.3,161.3) scale(0.92,1)" font-size="16.8" text-anchor="end" >4.0</text>
<text class="t" transform="translate(562.3,109) scale(0.92,1)" font-size="16.8" text-anchor="end" >5.0</text>
<text class="t" transform="translate(562.3,56.7) scale(0.92,1)" font-size="16.8" text-anchor="end" >6.0</text>
<text x="508.9" y="17.9" font-size="19" text-anchor="start" >(b)</text>
<text x="758.8" y="248.6" font-size="17.5"><tspan font-style="italic">V</tspan><tspan font-size="14.2" dy="7.2">g</tspan><tspan dy="-7.2"> (V)</tspan></text>
<text transform="translate(525.4,122.2) rotate(-90)" font-size="17.6" text-anchor="middle"><tspan font-style="italic">f</tspan><tspan font-size="14.2" dy="7.6">p</tspan><tspan dy="-7.6"> (GHz)</tspan></text>
<rect x="66.5" y="308.8" width="352" height="185.5" fill="none" stroke="#262626" stroke-width="1.3"/>
<path d="M95.7 494.3v-3M95.7 308.8v3M179.6 494.3v-3M179.6 308.8v3M263.4 494.3v-3M263.4 308.8v3M347.3 494.3v-3M347.3 308.8v3" stroke="#262626" stroke-width="1.1" fill="none"/>
<path d="M66.5 432.5h3M418.5 432.5h-3M66.5 370.6h3M418.5 370.6h-3" stroke="#262626" stroke-width="1.1" fill="none"/>
<text class="t" transform="translate(95.7,513.2) scale(0.92,1)" font-size="16.8" text-anchor="middle" >-4.6</text>
<text class="t" transform="translate(179.6,513.2) scale(0.92,1)" font-size="16.8" text-anchor="middle" >-4.7</text>
<text class="t" transform="translate(263.4,513.2) scale(0.92,1)" font-size="16.8" text-anchor="middle" >-4.8</text>
<text class="t" transform="translate(347.3,513.2) scale(0.92,1)" font-size="16.8" text-anchor="middle" >-4.9</text>
<text class="t" transform="translate(61.5,499.9) scale(0.92,1)" font-size="16.8" text-anchor="end" >6.7</text>
<text class="t" transform="translate(61.5,438.1) scale(0.92,1)" font-size="16.8" text-anchor="end" >6.8</text>
<text class="t" transform="translate(61.5,376.2) scale(0.92,1)" font-size="16.8" text-anchor="end" >6.9</text>
<text class="t" transform="translate(61.5,314.4) scale(0.92,1)" font-size="16.8" text-anchor="end" >7.0</text>
<text x="2.5" y="294" font-size="19" text-anchor="start" >(c)</text>
<text x="219.2" y="534.5" font-size="17.5"><tspan font-style="italic">V</tspan><tspan font-size="14.2" dy="7.2">g</tspan><tspan dy="-7.2"> (V)</tspan></text>
<text transform="translate(17.2,401.5) rotate(-90)" font-size="17.6" text-anchor="middle"><tspan font-style="italic">f</tspan><tspan font-size="14.2" dy="7.6">ro</tspan><tspan dy="-7.6"> (GHz)</tspan></text>
<rect x="500.5" y="308.8" width="199.8" height="185.5" fill="none" stroke="#262626" stroke-width="1.3"/>
<path d="M550.4 494.3v-3M550.4 308.8v3M650.4 494.3v-3M650.4 308.8v3" stroke="#262626" stroke-width="1.1" fill="none"/>
<path d="M500.5 432.5h3M700.3 432.5h-3M500.5 370.6h3M700.3 370.6h-3" stroke="#262626" stroke-width="1.1" fill="none"/>
<text class="t" transform="translate(550.4,513.8) scale(0.92,1)" font-size="16.8" text-anchor="middle" >6.8</text>
<text class="t" transform="translate(650.4,513.8) scale(0.92,1)" font-size="16.8" text-anchor="middle" >6.9</text>
<text class="t" transform="translate(495,499.9) scale(0.92,1)" font-size="16.8" text-anchor="end" >6.7</text>
<text class="t" transform="translate(495,438.1) scale(0.92,1)" font-size="16.8" text-anchor="end" >6.8</text>
<text class="t" transform="translate(495,376.2) scale(0.92,1)" font-size="16.8" text-anchor="end" >6.9</text>
<text class="t" transform="translate(495,314.4) scale(0.92,1)" font-size="16.8" text-anchor="end" >7.0</text>
<text x="439.5" y="294.8" font-size="19" text-anchor="start" >(d)</text>
<text x="573.2" y="534.6" font-size="17.5"><tspan font-style="italic">f</tspan><tspan font-size="14.2" dy="7.2">q</tspan><tspan dy="-7.2"> (GHz)</tspan></text>
<text transform="translate(454.1,403.3) rotate(-90)" font-size="17.6" text-anchor="middle"><tspan font-style="italic">f</tspan><tspan font-size="14.2" dy="7.6">ro</tspan><tspan dy="-7.6"> (GHz)</tspan></text>
<rect x="780.5" y="308.6" width="214.8" height="185.9" fill="none" stroke="#262626" stroke-width="1.3"/>
<path d="M835.6 494.5v-3M835.6 308.6v3M932.3 494.5v-3M932.3 308.6v3" stroke="#262626" stroke-width="1.1" fill="none"/>
<path d="M780.5 444.2h3M995.3 444.2h-3M780.5 393.9h3M995.3 393.9h-3M780.5 343.6h3M995.3 343.6h-3" stroke="#262626" stroke-width="1.1" fill="none"/>
<text class="t" transform="translate(835.6,513.2) scale(0.92,1)" font-size="16.8" text-anchor="middle" >6.8</text>
<text class="t" transform="translate(932.3,513.2) scale(0.92,1)" font-size="16.8" text-anchor="middle" >6.9</text>
<text class="t" transform="translate(776,500.1) scale(0.92,1)" font-size="16.8" text-anchor="end" >170</text>
<text class="t" transform="translate(776,449.8) scale(0.92,1)" font-size="16.8" text-anchor="end" >180</text>
<text class="t" transform="translate(776,399.5) scale(0.92,1)" font-size="16.8" text-anchor="end" >190</text>
<text class="t" transform="translate(776,349.2) scale(0.92,1)" font-size="16.8" text-anchor="end" >200</text>
<text x="725" y="294.8" font-size="19" text-anchor="start" >(e)</text>
<text x="854.2" y="534.2" font-size="17.5"><tspan font-style="italic">f</tspan><tspan font-size="14.2" dy="7.2">q</tspan><tspan dy="-7.2"> (GHz)</tspan></text>
<text transform="translate(737.0,399.8) rotate(-90)" font-size="17.6" text-anchor="middle"><tspan font-family="Liberation Serif" font-style="italic" font-size="16">δ</tspan> (MHz)</text></svg></body></html>
